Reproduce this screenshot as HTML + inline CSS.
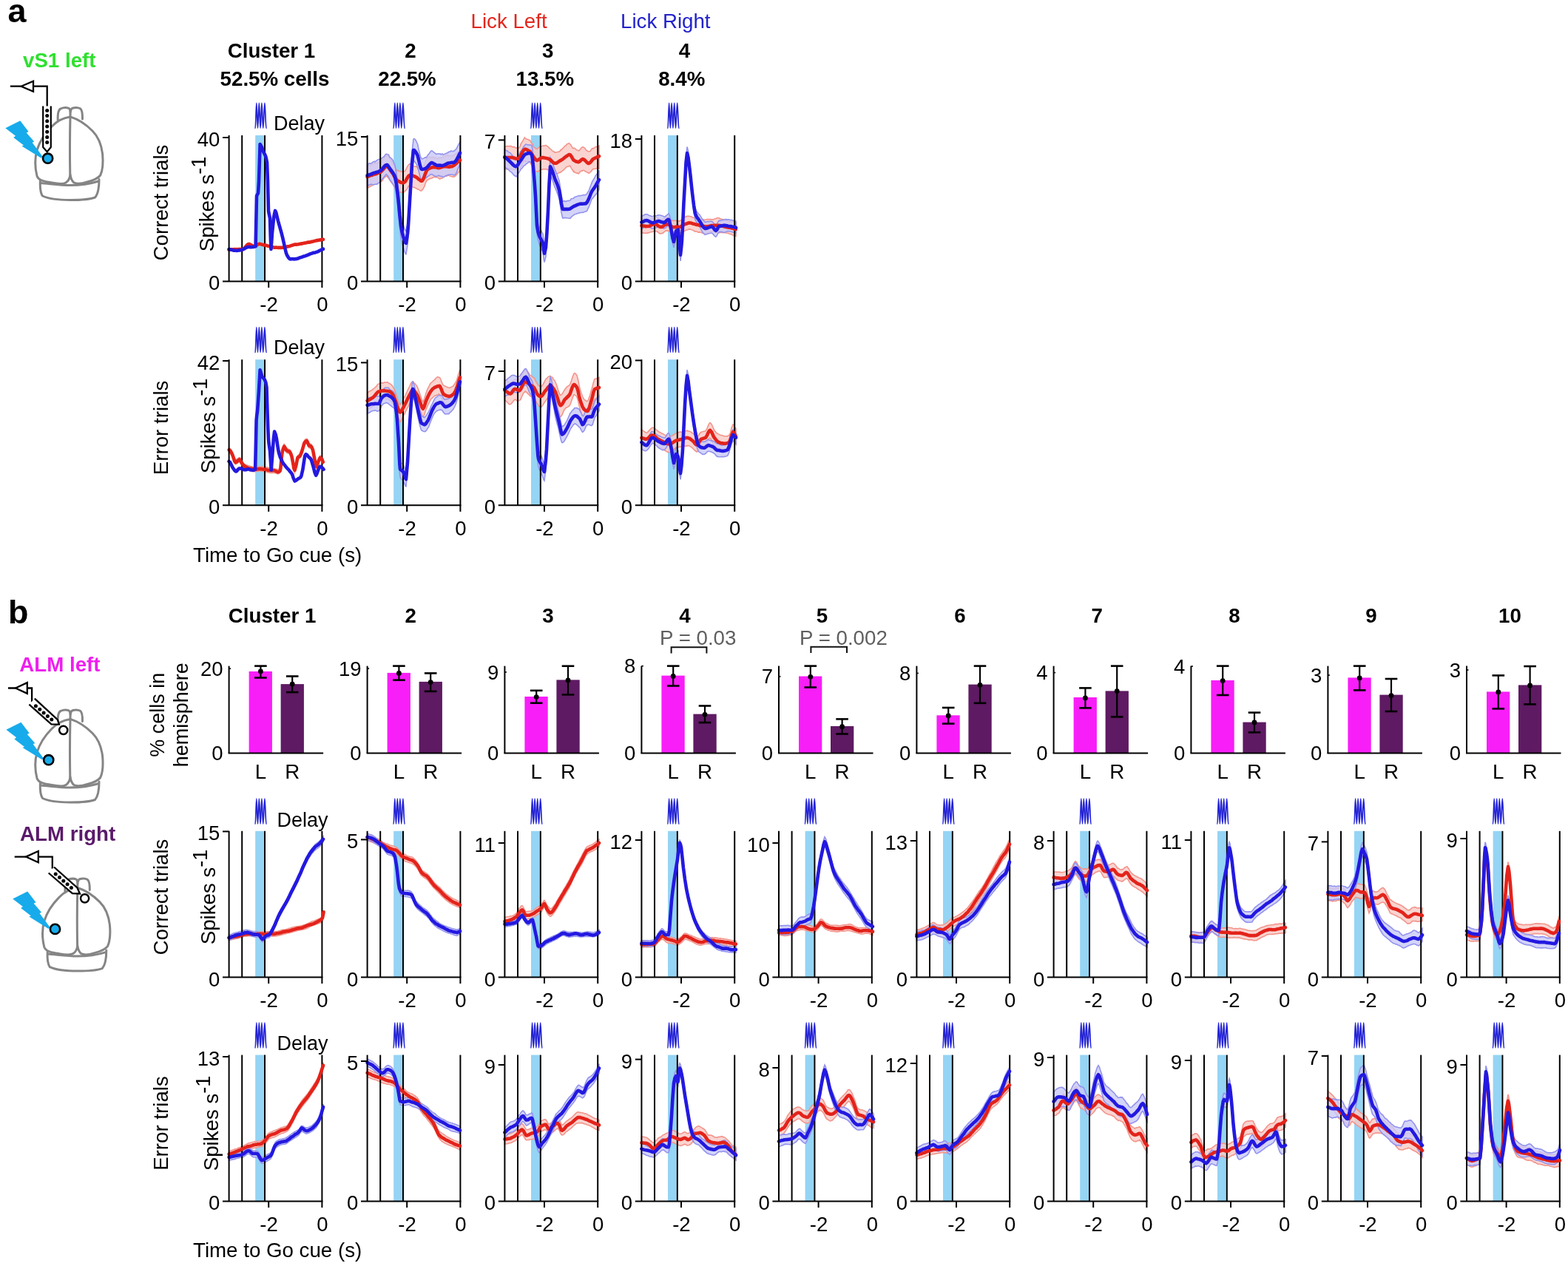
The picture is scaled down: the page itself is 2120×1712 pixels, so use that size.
<!DOCTYPE html>
<html><head><meta charset="utf-8"><title>Figure</title><style>html,body{margin:0;padding:0;background:#fff;}svg{display:block;}</style></head><body>
<svg width="2120" height="1712" viewBox="0 0 2120 1712" font-family='"Liberation Sans", Arial, Helvetica, sans-serif'>
<rect width="2120" height="1712" fill="#fff"/>
<text x="10.50" y="30.30" font-size="45" text-anchor="start" font-weight="bold" fill="#000" >a</text>
<text x="11.00" y="843.00" font-size="45" text-anchor="start" font-weight="bold" fill="#000" >b</text>
<text x="636.50" y="38.00" font-size="27.7" text-anchor="start" font-weight="normal" fill="#e2261c" >Lick Left</text>
<text x="839.00" y="38.00" font-size="27.7" text-anchor="start" font-weight="normal" fill="#2222cc" >Lick Right</text>
<text x="367.00" y="77.60" font-size="27.7" text-anchor="middle" font-weight="bold" fill="#000" >Cluster 1</text>
<text x="371.50" y="116.00" font-size="27.7" text-anchor="middle" font-weight="bold" fill="#000" >52.5% cells</text>
<text x="555.00" y="77.60" font-size="27.7" text-anchor="middle" font-weight="bold" fill="#000" >2</text>
<text x="550.50" y="116.00" font-size="27.7" text-anchor="middle" font-weight="bold" fill="#000" >22.5%</text>
<text x="740.60" y="77.60" font-size="27.7" text-anchor="middle" font-weight="bold" fill="#000" >3</text>
<text x="736.80" y="116.00" font-size="27.7" text-anchor="middle" font-weight="bold" fill="#000" >13.5%</text>
<text x="925.50" y="77.60" font-size="27.7" text-anchor="middle" font-weight="bold" fill="#000" >4</text>
<text x="921.70" y="116.00" font-size="27.7" text-anchor="middle" font-weight="bold" fill="#000" >8.4%</text>
<text x="368.10" y="842.00" font-size="27.7" text-anchor="middle" font-weight="bold" fill="#000" >Cluster 1</text>
<text x="555.10" y="842.00" font-size="27.7" text-anchor="middle" font-weight="bold" fill="#000" >2</text>
<text x="740.90" y="842.00" font-size="27.7" text-anchor="middle" font-weight="bold" fill="#000" >3</text>
<text x="925.90" y="842.00" font-size="27.7" text-anchor="middle" font-weight="bold" fill="#000" >4</text>
<text x="1111.50" y="842.00" font-size="27.7" text-anchor="middle" font-weight="bold" fill="#000" >5</text>
<text x="1297.90" y="842.00" font-size="27.7" text-anchor="middle" font-weight="bold" fill="#000" >6</text>
<text x="1483.10" y="842.00" font-size="27.7" text-anchor="middle" font-weight="bold" fill="#000" >7</text>
<text x="1668.90" y="842.00" font-size="27.7" text-anchor="middle" font-weight="bold" fill="#000" >8</text>
<text x="1853.90" y="842.00" font-size="27.7" text-anchor="middle" font-weight="bold" fill="#000" >9</text>
<text x="2041.50" y="842.00" font-size="27.7" text-anchor="middle" font-weight="bold" fill="#000" >10</text>
<text x="892.00" y="872.40" font-size="27.7" text-anchor="start" font-weight="normal" fill="#5f5f5f" >P = 0.03</text>
<path d="M907.6,883.4 L907.6,875.3 L955.4,875.3 L955.4,883.4" fill="none" stroke="#111" stroke-width="2"/>
<text x="1081.00" y="872.40" font-size="27.7" text-anchor="start" font-weight="normal" fill="#5f5f5f" >P = 0.002</text>
<path d="M1096.4,882.9 L1096.4,874.8 L1145.0,874.8 L1145.0,882.9" fill="none" stroke="#111" stroke-width="2"/>
<rect x="345.20" y="183.00" width="11.8" height="197.40" fill="#95d4f4"/>
<path d="M309.6,335.4 311.1,335.4 312.6,335.5 314.1,335.4 315.7,335.3 317.2,335.2 318.7,335.1 320.2,334.9 321.7,334.8 323.2,334.6 324.8,334.5 326.3,334.7 328,334.8 329.3,334.5 330.8,333 332.4,331.2 333.9,329.3 335.4,328.1 336,327.7 336.9,328 338.4,328.6 339.9,329.2 341.4,330 343,330.7 344,330.8 346,329.9 347.5,329.1 349,328.3 350,328 350.6,327.9 352.1,328.2 353.6,328.4 355.1,328.9 356,329.2 356.6,329.5 358.1,329.6 359.6,329.9 361.2,330.1 362.7,330.3 364,330.7 365.7,331.4 367.2,332 368.8,332.5 370.3,333 371.8,333.1 373.3,333.3 374,333.3 374.8,333.3 376.3,333.3 377.9,333.4 379.4,333.3 380.9,333.3 382,333.4 383.9,333.2 385.4,332.7 386.9,332.2 388.5,331.7 390,331.1 391.5,330.6 393,330.2 394.5,329.7 396.1,329.3 397.6,329.1 399.1,328.7 400,328.6 400.6,328.5 402.1,328.4 403.6,328.2 405.1,328.2 406.7,328 408.2,327.8 410,327.2 411.2,326.8 412.7,326.4 414.2,325.9 415.8,325.4 417.3,325.2 418.8,324.9 420,324.5 421.8,324.2 423.4,324.2 424.9,324 426.4,323.8 427.9,323.5 429.4,323.3 430,323.1 430.9,323 432.4,322.7 434,322.6 435.5,322.4 437,322.2 437,326.3 435.5,326.3 434,326.5 432.4,326.7 430.9,326.9 430,327.2 429.4,327.3 427.9,327.7 426.4,327.8 424.9,328.1 423.4,328.3 421.8,328.8 420,329.3 418.8,329.6 417.3,329.9 415.8,330 414.2,330.2 412.7,330.5 411.2,330.7 410,330.9 408.2,331.4 406.7,331.6 405.1,331.7 403.6,331.9 402.1,332.2 400.6,332.5 400,332.5 399.1,332.8 397.6,333 396.1,333.4 394.5,333.8 393,334.2 391.5,334.6 390,335 388.5,335.4 386.9,335.6 385.4,336.2 383.9,336.5 382,336.8 380.9,337 379.4,337.1 377.9,337 376.3,337.1 374.8,337 374,336.8 373.3,337 371.8,337 370.3,336.8 368.8,336.7 367.2,336.2 365.7,335.7 364,335.1 362.7,334.6 361.2,334 359.6,333.9 358.1,333.3 356.6,333 356,332.8 355.1,332.7 353.6,332.3 352.1,332.2 350.6,332.1 350,332.2 349,332.5 347.5,333.5 346,334.5 344,335.2 343,335.1 341.4,334.5 339.9,333.5 338.4,332.6 336.9,332.2 336,332.1 335.4,332.1 333.9,333.1 332.4,335 330.8,337 329.3,338.5 328,339.1 326.3,339.3 324.8,339.4 323.2,339.2 321.7,339.2 320.2,339.3 318.7,339.2 317.2,339.1 315.7,339.4 314.1,339.4 312.6,339.4 311.1,339.5 309.6,339.6Z" fill="#f9c9c4" fill-opacity="0.8"/>
<path d="M309.6,335.4 311.1,335.6 312.6,336 314.1,336.6 315.7,337 317.2,337.1 318,337.1 318.7,336.9 320.2,336.6 321.7,336.3 323.2,336 324.8,335.9 326.3,335.8 328,335.5 329.3,335 330.8,334.3 332.4,333.5 333.9,332.5 335.4,331.9 336,331.9 336.9,332 338.4,331.8 339.9,332 341.4,331.8 343,331.6 344,331.4 345.6,331 347,262.8 347.5,261.5 349,258.9 350,242.9 350.6,224.2 351.6,192.7 354,196.8 355.1,200.1 356,202.9 356.6,204.2 358.1,206.9 359,208.9 359.6,210.7 361,217 362,243.3 363,283.4 364.2,289.2 365,293.5 365.7,316.7 366.4,335.2 367.2,325.7 368,313 368.8,305.1 370.3,290.6 372,282.8 373.3,285.1 374.8,291.6 376,296.5 377.9,303.2 379.4,308.7 380.9,314.4 382,318.7 383.9,327.1 385.4,334.2 386.9,340.1 388,342.7 390,346.4 392,348 393,348 394.5,348.2 396.1,348.2 397.6,348 399.1,348.3 400,348.2 400.6,348 402.1,347.6 403.6,347.2 405.1,346.5 406.7,346 408.2,345.7 410,345.2 411.2,344.8 412.7,344.1 414.2,343.3 415.8,342.5 417.3,341.6 418.8,341.1 420,340.6 421.8,340.2 423.4,339.8 424.9,339.4 426.4,339.1 427.9,338.7 429.4,338.1 430,337.8 430.9,337.6 432.4,337 434,336.4 435.5,335.7 437,335.1 437,339 435.5,339.6 434,340.4 432.4,341.2 430.9,341.8 430,342.2 429.4,342.5 427.9,342.8 426.4,343 424.9,343.4 423.4,343.7 421.8,344.2 420,344.8 418.8,345.4 417.3,346.1 415.8,346.6 414.2,347.2 412.7,348 411.2,348.7 410,348.9 408.2,349.5 406.7,350.2 405.1,350.7 403.6,351.1 402.1,351.7 400.6,351.9 400,352 399.1,352.1 397.6,352.1 396.1,352 394.5,352.3 393,352.1 392,352 390,350.3 388,347.1 386.9,344.3 385.4,338.6 383.9,331.5 382,323.3 380.9,318.9 379.4,313.1 377.9,307.6 376,301.1 374.8,296.1 373.3,289.7 372,287.2 370.3,294.7 368.8,309.1 368,316.7 367.2,329.2 366.4,338.8 365.7,320.3 365,297.2 364.2,292.8 363,287 362,246.9 361,220.9 359.6,214.6 359,212.9 358.1,211 356.6,208.3 356,206.9 355.1,204.2 354,200.9 351.6,196.9 350.6,228.5 350,247.1 349,263 347.5,265.6 347,267.1 345.6,335 344,335.4 343,335.3 341.4,335.6 339.9,335.7 338.4,335.8 336.9,335.8 336,336.2 335.4,336.2 333.9,336.6 332.4,337.6 330.8,338.6 329.3,339.2 328,339.7 326.3,340 324.8,340.2 323.2,340.4 321.7,340.7 320.2,340.7 318.7,340.9 318,340.8 317.2,340.8 315.7,340.7 314.1,340.3 312.6,339.8 311.1,339.5 309.6,339Z" fill="#c9c9f7" fill-opacity="0.8"/>
<line x1="327.20" y1="183.00" x2="327.20" y2="380.40" stroke="#000" stroke-width="2.0" />
<line x1="358.00" y1="183.00" x2="358.00" y2="380.40" stroke="#000" stroke-width="2.0" />
<line x1="435.40" y1="183.00" x2="435.40" y2="389.00" stroke="#000" stroke-width="2.0" />
<path d="M309.6,337.6 311.1,337.4 312.6,337.4 314.1,337.2 315.7,337.4 317.2,337.1 318.7,337.2 320.2,337.1 321.7,337.2 323.2,337.1 324.8,337.1 326.3,337.1 328,337.1 329.3,336.6 330.8,335.2 332.4,333.4 333.9,331.4 335.4,330.3 336,330.1 336.9,330.1 338.4,330.7 339.9,331.5 341.4,332.3 343,333 344,333.1 346,332.4 347.5,331.4 349,330.2 350,330 350.6,329.8 352.1,330.1 353.6,330.6 355.1,330.9 356,331 356.6,331.4 358.1,331.5 359.6,331.8 361.2,332.3 362.7,332.7 364,332.9 365.7,333.5 367.2,333.9 368.8,334.2 370.3,334.6 371.8,334.8 373.3,334.6 374,334.7 374.8,334.8 376.3,334.9 377.9,334.9 379.4,334.9 380.9,334.9 382,334.8 383.9,334.5 385.4,334.4 386.9,334.1 388.5,333.4 390,333.2 391.5,332.9 393,332.4 394.5,331.8 396.1,331.4 397.6,330.8 399.1,330.6 400,330.6 400.6,330.7 402.1,330.5 403.6,330.3 405.1,329.9 406.7,329.6 408.2,329.4 410,329.1 411.2,328.8 412.7,328.5 414.2,328.2 415.8,327.8 417.3,327.6 418.8,327.6 420,327.3 421.8,326.7 423.4,326.4 424.9,326 426.4,325.6 427.9,325.1 429.4,325.1 430,324.8 430.9,324.7 432.4,324.4 434,324.4 435.5,323.9 437,323.8" fill="none" stroke="#e3231b" stroke-width="4.6" stroke-linejoin="round" stroke-linecap="round"/>
<path d="M309.6,337 311.1,337.3 312.6,337.7 314.1,338.1 315.7,338.6 317.2,338.7 318,338.8 318.7,338.8 320.2,339 321.7,338.8 323.2,338.4 324.8,338.4 326.3,338 328,337.4 329.3,336.8 330.8,336.2 332.4,335 333.9,334.4 335.4,334.1 336,334 336.9,333.9 338.4,334.1 339.9,334.2 341.4,334 343,333.9 344,333.6 345.6,333.2 347,265.2 347.5,263.8 349,261.2 350,245.3 350.6,226.7 351.6,195 354,199.1 355.1,202.2 356,205 356.6,206.1 358.1,208.9 359,211 359.6,213 361,219.4 362,245.6 363,285.6 364.2,291.2 365,295.2 365.7,318.3 366.4,337 367.2,327.3 368,314.9 368.8,307.2 370.3,292.7 372,284.9 373.3,287.5 374.8,293.9 376,298.8 377.9,305.6 379.4,310.8 380.9,316.3 382,320.7 383.9,329.1 385.4,336 386.9,342.2 388,345 390,348.3 392,350.3 393,350.4 394.5,350.1 396.1,350.3 397.6,350.4 399.1,350.3 400,350.1 400.6,350.1 402.1,349.7 403.6,349.3 405.1,348.4 406.7,348.1 408.2,347.6 410,346.8 411.2,346.5 412.7,346.2 414.2,345.5 415.8,345 417.3,344.3 418.8,343.6 420,343.1 421.8,342.6 423.4,341.9 424.9,341.7 426.4,341.4 427.9,340.9 429.4,340.4 430,340.2 430.9,339.6 432.4,338.8 434,338 435.5,337.2 437,336.7" fill="none" stroke="#2319e0" stroke-width="4.6" stroke-linejoin="round" stroke-linecap="round"/>
<line x1="309.60" y1="183.00" x2="309.60" y2="380.40" stroke="#000" stroke-width="2.0" />
<line x1="301.00" y1="380.40" x2="436.40" y2="380.40" stroke="#000" stroke-width="2.0" />
<line x1="301.00" y1="186.00" x2="309.60" y2="186.00" stroke="#000" stroke-width="2.0" />
<line x1="363.20" y1="380.40" x2="363.20" y2="389.00" stroke="#000" stroke-width="2.0" />
<text x="297.30" y="198.00" font-size="27.5" text-anchor="end" font-weight="normal" fill="#000" >40</text>
<text x="297.30" y="392.40" font-size="27.5" text-anchor="end" font-weight="normal" fill="#000" >0</text>
<text x="363.60" y="421.10" font-size="27.5" text-anchor="middle" font-weight="normal" fill="#000" >-2</text>
<text x="435.90" y="421.10" font-size="27.5" text-anchor="middle" font-weight="normal" fill="#000" >0</text>
<path d="M345.20,173.20 C345.76,173.20 346.24,139.40 346.80,139.40 C347.39,139.40 347.91,173.20 348.50,173.20 C349.13,173.20 349.67,139.40 350.30,139.40 C350.93,139.40 351.47,173.20 352.10,173.20 C352.73,173.20 353.27,139.40 353.90,139.40 C354.53,139.40 355.07,173.20 355.70,173.20 C356.47,173.20 357.13,139.40 357.90,139.40 C358.60,139.40 359.20,173.20 359.90,173.20" fill="none" stroke="#2424d6" stroke-width="1.7" stroke-linejoin="round" stroke-linecap="round"/>
<rect x="532.20" y="183.00" width="11.8" height="197.40" fill="#95d4f4"/>
<path d="M496.6,224.6 498.1,224.2 499.6,223.9 501.1,223.5 502.6,223.2 504.1,221.4 506,221.3 507.2,220.4 508.7,220.9 510.2,220.2 511.7,219.8 513.2,218.6 514,219.2 514.7,218.6 516.2,217.9 517.8,216.1 519.3,213.8 520.8,211.5 522.3,210.7 523,209.8 523.8,209.9 525.3,211.4 526.8,214.1 528.3,216.1 530,219.1 531.4,222.4 532.9,225.3 534.4,227 535.9,229.9 537.4,231 538,230.3 538.9,231.2 540.4,231.7 541.9,231.9 543.4,232.2 545,232.2 546,232.1 548,230.8 549.5,227.9 551,224.8 552.5,222.7 554,221.5 555.5,222.4 557,222.6 558.5,224 560.1,225.2 562,225.1 563.1,225.3 564.6,226.6 566.1,227.6 567.6,229.3 569.1,230.8 570,230.9 570.6,230.6 572.1,228.2 573.6,223.5 575.2,218.6 576.7,215.4 578,213.7 579.7,212.5 581.2,212.5 582.7,212.5 584.2,212.2 586,212.5 587.2,213.5 588.8,213.1 590.3,214 591.8,214.2 593.3,213.6 594,213.3 594.8,213.7 596.3,213.4 597.8,212.8 599.3,212.3 600.9,211.2 602,211 603.9,209.9 605.4,209.8 606.9,210.7 608.4,211.2 610,210.4 611.4,210.6 612.9,210.4 614.5,209 616,208.2 617.5,207.4 619,206.1 620.5,204.4 622,203.3 622,231.2 620.5,232.5 619,234.1 617.5,235.9 616,237.6 614.5,239 612.9,239.1 611.4,238.9 610,238.5 608.4,238.3 606.9,237.2 605.4,237.3 603.9,238.1 602,238.2 600.9,238.6 599.3,239.8 597.8,241 596.3,241.1 594.8,242.1 594,241.8 593.3,241.2 591.8,240.2 590.3,239.7 588.8,239.6 587.2,239.2 586,239.8 584.2,240.7 582.7,241.4 581.2,241.5 579.7,242.7 578,243.3 576.7,244.7 575.2,248 573.6,252.6 572.1,255.4 570.6,257.1 570,257.9 569.1,258.2 567.6,257.4 566.1,256.2 564.6,255.9 563.1,254.8 562,254.5 560.1,253.6 558.5,253 557,252.3 555.5,252.2 554,251.4 552.5,251.4 551,254.4 549.5,256.8 548,258.2 546,260.1 545,260.5 543.4,260.2 541.9,259.6 540.4,260.3 538.9,259.5 538,260 537.4,259.6 535.9,258.1 534.4,254.9 532.9,252.7 531.4,249.3 530,247.7 528.3,245.4 526.8,243.3 525.3,241 523.8,239.3 523,238 522.3,238.3 520.8,239.3 519.3,240.2 517.8,243 516.2,245 514.7,245.6 514,245.6 513.2,246.5 511.7,246.6 510.2,247.4 508.7,248.6 507.2,249.2 506,249.6 504.1,250 502.6,251.2 501.1,251.8 499.6,252.8 498.1,253.4 496.6,254.5Z" fill="#f9c9c4" fill-opacity="0.8" stroke="#f2958c" stroke-width="1.6"/>
<path d="M496.6,222.3 498.1,221.8 499.6,220.6 501.1,221.4 502.6,220.3 504.1,219.2 506,218.2 507.2,219 508.7,217.3 510.2,216.4 511.7,215.6 513.2,215.2 514,214.5 514.7,215.1 516.2,213.8 517.8,212.6 519.3,211.6 520.8,209.3 522.3,208.1 523,208.4 523.8,208.8 525.3,209 526.8,212.4 528,213.4 529.8,214.9 531.4,217.2 532.9,221.2 534,223.6 535.9,234.2 537.4,246.7 538,251.1 538.9,258.8 540.4,275.7 542,290 543.4,296.8 545,302.6 546.5,308.2 548,311.8 549,312.6 551,300.6 552,290.2 554,256.9 555,241.3 555.5,233 557,206.4 559,188.1 560.1,187.6 561.6,188.8 563.1,191.5 564,193.8 564.6,194.9 566.1,201.9 567.6,208.4 569.1,213.5 570,214.1 570.6,214.8 572.1,214.6 573.6,213.6 575.2,212.7 576,213.2 576.7,212.7 578.2,210 579.7,208.4 581.2,206.2 582.7,204.3 584,203.9 585.7,205.1 587.2,206.5 588.8,207.6 590,208.6 591.8,207.8 593.3,208 594.8,207.9 596.3,208.8 598,208 599.3,209.2 600.9,208.4 602.4,207.7 603.9,207.1 605.4,206.7 606,205.6 606.9,205.4 608.4,205.2 609.9,203.9 611.4,204.7 612.9,204.4 614,204.2 616,202.3 617.5,200.5 619,197.4 620.5,194.4 622,191.9 622,221.5 620.5,225.1 619,228.6 617.5,232.7 616,235.7 614,237.1 612.9,236.3 611.4,236.2 609.9,235.8 608.4,236.3 606.9,236.2 606,236.3 605.4,237.1 603.9,237.4 602.4,237.8 600.9,239 599.3,239.5 598,238.7 596.3,238.3 594.8,238.4 593.3,237.2 591.8,238 590,238.2 588.8,238.8 587.2,237.4 585.7,237 584,235.7 582.7,235.5 581.2,236.6 579.7,237.6 578.2,238.8 576.7,239.7 576,240.8 575.2,240.6 573.6,241.3 572.1,242.6 570.6,243.3 570,243.5 569.1,242.8 567.6,237.8 566.1,231.3 564.6,226.3 564,223.9 563.1,222.1 561.6,220.1 560.1,217.7 559,217.1 557,236.3 555.5,262.7 555,270.8 554,288.2 552,321.3 551,331.4 549,343.7 548,343 546.5,338.7 545,334.1 543.4,328.3 542,321 540.4,306.9 538.9,289.3 538,279.8 537.4,275.1 535.9,263.7 534,253.2 532.9,251.2 531.4,249.3 529.8,246.8 528,244.4 526.8,242.3 525.3,239.4 523.8,237 523,236.7 522.3,235.7 520.8,237.3 519.3,239.3 517.8,240.9 516.2,243 514.7,245.4 514,246.3 513.2,246.5 511.7,247.7 510.2,248.9 508.7,249.2 507.2,249.3 506,249.6 504.1,249.8 502.6,249.2 501.1,249.4 499.6,250.1 498.1,250.6 496.6,251.6Z" fill="#c9c9f7" fill-opacity="0.8" stroke="#9393ee" stroke-width="1.6"/>
<line x1="514.20" y1="183.00" x2="514.20" y2="380.40" stroke="#000" stroke-width="2.0" />
<line x1="545.00" y1="183.00" x2="545.00" y2="380.40" stroke="#000" stroke-width="2.0" />
<line x1="622.40" y1="183.00" x2="622.40" y2="389.00" stroke="#000" stroke-width="2.0" />
<path d="M496.6,239.2 498.1,238.5 499.6,237.9 501.1,237.3 502.6,237 504.1,236.4 506,235.8 507.2,235.6 508.7,235.1 510.2,234.4 511.7,233.9 513.2,233.2 514,232.9 514.7,232.5 516.2,231.1 517.8,229.4 519.3,227.7 520.8,226 522.3,224.9 523,225 523.8,225.1 525.3,226.4 526.8,228.6 528.3,231 530,233.2 531.4,235.2 532.9,238 534.4,240.6 535.9,242.6 537.4,244.5 538,244.9 538.9,245 540.4,245.9 541.9,246.7 543.4,247 545,247.1 546,247 548,245.4 549.5,242.6 551,240 552.5,237.9 554,236.9 555.5,237 557,237.3 558.5,237.7 560.1,238.3 562,239.2 563.1,239.8 564.6,241.1 566.1,242.4 567.6,243.5 569.1,244.6 570,244.8 570.6,244.6 572.1,242.6 573.6,238.8 575.2,234.4 576.7,230.8 578,229.2 579.7,228 581.2,227.4 582.7,226.9 584.2,226.3 586,226 587.2,226.1 588.8,226.3 590.3,226.6 591.8,226.9 593.3,227.1 594,226.9 594.8,226.8 596.3,226.2 597.8,225.7 599.3,225.2 600.9,225.1 602,225.2 603.9,225.3 605.4,225.5 606.9,225.6 608.4,225.4 610,225.2 611.4,225 612.9,224.1 614.5,223 616,221.7 617.5,220.4 619,219 620.5,217.7 622,216.6" fill="none" stroke="#e3231b" stroke-width="4.6" stroke-linejoin="round" stroke-linecap="round"/>
<path d="M496.6,237.2 498.1,236.8 499.6,236.1 501.1,235.7 502.6,235.2 504.1,234.4 506,233.8 507.2,233.6 508.7,232.9 510.2,232.6 511.7,232.2 513.2,231.3 514,230.8 514.7,230.6 516.2,229 517.8,227.3 519.3,225.4 520.8,223.9 522.3,223.1 523,222.9 523.8,223.2 525.3,225.1 526.8,227.6 528,229.2 529.8,231.7 531.4,233.9 532.9,236.4 534,239.1 535.9,248.8 537.4,260.3 538,265.2 538.9,273.8 540.4,290.7 542,305.1 543.4,313.1 545,319.1 546.5,324.1 548,328 549,328.9 551,316 552,305 554,271.9 555,255 555.5,246.9 557,221.3 559,203 560.1,203.1 561.6,204.9 563.1,207.3 564,208.9 564.6,210.2 566.1,216.1 567.6,222.7 569.1,227.7 570,228.7 570.6,228.9 572.1,228.7 573.6,228.4 575.2,227.9 576,227.3 576.7,226.8 578.2,225.3 579.7,223.5 581.2,221.9 582.7,220.5 584,220 585.7,220.8 587.2,221.8 588.8,222.6 590,223.4 591.8,223.8 593.3,223.6 594.8,223.5 596.3,223.8 598,224 599.3,223.6 600.9,223.1 602.4,222.4 603.9,221.5 605.4,220.8 606,220.6 606.9,220.5 608.4,220.3 609.9,220 611.4,219.7 612.9,219.7 614,219.6 616,218 617.5,215.6 619,212.8 620.5,209.7 622,206.9" fill="none" stroke="#2319e0" stroke-width="4.6" stroke-linejoin="round" stroke-linecap="round"/>
<line x1="496.60" y1="183.00" x2="496.60" y2="380.40" stroke="#000" stroke-width="2.0" />
<line x1="488.00" y1="380.40" x2="623.40" y2="380.40" stroke="#000" stroke-width="2.0" />
<line x1="488.00" y1="185.00" x2="496.60" y2="185.00" stroke="#000" stroke-width="2.0" />
<line x1="550.20" y1="380.40" x2="550.20" y2="389.00" stroke="#000" stroke-width="2.0" />
<text x="484.30" y="197.00" font-size="27.5" text-anchor="end" font-weight="normal" fill="#000" >15</text>
<text x="484.30" y="392.40" font-size="27.5" text-anchor="end" font-weight="normal" fill="#000" >0</text>
<text x="550.60" y="421.10" font-size="27.5" text-anchor="middle" font-weight="normal" fill="#000" >-2</text>
<text x="622.90" y="421.10" font-size="27.5" text-anchor="middle" font-weight="normal" fill="#000" >0</text>
<path d="M532.20,173.20 C532.76,173.20 533.24,139.40 533.80,139.40 C534.40,139.40 534.90,173.20 535.50,173.20 C536.13,173.20 536.67,139.40 537.30,139.40 C537.93,139.40 538.47,173.20 539.10,173.20 C539.73,173.20 540.27,139.40 540.90,139.40 C541.53,139.40 542.07,173.20 542.70,173.20 C543.47,173.20 544.13,139.40 544.90,139.40 C545.60,139.40 546.20,173.20 546.90,173.20" fill="none" stroke="#2424d6" stroke-width="1.7" stroke-linejoin="round" stroke-linecap="round"/>
<rect x="718.00" y="183.00" width="11.8" height="197.40" fill="#95d4f4"/>
<path d="M682.4,198.9 683.9,197.9 685.4,197.5 686.9,197.8 688.4,197.7 689.9,197.4 691.4,197.7 692,198.1 692.9,199 694.4,198.4 695.9,198.9 697.4,200.1 698.9,200 700,200.2 701.9,200 703.4,196.9 704.9,193.5 706.4,191.2 707.9,188.6 709.4,186 710,186.8 710.9,187.5 712.4,188.2 713.9,188.6 715.4,189.7 716,189.5 716.9,190.3 718.4,192.8 719.9,195 721.4,198.2 722,199.4 722.9,199.7 724.4,200.7 726,201.6 727.4,200.6 728.9,199 730.4,198.4 731.9,198.1 733.4,197.4 734,197 734.9,197.2 736.4,196.9 737.9,196.3 739.4,197.4 741,198.5 742,199.4 744,201.3 745.5,202.5 747,204.2 748.5,205 750,205.9 751.5,206.1 753,205.7 754.5,205.2 756,205.1 757.5,203.9 758,202.4 759,202.7 760.5,200.9 762,199.6 763.5,197.4 765,197.1 766,195.4 768,194.2 769.5,193.7 770,194.4 771,195.1 772.5,197.2 774,199.8 775.5,200.7 776,200.3 777,200.3 778.5,202 780,203 781.5,203.2 782,203.9 783,203.7 784.5,201.8 786,199.9 787.5,199 788,198.7 789,199.2 790.5,200.1 792,202.4 793.5,203.8 795,204.5 796,204.9 798,204.6 799.5,201.9 801,200.6 802,200.8 804,199.6 805.5,198.3 807,198.5 808.5,198.2 810,197.2 810,228 808.5,227.8 807,227.6 805.5,228.2 804,228.3 802,228.6 801,229.4 799.5,231.4 798,232.8 796,234.4 795,233.7 793.5,232.6 792,232.2 790.5,231.1 789,230.1 788,230.4 787.5,231.1 786,231.1 784.5,232 783,233.9 782,234.9 781.5,234 780,234.1 778.5,233.7 777,233.2 776,231.7 775.5,232.3 774,229.8 772.5,227.6 771,224.4 770,224.6 769.5,224.4 768,225.2 766,225.5 765,226.9 763.5,228.2 762,230 760.5,230.8 759,232.2 758,233.1 757.5,232.9 756,233.5 754.5,234.4 753,235 751.5,235.3 750,235.8 748.5,235 747,234.6 745.5,233.6 744,231.6 742,229.8 741,229.8 739.4,229.2 737.9,228.6 736.4,229 734.9,228.8 734,228.8 733.4,229.1 731.9,229.3 730.4,229.9 728.9,231 727.4,232.1 726,231.7 724.4,232 722.9,230.7 722,230.1 721.4,228.9 719.9,226.2 718.4,222.7 716.9,220 716,218.7 715.4,218.8 713.9,218.6 712.4,218.9 710.9,217.9 710,218.4 709.4,217.6 707.9,218.4 706.4,220.5 704.9,224.7 703.4,226.3 701.9,228.4 700,229.5 698.9,229.7 697.4,228.9 695.9,228.8 694.4,229.5 692.9,229.2 692,228.5 691.4,228.6 689.9,228.6 688.4,227.6 686.9,228.2 685.4,228.7 683.9,228.6 682.4,228.9Z" fill="#f9c9c4" fill-opacity="0.8" stroke="#f2958c" stroke-width="1.6"/>
<path d="M682.4,202 683.9,203.2 685.4,203.8 686.9,205.2 688.4,206.1 690,206.8 691.4,208.4 692.9,210.2 694.4,211.7 695.9,212.8 697.4,214.4 698,213.5 698.9,212.7 700.4,211.2 701.9,208.1 703.4,205 704,205.2 704.9,204.2 706.4,200.8 707.9,198.6 709.4,196.8 710,195.8 710.9,195.1 712.4,195.5 713.9,195.9 715.4,196 716,196 716.9,196.1 718.4,196.5 719,196.8 719.9,201.4 721,212.4 722.9,236.5 724,253.1 726,292.8 727.4,301.8 728.9,306.3 730,308.6 731.9,312.1 733.4,315.5 734,316.4 734.9,324.1 736,331.6 738,323.6 739.4,303.2 741,272.9 742.5,237.1 744,212.9 745.5,215.3 746,217.5 747,219.5 748.5,224.9 750,228.7 751.5,232.3 753,235.6 754.5,240.1 756,244.3 757.5,253.3 759,264.2 760.5,271.5 761,272.2 762,271.8 763.5,271.9 765,272.5 766.5,271.7 768,271.3 769.5,271.6 771,270.6 772.5,268.8 774,268.5 775.5,268.2 776,267.3 777,266.4 778.5,266.1 780,265.6 781.5,264.9 783,264.6 784,264.6 786,264.5 787.5,263.9 789,263.5 790.5,263.6 792,263.4 793.5,262 795,259.7 796,258.2 798,252.8 799.5,249.1 800,247.3 801,245.1 802.5,242.6 804,240.2 805.5,237.2 807,235.4 808.5,233.2 810,230.3 810,256.4 808.5,259 807,261.5 805.5,262.9 804,264.8 802.5,266.7 801,268.4 800,269.4 799.5,270.8 798,275 796,280.2 795,282.1 793.5,285.2 792,286.3 790.5,286.2 789,287.2 787.5,287.4 786,287.3 784,287.7 783,288.1 781.5,288.2 780,289.1 778.5,289.5 777,289.8 776,290.8 775.5,290.9 774,292 772.5,293.4 771,295.4 769.5,295.2 768,295 766.5,294.8 765,294.6 763.5,294.6 762,294.5 761,295.1 760.5,294.2 759,287.7 757.5,276.9 756,269.2 754.5,264.2 753,259.9 751.5,256.1 750,252.6 748.5,248.2 747,243.3 746,241.5 745.5,239.7 744,237.1 742.5,261.6 741,296.9 739.4,327.2 738,346.8 736,354.6 734.9,348.3 734,341.2 733.4,339.5 731.9,337 730,332.7 728.9,329 727.4,323.9 726,315.8 724,276.1 722.9,260.5 721,237.2 719.9,226.9 719,221.3 718.4,220.1 716.9,218.8 716,218.6 715.4,218.8 713.9,220.1 712.4,221.1 710.9,222.2 710,223.3 709.4,223.4 707.9,224.6 706.4,226.8 704.9,228.4 704,229 703.4,230.2 701.9,233 700.4,235.4 698.9,237.9 698,238.8 697.4,238.3 695.9,237.7 694.4,236.4 692.9,234.5 691.4,232.9 690,232.1 688.4,230.5 686.9,229 685.4,228.3 683.9,227 682.4,225.3Z" fill="#c9c9f7" fill-opacity="0.8" stroke="#9393ee" stroke-width="1.6"/>
<line x1="700.00" y1="183.00" x2="700.00" y2="380.40" stroke="#000" stroke-width="2.0" />
<line x1="730.80" y1="183.00" x2="730.80" y2="380.40" stroke="#000" stroke-width="2.0" />
<line x1="808.20" y1="183.00" x2="808.20" y2="389.00" stroke="#000" stroke-width="2.0" />
<path d="M682.4,213.3 683.9,213.2 685.4,213 686.9,213.1 688.4,213.1 689.9,213 691.4,212.9 692,213.1 692.9,213.1 694.4,213.5 695.9,214 697.4,214.5 698.9,214.7 700,214.5 701.9,213.2 703.4,211 704.9,208.5 706.4,205.5 707.9,203.3 709.4,201.7 710,201.9 710.9,201.9 712.4,202.4 713.9,203.3 715.4,204.3 716,204.5 716.9,205.3 718.4,207.5 719.9,209.8 721.4,212.2 722,212.9 722.9,214.1 724.4,216 726,216.9 727.4,216.4 728.9,215.5 730.4,214.4 731.9,213.4 733.4,213 734,213 734.9,213.2 736.4,213.5 737.9,213.7 739.4,214.1 741,214.5 742,214.9 744,216 745.5,217.5 747,219 748.5,220.3 750,220.8 751.5,220.7 753,220.2 754.5,219.2 756,218.2 757.5,217.1 758,217 759,216.3 760.5,215.5 762,214.3 763.5,213 765,211.9 766,211.2 768,209.9 769.5,209 770,209.1 771,209.4 772.5,211.5 774,214.1 775.5,216.6 776,216.7 777,217.4 778.5,218.3 780,218.8 781.5,218.9 782,219.2 783,218.8 784.5,217.6 786,216.1 787.5,215.2 788,215.1 789,215.5 790.5,216.5 792,217.9 793.5,219.6 795,220.7 796,221 798,219.7 799.5,218 801,216 802,215 804,213.9 805.5,213.3 807,212.6 808.5,211.7 810,211.2" fill="none" stroke="#e3231b" stroke-width="4.6" stroke-linejoin="round" stroke-linecap="round"/>
<path d="M682.4,212.3 683.9,213.5 685.4,214.6 686.9,216.1 688.4,217.5 690,218.9 691.4,220.5 692.9,222 694.4,223.5 695.9,224.6 697.4,225.2 698,224.9 698.9,224.5 700.4,222.5 701.9,220.1 703.4,217.7 704,217 704.9,215.9 706.4,213.4 707.9,211.1 709.4,209.2 710,208.9 710.9,208.3 712.4,207.9 713.9,207.1 715.4,207.1 716,206.9 716.9,207.4 718.4,208.5 719,209.5 719.9,214.4 721,225.4 722.9,249.1 724,265.1 726,305 727.4,313.4 728.9,318.1 730,320.7 731.9,324.6 733.4,327.3 734,328.6 734.9,335.9 736,342.7 738,334.4 739.4,315.4 741,285 742.5,249.5 744,225.2 745.5,228 746,229.4 747,231.6 748.5,236.4 750,241 751.5,244.8 753,248.2 754.5,252.3 756,257.1 757.5,265 759,275.4 760.5,282.3 761,283 762,282.9 763.5,282.8 765,282.9 766.5,282.9 768,282.9 769.5,282.8 771,282.1 772.5,281.1 774,280.1 775.5,279.2 776,278.8 777,278.6 778.5,277.9 780,277.2 781.5,276.5 783,276.1 784,275.8 786,275.5 787.5,275.7 789,275.5 790.5,275.4 792,275.2 793.5,273.8 795,271.1 796,269 798,264 799.5,260 800,259.2 801,257.5 802.5,255.4 804,253.3 805.5,250.9 807,248.1 808.5,245.5 810,243.1" fill="none" stroke="#2319e0" stroke-width="4.6" stroke-linejoin="round" stroke-linecap="round"/>
<line x1="682.40" y1="183.00" x2="682.40" y2="380.40" stroke="#000" stroke-width="2.0" />
<line x1="673.80" y1="380.40" x2="809.20" y2="380.40" stroke="#000" stroke-width="2.0" />
<line x1="673.80" y1="189.40" x2="682.40" y2="189.40" stroke="#000" stroke-width="2.0" />
<line x1="736.00" y1="380.40" x2="736.00" y2="389.00" stroke="#000" stroke-width="2.0" />
<text x="670.10" y="201.40" font-size="27.5" text-anchor="end" font-weight="normal" fill="#000" >7</text>
<text x="670.10" y="392.40" font-size="27.5" text-anchor="end" font-weight="normal" fill="#000" >0</text>
<text x="736.40" y="421.10" font-size="27.5" text-anchor="middle" font-weight="normal" fill="#000" >-2</text>
<text x="808.70" y="421.10" font-size="27.5" text-anchor="middle" font-weight="normal" fill="#000" >0</text>
<path d="M718.00,173.20 C718.56,173.20 719.04,139.40 719.60,139.40 C720.20,139.40 720.70,173.20 721.30,173.20 C721.93,173.20 722.47,139.40 723.10,139.40 C723.73,139.40 724.27,173.20 724.90,173.20 C725.53,173.20 726.07,139.40 726.70,139.40 C727.33,139.40 727.87,173.20 728.50,173.20 C729.27,173.20 729.93,139.40 730.70,139.40 C731.40,139.40 732.00,173.20 732.70,173.20" fill="none" stroke="#2424d6" stroke-width="1.7" stroke-linejoin="round" stroke-linecap="round"/>
<rect x="903.00" y="183.00" width="11.8" height="197.40" fill="#95d4f4"/>
<path d="M867.4,295.6 868.9,295.7 870.4,295.6 871.9,296.3 873.4,296.8 874.9,296.8 876,297.3 877.9,297.8 879.4,297.2 880.9,296.2 882.4,295.4 883.9,294.8 885.4,294.1 886,293.4 886.9,293.2 888.4,294.4 889.9,294.9 891.4,296.2 892.9,297.1 894,297.6 895.9,296.7 897.4,296 898.9,294.6 900.4,294.2 902,294.2 903.4,295.1 904.9,295.6 906.4,297.3 907.9,297.9 909.4,298.5 910,298.3 910.9,298.4 912.4,298.2 913.9,298.6 915.4,298.4 916.9,298.7 918,299.3 919.9,298.2 921.4,297.2 922.9,295.9 924.4,294.6 926,293.1 927.5,293.1 929,292.3 930.5,292.4 932,292.3 933.5,292.9 935,293 936.5,294.2 938,294.2 939.5,294.9 941,295.4 942.5,295.9 944,295.9 945.5,296.3 946,296 947,296.3 948.5,296.6 950,296.8 951.5,297 953,297.2 954,297 956,296.5 957.5,296.5 959,296.6 960.5,296.5 962,296.7 963.5,296.9 965,296.6 966.5,296 968,295.5 969.5,294.8 970,294.7 971,294.5 972.5,295 974,295.7 975.5,296.3 977,296.7 978,297 980,297.5 981.5,298.1 983,298.4 984.5,299.2 986,299.4 987.5,299.7 989,299.7 990.5,300.3 992,300.1 993.5,300.9 995,301.3 995,319.3 993.5,318.7 992,318.7 990.5,317.8 989,317.1 987.5,316.6 986,316.2 984.5,315.4 983,315.3 981.5,315 980,314.6 978,314.4 977,314.7 975.5,314.3 974,314.5 972.5,314.9 971,314.7 970,314.6 969.5,314.5 968,314.2 966.5,313.9 965,313.6 963.5,313 962,313.3 960.5,313.1 959,313.6 957.5,314.7 956,315.5 954,316 953,316.3 951.5,315.8 950,315.1 948.5,314.8 947,314.2 946,313.7 945.5,314.1 944,314.1 942.5,313.3 941,313.2 939.5,312.9 938,312 936.5,311 935,310.7 933.5,310.1 932,309.9 930.5,310.3 929,311.1 927.5,311.3 926,312.1 924.4,313 922.9,313.6 921.4,314.3 919.9,315.3 918,315.7 916.9,315.8 915.4,316.1 913.9,316.7 912.4,316.8 910.9,316.6 910,316.5 909.4,316.1 907.9,315.5 906.4,314.3 904.9,312.9 903.4,311.9 902,312.1 900.4,311.9 898.9,312.8 897.4,314.4 895.9,315.4 894,315.8 892.9,316.1 891.4,315.6 889.9,314.1 888.4,313.1 886.9,312.8 886,312.5 885.4,312.6 883.9,312.8 882.4,313.5 880.9,313.6 879.4,314 877.9,314.5 876,315.1 874.9,315 873.4,315.4 871.9,315.2 870.4,315.1 868.9,314.8 867.4,315Z" fill="#f9c9c4" fill-opacity="0.8" stroke="#f2958c" stroke-width="1.6"/>
<path d="M867.4,292.4 868.9,291.7 870.4,291 871.9,290 873.4,289.9 874,289.7 874.9,289.8 876.4,290.6 877.9,291.5 879.4,291.7 880.9,292.4 882,292.7 883.9,292.1 885.4,292.1 886.9,291.9 888.4,291.2 890,290.9 891.4,291 892.9,291 894.4,291.6 895.9,292.1 897.4,292.6 898,293.1 898.9,293 900.4,292 901.9,290.6 903.4,289.4 904,288.8 904.9,290 906.4,296.5 908,304.5 909.4,312.7 911,318.6 912.4,313.1 914,305.4 915.4,303.9 917,303.6 918.4,319.6 920,337.4 921.4,324.3 922,316.6 922.9,300.2 924.4,267.3 925,256.5 926,239 927.5,212 929,198.5 930.5,204.3 932,216.3 933.5,229.2 935,243.5 936,253.1 938,269.7 939.5,279.5 940,281.5 941,283.9 942.5,286.8 944,288.5 945.5,290.2 946,290.5 947,292.2 948.5,294.6 950,296.9 951.5,298.6 953,300.3 954,300.4 956,299.5 957.5,299.6 959,299.5 960.5,299.3 962,299.4 963.5,300.2 965,302 966.5,303.5 968,304.2 969.5,302.2 971,299.7 972,298.4 974,298.4 975.5,297.7 977,297.8 978.5,297.1 980,296.9 981.5,296.5 982,297.1 983,296.7 984.5,296.9 986,296.9 987.5,297.6 989,297.3 990,297.9 992,298.4 993.5,299.2 995,299.2 995,315.2 993.5,315 992,314.6 990,313.6 989,313.5 987.5,313.3 986,312.8 984.5,312.5 983,312.9 982,313.3 981.5,313.8 980,314.3 978.5,314.2 977,313.9 975.5,313.4 974,313.5 972,313.7 971,315 969.5,318.2 968,320.3 966.5,319.5 965,317.7 963.5,315.9 962,315.1 960.5,315.2 959,315.8 957.5,316 956,316.6 954,317.3 953,317.4 951.5,315.7 950,314.2 948.5,311.7 947,308.7 946,306.6 945.5,306 944,303.8 942.5,301.5 941,299 940,297.2 939.5,295.3 938,285.9 936,269.7 935,260.3 933.5,245.6 932,233.6 930.5,221.3 929,215.2 927.5,228.7 926,256 925,273.6 924.4,284.3 922.9,317.4 922,333.3 921.4,340.9 920,352.9 918.4,334.4 917,318.9 915.4,319.5 914,320.9 912.4,328.6 911,334.8 909.4,328.8 908,320.5 906.4,312.4 904.9,305.9 904,305 903.4,305.2 901.9,306.1 900.4,307.7 898.9,308.7 898,309 897.4,308.9 895.9,308.8 894.4,308 892.9,308.1 891.4,307.3 890,306.8 888.4,307.4 886.9,308 885.4,307.9 883.9,308.8 882,309.3 880.9,308.5 879.4,307.9 877.9,307.6 876.4,306.4 874.9,305.9 874,306.4 873.4,306.5 871.9,306.6 870.4,307.8 868.9,308.7 867.4,309.3Z" fill="#c9c9f7" fill-opacity="0.8" stroke="#9393ee" stroke-width="1.6"/>
<line x1="885.00" y1="183.00" x2="885.00" y2="380.40" stroke="#000" stroke-width="2.0" />
<line x1="915.80" y1="183.00" x2="915.80" y2="380.40" stroke="#000" stroke-width="2.0" />
<line x1="993.20" y1="183.00" x2="993.20" y2="389.00" stroke="#000" stroke-width="2.0" />
<path d="M867.4,305.1 868.9,305.4 870.4,305.5 871.9,305.9 873.4,306.1 874.9,306 876,306 877.9,305.7 879.4,304.9 880.9,304.1 882.4,303.6 883.9,303.1 885.4,302.9 886,303.1 886.9,303.4 888.4,304.3 889.9,305.4 891.4,306.3 892.9,306.9 894,307 895.9,306.4 897.4,305.2 898.9,304.2 900.4,303.6 902,303 903.4,303.2 904.9,304 906.4,305.4 907.9,306.4 909.4,307 910,307.1 910.9,307.2 912.4,307 913.9,306.7 915.4,306.8 916.9,307 918,307.2 919.9,306.7 921.4,305.9 922.9,305.1 924.4,304.1 926,303.1 927.5,302.7 929,302.2 930.5,301.6 932,301.4 933.5,301.5 935,301.8 936.5,302.4 938,302.9 939.5,303 941,303.7 942.5,304 944,304.1 945.5,304.6 946,304.9 947,304.7 948.5,305.2 950,305.7 951.5,305.9 953,306.3 954,306.6 956,306.3 957.5,306.1 959,305.8 960.5,305.4 962,305 963.5,305.1 965,305 966.5,304.7 968,304.9 969.5,305 970,304.8 971,304.7 972.5,304.9 974,305 975.5,305.4 977,305.5 978,306 980,306.7 981.5,306.9 983,307.2 984.5,307.6 986,307.8 987.5,308.1 989,308.4 990.5,308.7 992,309.3 993.5,309.7 995,309.9" fill="none" stroke="#e3231b" stroke-width="4.6" stroke-linejoin="round" stroke-linecap="round"/>
<path d="M867.4,300.6 868.9,300.1 870.4,299.3 871.9,298.5 873.4,298.1 874,298.2 874.9,298.1 876.4,298.6 877.9,299.7 879.4,300.4 880.9,300.9 882,301.3 883.9,301.1 885.4,300.3 886.9,299.9 888.4,299.5 890,299.1 891.4,299.1 892.9,299.7 894.4,300.2 895.9,300.5 897.4,300.9 898,300.9 898.9,300.5 900.4,299.1 901.9,297.6 903.4,296.7 904,296.9 904.9,298.3 906.4,305.2 908,313.4 909.4,321.5 911,327 912.4,320.9 914,313 915.4,311.3 917,310.7 918.4,326.8 920,344.8 921.4,332.1 922,324.7 922.9,308.1 924.4,275.4 925,265 926,247.4 927.5,220 929,207.1 930.5,213 932,224.9 933.5,237.4 935,252.1 936,261 938,277.3 939.5,286.9 940,288.9 941,291.3 942.5,294.2 944,296 945.5,298.2 946,299 947,300.5 948.5,303.2 950,305.7 951.5,307.6 953,308.8 954,309.1 956,308.6 957.5,307.9 959,307.4 960.5,306.8 962,306.4 963.5,307.1 965,308.9 966.5,310.8 968,311.9 969.5,310.4 971,307.3 972,306.3 974,305.7 975.5,305.2 977,305.1 978.5,304.9 980,304.8 981.5,305 982,305.3 983,305.3 984.5,305.7 986,306 987.5,306.1 989,306.3 990,306.5 992,306.8 993.5,307.4 995,308" fill="none" stroke="#2319e0" stroke-width="4.6" stroke-linejoin="round" stroke-linecap="round"/>
<line x1="867.40" y1="183.00" x2="867.40" y2="380.40" stroke="#000" stroke-width="2.0" />
<line x1="858.80" y1="380.40" x2="994.20" y2="380.40" stroke="#000" stroke-width="2.0" />
<line x1="858.80" y1="188.00" x2="867.40" y2="188.00" stroke="#000" stroke-width="2.0" />
<line x1="921.00" y1="380.40" x2="921.00" y2="389.00" stroke="#000" stroke-width="2.0" />
<text x="855.10" y="200.00" font-size="27.5" text-anchor="end" font-weight="normal" fill="#000" >18</text>
<text x="855.10" y="392.40" font-size="27.5" text-anchor="end" font-weight="normal" fill="#000" >0</text>
<text x="921.40" y="421.10" font-size="27.5" text-anchor="middle" font-weight="normal" fill="#000" >-2</text>
<text x="993.70" y="421.10" font-size="27.5" text-anchor="middle" font-weight="normal" fill="#000" >0</text>
<path d="M903.00,173.20 C903.56,173.20 904.04,139.40 904.60,139.40 C905.20,139.40 905.70,173.20 906.30,173.20 C906.93,173.20 907.47,139.40 908.10,139.40 C908.73,139.40 909.27,173.20 909.90,173.20 C910.53,173.20 911.07,139.40 911.70,139.40 C912.33,139.40 912.87,173.20 913.50,173.20 C914.27,173.20 914.93,139.40 915.70,139.40 C916.40,139.40 917.00,173.20 917.70,173.20" fill="none" stroke="#2424d6" stroke-width="1.7" stroke-linejoin="round" stroke-linecap="round"/>
<rect x="345.20" y="486.20" width="11.8" height="197.10" fill="#95d4f4"/>
<path d="M309.6,605.6 311.6,607 312.6,608.7 314.4,612.6 315.7,616 317.2,620.1 318.5,621.9 320.2,621 321.7,619.9 323.2,618.8 323.9,618.6 324.7,619.1 326.3,622.3 327.4,624.2 329.3,626.5 330.8,627.8 332.3,628.5 333.8,629 335.3,629.6 336.9,629.9 337.6,630.1 338.4,630.4 339.9,630.9 341.4,631.2 342.9,631.6 344.5,632 345.9,632 347.5,631.5 349,631.4 350.5,631.1 351.3,630.8 352,631 353.5,631.1 355,631.1 356.5,631.3 358.1,631.5 359.6,631.7 361.1,632.1 362.6,632.4 364.1,632.6 365,632.8 365.6,632.8 367.1,633.2 368.7,633.3 370.2,633.6 371.8,634 373.2,634.3 374.7,634.8 375.9,635 377.7,634 378.7,633 379.3,630.5 380.8,614.6 381.4,609.8 382.3,605.6 384.1,600.6 385.3,602.1 386.9,605.4 388.3,606.5 388.9,606.7 389.9,607.2 391.7,607.8 392.9,609.6 394.4,614 395.9,621.9 397.4,630.7 398.5,633.4 400.5,626 402,617.8 402.6,616.1 403.5,615.4 405.3,614.1 406.5,611.9 408.1,608 409.5,602.9 411.1,597.2 412.2,594.5 414.1,593.3 414.9,593.3 415.6,594.4 417.6,599.5 418.6,599.8 420.4,600.4 421.7,601.9 423.1,605.7 424.7,614.2 425.9,621 427.9,627.7 429.2,624.7 430,622.3 430.7,620.2 432.7,616.2 433.8,616.4 435.4,618 436.8,621.3 436.8,627.4 435.4,623.8 433.8,622.1 432.7,621.8 430.7,626.1 430,627.9 429.2,630.4 427.9,633.7 425.9,627 424.7,619.9 423.1,611.7 421.7,608 420.4,606.3 418.6,605.8 417.6,605.8 415.6,600.7 414.9,599.8 414.1,600 412.2,601 411.1,603.2 409.5,608.7 408.1,613.6 406.5,617.4 405.3,619.5 403.5,621 402.6,621.8 402,623.5 400.5,631.8 398.5,639.3 397.4,636.6 395.9,627.9 394.4,620.1 392.9,615.6 391.7,613.7 389.9,613.1 388.9,612.9 388.3,612.6 386.9,611.7 385.3,608.6 384.1,607.1 382.3,611.7 381.4,616 380.8,620.7 379.3,636.5 378.7,639 377.7,640.2 375.9,640.9 374.7,640.5 373.2,640 371.8,639.7 370.2,639.5 368.7,639.4 367.1,639.6 365.6,639.5 365,639.5 364.1,639.3 362.6,638.9 361.1,638.5 359.6,638.2 358.1,637.8 356.5,637.4 355,637.3 353.5,637.1 352,636.7 351.3,636.8 350.5,636.9 349,637.1 347.5,637.2 345.9,637.7 344.5,637.7 342.9,637.8 341.4,637.6 339.9,637.3 338.4,636.7 337.6,636.6 336.9,636.3 335.3,635.9 333.8,635.3 332.3,634.7 330.8,633.7 329.3,632.4 327.4,630 326.3,628 324.7,625.1 323.9,624.4 323.2,624.8 321.7,625.9 320.2,627.1 318.5,627.8 317.2,626.2 315.7,621.7 314.4,618.3 312.6,614.6 311.6,613.1 309.6,611.7Z" fill="#f9c9c4" fill-opacity="0.8" stroke="#f2958c" stroke-width="1.6"/>
<path d="M309.6,621.3 311,622.6 312.6,625.6 314.4,629.6 315.6,631.6 317.1,633.6 318.6,634.9 319.2,635.1 320.1,634.6 321.6,632.2 323.3,630.9 324.6,630.9 326.1,631 326.7,631.2 327.7,631.8 329.2,632.4 330.8,633 332.2,633.1 333.7,632.7 335.6,632.3 336.7,632.4 338.2,632.7 339.7,632.7 341.2,632.6 342.7,632.6 344.2,632.2 345.1,631.9 345.9,597.4 346.6,565.5 347.2,559.1 348,553.8 348.7,545 350,525.5 351.6,497.5 353.2,502.7 354,505.2 354.7,506.6 356.2,508.7 358,511.4 359.3,514.9 360.5,521.6 361.6,557.6 362.3,576.8 363,592.7 363.8,599.3 365,607.6 366.7,633.7 368.4,612 369.8,592.3 371.1,581.6 372.8,586.1 373.9,591.1 375.8,603.7 376.6,608.1 377.3,610.9 378.8,615.6 380.7,619.9 381.8,622 383.3,624 384.8,626 386.3,627.7 387.6,629.5 389.4,631.3 390.9,633.4 391.7,634.3 392.4,635.2 393.9,637.2 395.1,639.2 396.9,644.5 398.5,647.9 399.9,647.4 401.4,645.8 402.6,645 404.4,644.1 405.9,643.1 406.7,642.3 407.4,640.9 409.4,632.1 410.4,625.3 412.2,613.9 413.5,611.8 414.9,612.5 416.4,614.2 417.6,615.5 419.4,617.2 420.4,618.5 420.9,619.7 422.4,624.6 423.1,626.9 424,630.2 425.5,636.6 427.2,640.4 428.5,638.2 430,633.6 431.5,629.5 432.7,627.8 434.5,628.6 435.4,629.1 436,629.6 437.5,631.8 437.5,637.2 436,635.2 435.4,634.6 434.5,634 432.7,633.4 431.5,635 430,638.6 428.5,643.1 427.2,645.4 425.5,641.3 424,634.9 423.1,631.8 422.4,629.6 420.9,624.6 420.4,623.5 419.4,622.3 417.6,620.6 416.4,619.3 414.9,617.4 413.5,616.7 412.2,618.8 410.4,630.1 409.4,637 407.4,645.8 406.7,647.3 405.9,648.1 404.4,649.1 402.6,650.1 401.4,651.2 399.9,652.7 398.5,653.2 396.9,650 395.1,644.6 393.9,642.6 392.4,640.4 391.7,639.5 390.9,638.3 389.4,636.7 387.6,634.6 386.3,633 384.8,631.3 383.3,629.3 381.8,627 380.7,625.1 378.8,620.8 377.3,615.9 376.6,613.2 375.8,608.8 373.9,595.9 372.8,591 371.1,586.7 369.8,597.3 368.4,616.9 366.7,638.9 365,612.7 363.8,604.1 363,597.5 362.3,581.6 361.6,562.2 360.5,526.1 359.3,519.5 358,516.1 356.2,513.3 354.7,511.6 354,510.4 353.2,507.7 351.6,502.4 350,530.5 348.7,549.8 348,558.7 347.2,564.1 346.6,570.4 345.9,602.5 345.1,637.1 344.2,637.3 342.7,637.8 341.2,638.1 339.7,638.1 338.2,638 336.7,637.6 335.6,637.3 333.7,637.4 332.2,637.8 330.8,637.8 329.2,637.5 327.7,636.9 326.7,636.7 326.1,636.7 324.6,636.2 323.3,635.8 321.6,637.4 320.1,639.5 319.2,639.8 318.6,639.9 317.1,638.7 315.6,636.5 314.4,634.6 312.6,630.7 311,627.6 309.6,626.3Z" fill="#c9c9f7" fill-opacity="0.8"/>
<line x1="327.20" y1="486.20" x2="327.20" y2="683.30" stroke="#000" stroke-width="2.0" />
<line x1="358.00" y1="486.20" x2="358.00" y2="683.30" stroke="#000" stroke-width="2.0" />
<line x1="435.40" y1="486.20" x2="435.40" y2="691.90" stroke="#000" stroke-width="2.0" />
<path d="M309.6,608.4 311.6,609.9 312.6,611.6 314.4,615.3 315.7,619 317.2,623.7 318.5,625.3 320.2,624.4 321.7,622.9 323.2,621.8 323.9,621.3 324.7,622.1 326.3,625.1 327.4,627.1 329.3,629.3 330.8,630.5 332.3,631.4 333.8,632.1 335.3,632.9 336.9,633.4 337.6,633.6 338.4,633.5 339.9,633.6 341.4,634.1 342.9,634.4 344.5,634.5 345.9,634.8 347.5,634.6 349,634.3 350.5,634.1 351.3,634.2 352,634.1 353.5,634.3 355,634.5 356.5,634.6 358.1,634.7 359.6,635 361.1,635.4 362.6,635.7 364.1,636.1 365,636.2 365.6,636.1 367.1,636.1 368.7,636.1 370.2,636.2 371.8,636.5 373.2,637.2 374.7,638.1 375.9,638.4 377.7,637.7 378.7,636.7 379.3,633.9 380.8,617.8 381.4,613 382.3,608.6 384.1,603.7 385.3,605.2 386.9,608.4 388.3,609.4 388.9,609.8 389.9,610.1 391.7,610.9 392.9,612.9 394.4,617 395.9,624.7 397.4,633.6 398.5,635.9 400.5,628.6 402,620.6 402.6,618.7 403.5,618.1 405.3,617.1 406.5,614.7 408.1,610.6 409.5,605.9 411.1,600.1 412.2,597.8 414.1,596.5 414.9,596.3 415.6,597.4 417.6,602.5 418.6,602.8 420.4,603.5 421.7,605.4 423.1,608.9 424.7,617.4 425.9,624.2 427.9,630.8 429.2,627.7 430,625.3 430.7,623.2 432.7,619.2 433.8,619.7 435.4,621.4 436.8,624.9" fill="none" stroke="#e3231b" stroke-width="4.6" stroke-linejoin="round" stroke-linecap="round"/>
<path d="M309.6,624 311,625.1 312.6,628.3 314.4,632 315.6,633.8 317.1,636 318.6,637.3 319.2,637.5 320.1,637 321.6,635 323.3,633.5 324.6,633.5 326.1,633.5 326.7,633.9 327.7,634.2 329.2,634.9 330.8,635.2 332.2,635.2 333.7,634.7 335.6,634.4 336.7,634.5 338.2,635.2 339.7,635.5 341.2,635.7 342.7,635.7 344.2,635.2 345.1,634.9 345.9,600.1 346.6,568.1 347.2,561.9 348,556.1 348.7,547.2 350,528.3 351.6,500.2 353.2,505.4 354,508.4 354.7,509.8 356.2,511.2 358,513.7 359.3,517.1 360.5,524 361.6,559.8 362.3,579.1 363,594.9 363.8,601.4 365,609.6 366.7,635.7 368.4,613.8 369.8,594.1 371.1,583.6 372.8,587.9 373.9,593.2 375.8,606 376.6,610.4 377.3,613.2 378.8,618 380.7,622.4 381.8,624.6 383.3,627.1 384.8,628.9 386.3,630.9 387.6,632.5 389.4,634.4 390.9,635.9 391.7,637.2 392.4,637.9 393.9,639.7 395.1,641.5 396.9,647.1 398.5,650.5 399.9,649.9 401.4,648.9 402.6,647.8 404.4,646.8 405.9,645.9 406.7,645 407.4,643.5 409.4,634.8 410.4,627.8 412.2,616.5 413.5,614.3 414.9,615 416.4,616.9 417.6,618.4 419.4,619.7 420.4,621.1 420.9,622.1 422.4,627.2 423.1,629.3 424,632.7 425.5,638.8 427.2,642.8 428.5,640.4 430,636.1 431.5,632.4 432.7,630.9 434.5,631.5 435.4,632.4 436,632.9 437.5,634.8" fill="none" stroke="#2319e0" stroke-width="4.6" stroke-linejoin="round" stroke-linecap="round"/>
<line x1="309.60" y1="486.20" x2="309.60" y2="683.30" stroke="#000" stroke-width="2.0" />
<line x1="301.00" y1="683.30" x2="436.40" y2="683.30" stroke="#000" stroke-width="2.0" />
<line x1="301.00" y1="488.00" x2="309.60" y2="488.00" stroke="#000" stroke-width="2.0" />
<line x1="363.20" y1="683.30" x2="363.20" y2="691.90" stroke="#000" stroke-width="2.0" />
<text x="297.30" y="500.00" font-size="27.5" text-anchor="end" font-weight="normal" fill="#000" >42</text>
<text x="297.30" y="695.30" font-size="27.5" text-anchor="end" font-weight="normal" fill="#000" >0</text>
<text x="363.60" y="724.00" font-size="27.5" text-anchor="middle" font-weight="normal" fill="#000" >-2</text>
<text x="435.90" y="724.00" font-size="27.5" text-anchor="middle" font-weight="normal" fill="#000" >0</text>
<path d="M345.20,476.40 C345.76,476.40 346.24,442.60 346.80,442.60 C347.39,442.60 347.91,476.40 348.50,476.40 C349.13,476.40 349.67,442.60 350.30,442.60 C350.93,442.60 351.47,476.40 352.10,476.40 C352.73,476.40 353.27,442.60 353.90,442.60 C354.53,442.60 355.07,476.40 355.70,476.40 C356.47,476.40 357.13,442.60 357.90,442.60 C358.60,442.60 359.20,476.40 359.90,476.40" fill="none" stroke="#2424d6" stroke-width="1.7" stroke-linejoin="round" stroke-linecap="round"/>
<rect x="532.20" y="486.20" width="11.8" height="197.10" fill="#95d4f4"/>
<path d="M496.6,531.7 498.1,530.1 499.6,529.1 501.1,528.6 502.6,527.6 504,526.5 505.7,525.3 507.2,523.8 508.7,522.6 510.2,520.2 512,519 513.2,519 514.7,518.1 516.2,517.7 517.8,518.1 519.3,517.3 520,516.9 520.8,517.3 522.3,517.3 523.8,516.7 525.3,517.8 526.8,518.8 528,519.4 529.8,520.8 531.4,523.4 532.9,526.2 534,528.6 535.9,534.5 537.4,539.3 538,541.7 538.9,544.4 540.4,547 541,546.8 541.9,546.3 543.4,543.4 545,539.7 546,538 548,534.8 549.5,531.5 551,528.1 552.5,525.1 554,522 555.5,518.4 557,516.4 558,516.2 558.5,516.6 560.1,518 561.6,519.3 563.1,521.6 564,522.6 564.6,524 566.1,528.1 568,533.4 569.1,536.7 570.6,541.6 572,543.2 573.6,539.2 575.2,534.4 576,531.5 576.7,529.8 578.2,525.7 579.7,523.2 581.2,519.7 582,518.6 582.7,517.8 584.2,516.5 585.7,515.1 587.2,513.8 588,513.3 588.8,512 590.3,510.7 591.8,509.7 593.3,510.2 594,510.5 594.8,510.9 596.3,514.2 597.8,518.1 599.3,520.8 600,521.1 600.9,521.8 602.4,522.4 603.9,523.3 605.4,523.7 606.9,524.5 608,524.4 609.9,523.6 611.4,522.6 612.9,522 614,520.3 616,517.3 617.5,514 619,509.1 620.5,503.9 622,500 622,520 620.5,524.6 619,529.4 617.5,534.3 616,538.1 614,541.8 612.9,542.6 611.4,544 609.9,545.9 608,546.8 606.9,546.8 605.4,546.9 603.9,546.8 602.4,545.4 600.9,544.1 600,544.1 599.3,543.9 597.8,540.2 596.3,536.6 594.8,533.9 594,533.5 593.3,532.8 591.8,533.9 590.3,534.2 588.8,535.3 588,534.9 587.2,535.9 585.7,536.9 584.2,538.6 582.7,539.7 582,541.2 581.2,542.5 579.7,545.5 578.2,548.4 576.7,552.1 576,553.8 575.2,555.9 573.6,561 572,564.1 570.6,562.1 569.1,557.7 568,554.9 566.1,549.4 564.6,546.2 564,545.6 563.1,543.9 561.6,541.4 560.1,540.1 558.5,539.2 558,539 557,540.1 555.5,542.7 554,545.6 552.5,548.5 551,551.3 549.5,554.2 548,557.4 546,561.3 545,562.9 543.4,566.9 541.9,569.6 541,570.6 540.4,569.8 538.9,566.1 538,562.9 537.4,560.8 535.9,555.5 534,550.4 532.9,548.6 531.4,546.3 529.8,543.4 528,542 526.8,540.9 525.3,539.9 523.8,539.3 522.3,539.9 520.8,538.9 520,538.7 519.3,538.7 517.8,539.1 516.2,539.1 514.7,539.9 513.2,541.3 512,541.8 510.2,542.6 508.7,544.3 507.2,546.2 505.7,547.2 504,549.1 502.6,550.4 501.1,551.4 499.6,552.1 498.1,553.3 496.6,554Z" fill="#f9c9c4" fill-opacity="0.8" stroke="#f2958c" stroke-width="1.6"/>
<path d="M496.6,538.3 498.1,538.2 499.6,537.6 501.1,537.7 502.6,537 504,537.1 505.7,536.3 507.2,536.5 508.7,536.3 510.2,535.8 512,536.2 513.2,534.9 514.7,531 516,528.4 517.8,527.5 519.3,525.4 520.8,524.3 522,524.2 523.8,524.2 525.3,524.5 526.8,526.3 528,527.4 529.8,527.9 531.4,529.3 532.9,531.3 534,533 535.9,545.2 537,557.7 539,588.5 540.4,618.6 541,624.9 541.9,626.2 543.4,626.7 545,627.8 546.5,631.1 548,636.2 549,637.9 551,615.2 552,597.8 554,563.9 555,548.1 555.5,540.5 557,520.7 558,516.1 558.5,516 560.1,521.1 562,530.5 563.1,535.1 564.6,541.5 566,547.9 567.6,554.6 569.1,560.3 570,561.8 570.6,563 572.1,563.5 574,564.6 575.2,563.2 576.7,561.3 578.2,558.7 579,557.9 579.7,556.2 581.2,553.3 582.7,549.7 584,547 585.7,543.4 587.2,540.1 588.8,537.9 590,537.2 591.8,535.7 593.3,534.7 594.8,534.8 596,534.4 597.8,535.1 599.3,537.8 600.9,540.2 602,540.2 603.9,539.6 605.4,539.4 606.9,538.8 608,538.2 609.9,537.1 611.4,535.8 612.9,534.2 614,532.2 616,527.6 617.5,522.9 619,517.4 620.5,511.4 622,506.3 622,525.1 620.5,530.6 619,536.7 617.5,542.5 616,547.3 614,551.4 612.9,553.3 611.4,555 609.9,556.7 608,558.2 606.9,559.7 605.4,559.6 603.9,559.7 602,559.9 600.9,559.1 599.3,557.2 597.8,554.9 596,554.1 594.8,554 593.3,554.8 591.8,555 590,556.1 588.8,557.2 587.2,559.1 585.7,561.9 584,565.7 582.7,568.9 581.2,572.8 579.7,577.1 579,578.1 578.2,579.4 576.7,581.8 575.2,583.4 574,583.6 572.1,583.3 570.6,582.2 570,582 569.1,580.5 567.6,575 566,568.4 564.6,561.6 563.1,553.7 562,549 560.1,540.3 558.5,535.7 558,535.9 557,541.2 555.5,561.4 555,568.2 554,583.1 552,617.7 551,634.8 549,657.8 548,657.3 546.5,653 545,649.4 543.4,648.5 541.9,647.1 541,645.2 540.4,639.1 539,608.6 537,578 535.9,566.7 534,554.5 532.9,552.2 531.4,550.8 529.8,549.9 528,548.1 526.8,547.4 525.3,546.2 523.8,545 522,544.5 520.8,545.2 519.3,545.6 517.8,546.6 516,548.8 514.7,551.4 513.2,554.7 512,555.8 510.2,556.2 508.7,555.5 507.2,554.8 505.7,555.4 504,555.5 502.6,555.9 501.1,556.8 499.6,557.9 498.1,558.3 496.6,559.5Z" fill="#c9c9f7" fill-opacity="0.8" stroke="#9393ee" stroke-width="1.6"/>
<line x1="514.20" y1="486.20" x2="514.20" y2="683.30" stroke="#000" stroke-width="2.0" />
<line x1="545.00" y1="486.20" x2="545.00" y2="683.30" stroke="#000" stroke-width="2.0" />
<line x1="622.40" y1="486.20" x2="622.40" y2="691.90" stroke="#000" stroke-width="2.0" />
<path d="M496.6,542 498.1,541.2 499.6,540.4 501.1,539.3 502.6,538.6 504,537.8 505.7,536.2 507.2,534.4 508.7,532.5 510.2,530.8 512,529.4 513.2,529.2 514.7,528.8 516.2,528.5 517.8,528.3 519.3,528.5 520,528.4 520.8,528.5 522.3,528.7 523.8,528.9 525.3,529 526.8,529.6 528,530.1 529.8,531.8 531.4,534.2 532.9,537.6 534,540.1 535.9,545.6 537.4,550.4 538,552 538.9,554.2 540.4,557.1 541,557.5 541.9,557 543.4,555 545,551.8 546,549.8 548,545.8 549.5,542.9 551,539.6 552.5,536.5 554,533.7 555.5,530.7 557,528.1 558,527.4 558.5,527.7 560.1,528.6 561.6,530.5 563.1,532.6 564,534 564.6,535 566.1,538.8 568,543.8 569.1,546.9 570.6,551 572,552.7 573.6,549.8 575.2,544.5 576,542.1 576.7,540.7 578.2,537.1 579.7,533.9 581.2,531 582,529.9 582.7,528.7 584.2,526.9 585.7,525.3 587.2,524.3 588,523.8 588.8,523.5 590.3,522.9 591.8,522.2 593.3,521.9 594,521.7 594.8,522.5 596.3,525.3 597.8,529.4 599.3,532.6 600,533.2 600.9,533.7 602.4,534.6 603.9,535.3 605.4,535.6 606.9,536 608,535.9 609.9,535.3 611.4,534.2 612.9,533.1 614,531.7 616,528.4 617.5,524.4 619,519.6 620.5,514.5 622,510.3" fill="none" stroke="#e3231b" stroke-width="4.6" stroke-linejoin="round" stroke-linecap="round"/>
<path d="M496.6,548 498.1,547.6 499.6,547 501.1,546.6 502.6,546.3 504,546.2 505.7,546.1 507.2,545.9 508.7,546 510.2,546 512,546 513.2,544.5 514.7,540.6 516,538.1 517.8,536.3 519.3,535.1 520.8,534.4 522,534.2 523.8,534.2 525.3,534.9 526.8,535.7 528,536.3 529.8,537.6 531.4,539.3 532.9,541.5 534,543.9 535.9,556.6 537,568.3 539,598.3 540.4,628.1 541,634.2 541.9,635.3 543.4,636.5 545,637.6 546.5,641.6 548,646.5 549,648 551,625.3 552,608.1 554,573.3 555,557.8 555.5,550.7 557,530.9 558,526 558.5,526.3 560.1,531.4 562,539.9 563.1,544.8 564.6,552 566,558.5 567.6,565.1 569.1,570.8 570,572.5 570.6,572.6 572.1,573.5 574,574.3 575.2,573.5 576.7,571.5 578.2,569.3 579,567.9 579.7,566.3 581.2,562.7 582.7,558.7 584,555.4 585.7,552.2 587.2,549.5 588.8,547.2 590,546.2 591.8,545.5 593.3,544.9 594.8,544.2 596,544.2 597.8,545.4 599.3,547.5 600.9,549.3 602,550.1 603.9,549.9 605.4,549.3 606.9,548.7 608,548 609.9,546.7 611.4,545.2 612.9,543.3 614,541.9 616,537.5 617.5,532.6 619,527.2 620.5,521.6 622,516.3" fill="none" stroke="#2319e0" stroke-width="4.6" stroke-linejoin="round" stroke-linecap="round"/>
<line x1="496.60" y1="486.20" x2="496.60" y2="683.30" stroke="#000" stroke-width="2.0" />
<line x1="488.00" y1="683.30" x2="623.40" y2="683.30" stroke="#000" stroke-width="2.0" />
<line x1="488.00" y1="490.40" x2="496.60" y2="490.40" stroke="#000" stroke-width="2.0" />
<line x1="550.20" y1="683.30" x2="550.20" y2="691.90" stroke="#000" stroke-width="2.0" />
<text x="484.30" y="502.40" font-size="27.5" text-anchor="end" font-weight="normal" fill="#000" >15</text>
<text x="484.30" y="695.30" font-size="27.5" text-anchor="end" font-weight="normal" fill="#000" >0</text>
<text x="550.60" y="724.00" font-size="27.5" text-anchor="middle" font-weight="normal" fill="#000" >-2</text>
<text x="622.90" y="724.00" font-size="27.5" text-anchor="middle" font-weight="normal" fill="#000" >0</text>
<path d="M532.20,476.40 C532.76,476.40 533.24,442.60 533.80,442.60 C534.40,442.60 534.90,476.40 535.50,476.40 C536.13,476.40 536.67,442.60 537.30,442.60 C537.93,442.60 538.47,476.40 539.10,476.40 C539.73,476.40 540.27,442.60 540.90,442.60 C541.53,442.60 542.07,476.40 542.70,476.40 C543.47,476.40 544.13,442.60 544.90,442.60 C545.60,442.60 546.20,476.40 546.90,476.40" fill="none" stroke="#2424d6" stroke-width="1.7" stroke-linejoin="round" stroke-linecap="round"/>
<rect x="718.00" y="486.20" width="11.8" height="197.10" fill="#95d4f4"/>
<path d="M682.4,513.4 683.9,514.1 685.4,514.7 686.9,516.5 688.4,517.6 690,517.8 691.4,517.6 692.9,516.8 694.4,514.7 696,513 697.4,513 698.9,513.7 700.4,513.7 702,513.1 703.4,511.6 704.9,509.6 706.4,505.5 707.9,502.8 709.4,501.1 710,501.3 710.9,501.1 712.4,502.4 713.9,503.1 715.4,505.2 716,506.3 716.9,507.8 718.4,508 719.9,509.8 721.4,510.4 722,510.8 722.9,511.9 724.4,515.6 726,518.4 727.4,520.6 728.9,521.7 730.4,523 731,524 731.9,522.8 733.4,521.1 734.9,518.5 736.4,515.7 738,512.5 739.4,511.8 741,509.6 742.5,509 744,508.4 745.5,509.6 747,510.4 748.5,513.2 750,514.7 751,516.8 753,522 754.5,527.3 756,531.4 757.5,534.3 758,534 759,533.8 760.5,532.1 762,529.4 763.5,527 764,526.3 765,525 766.5,523.1 768,522.1 769.5,521.1 770,520.6 771,519.1 772.5,515 774,510 775.5,506.3 776,505.2 777,504.5 778.5,505.8 780,507.7 781.5,513 783,521 784,525.6 786,531.8 787.5,535.8 789,539 790,540.5 792,541.7 793.5,542.8 794,542.6 795,541.7 796.5,537.9 798,533.3 799.5,527.3 800,526.8 801,522.8 802.5,516.8 804,512.5 805.5,512.2 807,511.6 808.5,511.6 810,510.6 810,537.1 808.5,537.7 807,537.7 805.5,539.3 804,539.8 802.5,543.3 801,549.8 800,553.8 799.5,554.7 798,560.4 796.5,565.4 795,568.9 794,569.8 793.5,569.8 792,569.9 790,567.7 789,566 787.5,562.7 786,558.7 784,552.2 783,548.7 781.5,541.7 780,536.8 778.5,534.8 777,534.1 776,533.6 775.5,534.4 774,538.2 772.5,542.7 771,546.9 770,548.7 769.5,549 768,550.1 766.5,551 765,551.5 764,553 763.5,553.2 762,556 760.5,559.8 759,562.6 758,563.6 757.5,563.8 756,560.5 754.5,554.9 753,549.6 751,544.1 750,541.8 748.5,540.2 747,538.7 745.5,536.6 744,536.6 742.5,537.4 741,538.2 739.4,539.6 738,541.9 736.4,543.8 734.9,546.1 733.4,548.5 731.9,550.3 731,549.9 730.4,550.2 728.9,549.5 727.4,547.4 726,545.2 724.4,542.5 722.9,539.1 722,537.7 721.4,537.5 719.9,537.4 718.4,536.6 716.9,535.6 716,534.8 715.4,533.8 713.9,532.6 712.4,530.9 710.9,529.7 710,529.2 709.4,530.3 707.9,531.3 706.4,534.3 704.9,538.2 703.4,541 702,541.6 700.4,542.1 698.9,541.9 697.4,540.5 696,540.4 694.4,542 692.9,543.9 691.4,546 690,546.8 688.4,546.7 686.9,545 685.4,543.7 683.9,542.1 682.4,541.3Z" fill="#f9c9c4" fill-opacity="0.8" stroke="#f2958c" stroke-width="1.6"/>
<path d="M682.4,514.8 683.9,514.2 685.4,513.1 686.9,511.7 688,510.8 689.9,509.5 691.4,508 692.9,507.4 694,507.2 695.9,507.8 697.4,508.7 698.9,509.2 700,509.6 701.9,509.1 703.4,507.8 704,506.8 704.9,505.5 706.4,503.4 707.9,501.1 709.4,499.2 711,498.5 712.4,500.7 713.9,504.3 715.4,508.2 716,509.8 716.9,511.5 718.4,513.7 720,516.6 721.4,524 722,528.4 722.9,540 724,556.4 726,586.4 727.4,604.9 728,608.3 728.9,610.8 730.4,613.4 732,616.9 733.4,620.8 734.9,625.9 736,627.6 737.9,612.4 739,597.7 741,557.7 742.5,528.1 744,509.2 745.5,513.1 747,520.3 748.5,527.7 750,535.5 751,540.3 753,548.1 754.5,554.5 756,560.1 757.5,566.5 759,574.2 760,576.9 762,575.8 763.5,573.9 765,571.4 766,569.8 768,565.6 769.5,562 771,558.6 772,557.8 774,554.8 775.5,553.6 777,551.6 778,551.8 780,551.6 781.5,552.5 783,553.2 784,555.2 786,559.1 787.5,562.3 788,562.5 789,562.3 790.5,558.6 792,555.5 793.5,552.9 794,553.3 795,552.5 796.5,552.9 798,553 799.5,553.7 800,553.1 801,552.4 802.5,547.7 804,542.8 805.5,540.3 807,538.9 808.5,536.9 810,535 810,555.9 808.5,558.4 807,560.5 805.5,562.7 804,565 802.5,569.9 801,574.6 800,575.1 799.5,575.5 798,575 796.5,574.3 795,574.3 794,574.9 793.5,574.7 792,577.1 790.5,581 789,583.5 788,584.2 787.5,584.5 786,581.9 784,578.1 783,577.6 781.5,576 780,574.5 778,573 777,573.1 775.5,574.1 774,576.2 772,578.9 771,581 769.5,584.2 768,587.4 766,591.2 765,592.9 763.5,595.5 762,597.8 760,598.7 759,597 757.5,590.6 756,584 754.5,577.3 753,572.3 751,564 750,558.3 748.5,549.5 747,542.6 745.5,534.4 744,530 742.5,548.7 741,579.2 739,619.5 737.9,634.5 736,650 734.9,648.4 733.4,643.7 732,639.8 730.4,636.9 728.9,634.1 728,631.7 727.4,628 726,609.9 724,579.9 722.9,563.5 722,551.4 721.4,547 720,538.8 718.4,534.4 716.9,532.5 716,530.9 715.4,529.6 713.9,525.5 712.4,522.1 711,520.4 709.4,521.1 707.9,522.9 706.4,525.3 704.9,528.1 704,529.1 703.4,529.4 701.9,530.6 700,531 698.9,530.9 697.4,530.5 695.9,530.5 694,529.7 692.9,530.8 691.4,531 689.9,531.4 688,533.3 686.9,534.2 685.4,534.3 683.9,535.5 682.4,536.8Z" fill="#c9c9f7" fill-opacity="0.8" stroke="#9393ee" stroke-width="1.6"/>
<line x1="700.00" y1="486.20" x2="700.00" y2="683.30" stroke="#000" stroke-width="2.0" />
<line x1="730.80" y1="486.20" x2="730.80" y2="683.30" stroke="#000" stroke-width="2.0" />
<line x1="808.20" y1="486.20" x2="808.20" y2="691.90" stroke="#000" stroke-width="2.0" />
<path d="M682.4,527.6 683.9,528.8 685.4,529.8 686.9,531 688.4,532 690,532.4 691.4,531.6 692.9,529.4 694.4,527.1 696,526 697.4,526.3 698.9,526.8 700.4,527.6 702,528.2 703.4,527 704.9,524.3 706.4,520.9 707.9,518.1 709.4,516.2 710,516.1 710.9,516.3 712.4,517.2 713.9,518.3 715.4,519.3 716,519.8 716.9,520.6 718.4,521.6 719.9,522.4 721.4,523.6 722,524.3 722.9,525.8 724.4,529.1 726,532.3 727.4,534.2 728.9,535.4 730.4,536.3 731,536.2 731.9,535.8 733.4,534.3 734.9,532.2 736.4,529.6 738,527.8 739.4,526 741,523.8 742.5,522.4 744,521.9 745.5,522.1 747,523.7 748.5,526 750,528.4 751,530.3 753,535.7 754.5,540.7 756,545.5 757.5,548.2 758,548.3 759,547.6 760.5,545.8 762,543.2 763.5,540.4 764,539.9 765,539 766.5,537.5 768,536 769.5,534.5 770,533.7 771,531.9 772.5,527.3 774,523.1 775.5,520.5 776,520.1 777,520.3 778.5,521.8 780,523.8 781.5,528.6 783,535.7 784,539.7 786,545.9 787.5,549.8 789,552.5 790,553.8 792,555.4 793.5,555.9 794,556 795,555.3 796.5,552.1 798,546.9 799.5,541.6 800,540.2 801,536.4 802.5,529.8 804,526.3 805.5,525.6 807,524.8 808.5,524.6 810,524.1" fill="none" stroke="#e3231b" stroke-width="4.6" stroke-linejoin="round" stroke-linecap="round"/>
<path d="M682.4,526.3 683.9,525 685.4,523.9 686.9,522.7 688,521.9 689.9,520.7 691.4,519.7 692.9,518.9 694,518.5 695.9,518.7 697.4,519.2 698.9,519.8 700,519.8 701.9,519.5 703.4,518.8 704,518.3 704.9,517.2 706.4,515.1 707.9,512.8 709.4,510.5 711,509.7 712.4,511.2 713.9,514.6 715.4,518.2 716,519.7 716.9,521.1 718.4,523.9 720,528 721.4,535.6 722,539.8 722.9,551.5 724,568 726,597.9 727.4,616.3 728,620.3 728.9,622.7 730.4,625.5 732,627.9 733.4,632.1 734.9,636.6 736,637.9 737.9,622.3 739,607.9 741,568 742.5,538.3 744,520.2 745.5,524.4 747,532.2 748.5,539.2 750,547 751,551.9 753,559.9 754.5,565.8 756,571.7 757.5,578.6 759,585.5 760,587.5 762,586.3 763.5,584.4 765,581.9 766,580.2 768,576.4 769.5,572.9 771,569.5 772,567.9 774,565.1 775.5,563.3 777,562.3 778,562.3 780,562.8 781.5,564.2 783,565.6 784,566.5 786,571 787.5,574.2 788,574.1 789,573.2 790.5,570.3 792,566.5 793.5,563.9 794,563.6 795,563.8 796.5,563.5 798,563.4 799.5,563.7 800,563.7 801,562.6 802.5,557.9 804,554 805.5,551.7 807,550 808.5,548.2 810,546.7" fill="none" stroke="#2319e0" stroke-width="4.6" stroke-linejoin="round" stroke-linecap="round"/>
<line x1="682.40" y1="486.20" x2="682.40" y2="683.30" stroke="#000" stroke-width="2.0" />
<line x1="673.80" y1="683.30" x2="809.20" y2="683.30" stroke="#000" stroke-width="2.0" />
<line x1="673.80" y1="502.00" x2="682.40" y2="502.00" stroke="#000" stroke-width="2.0" />
<line x1="736.00" y1="683.30" x2="736.00" y2="691.90" stroke="#000" stroke-width="2.0" />
<text x="670.10" y="514.00" font-size="27.5" text-anchor="end" font-weight="normal" fill="#000" >7</text>
<text x="670.10" y="695.30" font-size="27.5" text-anchor="end" font-weight="normal" fill="#000" >0</text>
<text x="736.40" y="724.00" font-size="27.5" text-anchor="middle" font-weight="normal" fill="#000" >-2</text>
<text x="808.70" y="724.00" font-size="27.5" text-anchor="middle" font-weight="normal" fill="#000" >0</text>
<path d="M718.00,476.40 C718.56,476.40 719.04,442.60 719.60,442.60 C720.20,442.60 720.70,476.40 721.30,476.40 C721.93,476.40 722.47,442.60 723.10,442.60 C723.73,442.60 724.27,476.40 724.90,476.40 C725.53,476.40 726.07,442.60 726.70,442.60 C727.33,442.60 727.87,476.40 728.50,476.40 C729.27,476.40 729.93,442.60 730.70,442.60 C731.40,442.60 732.00,476.40 732.70,476.40" fill="none" stroke="#2424d6" stroke-width="1.7" stroke-linejoin="round" stroke-linecap="round"/>
<rect x="903.00" y="486.20" width="11.8" height="197.10" fill="#95d4f4"/>
<path d="M867.4,580.8 868.9,582.2 870.4,583.1 871.9,584.1 873.4,585.1 874,585.2 874.9,585 876.4,583.7 877.9,581.9 879.4,580.4 880.9,578.8 882,578.3 883.9,578.4 885.4,579.4 886.9,580.8 888.4,582.2 890,583.3 891.4,584.3 892.9,584.9 894.4,585.8 895.9,586.5 897.4,587.1 898,587.9 898.9,588.3 900.4,588.5 901.9,589.4 903.4,589.9 904.9,590 906,590.3 907.9,589.6 909.4,588.8 910.9,588 912.4,586.8 914,585.9 915.4,585.4 916.9,584.9 918.4,584.2 919.9,584.1 921.4,584.2 922,584.4 922.9,583.9 924.4,583.6 926,583 927.5,582.7 929,582.2 930,582.9 932,583.2 933.5,583.8 935,584.7 936,585.5 938,586.9 939.5,588.7 941,590.5 942,590.9 944,589.4 945.5,586.8 947,585.1 948,584.2 950,583.8 951.5,583.2 953,583.2 954,582.7 956,579.3 957.5,575.4 959,572.4 960,571.6 962,573.4 963.5,576.8 965,580.1 966,582.3 968,584.6 969.5,586 971,586.8 972,587.4 974,588.3 975.5,588.6 977,588.8 978.5,589.8 980,589.7 981.5,589.8 983,589.9 984.5,589.3 986,588.1 987.5,585.3 989,579.1 991,574 992,574.8 993.5,577.5 995,579.8 995,600.8 993.5,598.4 992,595.5 991,594.3 989,599.1 987.5,605.2 986,608 984.5,608.6 983,609.2 981.5,609.6 980,609.1 978.5,609.3 977,609.1 975.5,609 974,607.9 972,607.8 971,606.9 969.5,605.8 968,604.4 966,602.4 965,600.9 963.5,598.3 962,594.9 960,592.3 959,592.6 957.5,595.5 956,598.6 954,601.8 953,602.9 951.5,603.5 950,603.7 948,604.6 947,605.4 945.5,607.1 944,609.6 942,611.1 941,610.2 939.5,609.3 938,607.8 936,605.7 935,604.7 933.5,603.9 932,603 930,602.5 929,603.1 927.5,603.2 926,603.1 924.4,603.6 922.9,603.8 922,603.3 921.4,603.7 919.9,604.4 918.4,604.2 916.9,605 915.4,605.4 914,605.7 912.4,606.2 910.9,607.9 909.4,608.8 907.9,610.2 906,611.4 904.9,611.7 903.4,611.4 901.9,611 900.4,609.9 898.9,609.2 898,608.5 897.4,607.6 895.9,606.8 894.4,606.5 892.9,605.7 891.4,605.4 890,604.6 888.4,603.5 886.9,601.7 885.4,599.6 883.9,598.4 882,597.6 880.9,597.6 879.4,598.8 877.9,601 876.4,601.8 874.9,603.4 874,603.8 873.4,603.4 871.9,602.5 870.4,602.5 868.9,601.7 867.4,600.6Z" fill="#f9c9c4" fill-opacity="0.8" stroke="#f2958c" stroke-width="1.6"/>
<path d="M867.4,590.6 868.9,591.3 870.4,592.1 871.9,593 873.4,593.3 874,593.9 874.9,593.6 876.4,591.8 877.9,588.9 879.4,585.9 880.9,584 882,583.5 883.9,584.3 885.4,585.6 886.9,586.9 888.4,587.9 890,589 891.4,589.5 892.9,589.9 894.4,591.1 895.9,591.5 897.4,592 898,592.1 898.9,592.2 900.4,590 901.9,587.4 903.4,585.6 904,585.9 904.9,587 906.4,592.5 908,600.1 909.4,610.3 911,617.7 912.4,611.6 914,605 915.4,606.4 917,609.6 918.4,621 920,632 921.4,622.6 923,600.6 924.4,572.8 926,540.4 927.5,515.3 929,500.2 930.5,506.6 932,519.9 933.5,531.3 935,542.5 936,550.4 938,564.4 939.5,573.1 940,576.2 941,581.8 942.5,589.9 944,594.1 945.5,595.8 947,596.5 948.5,597.1 950,597.3 951.5,597.4 952,597.4 953,597.3 954.5,596.5 956,594.9 957.5,594.5 958,594.7 959,594.9 960.5,595.5 962,596.2 963.5,596.4 964,596.2 965,596.9 966.5,597.7 968,598.9 969.5,600 970,600.2 971,600.4 972.5,600.8 974,601.3 975.5,602.2 977,602.1 978,601.6 980,601.4 981.5,600.9 983,599.6 984,599.4 986,595.1 987.5,589.9 988,588.4 989,585.6 991,581 992,581.4 993.5,583.1 995,585.4 995,600 993.5,598.4 992,596.4 991,596.2 989,600.7 988,603.7 987.5,605.5 986,611 984,615.9 983,616.5 981.5,617 980,617.4 978,617.8 977,617.6 975.5,617.6 974,617.8 972.5,617.7 971,617.6 970,617.2 969.5,617.3 968,615.9 966.5,614 965,612.7 964,612.1 963.5,612 962,611.3 960.5,610.7 959,610.2 958,610.3 957.5,610.3 956,611.1 954.5,612.9 953,614.1 952,614.4 951.5,614.3 950,614.4 948.5,613.4 947,612.3 945.5,611.3 944,610.1 942.5,605.7 941,597.8 940,592.4 939.5,588.9 938,579 936,565 935,557.2 933.5,545.6 932,535 930.5,522.6 929,515.8 927.5,530.7 926,555.9 924.4,588 923,615.9 921.4,637.8 920,648.3 918.4,637.9 917,627 915.4,624 914,623.3 912.4,629.2 911,634.5 909.4,626.2 908,615.4 906.4,607.4 904.9,601.8 904,601.3 903.4,601.4 901.9,603.2 900.4,606 898.9,607.9 898,608 897.4,608.5 895.9,608.6 894.4,607.9 892.9,607.1 891.4,606.3 890,605.2 888.4,603.5 886.9,601.9 885.4,600.7 883.9,599.8 882,599.6 880.9,600.4 879.4,602.6 877.9,605 876.4,607.3 874.9,608.7 874,609.4 873.4,609.7 871.9,609.8 870.4,609 868.9,608.1 867.4,607Z" fill="#c9c9f7" fill-opacity="0.8" stroke="#9393ee" stroke-width="1.6"/>
<line x1="885.00" y1="486.20" x2="885.00" y2="683.30" stroke="#000" stroke-width="2.0" />
<line x1="915.80" y1="486.20" x2="915.80" y2="683.30" stroke="#000" stroke-width="2.0" />
<line x1="993.20" y1="486.20" x2="993.20" y2="691.90" stroke="#000" stroke-width="2.0" />
<path d="M867.4,592.1 868.9,592.5 870.4,592.9 871.9,593.6 873.4,593.9 874,593.5 874.9,593.4 876.4,592.6 877.9,590.9 879.4,589.5 880.9,588.6 882,588.5 883.9,588.9 885.4,590 886.9,591.5 888.4,593 890,593.8 891.4,594.8 892.9,595.6 894.4,596.4 895.9,597 897.4,598 898,598.4 898.9,598.9 900.4,599.4 901.9,600 903.4,600.3 904.9,600.5 906,600.4 907.9,599.8 909.4,598.6 910.9,597.6 912.4,596.5 914,595.8 915.4,595.4 916.9,595.1 918.4,594.7 919.9,594.2 921.4,594 922,593.8 922.9,593.7 924.4,593 926,592.6 927.5,592 929,592 930,592.1 932,592.8 933.5,593.7 935,595 936,595.6 938,597.5 939.5,599.6 941,601.2 942,601.5 944,600 945.5,597.5 947,594.8 948,593.7 950,593.2 951.5,592.6 953,592.2 954,591.8 956,588.7 957.5,585.2 959,582.6 960,581.9 962,584.1 963.5,587.3 965,590.7 966,592.1 968,594.7 969.5,596.4 971,597.8 972,598 974,599.1 975.5,599.3 977,599.4 978.5,599.8 980,599.9 981.5,599.6 983,599.3 984.5,598.9 986,597.7 987.5,594.6 989,588.8 991,584.2 992,584.6 993.5,587.3 995,590" fill="none" stroke="#e3231b" stroke-width="4.6" stroke-linejoin="round" stroke-linecap="round"/>
<path d="M867.4,598.2 868.9,599.2 870.4,600.5 871.9,601.6 873.4,602.2 874,602.3 874.9,601.9 876.4,599.8 877.9,597.1 879.4,594.6 880.9,592.3 882,591.9 883.9,592.5 885.4,593.4 886.9,594.5 888.4,595.7 890,596.7 891.4,597.4 892.9,598.2 894.4,599 895.9,599.6 897.4,599.9 898,600 898.9,599.7 900.4,597.9 901.9,595.6 903.4,594 904,593.6 904.9,595 906.4,600.3 908,607.8 909.4,617.9 911,626.1 912.4,620.4 914,614.1 915.4,615.1 917,618.2 918.4,629.5 920,640.1 921.4,630 923,608 924.4,580 926,547.6 927.5,522.6 929,508.1 930.5,515.2 932,528.4 933.5,539.4 935,550.7 936,558.3 938,571.8 939.5,581 940,584 941,589.3 942.5,597.3 944,601.9 945.5,603.4 947,604.4 948.5,605.2 950,605.4 951.5,605.8 952,605.7 953,605.5 954.5,604.3 956,603.1 957.5,602.1 958,602.2 959,602.3 960.5,602.9 962,603.4 963.5,604 964,604.3 965,604.8 966.5,606.4 968,607.8 969.5,608.9 970,608.8 971,608.9 972.5,609 974,609.5 975.5,609.7 977,609.9 978,610 980,609.6 981.5,609.1 983,608.6 984,608 986,603.2 987.5,597.8 988,596.4 989,592.9 991,588.2 992,588.5 993.5,590.1 995,591.7" fill="none" stroke="#2319e0" stroke-width="4.6" stroke-linejoin="round" stroke-linecap="round"/>
<line x1="867.40" y1="486.20" x2="867.40" y2="683.30" stroke="#000" stroke-width="2.0" />
<line x1="858.80" y1="683.30" x2="994.20" y2="683.30" stroke="#000" stroke-width="2.0" />
<line x1="858.80" y1="487.40" x2="867.40" y2="487.40" stroke="#000" stroke-width="2.0" />
<line x1="921.00" y1="683.30" x2="921.00" y2="691.90" stroke="#000" stroke-width="2.0" />
<text x="855.10" y="499.40" font-size="27.5" text-anchor="end" font-weight="normal" fill="#000" >20</text>
<text x="855.10" y="695.30" font-size="27.5" text-anchor="end" font-weight="normal" fill="#000" >0</text>
<text x="921.40" y="724.00" font-size="27.5" text-anchor="middle" font-weight="normal" fill="#000" >-2</text>
<text x="993.70" y="724.00" font-size="27.5" text-anchor="middle" font-weight="normal" fill="#000" >0</text>
<path d="M903.00,476.40 C903.56,476.40 904.04,442.60 904.60,442.60 C905.20,442.60 905.70,476.40 906.30,476.40 C906.93,476.40 907.47,442.60 908.10,442.60 C908.73,442.60 909.27,476.40 909.90,476.40 C910.53,476.40 911.07,442.60 911.70,442.60 C912.33,442.60 912.87,476.40 913.50,476.40 C914.27,476.40 914.93,442.60 915.70,442.60 C916.40,442.60 917.00,476.40 917.70,476.40" fill="none" stroke="#2424d6" stroke-width="1.7" stroke-linejoin="round" stroke-linecap="round"/>
<rect x="345.20" y="1123.80" width="11.8" height="197.70" fill="#95d4f4"/>
<path d="M309.6,1264.9 311.1,1264.7 312.6,1264.5 314.1,1264.3 315.6,1264.1 317.1,1263.6 318.6,1263.4 320.1,1263.1 322,1262.9 323.1,1262.6 324.7,1262.3 326.2,1261.6 327.7,1261.4 329.2,1260.8 330.7,1260.6 332.2,1260.3 334,1260.1 335.2,1259.9 336.7,1259.9 338.2,1259.7 339.7,1259.7 341.2,1259.8 342.7,1259.9 344.2,1259.9 346,1260 347.2,1260.3 348.8,1260.4 350.3,1260.1 351.8,1260.2 353.3,1260.1 354,1259.8 354.8,1260 356.3,1259.9 357.8,1259.9 359.3,1259.9 360.8,1259.8 362,1259.8 363.8,1259.8 365.3,1259.7 366.8,1259.7 368.3,1259.7 370,1259.7 371.3,1259.8 372.9,1259.5 374.4,1259.5 375.9,1259.2 377.4,1258.7 378.9,1258.2 380,1257.9 381.9,1257.4 383.4,1257.2 384.9,1257.1 386.4,1256.8 387.9,1256.4 389.4,1256.1 390,1255.7 390.9,1255.3 392.4,1255 393.9,1254.5 395.4,1254 396.9,1253.7 398.4,1253.4 400,1253 401.5,1252.8 403,1252.7 404.5,1252.3 406,1252.2 407.5,1251.9 409,1251.4 410,1251.1 412,1250.5 413.5,1250 415,1249.3 416.5,1248.7 418,1247.9 420,1247 421,1246.3 422.5,1245.7 424.1,1245.4 425.6,1245 427.1,1244.2 428.6,1243.6 430,1243.1 431.6,1242.2 433.1,1241.7 434.6,1240.7 436,1239.2 437.6,1231.1 437.6,1237.3 436,1245.3 434.6,1246.9 433.1,1248 431.6,1248.5 430,1249 428.6,1249.6 427.1,1250.2 425.6,1250.5 424.1,1251.1 422.5,1251.8 421,1252.4 420,1252.9 418,1253.9 416.5,1254.7 415,1255.3 413.5,1256.1 412,1256.6 410,1257 409,1257.1 407.5,1257.4 406,1257.7 404.5,1257.9 403,1258.3 401.5,1258.8 400,1259.2 398.4,1259.5 396.9,1260 395.4,1260.4 393.9,1260.8 392.4,1261.3 390.9,1261.8 390,1261.8 389.4,1261.8 387.9,1262.2 386.4,1262.6 384.9,1262.9 383.4,1263.3 381.9,1263.9 380,1264.3 378.9,1264.6 377.4,1264.9 375.9,1265.3 374.4,1265.6 372.9,1266 371.3,1266 370,1265.9 368.3,1266.1 366.8,1266 365.3,1265.7 363.8,1265.8 362,1265.9 360.8,1265.9 359.3,1265.8 357.8,1266.1 356.3,1266 354.8,1266.2 354,1266.2 353.3,1266.3 351.8,1266.1 350.3,1266.2 348.8,1266.1 347.2,1266.2 346,1266.2 344.2,1266.2 342.7,1266.1 341.2,1266 339.7,1265.8 338.2,1265.8 336.7,1265.8 335.2,1265.7 334,1265.9 332.2,1266.1 330.7,1266.2 329.2,1266.5 327.7,1267.1 326.2,1267.5 324.7,1268 323.1,1268.6 322,1268.9 320.1,1269.2 318.6,1269.5 317.1,1269.9 315.6,1270.1 314.1,1270.5 312.6,1270.7 311.1,1271 309.6,1271.1Z" fill="#f9c9c4" fill-opacity="0.8" stroke="#f2958c" stroke-width="1.6"/>
<path d="M309.6,1264.2 311.1,1263.9 312.6,1263.4 314.1,1262.8 315.7,1262.1 317.2,1261.9 318,1261.6 318.7,1261.2 320.2,1260.7 321.7,1260.6 323.2,1260 324.8,1259.5 326,1259.2 327.8,1258.7 329.3,1258.1 330.8,1257.9 332.4,1257.6 334,1257.6 335.4,1257.9 336.9,1258 338.4,1258.5 339.9,1259.1 341.4,1259.5 342,1259.3 343,1259.7 344.5,1259.6 346,1259.6 347.5,1259.8 349,1260.3 350,1260.4 350.6,1261 352.1,1263.5 353,1264.8 353.6,1265.3 355,1266.6 356.6,1265.3 358.1,1263.1 359,1262.2 359.6,1262 361.2,1261.3 362.7,1260.8 364,1260.4 365.7,1258.7 367.2,1256 368.8,1253.3 370,1250.8 371.8,1246.8 373.3,1243.3 374.8,1239.4 376.3,1235.8 378,1232.3 379.4,1229.9 380.9,1227.2 382.4,1224.9 383.9,1222.3 385.4,1219.7 386,1218.5 386.9,1216.9 388.5,1213.9 390,1210.8 391.5,1207.6 393,1204.7 394,1202.8 394.5,1201.4 396.1,1198.4 397.6,1195.3 399.1,1192.2 400.6,1189.2 402,1186.4 403.6,1182.9 405.1,1179.5 406.7,1176.1 408.2,1172.4 410,1168.4 411.2,1165.7 412.7,1162.6 414.2,1159.2 415.8,1156.5 417.3,1153.7 418,1152.6 418.8,1151.4 420.3,1149.3 421.8,1147.1 423.4,1145.2 424.9,1143.5 426,1142.1 427.9,1140.7 429.4,1139.5 430.9,1138.3 432,1137.2 434,1135.2 435.5,1133.1 437,1131.2 437,1138.4 435.5,1140.5 434,1142.4 432,1144.9 430.9,1146 429.4,1147.2 427.9,1148.1 426,1149.7 424.9,1150.7 423.4,1152.5 421.8,1154.2 420.3,1156.2 418.8,1158.5 418,1159.7 417.3,1160.7 415.8,1163.6 414.2,1166.6 412.7,1169.6 411.2,1172.7 410,1175.4 408.2,1179.2 406.7,1182.9 405.1,1186.5 403.6,1190.2 402,1193.7 400.6,1196.8 399.1,1199.6 397.6,1202.5 396.1,1205.4 394.5,1208.3 394,1209.2 393,1211 391.5,1214.3 390,1217.2 388.5,1220.3 386.9,1223.5 386,1225.3 385.4,1226.4 383.9,1229.1 382.4,1231.7 380.9,1234.3 379.4,1237.1 378,1239.5 376.3,1243 374.8,1246.6 373.3,1250.1 371.8,1253.6 370,1257.5 368.8,1260.2 367.2,1263.2 365.7,1265.9 364,1267.8 362.7,1268.2 361.2,1268.6 359.6,1269.2 359,1269.4 358.1,1270.3 356.6,1272.4 355,1273.7 353.6,1272.6 353,1271.7 352.1,1270.1 350.6,1267.8 350,1267.5 349,1267.1 347.5,1267 346,1267.1 344.5,1266.9 343,1266.7 342,1266.5 341.4,1266.3 339.9,1265.7 338.4,1265.2 336.9,1264.4 335.4,1264.2 334,1264.2 332.4,1264.3 330.8,1264.7 329.3,1265.4 327.8,1266.1 326,1266.5 324.8,1267 323.2,1267.5 321.7,1267.8 320.2,1268.1 318.7,1268.4 318,1268.5 317.2,1268.5 315.7,1269 314.1,1269.6 312.6,1270.3 311.1,1271 309.6,1271.8Z" fill="#c9c9f7" fill-opacity="0.8" stroke="#9393ee" stroke-width="1.6"/>
<line x1="327.20" y1="1123.80" x2="327.20" y2="1321.50" stroke="#000" stroke-width="2.0" />
<line x1="358.00" y1="1123.80" x2="358.00" y2="1321.50" stroke="#000" stroke-width="2.0" />
<line x1="435.40" y1="1123.80" x2="435.40" y2="1330.10" stroke="#000" stroke-width="2.0" />
<path d="M309.6,1268.2 311.1,1267.8 312.6,1267.4 314.1,1267 315.6,1266.9 317.1,1266.6 318.6,1266.4 320.1,1266.3 322,1266 323.1,1265.6 324.7,1265.2 326.2,1264.6 327.7,1264.2 329.2,1263.9 330.7,1263.4 332.2,1263.2 334,1263.2 335.2,1262.9 336.7,1262.8 338.2,1263 339.7,1262.9 341.2,1263 342.7,1263.3 344.2,1263.4 346,1263.2 347.2,1263.1 348.8,1263.3 350.3,1263 351.8,1262.7 353.3,1262.8 354,1262.9 354.8,1262.7 356.3,1263 357.8,1263.3 359.3,1263.2 360.8,1263.1 362,1263 363.8,1262.9 365.3,1262.6 366.8,1262.8 368.3,1262.9 370,1262.9 371.3,1262.9 372.9,1262.6 374.4,1262.3 375.9,1262 377.4,1261.8 378.9,1261.4 380,1261.2 381.9,1260.5 383.4,1259.9 384.9,1259.9 386.4,1259.6 387.9,1259.3 389.4,1259.3 390,1259.2 390.9,1258.8 392.4,1258.4 393.9,1258 395.4,1257.4 396.9,1257 398.4,1256.7 400,1256.1 401.5,1255.6 403,1255.4 404.5,1255.2 406,1254.9 407.5,1254.7 409,1254.4 410,1253.9 412,1253.2 413.5,1252.4 415,1251.8 416.5,1251.2 418,1250.8 420,1250.2 421,1249.9 422.5,1249.6 424.1,1249.1 425.6,1248.3 427.1,1247.5 428.6,1246.9 430,1246 431.6,1245.1 433.1,1244.3 434.6,1243.2 436,1241.4 437.6,1233.3" fill="none" stroke="#e3231b" stroke-width="4.6" stroke-linejoin="round" stroke-linecap="round"/>
<path d="M309.6,1268.1 311.1,1267.7 312.6,1267.2 314.1,1266.4 315.7,1265.9 317.2,1265.4 318,1264.8 318.7,1264.6 320.2,1264.4 321.7,1263.8 323.2,1263.6 324.8,1263.5 326,1263 327.8,1262.3 329.3,1262 330.8,1261.4 332.4,1261.2 334,1260.9 335.4,1261.1 336.9,1261.5 338.4,1261.9 339.9,1262.4 341.4,1263.1 342,1263.4 343,1263.4 344.5,1263.6 346,1263.8 347.5,1263.7 349,1263.9 350,1264.2 350.6,1264.5 352.1,1266.8 353,1268.3 353.6,1269 355,1270.1 356.6,1269 358.1,1266.9 359,1266.1 359.6,1265.7 361.2,1265 362.7,1264.6 364,1264 365.7,1262.1 367.2,1259.5 368.8,1256.6 370,1254.1 371.8,1250.3 373.3,1246.4 374.8,1243 376.3,1239.5 378,1235.9 379.4,1233.3 380.9,1230.7 382.4,1228 383.9,1225.4 385.4,1222.8 386,1222 386.9,1220.3 388.5,1217.5 390,1214.6 391.5,1211.4 393,1208.2 394,1206.1 394.5,1205.1 396.1,1202.2 397.6,1199.1 399.1,1196 400.6,1193.2 402,1190.2 403.6,1186.5 405.1,1183.3 406.7,1179.9 408.2,1176 410,1171.7 411.2,1169.2 412.7,1166.1 414.2,1162.7 415.8,1159.7 417.3,1157.1 418,1155.8 418.8,1154.4 420.3,1152.2 421.8,1150.3 423.4,1148.4 424.9,1146.6 426,1145.3 427.9,1143.8 429.4,1142.8 430.9,1141.6 432,1140.7 434,1138.7 435.5,1136.8 437,1134.9" fill="none" stroke="#2319e0" stroke-width="4.6" stroke-linejoin="round" stroke-linecap="round"/>
<line x1="309.60" y1="1123.80" x2="309.60" y2="1321.50" stroke="#000" stroke-width="2.0" />
<line x1="301.00" y1="1321.50" x2="436.40" y2="1321.50" stroke="#000" stroke-width="2.0" />
<line x1="301.00" y1="1124.40" x2="309.60" y2="1124.40" stroke="#000" stroke-width="2.0" />
<line x1="363.20" y1="1321.50" x2="363.20" y2="1330.10" stroke="#000" stroke-width="2.0" />
<text x="297.30" y="1136.40" font-size="27.5" text-anchor="end" font-weight="normal" fill="#000" >15</text>
<text x="297.30" y="1333.50" font-size="27.5" text-anchor="end" font-weight="normal" fill="#000" >0</text>
<text x="363.60" y="1362.20" font-size="27.5" text-anchor="middle" font-weight="normal" fill="#000" >-2</text>
<text x="435.90" y="1362.20" font-size="27.5" text-anchor="middle" font-weight="normal" fill="#000" >0</text>
<path d="M345.20,1114.00 C345.76,1114.00 346.24,1080.20 346.80,1080.20 C347.39,1080.20 347.91,1114.00 348.50,1114.00 C349.13,1114.00 349.67,1080.20 350.30,1080.20 C350.93,1080.20 351.47,1114.00 352.10,1114.00 C352.73,1114.00 353.27,1080.20 353.90,1080.20 C354.53,1080.20 355.07,1114.00 355.70,1114.00 C356.47,1114.00 357.13,1080.20 357.90,1080.20 C358.60,1080.20 359.20,1114.00 359.90,1114.00" fill="none" stroke="#2424d6" stroke-width="1.7" stroke-linejoin="round" stroke-linecap="round"/>
<rect x="532.20" y="1123.80" width="11.8" height="197.70" fill="#95d4f4"/>
<path d="M496.6,1128.2 498.1,1128.6 499.6,1129.1 501.1,1129.7 502.6,1130.3 504,1130.8 505.7,1131.7 507.2,1132.5 508.7,1133.5 510.2,1134 512,1135 513.2,1135.9 514.7,1136.8 516.2,1137.8 517.8,1139.1 519.3,1139.7 520,1140 520.8,1140.5 522.3,1141 523.8,1141.2 525.3,1142 526.8,1142.7 528,1143.1 529.8,1143.6 531.4,1144.1 532.9,1144.5 534.4,1145.1 536,1146 537.4,1147 538.9,1148.8 540.4,1150.7 541.9,1152.3 543.4,1153.5 544,1153.9 545,1154.3 546.5,1155 548,1155.9 549.5,1156.8 551,1157.4 552,1157.7 554,1158.4 555.5,1158.7 557,1159 558,1159.6 558.5,1160 560.1,1161.3 561.6,1163.1 563.1,1164.8 564,1166 564.6,1166.7 566.1,1169.4 567.6,1172.4 569.1,1175 570,1176.2 570.6,1177.1 572.1,1178.3 573.6,1179 575.2,1180.2 576.7,1181.1 578,1182.1 579.7,1183.7 581.2,1185.9 582.7,1187.7 584.2,1189.7 586,1191.9 587.2,1193.5 588.8,1195.1 590.3,1196.5 591.8,1197.9 593.3,1199.1 594,1199.5 594.8,1200.2 596.3,1202.1 597.8,1203.8 599.3,1205.3 600.9,1206.9 602,1208 603.9,1209.4 605.4,1210.5 606.9,1211.6 608.4,1212.6 610,1213.7 611.4,1214.5 612.9,1215.4 614.5,1216.1 616,1216.7 617.5,1217.4 618,1218 619,1218.2 620.5,1219.2 622,1220.2 622,1227.6 620.5,1226.8 619,1226.3 618,1225.9 617.5,1225.7 616,1225.1 614.5,1224.6 612.9,1223.6 611.4,1222.7 610,1222 608.4,1221.2 606.9,1219.9 605.4,1218.9 603.9,1217.7 602,1216.2 600.9,1214.9 599.3,1213.7 597.8,1212.1 596.3,1210.6 594.8,1208.8 594,1208.2 593.3,1207.4 591.8,1206 590.3,1204.3 588.8,1203 587.2,1201.5 586,1200.3 584.2,1198 582.7,1196 581.2,1194 579.7,1192 578,1190 576.7,1188.9 575.2,1187.8 573.6,1186.8 572.1,1185.8 570.6,1184.5 570,1184.1 569.1,1183.1 567.6,1180.4 566.1,1177.4 564.6,1174.9 564,1174 563.1,1172.9 561.6,1171.3 560.1,1169.7 558.5,1168.5 558,1168.3 557,1167.7 555.5,1167.1 554,1166.7 552,1166.1 551,1165.5 549.5,1165.2 548,1164.7 546.5,1164.1 545,1163 544,1162.3 543.4,1161.6 541.9,1159.9 540.4,1158 538.9,1156.4 537.4,1155.1 536,1154.3 534.4,1153.4 532.9,1153 531.4,1152.3 529.8,1151.6 528,1150.9 526.8,1150.8 525.3,1150 523.8,1149.4 522.3,1148.8 520.8,1148.3 520,1147.8 519.3,1147.6 517.8,1147 516.2,1146.1 514.7,1144.9 513.2,1143.9 512,1143.2 510.2,1141.9 508.7,1141.3 507.2,1140.7 505.7,1140 504,1139.2 502.6,1138.8 501.1,1138.3 499.6,1137.5 498.1,1136.8 496.6,1136.4Z" fill="#f9c9c4" fill-opacity="0.8" stroke="#f2958c" stroke-width="1.6"/>
<path d="M496.6,1127.5 498.1,1127.7 499.6,1128.3 501.1,1128.7 502.6,1129.1 504,1129.9 505.7,1130.9 507.2,1132.1 508.7,1133.5 510.2,1135.1 512,1136.3 513.2,1137.2 514.7,1137.9 516.2,1138.9 518,1140.1 519.3,1141.3 520.8,1143.5 522.3,1145.6 524,1147.2 525.3,1147.7 526.8,1148.4 528.3,1148.5 530,1149 531.4,1150.1 532.9,1151.8 534,1153.7 535.9,1165.1 537,1174.2 538.9,1191.2 540,1197.8 541.9,1202 543.4,1203.5 544,1203.5 545,1203.9 546.5,1204.2 548,1204.3 549.5,1204.3 550,1204.3 551,1204.1 552.5,1204.3 554,1204.7 556,1205.8 557,1207.1 558.5,1210.3 560.1,1214 562,1218.2 563.1,1219.4 564.6,1221 566.1,1222.4 567.6,1224 569.1,1225.1 570,1225.9 570.6,1226.7 572.1,1227.8 573.6,1228.5 575.2,1229.7 576.7,1230.7 578,1232 579.7,1233.8 581.2,1236.1 582.7,1238 584.2,1240.3 586,1241.9 587.2,1243 588.8,1244.1 590.3,1245.5 591.8,1246.4 593.3,1247.7 594,1248.3 594.8,1248.9 596.3,1249.7 597.8,1250.4 599.3,1251.1 600.9,1252 602,1252.2 603.9,1252.9 605.4,1253.7 606.9,1254.1 608.4,1254.4 610,1255.1 611.4,1255.8 612.9,1256.1 614.5,1256.4 616,1256.9 617.5,1257.1 618,1257.1 619,1256.9 620.5,1256.2 622,1255.3 622,1262.6 620.5,1263.7 619,1264.8 618,1265.1 617.5,1265.4 616,1265 614.5,1264.4 612.9,1263.9 611.4,1263.3 610,1262.9 608.4,1262.3 606.9,1262 605.4,1261.4 603.9,1260.9 602,1260 600.9,1259.6 599.3,1258.8 597.8,1257.9 596.3,1257.1 594.8,1256.3 594,1256 593.3,1255.5 591.8,1254.7 590.3,1253.6 588.8,1252.4 587.2,1251.2 586,1250 584.2,1247.9 582.7,1245.9 581.2,1243.8 579.7,1241.9 578,1240.1 576.7,1238.9 575.2,1237.9 573.6,1236.6 572.1,1235.2 570.6,1234.1 570,1233.6 569.1,1232.9 567.6,1231.9 566.1,1230.6 564.6,1229.3 563.1,1227.5 562,1225.9 560.1,1222 558.5,1218.2 557,1215.1 556,1214.3 554,1213.4 552.5,1213 551,1212.8 550,1212.7 549.5,1212.5 548,1212.5 546.5,1212.2 545,1212 544,1212.1 543.4,1212.1 541.9,1210.4 540,1206.4 538.9,1200 537,1182.4 535.9,1173.6 534,1162.4 532.9,1160.1 531.4,1158.2 530,1157.4 528.3,1156.6 526.8,1156.1 525.3,1155.8 524,1155.3 522.3,1153.5 520.8,1151.3 519.3,1149.4 518,1147.8 516.2,1146.2 514.7,1145.5 513.2,1144.6 512,1143.9 510.2,1142.7 508.7,1141.6 507.2,1140.3 505.7,1139.3 504,1138.3 502.6,1137.7 501.1,1137.2 499.6,1136.8 498.1,1136.5 496.6,1136.1Z" fill="#c9c9f7" fill-opacity="0.8" stroke="#9393ee" stroke-width="1.6"/>
<line x1="514.20" y1="1123.80" x2="514.20" y2="1321.50" stroke="#000" stroke-width="2.0" />
<line x1="545.00" y1="1123.80" x2="545.00" y2="1321.50" stroke="#000" stroke-width="2.0" />
<line x1="622.40" y1="1123.80" x2="622.40" y2="1330.10" stroke="#000" stroke-width="2.0" />
<path d="M496.6,1132.2 498.1,1132.7 499.6,1133.1 501.1,1133.6 502.6,1134.4 504,1134.9 505.7,1135.6 507.2,1136.4 508.7,1137.2 510.2,1137.6 512,1138.8 513.2,1139.6 514.7,1140.4 516.2,1141.5 517.8,1142.4 519.3,1143.2 520,1143.4 520.8,1144 522.3,1144.8 523.8,1145.5 525.3,1146.2 526.8,1147.1 528,1147.4 529.8,1148.1 531.4,1148.6 532.9,1149 534.4,1149.2 536,1150.1 537.4,1151.1 538.9,1152.6 540.4,1154.2 541.9,1156.2 543.4,1157.7 544,1158.1 545,1158.7 546.5,1159.4 548,1160.1 549.5,1160.4 551,1161.1 552,1161.5 554,1162.5 555.5,1162.8 557,1163.4 558,1163.5 558.5,1164.2 560.1,1165.3 561.6,1166.9 563.1,1168.6 564,1169.7 564.6,1170.4 566.1,1172.8 567.6,1175.9 569.1,1178.5 570,1179.9 570.6,1180.6 572.1,1181.9 573.6,1182.9 575.2,1183.8 576.7,1184.6 578,1185.8 579.7,1187.6 581.2,1189.5 582.7,1191.7 584.2,1193.9 586,1196.1 587.2,1197.6 588.8,1199 590.3,1200.4 591.8,1201.7 593.3,1203.2 594,1203.7 594.8,1204.5 596.3,1206.1 597.8,1207.8 599.3,1209.3 600.9,1210.9 602,1212 603.9,1213.4 605.4,1214.7 606.9,1215.7 608.4,1217 610,1218 611.4,1219 612.9,1219.8 614.5,1220.5 616,1221.2 617.5,1221.9 618,1222.2 619,1222.4 620.5,1223.2 622,1223.8" fill="none" stroke="#e3231b" stroke-width="4.6" stroke-linejoin="round" stroke-linecap="round"/>
<path d="M496.6,1131.8 498.1,1132.2 499.6,1132.8 501.1,1132.8 502.6,1133.4 504,1134.1 505.7,1135 507.2,1136 508.7,1137.5 510.2,1138.6 512,1140.1 513.2,1140.8 514.7,1141.9 516.2,1142.8 518,1144.2 519.3,1145.5 520.8,1147.4 522.3,1149.5 524,1151 525.3,1151.5 526.8,1151.9 528.3,1152.4 530,1153.1 531.4,1154 532.9,1156 534,1158.2 535.9,1169.3 537,1177.9 538.9,1195.2 540,1201.5 541.9,1205.5 543.4,1207.1 544,1207.5 545,1207.7 546.5,1207.9 548,1208.3 549.5,1208.3 550,1208.3 551,1208.4 552.5,1208.6 554,1208.8 556,1209.9 557,1210.8 558.5,1214 560.1,1217.9 562,1222 563.1,1223.6 564.6,1225.2 566.1,1226.6 567.6,1227.8 569.1,1229.1 570,1229.8 570.6,1230.6 572.1,1231.5 573.6,1232.8 575.2,1233.7 576.7,1235 578,1236.2 579.7,1238.4 581.2,1240.1 582.7,1242.5 584.2,1244.5 586,1246.1 587.2,1247.1 588.8,1248.7 590.3,1249.5 591.8,1250.3 593.3,1251.6 594,1251.9 594.8,1252.1 596.3,1253 597.8,1253.8 599.3,1254.3 600.9,1255.2 602,1256 603.9,1256.8 605.4,1257.6 606.9,1258.4 608.4,1258.9 610,1259.1 611.4,1259.6 612.9,1260 614.5,1260.5 616,1260.6 617.5,1261.1 618,1261.1 619,1260.8 620.5,1260 622,1259.2" fill="none" stroke="#2319e0" stroke-width="4.6" stroke-linejoin="round" stroke-linecap="round"/>
<line x1="496.60" y1="1123.80" x2="496.60" y2="1321.50" stroke="#000" stroke-width="2.0" />
<line x1="488.00" y1="1321.50" x2="623.40" y2="1321.50" stroke="#000" stroke-width="2.0" />
<line x1="488.00" y1="1135.40" x2="496.60" y2="1135.40" stroke="#000" stroke-width="2.0" />
<line x1="550.20" y1="1321.50" x2="550.20" y2="1330.10" stroke="#000" stroke-width="2.0" />
<text x="484.30" y="1147.40" font-size="27.5" text-anchor="end" font-weight="normal" fill="#000" >5</text>
<text x="484.30" y="1333.50" font-size="27.5" text-anchor="end" font-weight="normal" fill="#000" >0</text>
<text x="550.60" y="1362.20" font-size="27.5" text-anchor="middle" font-weight="normal" fill="#000" >-2</text>
<text x="622.90" y="1362.20" font-size="27.5" text-anchor="middle" font-weight="normal" fill="#000" >0</text>
<path d="M532.20,1114.00 C532.76,1114.00 533.24,1080.20 533.80,1080.20 C534.40,1080.20 534.90,1114.00 535.50,1114.00 C536.13,1114.00 536.67,1080.20 537.30,1080.20 C537.93,1080.20 538.47,1114.00 539.10,1114.00 C539.73,1114.00 540.27,1080.20 540.90,1080.20 C541.53,1080.20 542.07,1114.00 542.70,1114.00 C543.47,1114.00 544.13,1080.20 544.90,1080.20 C545.60,1080.20 546.20,1114.00 546.90,1114.00" fill="none" stroke="#2424d6" stroke-width="1.7" stroke-linejoin="round" stroke-linecap="round"/>
<rect x="718.00" y="1123.80" width="11.8" height="197.70" fill="#95d4f4"/>
<path d="M682.4,1240.8 683.9,1240.3 685.4,1239.8 686.9,1239.7 688.4,1239.5 690,1238.9 691.4,1238.7 692.9,1238.5 694.4,1237.8 695.9,1236.8 697.4,1235.7 698,1235.3 698.9,1234 700.4,1231.1 702,1228.5 703.4,1226.9 704.9,1224.9 706,1224.6 707.9,1227.3 709.4,1230.9 711,1232.6 712.4,1232.7 713.9,1232.4 715.4,1232.4 716.9,1232.3 718,1232.4 719.9,1231.4 721.4,1230.9 722.9,1229.6 724.4,1228.4 726,1227.2 727.4,1226.3 728.9,1225.4 730.4,1224.6 732,1223.2 733.4,1221 734.9,1218.5 736,1217.4 737.9,1220.4 739.4,1224.1 740,1224.9 741,1225.8 742.5,1228 744,1228.8 745.5,1228.6 747,1227.2 748.5,1225.5 750,1223.2 751.5,1221.4 753,1218.5 754.5,1216 756,1213.3 757.5,1211 759,1208.3 760.5,1205.8 762,1203 763.5,1200.6 765,1198.1 766.5,1195.4 768,1192.8 769.5,1190.1 770,1189 771,1186.9 772.5,1184.1 774,1181.2 775.5,1178.2 777,1175.3 778,1173.5 780,1169.7 781.5,1166.8 783,1163.9 784.5,1161 786,1158.3 787.5,1155.4 789,1152.5 790.5,1149.7 792,1147.3 793.5,1145.4 794,1145 795,1144.4 796.5,1143.7 798,1143 799.5,1142.5 801,1141.8 802,1141.2 804,1139.7 805.5,1138.7 807,1137.2 808.5,1136.3 810,1135.1 810,1145.2 808.5,1146.2 807,1147.5 805.5,1148.4 804,1149.4 802,1150.6 801,1151.1 799.5,1151.6 798,1152.3 796.5,1153.1 795,1153.9 794,1154.7 793.5,1155.4 792,1157.3 790.5,1160.2 789,1163.5 787.5,1166.6 786,1169.3 784.5,1171.9 783,1174.3 781.5,1176.7 780,1179.2 778,1182.5 777,1184.6 775.5,1187.4 774,1190.7 772.5,1194.2 771,1197.5 770,1199.6 769.5,1200.7 768,1203.2 766.5,1205.6 765,1208.2 763.5,1210.5 762,1212.8 760.5,1215.7 759,1218.4 757.5,1220.6 756,1223.2 754.5,1225.9 753,1228.4 751.5,1230.7 750,1233 748.5,1235 747,1236.9 745.5,1238.5 744,1239.2 742.5,1238.1 741,1236.4 740,1235.1 739.4,1233.9 737.9,1229.9 736,1226.8 734.9,1227.7 733.4,1230.6 732,1233 730.4,1234.7 728.9,1235.7 727.4,1236.5 726,1237.3 724.4,1238.2 722.9,1239.3 721.4,1240.3 719.9,1241.1 718,1241.7 716.9,1242.3 715.4,1242.3 713.9,1242.5 712.4,1242.9 711,1243 709.4,1241 707.9,1237.8 706,1235.3 704.9,1235.5 703.4,1237.3 702,1239.4 700.4,1241.7 698.9,1244.3 698,1245.3 697.4,1245.8 695.9,1246.5 694.4,1247.1 692.9,1247.8 691.4,1248.5 690,1249 688.4,1249.8 686.9,1250.2 685.4,1250.6 683.9,1251 682.4,1251.5Z" fill="#f9c9c4" fill-opacity="0.8" stroke="#f2958c" stroke-width="1.6"/>
<path d="M682.4,1246.7 683.9,1246.6 685.4,1246.5 686.9,1246.2 688.4,1246.2 690,1245.9 691.4,1245.6 692.9,1245.5 694.4,1245.2 695.9,1244.5 697.4,1244.1 698,1243.9 698.9,1243 700.4,1241.2 702,1239.1 703.4,1237.2 704.9,1235.4 706,1234.9 707.9,1237 709.4,1239.9 710,1240.8 710.9,1242 712.4,1244.1 714,1245.1 715.4,1244.6 716.9,1243.3 718.4,1241.8 720,1240.9 721.4,1246 722,1248.8 722.9,1253 724.4,1260.1 725,1262.8 725.9,1268.4 727.4,1276.3 728,1277.1 728.9,1277.2 730.4,1276.8 732,1276.2 733.4,1275 734.9,1273.6 736.4,1272.1 738,1270.9 739.4,1270 741,1269.2 742.5,1268.6 744,1267.8 745.5,1267 746,1266.7 747,1266.5 748.5,1265.6 750,1265.1 751.5,1264.5 753,1263.7 754,1263.2 756,1262 757.5,1261.1 759,1260 760.5,1259.3 762,1258.8 763.5,1259.1 765,1259.5 766.5,1260 768,1260.3 769.5,1260.8 770,1260.7 771,1260.4 772.5,1260.5 774,1260.5 775.5,1260.3 777,1260.2 778,1260.2 780,1260.4 781.5,1260.5 783,1260.8 784.5,1260.9 786,1261.2 787.5,1261.1 789,1261 790.5,1260.5 792,1260.4 793.5,1260 794,1260 795,1259.8 796.5,1260.3 798,1260.4 799.5,1260.7 801,1260.8 802,1261 804,1260.5 805.5,1260.1 807,1259.3 808.5,1258.6 810,1257.6 810,1263.7 808.5,1264.5 807,1265.4 805.5,1266 804,1266.5 802,1266.9 801,1266.7 799.5,1266.5 798,1266.4 796.5,1266.4 795,1266.4 794,1266.5 793.5,1266.4 792,1266.4 790.5,1266.4 789,1266.6 787.5,1266.8 786,1267 784.5,1266.9 783,1266.8 781.5,1266.5 780,1266.2 778,1266.1 777,1266.1 775.5,1266.3 774,1266.6 772.5,1266.7 771,1266.9 770,1267.1 769.5,1267.3 768,1266.8 766.5,1266.5 765,1265.9 763.5,1265.3 762,1264.8 760.5,1265.1 759,1265.7 757.5,1266.5 756,1267.7 754,1269.1 753,1269.7 751.5,1270.5 750,1271.3 748.5,1272 747,1272.6 746,1273.3 745.5,1273.4 744,1274.1 742.5,1274.9 741,1275.6 739.4,1276.4 738,1277.3 736.4,1278.6 734.9,1279.9 733.4,1281.3 732,1281.9 730.4,1282.3 728.9,1282.9 728,1283 727.4,1282.1 725.9,1274.2 725,1268.9 724.4,1266.1 722.9,1258.9 722,1254.7 721.4,1251.9 720,1247 718.4,1247.7 716.9,1249.1 715.4,1250.5 714,1251 712.4,1250.1 710.9,1248.2 710,1247.1 709.4,1246.1 707.9,1243.4 706,1241.1 704.9,1241.4 703.4,1243.3 702,1245.2 700.4,1247.1 698.9,1249.3 698,1250.1 697.4,1250.1 695.9,1250.6 694.4,1251.3 692.9,1251.4 691.4,1251.7 690,1252.2 688.4,1252.4 686.9,1252.5 685.4,1252.9 683.9,1253 682.4,1253.1Z" fill="#c9c9f7" fill-opacity="0.8" stroke="#9393ee" stroke-width="1.6"/>
<line x1="700.00" y1="1123.80" x2="700.00" y2="1321.50" stroke="#000" stroke-width="2.0" />
<line x1="730.80" y1="1123.80" x2="730.80" y2="1321.50" stroke="#000" stroke-width="2.0" />
<line x1="808.20" y1="1123.80" x2="808.20" y2="1330.10" stroke="#000" stroke-width="2.0" />
<path d="M682.4,1246.1 683.9,1245.8 685.4,1245.3 686.9,1245.2 688.4,1244.8 690,1244 691.4,1243.5 692.9,1242.9 694.4,1242 695.9,1241 697.4,1240.1 698,1239.7 698.9,1238.9 700.4,1236.6 702,1234.3 703.4,1232.5 704.9,1230.9 706,1230.3 707.9,1232.7 709.4,1236.1 711,1238 712.4,1237.8 713.9,1237.7 715.4,1237.7 716.9,1237.2 718,1236.9 719.9,1236 721.4,1235.4 722.9,1234.3 724.4,1233.2 726,1232.1 727.4,1231.3 728.9,1230.3 730.4,1229 732,1227.8 733.4,1225.7 734.9,1223 736,1222.1 737.9,1225.4 739.4,1229.4 740,1230.3 741,1231.4 742.5,1233.5 744,1234.5 745.5,1233.8 747,1232.4 748.5,1230.3 750,1228.1 751.5,1225.9 753,1223.3 754.5,1220.3 756,1217.8 757.5,1215.3 759,1212.6 760.5,1210.3 762,1207.9 763.5,1205.1 765,1202.8 766.5,1200.4 768,1197.8 769.5,1195.3 770,1194.6 771,1192.6 772.5,1189.7 774,1186.6 775.5,1183.3 777,1179.9 778,1178.1 780,1174.4 781.5,1171.5 783,1169.1 784.5,1166.6 786,1163.8 787.5,1160.9 789,1157.9 790.5,1154.8 792,1152.3 793.5,1150.1 794,1150 795,1149.6 796.5,1148.6 798,1147.9 799.5,1147.2 801,1146.4 802,1145.8 804,1144.4 805.5,1143.2 807,1142.3 808.5,1141.2 810,1139.9" fill="none" stroke="#e3231b" stroke-width="4.6" stroke-linejoin="round" stroke-linecap="round"/>
<path d="M682.4,1249.6 683.9,1249.7 685.4,1249.6 686.9,1249.4 688.4,1249.3 690,1249.2 691.4,1248.7 692.9,1248.5 694.4,1248.4 695.9,1247.9 697.4,1247.3 698,1247.3 698.9,1246.6 700.4,1244.3 702,1242.3 703.4,1240.4 704.9,1238.6 706,1237.9 707.9,1240.4 709.4,1243.2 710,1243.9 710.9,1245.1 712.4,1247 714,1247.7 715.4,1246.9 716.9,1245.6 718.4,1244.2 720,1243.9 721.4,1249 722,1252.2 722.9,1256.6 724.4,1263.6 725,1266 725.9,1271.3 727.4,1279.1 728,1279.7 728.9,1279.6 730.4,1279.3 732,1278.8 733.4,1277.6 734.9,1276.4 736.4,1274.8 738,1273.7 739.4,1273.2 741,1272.4 742.5,1271.5 744,1271.1 745.5,1270.3 746,1269.9 747,1269.6 748.5,1269 750,1268 751.5,1267.4 753,1266.4 754,1265.9 756,1264.8 757.5,1263.8 759,1262.7 760.5,1262.2 762,1262 763.5,1262.2 765,1262.8 766.5,1263.5 768,1263.9 769.5,1264.1 770,1264.1 771,1263.9 772.5,1263.5 774,1263.3 775.5,1262.9 777,1262.5 778,1262.3 780,1262.6 781.5,1263 783,1263.6 784.5,1264.1 786,1264.2 787.5,1264.2 789,1263.8 790.5,1263.2 792,1263 793.5,1262.8 794,1262.8 795,1263.1 796.5,1263.6 798,1263.7 799.5,1264.3 801,1264.6 802,1264.5 804,1264.2 805.5,1263.6 807,1262.5 808.5,1261.7 810,1261" fill="none" stroke="#2319e0" stroke-width="4.6" stroke-linejoin="round" stroke-linecap="round"/>
<line x1="682.40" y1="1123.80" x2="682.40" y2="1321.50" stroke="#000" stroke-width="2.0" />
<line x1="673.80" y1="1321.50" x2="809.20" y2="1321.50" stroke="#000" stroke-width="2.0" />
<line x1="673.80" y1="1140.00" x2="682.40" y2="1140.00" stroke="#000" stroke-width="2.0" />
<line x1="736.00" y1="1321.50" x2="736.00" y2="1330.10" stroke="#000" stroke-width="2.0" />
<text x="670.10" y="1152.00" font-size="27.5" text-anchor="end" font-weight="normal" fill="#000" >11</text>
<text x="670.10" y="1333.50" font-size="27.5" text-anchor="end" font-weight="normal" fill="#000" >0</text>
<text x="736.40" y="1362.20" font-size="27.5" text-anchor="middle" font-weight="normal" fill="#000" >-2</text>
<text x="808.70" y="1362.20" font-size="27.5" text-anchor="middle" font-weight="normal" fill="#000" >0</text>
<path d="M718.00,1114.00 C718.56,1114.00 719.04,1080.20 719.60,1080.20 C720.20,1080.20 720.70,1114.00 721.30,1114.00 C721.93,1114.00 722.47,1080.20 723.10,1080.20 C723.73,1080.20 724.27,1114.00 724.90,1114.00 C725.53,1114.00 726.07,1080.20 726.70,1080.20 C727.33,1080.20 727.87,1114.00 728.50,1114.00 C729.27,1114.00 729.93,1080.20 730.70,1080.20 C731.40,1080.20 732.00,1114.00 732.70,1114.00" fill="none" stroke="#2424d6" stroke-width="1.7" stroke-linejoin="round" stroke-linecap="round"/>
<rect x="903.00" y="1123.80" width="11.8" height="197.70" fill="#95d4f4"/>
<path d="M867.4,1272.5 868.9,1272.9 870.4,1273 871.9,1273.2 873.4,1273.5 874.9,1273.5 876,1273.5 877.9,1273.4 879.4,1273.1 880.9,1273 882.4,1272.5 884,1272.1 885.4,1271.1 886.9,1269.4 888.4,1267.4 890,1265.8 891.4,1264.5 892.9,1263.3 894.4,1262.1 896,1261.7 897.4,1262.2 898.9,1263.4 900.4,1265 902,1266 903.4,1266.3 904.9,1266.9 906.4,1267.2 907.9,1267.5 909.4,1268 910,1268 910.9,1268.4 912.4,1269.1 913.9,1269.6 915.4,1269.9 916,1269.9 916.9,1269.7 918.4,1268.8 919.9,1267.7 921.4,1266.5 922,1266.2 922.9,1265.1 924.4,1263.2 926,1262.1 927.5,1262.3 929,1262.7 930.5,1263.7 932,1264.2 933.5,1264.7 935,1265.3 936.5,1266.1 938,1266.6 939.5,1267.2 940,1267.5 941,1267.9 942.5,1268.5 944,1269 945.5,1269.8 947,1270 948,1270.2 950,1269.8 951.5,1269.5 953,1268.9 954.5,1268.3 956,1268 957.5,1267.9 959,1267.8 960.5,1267.8 962,1267.9 963.5,1267.9 964,1268.1 965,1268.1 966.5,1268.1 968,1268.1 969.5,1268.4 971,1268.7 972,1268.7 974,1268.9 975.5,1269.3 977,1269.3 978.5,1269.6 980,1269.9 981.5,1270.1 982,1270 983,1270.4 984.5,1270.6 986,1270.7 987.5,1271.2 989,1271.6 990.5,1271.7 992,1271.8 993.5,1272.2 995,1272.4 995,1280.6 993.5,1280.2 992,1280.1 990.5,1279.8 989,1279.7 987.5,1279.5 986,1279.2 984.5,1279 983,1278.5 982,1278.1 981.5,1278.1 980,1278 978.5,1277.6 977,1277.4 975.5,1277.2 974,1277.1 972,1276.6 971,1276.6 969.5,1276.4 968,1276.3 966.5,1275.8 965,1276 964,1275.8 963.5,1275.9 962,1276 960.5,1276.2 959,1276.2 957.5,1276.5 956,1276.4 954.5,1276.3 953,1276.6 951.5,1277.2 950,1277.5 948,1277.9 947,1278.1 945.5,1278 944,1277.5 942.5,1277.1 941,1276.5 940,1275.8 939.5,1275.6 938,1274.8 936.5,1273.8 935,1273.1 933.5,1272.5 932,1271.9 930.5,1271.2 929,1270.7 927.5,1270.3 926,1270.2 924.4,1271.5 922.9,1273.3 922,1274.1 921.4,1274.6 919.9,1275.8 918.4,1276.8 916.9,1277.7 916,1278 915.4,1277.7 913.9,1277.5 912.4,1276.9 910.9,1276.2 910,1275.8 909.4,1275.9 907.9,1275.5 906.4,1275.5 904.9,1275.4 903.4,1275.2 902,1274.7 900.4,1273.7 898.9,1272.1 897.4,1270.8 896,1270.2 894.4,1270.4 892.9,1271.3 891.4,1272.8 890,1274 888.4,1275.8 886.9,1277.8 885.4,1279.4 884,1280.2 882.4,1280.3 880.9,1280.5 879.4,1280.6 877.9,1280.7 876,1280.7 874.9,1280.9 873.4,1280.6 871.9,1280.8 870.4,1280.9 868.9,1280.9 867.4,1280.8Z" fill="#f9c9c4" fill-opacity="0.8" stroke="#f2958c" stroke-width="1.6"/>
<path d="M867.4,1272.2 868.9,1271.9 870.4,1271.9 871.9,1271.7 873.4,1271.7 874.9,1271.7 876,1271.9 877.9,1272 879.4,1271.9 880.9,1271.6 882.4,1271.3 884,1270.9 885.4,1269.6 886.9,1267.4 888.4,1264.5 890,1262 891.4,1259.9 892.9,1257.9 894.4,1256.2 895,1255.9 895.9,1256.1 897.4,1257.8 898.9,1259.4 900,1259.9 901.9,1260.1 903.4,1260.1 904,1259.8 904.9,1254.9 906.4,1234.7 908,1213.7 909.4,1201.2 910.9,1189.5 912,1182 913.9,1170.5 915.4,1161.8 916,1158.3 916.9,1150.1 918.4,1137.7 919,1136.1 919.9,1137.5 921,1141.9 922.9,1159.7 924,1170.1 926,1185.1 927.5,1195.3 928,1198.1 929,1203.1 930.5,1210.3 932,1216.6 933.5,1222.1 934,1224.2 935,1227.4 936.5,1232.1 938,1236.5 939.5,1240.4 940,1241.7 941,1244 942.5,1247.5 944,1250.4 945.5,1253.3 946,1254.3 947,1255.8 948.5,1258.1 950,1260.2 951.5,1261.7 953,1263.1 954,1264.1 956,1265.5 957.5,1266.4 959,1267.4 960.5,1268.5 962,1269.6 963.5,1270.8 965,1272.2 966.5,1273.8 968,1274.9 969.5,1275.5 970,1275.8 971,1276.2 972.5,1276.5 974,1277.2 975.5,1277.9 976,1278.2 977,1278.4 978.5,1278.9 980,1279.2 981.5,1279.4 982,1279.3 983,1279.7 984.5,1280.1 986,1280.3 987.5,1280.3 988,1280.2 989,1279.9 990.5,1279.7 992,1279.5 993.5,1279.5 995,1279.5 995,1288.4 993.5,1288.2 992,1288 990.5,1287.8 989,1287.9 988,1287.6 987.5,1287.6 986,1287.7 984.5,1287.5 983,1287 982,1286.9 981.5,1286.9 980,1286.6 978.5,1286.4 977,1286.2 976,1286.1 975.5,1285.9 974,1285.3 972.5,1284.9 971,1284.4 970,1284 969.5,1283.7 968,1282.7 966.5,1281.5 965,1280.4 963.5,1279 962,1277.9 960.5,1276.9 959,1276 957.5,1275 956,1273.8 954,1272.2 953,1271.1 951.5,1269.3 950,1267.6 948.5,1265.7 947,1263.6 946,1262.1 945.5,1261.3 944,1258.6 942.5,1255.7 941,1252.4 940,1250 939.5,1248.8 938,1244.9 936.5,1240.4 935,1235.4 934,1232.3 933.5,1230.1 932,1224.3 930.5,1218 929,1211 928,1206.1 927.5,1203.1 926,1193.2 924,1178 922.9,1167.2 921,1149.5 919.9,1145.1 919,1143.4 918.4,1145 916.9,1157.7 916,1165.9 915.4,1169.5 913.9,1178.2 912,1189.9 910.9,1197.5 909.4,1209.3 908,1222.2 906.4,1243.5 904.9,1263.8 904,1268.5 903.4,1268.7 901.9,1268.4 900,1268.2 898.9,1267.6 897.4,1265.6 895.9,1263.8 895,1263.3 894.4,1263.8 892.9,1265.2 891.4,1267.6 890,1270.1 888.4,1272.7 886.9,1275.5 885.4,1278.1 884,1279.5 882.4,1279.7 880.9,1280 879.4,1280.1 877.9,1280 876,1279.7 874.9,1279.5 873.4,1279.6 871.9,1279.6 870.4,1279.8 868.9,1280 867.4,1280.2Z" fill="#c9c9f7" fill-opacity="0.8" stroke="#9393ee" stroke-width="1.6"/>
<line x1="885.00" y1="1123.80" x2="885.00" y2="1321.50" stroke="#000" stroke-width="2.0" />
<line x1="915.80" y1="1123.80" x2="915.80" y2="1321.50" stroke="#000" stroke-width="2.0" />
<line x1="993.20" y1="1123.80" x2="993.20" y2="1330.10" stroke="#000" stroke-width="2.0" />
<path d="M867.4,1277.2 868.9,1277 870.4,1277.1 871.9,1277.2 873.4,1276.8 874.9,1277 876,1277 877.9,1276.8 879.4,1276.6 880.9,1276.8 882.4,1276.8 884,1276.6 885.4,1275.8 886.9,1274.2 888.4,1272.3 890,1270.5 891.4,1269.2 892.9,1267.7 894.4,1266.3 896,1265.9 897.4,1266.3 898.9,1267.5 900.4,1268.8 902,1269.9 903.4,1270.3 904.9,1270.6 906.4,1271.1 907.9,1271.3 909.4,1271.8 910,1271.8 910.9,1272.2 912.4,1272.6 913.9,1273.5 915.4,1274 916,1274.1 916.9,1273.7 918.4,1272.9 919.9,1271.4 921.4,1269.8 922,1269.4 922.9,1268.6 924.4,1266.6 926,1265.8 927.5,1266.1 929,1266.4 930.5,1267.1 932,1268 933.5,1268.4 935,1269.2 936.5,1270.1 938,1270.8 939.5,1271.5 940,1271.9 941,1272.2 942.5,1273 944,1273.5 945.5,1274 947,1274 948,1274.2 950,1274 951.5,1273.5 953,1272.6 954.5,1272.5 956,1272 957.5,1271.8 959,1271.9 960.5,1271.9 962,1271.7 963.5,1271.8 964,1272.1 965,1271.8 966.5,1272.2 968,1272.6 969.5,1272.8 971,1272.8 972,1273.1 974,1273.1 975.5,1273.3 977,1273.4 978.5,1273.8 980,1274 981.5,1274.2 982,1274.3 983,1274.4 984.5,1274.4 986,1274.7 987.5,1275.2 989,1275.2 990.5,1275.7 992,1276.2 993.5,1276.6 995,1276.7" fill="none" stroke="#e3231b" stroke-width="4.6" stroke-linejoin="round" stroke-linecap="round"/>
<path d="M867.4,1275.5 868.9,1275.7 870.4,1275.7 871.9,1275.8 873.4,1275.8 874.9,1276 876,1275.9 877.9,1276 879.4,1275.9 880.9,1275.7 882.4,1275.3 884,1274.9 885.4,1273.5 886.9,1271.3 888.4,1268.2 890,1265.8 891.4,1263.6 892.9,1261.6 894.4,1260.2 895,1260.1 895.9,1260.4 897.4,1262.1 898.9,1263.8 900,1264.1 901.9,1264 903.4,1264 904,1263.8 904.9,1258.9 906.4,1238.9 908,1218.1 909.4,1205.6 910.9,1194.1 912,1186.6 913.9,1174.6 915.4,1165.9 916,1162.2 916.9,1153.9 918.4,1141.4 919,1139.9 919.9,1141.6 921,1145.9 922.9,1163.6 924,1174 926,1189 927.5,1198.5 928,1201.8 929,1206.7 930.5,1213.9 932,1220.1 933.5,1226 934,1228 935,1231.5 936.5,1236.4 938,1241.1 939.5,1245.1 940,1246.3 941,1248.5 942.5,1251.6 944,1254.8 945.5,1257.3 946,1258.1 947,1259.3 948.5,1261.3 950,1263.1 951.5,1265.2 953,1266.8 954,1267.9 956,1269.7 957.5,1270.7 959,1271.6 960.5,1272.9 962,1274 963.5,1275.3 965,1276.7 966.5,1278.1 968,1279.1 969.5,1280 970,1280 971,1280.2 972.5,1280.8 974,1281.4 975.5,1281.9 976,1282.4 977,1282.6 978.5,1282.6 980,1282.5 981.5,1282.6 982,1282.5 983,1282.8 984.5,1283 986,1283.6 987.5,1284.1 988,1284.1 989,1284.3 990.5,1284.4 992,1284.2 993.5,1284.1 995,1284.2" fill="none" stroke="#2319e0" stroke-width="4.6" stroke-linejoin="round" stroke-linecap="round"/>
<line x1="867.40" y1="1123.80" x2="867.40" y2="1321.50" stroke="#000" stroke-width="2.0" />
<line x1="858.80" y1="1321.50" x2="994.20" y2="1321.50" stroke="#000" stroke-width="2.0" />
<line x1="858.80" y1="1136.00" x2="867.40" y2="1136.00" stroke="#000" stroke-width="2.0" />
<line x1="921.00" y1="1321.50" x2="921.00" y2="1330.10" stroke="#000" stroke-width="2.0" />
<text x="855.10" y="1148.00" font-size="27.5" text-anchor="end" font-weight="normal" fill="#000" >12</text>
<text x="855.10" y="1333.50" font-size="27.5" text-anchor="end" font-weight="normal" fill="#000" >0</text>
<text x="921.40" y="1362.20" font-size="27.5" text-anchor="middle" font-weight="normal" fill="#000" >-2</text>
<text x="993.70" y="1362.20" font-size="27.5" text-anchor="middle" font-weight="normal" fill="#000" >0</text>
<path d="M903.00,1114.00 C903.56,1114.00 904.04,1080.20 904.60,1080.20 C905.20,1080.20 905.70,1114.00 906.30,1114.00 C906.93,1114.00 907.47,1080.20 908.10,1080.20 C908.73,1080.20 909.27,1114.00 909.90,1114.00 C910.53,1114.00 911.07,1080.20 911.70,1080.20 C912.33,1080.20 912.87,1114.00 913.50,1114.00 C914.27,1114.00 914.93,1080.20 915.70,1080.20 C916.40,1080.20 917.00,1114.00 917.70,1114.00" fill="none" stroke="#2424d6" stroke-width="1.7" stroke-linejoin="round" stroke-linecap="round"/>
<rect x="1088.60" y="1123.80" width="11.8" height="197.70" fill="#95d4f4"/>
<path d="M1053,1257.1 1054.5,1256.9 1056,1256.8 1057.5,1256.9 1059,1256.9 1060.6,1257 1062,1257.2 1063.6,1257.4 1065.1,1257.2 1066.6,1256.8 1068.1,1256.6 1070,1256.2 1071.1,1255.5 1072.7,1254.2 1074.2,1253 1075.7,1251.3 1077.2,1250.5 1078,1250.4 1078.7,1250.3 1080.2,1249.6 1081.7,1249.3 1083.2,1249 1084.8,1248.6 1086,1248.6 1087.8,1249.2 1089.3,1249.7 1090.8,1250.3 1092,1250.8 1093.8,1251.2 1095.3,1251.6 1096.8,1252.2 1098.4,1252.6 1100,1252.8 1101.4,1252.6 1102.9,1251.6 1104.4,1249.9 1106,1248.1 1107.4,1246 1108.9,1243.5 1110,1242.9 1112,1243.9 1113.5,1245.7 1115,1247.1 1116,1247.9 1118,1248.8 1119.5,1249.7 1121,1250.3 1122.5,1251.1 1124,1251.4 1125.6,1251.4 1127.1,1251.3 1128.6,1251.3 1130.1,1251.2 1132,1251.4 1133.1,1251.6 1134.6,1251.7 1136.2,1251.7 1137.7,1251.4 1139.2,1251 1140,1251 1140.7,1250.8 1142.2,1250.6 1143.7,1250.6 1145.2,1250.5 1146.7,1250 1148,1249.8 1149.8,1249.8 1151.3,1250.3 1152.8,1251.1 1154.3,1252.1 1156,1252.9 1157.3,1253.6 1158.8,1254 1160.3,1254.6 1161.9,1254.7 1163.4,1254.8 1164,1254.8 1164.9,1254.8 1166.4,1254.5 1167.9,1254.5 1169.4,1254.5 1170.9,1254.3 1172,1254.4 1174,1254.5 1175.5,1255 1177,1255.3 1178.5,1255.7 1180,1256.1 1180,1264.6 1178.5,1264 1177,1263.2 1175.5,1262.6 1174,1262.3 1172,1262.1 1170.9,1262 1169.4,1262.3 1167.9,1262.8 1166.4,1263 1164.9,1262.9 1164,1262.9 1163.4,1262.8 1161.9,1262.4 1160.3,1261.9 1158.8,1261.4 1157.3,1260.9 1156,1260.6 1154.3,1260.2 1152.8,1259.7 1151.3,1259.2 1149.8,1258.8 1148,1258.5 1146.7,1258.4 1145.2,1258.4 1143.7,1258.8 1142.2,1259 1140.7,1259.1 1140,1259 1139.2,1259.1 1137.7,1259.3 1136.2,1259.3 1134.6,1259.8 1133.1,1259.9 1132,1259.9 1130.1,1259.9 1128.6,1259.8 1127.1,1259.4 1125.6,1259.4 1124,1259.1 1122.5,1258.7 1121,1258.1 1119.5,1257.9 1118,1257.1 1116,1256.2 1115,1255.5 1113.5,1253.9 1112,1252.3 1110,1251.2 1108.9,1251.8 1107.4,1253.9 1106,1256 1104.4,1257.8 1102.9,1259.3 1101.4,1260.4 1100,1260.9 1098.4,1260.5 1096.8,1259.8 1095.3,1259.5 1093.8,1259 1092,1258.6 1090.8,1258.5 1089.3,1258.1 1087.8,1257.5 1086,1257.3 1084.8,1257.1 1083.2,1257.1 1081.7,1257.4 1080.2,1257.8 1078.7,1257.9 1078,1258.3 1077.2,1258.6 1075.7,1259.4 1074.2,1260.9 1072.7,1262.4 1071.1,1263.5 1070,1264.1 1068.1,1264.5 1066.6,1264.7 1065.1,1265.2 1063.6,1265.3 1062,1265.4 1060.6,1265.4 1059,1265.1 1057.5,1264.8 1056,1264.8 1054.5,1264.5 1053,1264.5Z" fill="#f9c9c4" fill-opacity="0.8" stroke="#f2958c" stroke-width="1.6"/>
<path d="M1053,1251.9 1054.5,1251.9 1056,1251.7 1057.5,1251.9 1059,1251.5 1060.6,1251.6 1062,1251.6 1063.6,1251.6 1065.1,1251.3 1066.6,1251.6 1068.1,1251.9 1070,1252.2 1071.1,1252.2 1072.7,1251.1 1074.2,1249.3 1076,1246.9 1077.2,1245.4 1078.7,1243.5 1080.2,1241.6 1082,1240.6 1083.2,1240.1 1084.8,1240.1 1086.3,1240.1 1088,1239.8 1089.3,1238.9 1090.8,1238.1 1092,1237.2 1093.8,1236.2 1095.3,1235.5 1096,1235.4 1096.8,1233.8 1098.4,1227.9 1100,1219.8 1101.4,1211.4 1102.9,1199.8 1104,1191.8 1105.9,1177.7 1107.4,1166.9 1108,1163.6 1108.9,1158.6 1110.5,1150.7 1112,1143.7 1113.5,1136.2 1115,1131.8 1116.5,1134.4 1118,1139.5 1119.5,1144.7 1121,1150.5 1122,1154 1122.5,1156.1 1124.1,1162.4 1125.6,1167.9 1127,1172.3 1128.6,1176 1130.1,1178.7 1132,1182 1133.1,1184.3 1134.6,1186.6 1136.2,1188.4 1137.7,1191 1139.2,1193.1 1140,1194 1140.7,1194.6 1142.2,1196.7 1143.7,1198.5 1145.2,1200.3 1146.7,1202.5 1148,1204.4 1149.8,1207.4 1151.3,1209.7 1152.8,1212.3 1154.3,1214.7 1156,1217.7 1157.3,1219.8 1158.8,1222.1 1160.3,1224.7 1161.9,1227 1163.4,1229.4 1164,1230.3 1164.9,1231.7 1166.4,1234.3 1167.9,1237.2 1169.4,1239.4 1170.9,1241.3 1172,1242.8 1174,1244 1175.5,1244.5 1177,1245.3 1178.5,1246 1180,1246.4 1180,1258.6 1178.5,1257.9 1177,1256.9 1175.5,1256.2 1174,1255.3 1172,1253.9 1170.9,1253 1169.4,1251.1 1167.9,1248.6 1166.4,1246 1164.9,1243.7 1164,1242.1 1163.4,1241.4 1161.9,1239.3 1160.3,1236.9 1158.8,1234.7 1157.3,1232.2 1156,1229.8 1154.3,1226.7 1152.8,1224.1 1151.3,1221 1149.8,1218.8 1148,1216.3 1146.7,1214.9 1145.2,1212.9 1143.7,1211.2 1142.2,1209.1 1140.7,1207.2 1140,1206.1 1139.2,1205 1137.7,1202.6 1136.2,1200.4 1134.6,1198 1133.1,1195.7 1132,1194.1 1130.1,1190.7 1128.6,1187.9 1127,1183.9 1125.6,1179.1 1124.1,1173.1 1122.5,1167.7 1122,1165.8 1121,1162.4 1119.5,1157.2 1118,1152.5 1116.5,1147.2 1115,1144.2 1113.5,1148.7 1112,1156 1110.5,1162.7 1108.9,1170.4 1108,1176 1107.4,1179.7 1105.9,1190.6 1104,1204.5 1102.9,1212.4 1101.4,1223.2 1100,1231.7 1098.4,1240 1096.8,1246.4 1096,1248 1095.3,1248.7 1093.8,1249.3 1092,1249.7 1090.8,1250.3 1089.3,1251.3 1088,1251.6 1086.3,1252.1 1084.8,1252.3 1083.2,1252.5 1082,1253 1080.2,1254 1078.7,1255.2 1077.2,1256.7 1076,1257.8 1074.2,1259.7 1072.7,1261.6 1071.1,1263 1070,1263.4 1068.1,1263.3 1066.6,1263.3 1065.1,1263.6 1063.6,1263.6 1062,1263.8 1060.6,1264 1059,1263.8 1057.5,1263.4 1056,1263.4 1054.5,1263.3 1053,1262.8Z" fill="#c9c9f7" fill-opacity="0.8" stroke="#9393ee" stroke-width="1.6"/>
<line x1="1070.60" y1="1123.80" x2="1070.60" y2="1321.50" stroke="#000" stroke-width="2.0" />
<line x1="1101.40" y1="1123.80" x2="1101.40" y2="1321.50" stroke="#000" stroke-width="2.0" />
<line x1="1178.80" y1="1123.80" x2="1178.80" y2="1330.10" stroke="#000" stroke-width="2.0" />
<path d="M1053,1261.3 1054.5,1261 1056,1260.9 1057.5,1261.3 1059,1261 1060.6,1260.9 1062,1261 1063.6,1260.9 1065.1,1260.7 1066.6,1260.6 1068.1,1260.1 1070,1259.8 1071.1,1259.6 1072.7,1258.3 1074.2,1256.9 1075.7,1255.6 1077.2,1254.3 1078,1253.8 1078.7,1253.5 1080.2,1253.2 1081.7,1253.1 1083.2,1253.1 1084.8,1253 1086,1253.2 1087.8,1253.6 1089.3,1254.2 1090.8,1254.9 1092,1255.5 1093.8,1256.1 1095.3,1256.6 1096.8,1256.8 1098.4,1256.9 1100,1256.8 1101.4,1256.1 1102.9,1254.9 1104.4,1253.5 1106,1252.1 1107.4,1250.3 1108.9,1247.9 1110,1247.3 1112,1248.1 1113.5,1249.5 1115,1251.2 1116,1252.1 1118,1253.1 1119.5,1253.8 1121,1254.2 1122.5,1254.6 1124,1255 1125.6,1255.1 1127.1,1255.4 1128.6,1255.6 1130.1,1255.8 1132,1255.7 1133.1,1255.8 1134.6,1255.9 1136.2,1255.8 1137.7,1255.6 1139.2,1255.5 1140,1255.1 1140.7,1254.8 1142.2,1254.6 1143.7,1254.3 1145.2,1254.3 1146.7,1254.2 1148,1254.1 1149.8,1254.4 1151.3,1254.8 1152.8,1255.4 1154.3,1256.1 1156,1256.8 1157.3,1257.4 1158.8,1257.9 1160.3,1258.2 1161.9,1258.9 1163.4,1259 1164,1259 1164.9,1258.9 1166.4,1258.6 1167.9,1258.3 1169.4,1258.3 1170.9,1258.1 1172,1258.2 1174,1258.4 1175.5,1258.6 1177,1259 1178.5,1259.4 1180,1259.8" fill="none" stroke="#e3231b" stroke-width="4.6" stroke-linejoin="round" stroke-linecap="round"/>
<path d="M1053,1258.1 1054.5,1258.1 1056,1258.1 1057.5,1258.1 1059,1257.9 1060.6,1257.8 1062,1257.7 1063.6,1257.7 1065.1,1257.6 1066.6,1257.6 1068.1,1257.7 1070,1257.9 1071.1,1257.6 1072.7,1256.5 1074.2,1254.7 1076,1252.4 1077.2,1251.3 1078.7,1249.8 1080.2,1248.3 1082,1247.3 1083.2,1247.2 1084.8,1246.9 1086.3,1246.4 1088,1245.9 1089.3,1245.2 1090.8,1244.3 1092,1243.5 1093.8,1243 1095.3,1242.5 1096,1241.9 1096.8,1240.3 1098.4,1234.3 1100,1225.9 1101.4,1217.2 1102.9,1206.2 1104,1198 1105.9,1183.9 1107.4,1173.3 1108,1169.9 1108.9,1164.5 1110.5,1156.9 1112,1150 1113.5,1142.6 1115,1138.2 1116.5,1140.9 1118,1146 1119.5,1150.9 1121,1156.2 1122,1159.8 1122.5,1161.8 1124.1,1167.8 1125.6,1173.8 1127,1178.3 1128.6,1181.9 1130.1,1184.7 1132,1187.8 1133.1,1189.5 1134.6,1191.8 1136.2,1194 1137.7,1196.5 1139.2,1198.8 1140,1200.1 1140.7,1201.1 1142.2,1203.1 1143.7,1204.8 1145.2,1206.5 1146.7,1208.4 1148,1209.9 1149.8,1212.8 1151.3,1215.4 1152.8,1218.3 1154.3,1221.2 1156,1224.4 1157.3,1226.4 1158.8,1228.5 1160.3,1230.7 1161.9,1232.6 1163.4,1234.6 1164,1235.5 1164.9,1236.7 1166.4,1239.3 1167.9,1242.1 1169.4,1244.6 1170.9,1246.9 1172,1248.2 1174,1249.5 1175.5,1250.4 1177,1251.3 1178.5,1252 1180,1252.9" fill="none" stroke="#2319e0" stroke-width="4.6" stroke-linejoin="round" stroke-linecap="round"/>
<line x1="1053.00" y1="1123.80" x2="1053.00" y2="1321.50" stroke="#000" stroke-width="2.0" />
<line x1="1044.40" y1="1321.50" x2="1179.80" y2="1321.50" stroke="#000" stroke-width="2.0" />
<line x1="1044.40" y1="1140.00" x2="1053.00" y2="1140.00" stroke="#000" stroke-width="2.0" />
<line x1="1106.60" y1="1321.50" x2="1106.60" y2="1330.10" stroke="#000" stroke-width="2.0" />
<text x="1040.70" y="1152.00" font-size="27.5" text-anchor="end" font-weight="normal" fill="#000" >10</text>
<text x="1040.70" y="1333.50" font-size="27.5" text-anchor="end" font-weight="normal" fill="#000" >0</text>
<text x="1107.00" y="1362.20" font-size="27.5" text-anchor="middle" font-weight="normal" fill="#000" >-2</text>
<text x="1179.30" y="1362.20" font-size="27.5" text-anchor="middle" font-weight="normal" fill="#000" >0</text>
<path d="M1088.60,1114.00 C1089.16,1114.00 1089.64,1080.20 1090.20,1080.20 C1090.80,1080.20 1091.31,1114.00 1091.90,1114.00 C1092.53,1114.00 1093.07,1080.20 1093.70,1080.20 C1094.33,1080.20 1094.87,1114.00 1095.50,1114.00 C1096.13,1114.00 1096.67,1080.20 1097.30,1080.20 C1097.93,1080.20 1098.47,1114.00 1099.10,1114.00 C1099.87,1114.00 1100.53,1080.20 1101.30,1080.20 C1102.00,1080.20 1102.60,1114.00 1103.30,1114.00" fill="none" stroke="#2424d6" stroke-width="1.7" stroke-linejoin="round" stroke-linecap="round"/>
<rect x="1275.00" y="1123.80" width="11.8" height="197.70" fill="#95d4f4"/>
<path d="M1239.4,1257.9 1240.9,1257.2 1242.4,1256.9 1243.9,1256.5 1245.5,1256 1247,1255.3 1248,1255.1 1250,1254.3 1251.5,1253.6 1253,1252.5 1254.5,1251.9 1256,1251 1257.6,1249.7 1259.1,1248.8 1260.6,1248 1262,1247.5 1263.6,1247.9 1265.1,1249.4 1266.6,1250.3 1268,1250.8 1269.7,1250.9 1271.2,1251.2 1272.7,1250.9 1274,1251 1275.7,1250.6 1277.2,1249.7 1278.7,1248.7 1280,1247.9 1281.8,1246.3 1283.3,1244.8 1284.8,1243.8 1286,1242.5 1287.8,1241.5 1289.3,1240.8 1290.8,1240.2 1292,1239.5 1293.9,1238.7 1295.4,1237.6 1296.9,1236.8 1298,1236.2 1299.9,1234.6 1301.4,1233.6 1303,1232.3 1304.5,1231.2 1306,1229.5 1307.5,1228.4 1309,1226.6 1310.5,1224.9 1312,1222.5 1314,1220 1315.1,1218.6 1316.6,1216.6 1318.1,1214.2 1319.6,1212 1321.1,1209.5 1322,1208.1 1322.6,1207.1 1324.1,1205.1 1325.7,1203 1327.2,1201.1 1328.7,1198.7 1330,1196.8 1331.7,1193.8 1333.2,1191 1334.7,1188.5 1336.2,1185.6 1338,1182.1 1339.3,1180.1 1340.8,1177.4 1342.3,1174.3 1343.8,1171.4 1345.3,1169.1 1346,1167.6 1346.8,1165.9 1348.3,1163.6 1349.9,1161.3 1351.4,1158.2 1352.9,1156 1354,1154.5 1355.9,1151.7 1357.4,1149.5 1359,1147.5 1360,1145.6 1362,1141.6 1363.5,1138.2 1365,1135 1365,1147.6 1363.5,1151.1 1362,1154.4 1360,1158.4 1359,1159.9 1357.4,1161.8 1355.9,1163.2 1354,1165.7 1352.9,1167.3 1351.4,1170.1 1349.9,1173.1 1348.3,1176.2 1346.8,1178.8 1346,1180.2 1345.3,1181.4 1343.8,1183.9 1342.3,1186.6 1340.8,1189.4 1339.3,1192.2 1338,1194.4 1336.2,1197.5 1334.7,1200 1333.2,1202.6 1331.7,1204.9 1330,1207.3 1328.7,1209.3 1327.2,1211.7 1325.7,1214.3 1324.1,1217 1322.6,1219.4 1322,1220.7 1321.1,1221.9 1319.6,1224 1318.1,1226.3 1316.6,1228.6 1315.1,1230.4 1314,1232.2 1312,1235.1 1310.5,1236.9 1309,1238.8 1307.5,1240.9 1306,1242.4 1304.5,1243.7 1303,1245 1301.4,1246 1299.9,1246.9 1298,1248 1296.9,1248.5 1295.4,1249.3 1293.9,1250.3 1292,1251.2 1290.8,1251.7 1289.3,1252.6 1287.8,1253.7 1286,1255.1 1284.8,1256 1283.3,1257.3 1281.8,1258.6 1280,1259.9 1278.7,1260.7 1277.2,1261.9 1275.7,1262.7 1274,1263.3 1272.7,1263.2 1271.2,1263 1269.7,1262.6 1268,1263 1266.6,1262.6 1265.1,1261.6 1263.6,1260.8 1262,1260.4 1260.6,1260.6 1259.1,1261 1257.6,1261.9 1256,1262.4 1254.5,1263.2 1253,1264.2 1251.5,1265.5 1250,1266.3 1248,1267.4 1247,1267.6 1245.5,1267.8 1243.9,1268 1242.4,1268.7 1240.9,1269.3 1239.4,1270.1Z" fill="#f9c9c4" fill-opacity="0.8" stroke="#f2958c" stroke-width="1.6"/>
<path d="M1239.4,1260.6 1240.9,1259.7 1242.4,1259.3 1243.9,1258.9 1245.5,1258.5 1247,1257.9 1248,1258.1 1250,1257.7 1251.5,1256.9 1253,1255.9 1254.5,1255 1256,1253.8 1257.6,1252.4 1259.1,1251.5 1260.6,1250.9 1262,1250.7 1263.6,1251.6 1265.1,1252.7 1266.6,1253.5 1268,1253.6 1269.7,1254.2 1271.2,1254.3 1272.7,1254.7 1274,1255.3 1275.7,1256.2 1277.2,1257 1278.7,1257.5 1280,1258.3 1281.8,1261.2 1283.3,1263.8 1284,1264.3 1284.8,1264.2 1286.3,1261.8 1287,1260.6 1287.8,1259.5 1289.3,1257.3 1290.8,1255.3 1292,1254 1293.9,1251 1295.4,1247.8 1296.9,1245.4 1298,1243.9 1299.9,1242.6 1301.4,1241.9 1303,1241.3 1304.5,1240.6 1306,1240.2 1307.5,1239.3 1309,1238.4 1310.5,1237.5 1312,1236.5 1314,1234.3 1315.1,1233.3 1316.6,1231.3 1318.1,1229.4 1319.6,1227.5 1321.1,1226 1322,1224.8 1322.6,1224 1324.1,1221.4 1325.7,1218.7 1327.2,1216.2 1328.7,1213.6 1330,1211.3 1331.7,1208.6 1333.2,1206.5 1334.7,1204.2 1336.2,1202.2 1338,1199.9 1339.3,1198.5 1340.8,1196.6 1342.3,1194.8 1343.8,1192.6 1345.3,1190.5 1346,1189.7 1346.8,1188.5 1348.3,1186.4 1349.9,1184.6 1351.4,1182.9 1352.9,1181.2 1354,1179.9 1355.9,1178.1 1357.4,1176.8 1359,1175.1 1360,1173.6 1362,1169.3 1363.5,1164.4 1365,1159.8 1365,1172.2 1363.5,1176.5 1362,1181.2 1360,1185.9 1359,1187.3 1357.4,1189 1355.9,1190.3 1354,1192.5 1352.9,1193.8 1351.4,1195.4 1349.9,1197.5 1348.3,1199.7 1346.8,1201.4 1346,1202.4 1345.3,1203.4 1343.8,1205.1 1342.3,1207 1340.8,1208.9 1339.3,1210.7 1338,1212.1 1336.2,1214.8 1334.7,1216.7 1333.2,1218.9 1331.7,1221 1330,1223.8 1328.7,1225.5 1327.2,1227.8 1325.7,1230.2 1324.1,1232.9 1322.6,1234.8 1322,1236 1321.1,1237.6 1319.6,1239.5 1318.1,1241 1316.6,1243.1 1315.1,1244.7 1314,1245.8 1312,1247.5 1310.5,1249.2 1309,1250.5 1307.5,1251.3 1306,1252 1304.5,1253.2 1303,1253.6 1301.4,1253.9 1299.9,1254.6 1298,1255.9 1296.9,1257.1 1295.4,1259.7 1293.9,1262.7 1292,1266.3 1290.8,1267.8 1289.3,1269.8 1287.8,1271.8 1287,1272.5 1286.3,1273.5 1284.8,1275.7 1284,1276.2 1283.3,1275.3 1281.8,1273.2 1280,1270.4 1278.7,1269.4 1277.2,1268.5 1275.7,1268.3 1274,1267.5 1272.7,1266.9 1271.2,1266.6 1269.7,1266.2 1268,1265.7 1266.6,1264.9 1265.1,1263.9 1263.6,1263.5 1262,1263.2 1260.6,1263.4 1259.1,1264.5 1257.6,1265.7 1256,1266.3 1254.5,1266.8 1253,1267.6 1251.5,1268.3 1250,1269.3 1248,1269.9 1247,1270.6 1245.5,1270.7 1243.9,1271.3 1242.4,1271.2 1240.9,1271.8 1239.4,1271.6Z" fill="#c9c9f7" fill-opacity="0.8" stroke="#9393ee" stroke-width="1.6"/>
<line x1="1257.00" y1="1123.80" x2="1257.00" y2="1321.50" stroke="#000" stroke-width="2.0" />
<line x1="1287.80" y1="1123.80" x2="1287.80" y2="1321.50" stroke="#000" stroke-width="2.0" />
<line x1="1365.20" y1="1123.80" x2="1365.20" y2="1330.10" stroke="#000" stroke-width="2.0" />
<path d="M1239.4,1263.9 1240.9,1263.3 1242.4,1262.8 1243.9,1262.3 1245.5,1262.1 1247,1261.5 1248,1261.1 1250,1260.3 1251.5,1259.4 1253,1258.5 1254.5,1257.8 1256,1257.3 1257.6,1256.3 1259.1,1255.2 1260.6,1254.3 1262,1254.1 1263.6,1254.3 1265.1,1255.3 1266.6,1256.4 1268,1256.8 1269.7,1256.8 1271.2,1256.9 1272.7,1257.2 1274,1257.3 1275.7,1257.1 1277.2,1256.2 1278.7,1255.3 1280,1254.3 1281.8,1253.1 1283.3,1251.8 1284.8,1250.4 1286,1249.1 1287.8,1247.8 1289.3,1246.4 1290.8,1245.3 1292,1244.7 1293.9,1243.8 1295.4,1243.2 1296.9,1242.7 1298,1242.2 1299.9,1240.8 1301.4,1239.7 1303,1238.7 1304.5,1237.2 1306,1235.6 1307.5,1234.4 1309,1232.7 1310.5,1230.6 1312,1228.9 1314,1226.3 1315.1,1224.5 1316.6,1222.1 1318.1,1219.7 1319.6,1217.4 1321.1,1215 1322,1213.8 1322.6,1213 1324.1,1210.8 1325.7,1208.6 1327.2,1206.3 1328.7,1203.8 1330,1202 1331.7,1199 1333.2,1196.3 1334.7,1193.6 1336.2,1190.9 1338,1187.8 1339.3,1185.8 1340.8,1183.2 1342.3,1180.9 1343.8,1178.4 1345.3,1175.6 1346,1174.4 1346.8,1173 1348.3,1170.2 1349.9,1167.6 1351.4,1164.7 1352.9,1162 1354,1160.1 1355.9,1157.5 1357.4,1155.5 1359,1153.6 1360,1152 1362,1148.3 1363.5,1144.9 1365,1141.6" fill="none" stroke="#e3231b" stroke-width="4.6" stroke-linejoin="round" stroke-linecap="round"/>
<path d="M1239.4,1266.3 1240.9,1265.8 1242.4,1265.3 1243.9,1264.7 1245.5,1264.7 1247,1264.1 1248,1263.8 1250,1263.1 1251.5,1262.4 1253,1261.4 1254.5,1260.6 1256,1260.1 1257.6,1259 1259.1,1257.9 1260.6,1257.2 1262,1257 1263.6,1257.2 1265.1,1258.4 1266.6,1259.7 1268,1260.4 1269.7,1260.4 1271.2,1260.6 1272.7,1260.8 1274,1261.1 1275.7,1261.6 1277.2,1262.5 1278.7,1263.3 1280,1264.2 1281.8,1267.1 1283.3,1269.7 1284,1270.1 1284.8,1269.6 1286.3,1267 1287,1265.7 1287.8,1264.6 1289.3,1262.8 1290.8,1261 1292,1259.3 1293.9,1256.4 1295.4,1253.4 1296.9,1250.9 1298,1249.9 1299.9,1248.6 1301.4,1247.8 1303,1247.1 1304.5,1246.4 1306,1245.6 1307.5,1244.7 1309,1243.6 1310.5,1242.5 1312,1241.2 1314,1239.5 1315.1,1238.7 1316.6,1237 1318.1,1235.3 1319.6,1233.4 1321.1,1231.4 1322,1230.3 1322.6,1229.4 1324.1,1227 1325.7,1224.6 1327.2,1222.2 1328.7,1219.7 1330,1217.7 1331.7,1215.4 1333.2,1213 1334.7,1210.5 1336.2,1208.1 1338,1205.7 1339.3,1203.8 1340.8,1201.9 1342.3,1200 1343.8,1198.2 1345.3,1196.3 1346,1195.5 1346.8,1194.8 1348.3,1193.1 1349.9,1191 1351.4,1189 1352.9,1187.4 1354,1186.2 1355.9,1184.3 1357.4,1183.3 1359,1181.7 1360,1180.2 1362,1175.3 1363.5,1170.6 1365,1165.7" fill="none" stroke="#2319e0" stroke-width="4.6" stroke-linejoin="round" stroke-linecap="round"/>
<line x1="1239.40" y1="1123.80" x2="1239.40" y2="1321.50" stroke="#000" stroke-width="2.0" />
<line x1="1230.80" y1="1321.50" x2="1366.20" y2="1321.50" stroke="#000" stroke-width="2.0" />
<line x1="1230.80" y1="1137.00" x2="1239.40" y2="1137.00" stroke="#000" stroke-width="2.0" />
<line x1="1293.00" y1="1321.50" x2="1293.00" y2="1330.10" stroke="#000" stroke-width="2.0" />
<text x="1227.10" y="1149.00" font-size="27.5" text-anchor="end" font-weight="normal" fill="#000" >13</text>
<text x="1227.10" y="1333.50" font-size="27.5" text-anchor="end" font-weight="normal" fill="#000" >0</text>
<text x="1293.40" y="1362.20" font-size="27.5" text-anchor="middle" font-weight="normal" fill="#000" >-2</text>
<text x="1365.70" y="1362.20" font-size="27.5" text-anchor="middle" font-weight="normal" fill="#000" >0</text>
<path d="M1275.00,1114.00 C1275.56,1114.00 1276.04,1080.20 1276.60,1080.20 C1277.20,1080.20 1277.71,1114.00 1278.30,1114.00 C1278.93,1114.00 1279.47,1080.20 1280.10,1080.20 C1280.73,1080.20 1281.27,1114.00 1281.90,1114.00 C1282.53,1114.00 1283.07,1080.20 1283.70,1080.20 C1284.33,1080.20 1284.87,1114.00 1285.50,1114.00 C1286.27,1114.00 1286.93,1080.20 1287.70,1080.20 C1288.40,1080.20 1289.00,1114.00 1289.70,1114.00" fill="none" stroke="#2424d6" stroke-width="1.7" stroke-linejoin="round" stroke-linecap="round"/>
<rect x="1460.20" y="1123.80" width="11.8" height="197.70" fill="#95d4f4"/>
<path d="M1424.6,1179 1426.1,1179 1427.6,1179.1 1429.1,1179.2 1430.6,1179 1432.1,1179.4 1433,1179.2 1433.6,1179.7 1435.1,1179.6 1436.6,1179.7 1438.1,1179.2 1439.7,1179.2 1441.2,1178.1 1443,1177.9 1444.2,1177.4 1445.7,1176.3 1447.2,1175.2 1449,1173.7 1450.2,1171.4 1451.7,1167.8 1453.2,1165.5 1454,1164.7 1454.7,1165.2 1456.2,1167.2 1457.7,1170 1459,1171.6 1460.7,1173.1 1462.2,1174.5 1463.7,1175 1465,1175.1 1466.7,1174.9 1468.2,1175.1 1469,1175.5 1469.7,1175.2 1471.2,1173.7 1472.8,1171.1 1474.3,1168.7 1475,1167.5 1475.8,1166.9 1477.3,1165.4 1478.8,1164.6 1480.3,1163.6 1481,1163.6 1481.8,1163.3 1483.3,1162.8 1484.8,1162.3 1486.3,1162.5 1487,1162.2 1487.8,1162.3 1489.3,1164.9 1490.8,1168.1 1492.3,1170.2 1493,1170.1 1493.8,1170.6 1495.3,1170 1496.8,1170 1498.3,1169.6 1499,1169.7 1499.8,1169.5 1501.3,1168.9 1502.8,1167.9 1504.3,1167.3 1505,1167.3 1505.9,1167.7 1507.4,1169.2 1508.9,1171 1510.4,1173.2 1511,1174.1 1511.9,1174.1 1513.4,1175.1 1514.9,1176.1 1516.4,1175.9 1517,1175.5 1517.9,1175.9 1519.4,1174.5 1520.9,1172.9 1522.4,1172.4 1523,1172.1 1523.9,1171.9 1525.4,1173.6 1526.9,1176.4 1528.4,1178.9 1529,1179.7 1529.9,1180.5 1531.4,1182.3 1532.9,1183.2 1534.5,1184.1 1536,1185 1537,1185.6 1539,1186.4 1540.5,1187.3 1542,1187.7 1543.5,1188.5 1545,1189.9 1546.5,1191.1 1548,1192.2 1549.5,1194.2 1551,1196.1 1551,1212.2 1549.5,1211 1548,1209.1 1546.5,1208 1545,1206.4 1543.5,1205.7 1542,1204.3 1540.5,1203.6 1539,1202.7 1537,1201.5 1536,1200.3 1534.5,1200 1532.9,1198.9 1531.4,1197.9 1529.9,1196.7 1529,1195.8 1528.4,1194.7 1526.9,1192.7 1525.4,1189.9 1523.9,1188.3 1523,1188.1 1522.4,1188.3 1520.9,1189.1 1519.4,1190.5 1517.9,1191.5 1517,1192.1 1516.4,1191.9 1514.9,1191.3 1513.4,1191 1511.9,1190.6 1511,1190 1510.4,1189.8 1508.9,1188.3 1507.4,1186.5 1505.9,1185 1505,1185 1504.3,1184.7 1502.8,1185.2 1501.3,1185.5 1499.8,1185.7 1499,1185.4 1498.3,1186 1496.8,1186.2 1495.3,1186.5 1493.8,1186.4 1493,1186.8 1492.3,1186.3 1490.8,1183.8 1489.3,1180.7 1487.8,1178.5 1487,1178.1 1486.3,1177.8 1484.8,1178.4 1483.3,1179 1481.8,1179.6 1481,1179.8 1480.3,1180.7 1478.8,1181.4 1477.3,1182.5 1475.8,1183.9 1475,1184.1 1474.3,1184.6 1472.8,1187.3 1471.2,1189.9 1469.7,1191.3 1469,1191.9 1468.2,1191.9 1466.7,1191.8 1465,1192 1463.7,1192 1462.2,1191.3 1460.7,1190.2 1459,1188.6 1457.7,1186.9 1456.2,1184.6 1454.7,1182.6 1454,1182.5 1453.2,1182.7 1451.7,1184.6 1450.2,1187.6 1449,1189.1 1447.2,1190.5 1445.7,1191.4 1444.2,1192.5 1443,1193 1441.2,1193.7 1439.7,1194.2 1438.1,1194.7 1436.6,1195.2 1435.1,1195.4 1433.6,1195.4 1433,1195.6 1432.1,1195.5 1430.6,1194.8 1429.1,1194.6 1427.6,1194.5 1426.1,1193.6 1424.6,1193.2Z" fill="#f9c9c4" fill-opacity="0.8" stroke="#f2958c" stroke-width="1.6"/>
<path d="M1424.6,1188.3 1426.1,1187.7 1427.6,1187.9 1429.1,1188 1430.6,1188 1432.1,1187.4 1433,1187.6 1433.6,1187 1435.1,1186.3 1436.6,1185.9 1438.1,1186.1 1439.7,1185.9 1441.2,1185.5 1443,1185.3 1444.2,1184.5 1445.7,1182.5 1447.2,1180 1449,1176.9 1450.2,1174 1451.7,1170.1 1453.2,1167 1454,1166.8 1454.7,1167.6 1456.2,1169.5 1457.7,1171.8 1459,1173.5 1460.7,1175.4 1462.2,1177.6 1463,1178.9 1463.7,1180.8 1465.2,1187.8 1467,1194.6 1468.2,1197.3 1469,1198 1469.7,1197.3 1471.2,1189.1 1473,1178.5 1474.3,1172.9 1475.8,1166.6 1477.3,1159.9 1479,1153.4 1480.3,1148.5 1481.8,1142.3 1483.3,1138.1 1484,1137.1 1484.8,1137.8 1486.3,1140.4 1487.8,1144.6 1489,1147.3 1490.8,1152.4 1492.3,1156.3 1493.8,1160.6 1495,1163.2 1496.8,1167.5 1498.3,1171 1499.8,1174.3 1501,1176.6 1502.8,1180.9 1504.3,1184.4 1505.9,1187.5 1507,1190.4 1508.9,1195.3 1510.4,1199.3 1511.9,1203.8 1513,1207.2 1514.9,1212.7 1516.4,1217.3 1517.9,1222.3 1519,1225.4 1520.9,1229.9 1522.4,1233.3 1523.9,1236.5 1525,1238.4 1526.9,1242.2 1528.4,1245.2 1529.9,1248.5 1531,1250.4 1532.9,1253.6 1534.5,1255.5 1536,1257.5 1537,1258.3 1539,1260 1540.5,1260.5 1542,1261.8 1543.5,1262.3 1545,1263.2 1546.5,1264.4 1548,1265.3 1549.5,1266.2 1551,1267.5 1551,1280.6 1549.5,1279.7 1548,1278.9 1546.5,1278.2 1545,1277.4 1543.5,1276.4 1542,1275.2 1540.5,1274.5 1539,1273.6 1537,1272 1536,1271.1 1534.5,1269.9 1532.9,1267.7 1531,1264.7 1529.9,1263.6 1528.4,1260.2 1526.9,1256.8 1525,1252.9 1523.9,1250.6 1522.4,1247 1520.9,1243.6 1519,1239.2 1517.9,1236.2 1516.4,1231.6 1514.9,1226.7 1513,1221 1511.9,1217.9 1510.4,1213.5 1508.9,1209.3 1507,1205 1505.9,1202.5 1504.3,1198.5 1502.8,1195.1 1501,1191.1 1499.8,1188 1498.3,1184.2 1496.8,1181 1495,1176.9 1493.8,1173.9 1492.3,1170 1490.8,1166 1489,1161.5 1487.8,1158.5 1486.3,1154.3 1484.8,1151.4 1484,1151.3 1483.3,1151.6 1481.8,1155.4 1480.3,1161.7 1479,1166.8 1477.3,1173.4 1475.8,1180.1 1474.3,1186.8 1473,1192.9 1471.2,1204.1 1469.7,1212.2 1469,1213.8 1468.2,1212.7 1467,1209.6 1465.2,1202.3 1463.7,1195 1463,1192.5 1462.2,1191.1 1460.7,1188.3 1459,1185.8 1457.7,1184.1 1456.2,1182 1454.7,1180.8 1454,1180.7 1453.2,1181.3 1451.7,1184.5 1450.2,1188.5 1449,1190.5 1447.2,1194.1 1445.7,1196.7 1444.2,1198.3 1443,1198.6 1441.2,1199.6 1439.7,1199.8 1438.1,1199.7 1436.6,1200.3 1435.1,1200.7 1433.6,1200.7 1433,1200.9 1432.1,1201.2 1430.6,1201.1 1429.1,1201.6 1427.6,1202.3 1426.1,1202.4 1424.6,1203Z" fill="#c9c9f7" fill-opacity="0.8" stroke="#9393ee" stroke-width="1.6"/>
<line x1="1442.20" y1="1123.80" x2="1442.20" y2="1321.50" stroke="#000" stroke-width="2.0" />
<line x1="1473.00" y1="1123.80" x2="1473.00" y2="1321.50" stroke="#000" stroke-width="2.0" />
<line x1="1550.40" y1="1123.80" x2="1550.40" y2="1330.10" stroke="#000" stroke-width="2.0" />
<path d="M1424.6,1186.5 1426.1,1186.6 1427.6,1187 1429.1,1187.2 1430.6,1187.3 1432.1,1187.5 1433,1187.7 1433.6,1187.9 1435.1,1188.1 1436.6,1187.8 1438.1,1187.6 1439.7,1187.4 1441.2,1186.7 1443,1185.9 1444.2,1185.5 1445.7,1184.6 1447.2,1183.3 1449,1181.6 1450.2,1179.8 1451.7,1176.4 1453.2,1174.1 1454,1173.5 1454.7,1173.9 1456.2,1175.8 1457.7,1178.3 1459,1179.8 1460.7,1181.3 1462.2,1182.8 1463.7,1183.9 1465,1184.4 1466.7,1184.5 1468.2,1184.7 1469,1184.4 1469.7,1184.2 1471.2,1182.1 1472.8,1179.2 1474.3,1176.5 1475,1176 1475.8,1175 1477.3,1174 1478.8,1173 1480.3,1172.3 1481,1171.9 1481.8,1171.7 1483.3,1170.9 1484.8,1170.2 1486.3,1170 1487,1170 1487.8,1170.2 1489.3,1172.4 1490.8,1175.5 1492.3,1177.6 1493,1178 1493.8,1178.3 1495.3,1178.4 1496.8,1178.6 1498.3,1178.6 1499,1178.6 1499.8,1178.2 1501.3,1177.7 1502.8,1176.6 1504.3,1175.8 1505,1175.8 1505.9,1176.1 1507.4,1177.7 1508.9,1180 1510.4,1181.8 1511,1182 1511.9,1182.7 1513.4,1183.2 1514.9,1183.5 1516.4,1184 1517,1184 1517.9,1183.7 1519.4,1182.5 1520.9,1181.1 1522.4,1179.8 1523,1180 1523.9,1180.2 1525.4,1182.1 1526.9,1184.9 1528.4,1187.5 1529,1187.9 1529.9,1188.7 1531.4,1190.2 1532.9,1191.3 1534.5,1192.2 1536,1193.4 1537,1194.3 1539,1195.2 1540.5,1195.7 1542,1196.4 1543.5,1197.4 1545,1198.1 1546.5,1199.6 1548,1201.1 1549.5,1202.7 1551,1204.1" fill="none" stroke="#e3231b" stroke-width="4.6" stroke-linejoin="round" stroke-linecap="round"/>
<path d="M1424.6,1196 1426.1,1195.7 1427.6,1195.2 1429.1,1194.7 1430.6,1194.7 1432.1,1194.4 1433,1194 1433.6,1193.8 1435.1,1193.4 1436.6,1193 1438.1,1192.7 1439.7,1192.6 1441.2,1192.3 1443,1191.9 1444.2,1191.2 1445.7,1189.5 1447.2,1187.1 1449,1184.2 1450.2,1181.5 1451.7,1177.4 1453.2,1174.1 1454,1173.8 1454.7,1173.8 1456.2,1175.4 1457.7,1177.6 1459,1179.8 1460.7,1181.8 1462.2,1184.4 1463,1186.1 1463.7,1188.3 1465.2,1195.3 1467,1202.3 1468.2,1205.1 1469,1206.1 1469.7,1205 1471.2,1196.7 1473,1186.2 1474.3,1180.5 1475.8,1173.5 1477.3,1166.9 1479,1160.1 1480.3,1154.9 1481.8,1148.6 1483.3,1144.6 1484,1144 1484.8,1144.7 1486.3,1147.4 1487.8,1151.1 1489,1154.3 1490.8,1158.6 1492.3,1162.9 1493.8,1166.9 1495,1170.2 1496.8,1174.3 1498.3,1177.9 1499.8,1180.9 1501,1183.7 1502.8,1187.9 1504.3,1191.5 1505.9,1195 1507,1198 1508.9,1202.7 1510.4,1206.5 1511.9,1210.4 1513,1213.7 1514.9,1219.2 1516.4,1223.8 1517.9,1228.7 1519,1232 1520.9,1236.6 1522.4,1240.3 1523.9,1244 1525,1246.1 1526.9,1250.2 1528.4,1253.3 1529.9,1256.2 1531,1257.6 1532.9,1260.5 1534.5,1262.6 1536,1264.1 1537,1264.9 1539,1266.7 1540.5,1267.3 1542,1267.9 1543.5,1268.8 1545,1269.7 1546.5,1270.6 1548,1271.9 1549.5,1273.1 1551,1274.2" fill="none" stroke="#2319e0" stroke-width="4.6" stroke-linejoin="round" stroke-linecap="round"/>
<line x1="1424.60" y1="1123.80" x2="1424.60" y2="1321.50" stroke="#000" stroke-width="2.0" />
<line x1="1416.00" y1="1321.50" x2="1551.40" y2="1321.50" stroke="#000" stroke-width="2.0" />
<line x1="1416.00" y1="1137.00" x2="1424.60" y2="1137.00" stroke="#000" stroke-width="2.0" />
<line x1="1478.20" y1="1321.50" x2="1478.20" y2="1330.10" stroke="#000" stroke-width="2.0" />
<text x="1412.30" y="1149.00" font-size="27.5" text-anchor="end" font-weight="normal" fill="#000" >8</text>
<text x="1412.30" y="1333.50" font-size="27.5" text-anchor="end" font-weight="normal" fill="#000" >0</text>
<text x="1478.60" y="1362.20" font-size="27.5" text-anchor="middle" font-weight="normal" fill="#000" >-2</text>
<text x="1550.90" y="1362.20" font-size="27.5" text-anchor="middle" font-weight="normal" fill="#000" >0</text>
<path d="M1460.20,1114.00 C1460.76,1114.00 1461.24,1080.20 1461.80,1080.20 C1462.39,1080.20 1462.90,1114.00 1463.50,1114.00 C1464.13,1114.00 1464.67,1080.20 1465.30,1080.20 C1465.93,1080.20 1466.47,1114.00 1467.10,1114.00 C1467.73,1114.00 1468.27,1080.20 1468.90,1080.20 C1469.53,1080.20 1470.07,1114.00 1470.70,1114.00 C1471.47,1114.00 1472.13,1080.20 1472.90,1080.20 C1473.60,1080.20 1474.20,1114.00 1474.90,1114.00" fill="none" stroke="#2424d6" stroke-width="1.7" stroke-linejoin="round" stroke-linecap="round"/>
<rect x="1646.00" y="1123.80" width="11.8" height="197.70" fill="#95d4f4"/>
<path d="M1610.4,1260.4 1611.9,1260 1613.4,1260.2 1614.9,1260.4 1616.4,1260.8 1617.9,1260.5 1619,1261.2 1620.9,1261.3 1622.4,1261.1 1623.9,1260.8 1625.4,1261.5 1627,1261.4 1628.4,1261 1629.9,1259.3 1631.4,1257 1633,1254.5 1634.4,1252.3 1635.9,1249.8 1637.4,1247.7 1639,1246.9 1640.4,1247.5 1641.9,1248.7 1643.4,1250.3 1645,1252 1646.4,1253 1647.9,1253.8 1649.4,1254.7 1651,1255.1 1652.4,1254.9 1653.9,1255 1655.4,1254.8 1656.9,1254.9 1658.4,1254.7 1659,1254.5 1659.9,1254.1 1661.4,1254.3 1662.9,1254.5 1664.4,1254.5 1665.9,1254.9 1667,1255.5 1669,1255.7 1670.5,1255.6 1672,1255.9 1673.5,1255.8 1675,1255.5 1676.5,1255.3 1678,1255.7 1679.5,1256.2 1681,1256.4 1682.5,1256.5 1683,1256.8 1684,1257 1685.5,1257.4 1687,1258 1688.5,1258.5 1689,1258.3 1690,1258.4 1691.5,1258.5 1693,1258.7 1694.5,1258.5 1696,1258.5 1697,1258.4 1699,1257.7 1700.5,1256.5 1702,1256 1703.5,1255.1 1705,1254.2 1706.5,1253.7 1708,1253.5 1709.5,1252.9 1711,1252.3 1712.5,1251.9 1713,1251.9 1714,1251.4 1715.5,1251.2 1717,1251 1718.5,1250.7 1720,1250.5 1721,1250.7 1723,1249.9 1724.5,1249.5 1726,1249.6 1727.5,1249.6 1729,1249.3 1730.5,1249.1 1732,1249.4 1733.5,1249 1735,1248.5 1736.5,1248.3 1738,1248.5 1738,1261.7 1736.5,1261.9 1735,1261.9 1733.5,1261.7 1732,1262.3 1730.5,1262.1 1729,1262.2 1727.5,1262.6 1726,1262.8 1724.5,1262.7 1723,1263.2 1721,1263.4 1720,1263.4 1718.5,1263.5 1717,1263.5 1715.5,1263.5 1714,1264 1713,1263.9 1712.5,1264.4 1711,1265.1 1709.5,1266 1708,1266.6 1706.5,1267.3 1705,1267.9 1703.5,1268.8 1702,1269.7 1700.5,1270.5 1699,1271.8 1697,1271.8 1696,1272 1694.5,1271.6 1693,1271.3 1691.5,1270.8 1690,1271 1689,1271.1 1688.5,1270.9 1687,1270.7 1685.5,1270.3 1684,1269.9 1683,1269.6 1682.5,1270 1681,1269.6 1679.5,1269.2 1678,1268.7 1676.5,1268.4 1675,1267.9 1673.5,1268.1 1672,1268.2 1670.5,1268.1 1669,1267.6 1667,1268.1 1665.9,1268.3 1664.4,1268.2 1662.9,1268 1661.4,1268.3 1659.9,1267.8 1659,1267.2 1658.4,1267.2 1656.9,1267.5 1655.4,1267 1653.9,1267.2 1652.4,1267.3 1651,1267.5 1649.4,1267.3 1647.9,1266.7 1646.4,1265.6 1645,1264.8 1643.4,1263.5 1641.9,1261.8 1640.4,1260.6 1639,1260 1637.4,1260.8 1635.9,1262 1634.4,1263.9 1633,1265.6 1631.4,1268.2 1629.9,1271.2 1628.4,1273.5 1627,1274.4 1625.4,1274.6 1623.9,1274.1 1622.4,1273.9 1620.9,1273.8 1619,1273.2 1617.9,1273 1616.4,1273.1 1614.9,1272.5 1613.4,1272.5 1611.9,1272.6 1610.4,1272.5Z" fill="#f9c9c4" fill-opacity="0.8" stroke="#f2958c" stroke-width="1.6"/>
<path d="M1610.4,1259.8 1611.9,1259.8 1613.4,1260 1614.9,1260.4 1616.4,1260.5 1617.9,1260.7 1619,1260.9 1620.9,1261.3 1622.4,1261.2 1623.9,1261 1625.4,1260.6 1627,1260.5 1628.4,1259.4 1629.9,1257.1 1631.4,1254 1633,1251.7 1634.4,1249.6 1635.9,1247.3 1637.4,1245.8 1638,1245.6 1638.9,1245.5 1640.4,1247 1641.9,1248.6 1643,1249.3 1644.9,1250.4 1646.4,1250.8 1648,1251.3 1649.4,1236.6 1651,1212.8 1652.4,1200.4 1653.9,1189.7 1655,1182.6 1656.9,1173.4 1658.4,1166.1 1659,1162.9 1659.9,1154.5 1661.4,1140.4 1662,1138.5 1662.9,1140.5 1664.4,1148.9 1665,1152.5 1665.9,1159.3 1667.4,1173.2 1669,1186.9 1670.5,1198.7 1672,1209.9 1673,1215.1 1675,1220.9 1676.5,1225 1678,1227.8 1679,1228.8 1681,1230.9 1682.5,1232.3 1684,1232.7 1685,1232.7 1687,1233.1 1688.5,1232.9 1690,1232.7 1691,1233.1 1693,1232 1694.5,1230 1696,1228 1697,1226.9 1699,1225.3 1700.5,1224.2 1702,1223 1703.5,1222.1 1705,1220.9 1706.5,1219.7 1708,1218.9 1709.5,1217.6 1711,1216.9 1712.5,1216 1713,1215.3 1714,1214 1715.5,1212.9 1717,1211.2 1718.5,1210.3 1720,1209.4 1721,1208.8 1723,1207.8 1724.5,1207 1726,1205.4 1727.5,1204.5 1729,1203.5 1730.5,1201.9 1732,1200.1 1733.5,1198.1 1735,1195.5 1736.5,1193.2 1738,1191 1738,1205.7 1736.5,1208.1 1735,1210 1733.5,1212.5 1732,1214.1 1730.5,1216.3 1729,1217.7 1727.5,1218.9 1726,1220.1 1724.5,1221.4 1723,1222.1 1721,1223.4 1720,1224.2 1718.5,1224.9 1717,1225.8 1715.5,1227.1 1714,1228.1 1713,1228.6 1712.5,1229.5 1711,1230.3 1709.5,1231.3 1708,1232.4 1706.5,1233.9 1705,1234.4 1703.5,1236 1702,1237.2 1700.5,1238.1 1699,1239.3 1697,1241.4 1696,1242.3 1694.5,1244.3 1693,1246.7 1691,1247.3 1690,1247.2 1688.5,1247.2 1687,1247.4 1685,1246.9 1684,1246.7 1682.5,1245.6 1681,1244.1 1679,1242.2 1678,1240.9 1676.5,1238.2 1675,1234.7 1673,1228.8 1672,1223.1 1670.5,1211.9 1669,1200.3 1667.4,1186.4 1665.9,1172.7 1665,1166.2 1664.4,1162.8 1662.9,1154.8 1662,1153.2 1661.4,1154.9 1659.9,1168.5 1659,1177.1 1658.4,1180.1 1656.9,1186.7 1655,1196.7 1653.9,1203.9 1652.4,1214.7 1651,1227.5 1649.4,1251.2 1648,1265.3 1646.4,1265 1644.9,1264.2 1643,1262.7 1641.9,1262.5 1640.4,1261 1638.9,1259.5 1638,1259.5 1637.4,1260.1 1635.9,1261.5 1634.4,1263.8 1633,1265.9 1631.4,1268.7 1629.9,1271.7 1628.4,1274.4 1627,1275.3 1625.4,1275.5 1623.9,1275.1 1622.4,1275.3 1620.9,1275.1 1619,1274.7 1617.9,1274.6 1616.4,1274.8 1614.9,1274.4 1613.4,1274.1 1611.9,1274.2 1610.4,1273.8Z" fill="#c9c9f7" fill-opacity="0.8" stroke="#9393ee" stroke-width="1.6"/>
<line x1="1628.00" y1="1123.80" x2="1628.00" y2="1321.50" stroke="#000" stroke-width="2.0" />
<line x1="1658.80" y1="1123.80" x2="1658.80" y2="1321.50" stroke="#000" stroke-width="2.0" />
<line x1="1736.20" y1="1123.80" x2="1736.20" y2="1330.10" stroke="#000" stroke-width="2.0" />
<path d="M1610.4,1265.5 1611.9,1265.7 1613.4,1265.8 1614.9,1265.9 1616.4,1266.1 1617.9,1266.4 1619,1266.7 1620.9,1267.2 1622.4,1267.6 1623.9,1267.8 1625.4,1267.7 1627,1267.8 1628.4,1266.8 1629.9,1264.5 1631.4,1262.2 1633,1259.9 1634.4,1258.2 1635.9,1256.4 1637.4,1255.1 1639,1254.4 1640.4,1255 1641.9,1255.8 1643.4,1257.2 1645,1258.2 1646.4,1258.7 1647.9,1259.5 1649.4,1260.3 1651,1260.6 1652.4,1260.6 1653.9,1260.7 1655.4,1260.7 1656.9,1260.9 1658.4,1260.8 1659,1260.7 1659.9,1260.8 1661.4,1261.2 1662.9,1261.4 1664.4,1261.6 1665.9,1261.7 1667,1261.7 1669,1261.8 1670.5,1261.6 1672,1261.7 1673.5,1261.7 1675,1261.8 1676.5,1261.6 1678,1261.9 1679.5,1262.2 1681,1262.7 1682.5,1263.1 1683,1263.3 1684,1263.5 1685.5,1264 1687,1264.5 1688.5,1264.9 1689,1265.1 1690,1265 1691.5,1265.1 1693,1265.3 1694.5,1265.1 1696,1265.1 1697,1265.1 1699,1264.7 1700.5,1263.8 1702,1263.1 1703.5,1261.8 1705,1261.2 1706.5,1260.4 1708,1259.7 1709.5,1258.9 1711,1258.4 1712.5,1257.9 1713,1257.7 1714,1257.5 1715.5,1257 1717,1257 1718.5,1257 1720,1257.2 1721,1257.2 1723,1257.3 1724.5,1257.2 1726,1256.6 1727.5,1256.2 1729,1256 1730.5,1255.7 1732,1255.2 1733.5,1255.1 1735,1254.9 1736.5,1254.6 1738,1254.3" fill="none" stroke="#e3231b" stroke-width="4.6" stroke-linejoin="round" stroke-linecap="round"/>
<path d="M1610.4,1266.8 1611.9,1267 1613.4,1267.3 1614.9,1267.4 1616.4,1267.9 1617.9,1267.9 1619,1267.9 1620.9,1267.8 1622.4,1267.7 1623.9,1267.8 1625.4,1267.8 1627,1267.7 1628.4,1266.6 1629.9,1264.1 1631.4,1260.7 1633,1257.9 1634.4,1255.8 1635.9,1253.8 1637.4,1252.5 1638,1252.4 1638.9,1252.8 1640.4,1254.1 1641.9,1255.5 1643,1256.3 1644.9,1257.4 1646.4,1258.1 1648,1258.1 1649.4,1244.1 1651,1220.2 1652.4,1207.8 1653.9,1197 1655,1190.2 1656.9,1180.5 1658.4,1173.3 1659,1169.9 1659.9,1161.7 1661.4,1147.9 1662,1146.3 1662.9,1148.4 1664.4,1156.6 1665,1159.9 1665.9,1166.5 1667.4,1179.9 1669,1193.6 1670.5,1205.3 1672,1216.5 1673,1222 1675,1228.2 1676.5,1231.9 1678,1234.8 1679,1236 1681,1237.6 1682.5,1238.9 1684,1239.5 1685,1239.7 1687,1239.6 1688.5,1239.7 1690,1239.8 1691,1240 1693,1238.7 1694.5,1237 1696,1235.1 1697,1234.2 1699,1232.3 1700.5,1231.3 1702,1230.5 1703.5,1229.3 1705,1228.1 1706.5,1227.1 1708,1225.9 1709.5,1224.5 1711,1223.3 1712.5,1222 1713,1221.8 1714,1221.3 1715.5,1220.4 1717,1219.3 1718.5,1218.4 1720,1217.3 1721,1216.1 1723,1214.6 1724.5,1213.6 1726,1212.3 1727.5,1210.9 1729,1209.9 1730.5,1208.4 1732,1206.7 1733.5,1205 1735,1203.3 1736.5,1201.3 1738,1199.7" fill="none" stroke="#2319e0" stroke-width="4.6" stroke-linejoin="round" stroke-linecap="round"/>
<line x1="1610.40" y1="1123.80" x2="1610.40" y2="1321.50" stroke="#000" stroke-width="2.0" />
<line x1="1601.80" y1="1321.50" x2="1737.20" y2="1321.50" stroke="#000" stroke-width="2.0" />
<line x1="1601.80" y1="1136.00" x2="1610.40" y2="1136.00" stroke="#000" stroke-width="2.0" />
<line x1="1664.00" y1="1321.50" x2="1664.00" y2="1330.10" stroke="#000" stroke-width="2.0" />
<text x="1598.10" y="1148.00" font-size="27.5" text-anchor="end" font-weight="normal" fill="#000" >11</text>
<text x="1598.10" y="1333.50" font-size="27.5" text-anchor="end" font-weight="normal" fill="#000" >0</text>
<text x="1664.40" y="1362.20" font-size="27.5" text-anchor="middle" font-weight="normal" fill="#000" >-2</text>
<text x="1736.70" y="1362.20" font-size="27.5" text-anchor="middle" font-weight="normal" fill="#000" >0</text>
<path d="M1646.00,1114.00 C1646.56,1114.00 1647.04,1080.20 1647.60,1080.20 C1648.20,1080.20 1648.71,1114.00 1649.30,1114.00 C1649.93,1114.00 1650.47,1080.20 1651.10,1080.20 C1651.73,1080.20 1652.27,1114.00 1652.90,1114.00 C1653.53,1114.00 1654.07,1080.20 1654.70,1080.20 C1655.33,1080.20 1655.87,1114.00 1656.50,1114.00 C1657.27,1114.00 1657.93,1080.20 1658.70,1080.20 C1659.40,1080.20 1660.00,1114.00 1660.70,1114.00" fill="none" stroke="#2424d6" stroke-width="1.7" stroke-linejoin="round" stroke-linecap="round"/>
<rect x="1831.00" y="1123.80" width="11.8" height="197.70" fill="#95d4f4"/>
<path d="M1795.4,1199.9 1796.9,1200.4 1798.4,1200.9 1799.9,1201.2 1801.4,1201.6 1802.9,1201.9 1804,1201.7 1805.9,1201.4 1807.4,1200.8 1808.9,1200.9 1810.4,1200.4 1812,1199.8 1813.4,1199.8 1814.9,1201.3 1816.4,1201.6 1818,1202.4 1819.4,1204.9 1820.9,1207.8 1822,1207.9 1823.9,1207 1825.4,1205 1826.9,1202.6 1828,1201.6 1829.9,1199.4 1831.4,1197.2 1832.9,1195.7 1834,1195.1 1835.9,1194.8 1837.4,1195.5 1838.9,1195.7 1840,1195.8 1841.9,1196.2 1843.4,1196.5 1845,1196.6 1846.4,1200 1848,1205.1 1849.4,1211.6 1851,1216.5 1852.4,1214 1854,1208.4 1855.5,1204.7 1856,1204.7 1857,1205.4 1858.5,1205.7 1860,1206.1 1861.5,1206 1862,1205.7 1863,1205.5 1864.5,1204.2 1866,1202.5 1867.5,1201.4 1869,1200.8 1870,1200.4 1872,1202.3 1873.5,1205.2 1875,1208.6 1876,1210.1 1878,1214.2 1879.5,1216.5 1880,1216.8 1881,1217.3 1882.5,1218.5 1884,1219.4 1885.5,1220.4 1887,1221.1 1888,1221.6 1890,1222.4 1891.5,1222.8 1893,1223.8 1894.5,1224.3 1896,1225.3 1897.5,1226.2 1899,1227.6 1900.5,1228.5 1902,1229.9 1903.5,1230.6 1904,1230.6 1905,1230.8 1906.5,1230.1 1908,1228.7 1909.5,1227.5 1911,1227.1 1912,1226.8 1914,1226.9 1915.5,1227.7 1917,1228 1918,1227.9 1920,1227.8 1921.5,1228.5 1923,1228 1923,1245.6 1921.5,1246 1920,1245.7 1918,1246.1 1917,1246.2 1915.5,1246.1 1914,1245.4 1912,1245.7 1911,1245.3 1909.5,1245.8 1908,1247.2 1906.5,1248.7 1905,1248.6 1904,1249.1 1903.5,1249.1 1902,1248.4 1900.5,1246.6 1899,1245.7 1897.5,1244.2 1896,1243.3 1894.5,1241.9 1893,1241 1891.5,1240.5 1890,1239.9 1888,1238.5 1887,1237.9 1885.5,1237.5 1884,1236.9 1882.5,1235.9 1881,1235.6 1880,1234.9 1879.5,1234.7 1878,1231.1 1876,1227.3 1875,1225.4 1873.5,1223.5 1872,1220.9 1870,1220.1 1869,1220.2 1867.5,1220.6 1866,1221.4 1864.5,1222.5 1863,1223.1 1862,1222.8 1861.5,1223 1860,1222.5 1858.5,1222.6 1857,1222 1856,1222.3 1855.5,1222.5 1854,1226.6 1852.4,1231.8 1851,1234.8 1849.4,1229.4 1848,1222.4 1846.4,1217.6 1845,1214.7 1843.4,1214.3 1841.9,1214.7 1840,1215.4 1838.9,1214.9 1837.4,1214.4 1835.9,1214.2 1834,1213.6 1832.9,1213.3 1831.4,1214.9 1829.9,1216.9 1828,1219 1826.9,1220.9 1825.4,1223.5 1823.9,1225.8 1822,1227.6 1820.9,1226.4 1819.4,1223.3 1818,1221.4 1816.4,1220.6 1814.9,1219 1813.4,1218.3 1812,1217.8 1810.4,1217.6 1808.9,1217.1 1807.4,1218 1805.9,1218.4 1804,1218.5 1802.9,1218.4 1801.4,1218.9 1799.9,1218.1 1798.4,1217.9 1796.9,1217.9 1795.4,1217.9Z" fill="#f9c9c4" fill-opacity="0.8" stroke="#f2958c" stroke-width="1.6"/>
<path d="M1795.4,1197.2 1796.9,1197.9 1798.4,1197.8 1799.9,1197.8 1801.4,1198.5 1802.9,1198.5 1804,1198.2 1805.9,1198.7 1807.4,1198.5 1808.9,1198.1 1810.4,1198.2 1812,1198.1 1813.4,1197.6 1814.9,1197.9 1816.4,1198.5 1818,1198.7 1819.4,1199.3 1820.9,1200.6 1822,1200.6 1823.9,1199.4 1825.4,1197.3 1826.9,1194.5 1828,1192.9 1829.9,1189.5 1831.4,1185.6 1832.9,1181.3 1834,1178.2 1835.9,1168.6 1837.4,1160.6 1838,1157.8 1838.9,1152.5 1840.4,1143.5 1842,1139.7 1843.4,1141.2 1845,1144.4 1846.4,1147.6 1848,1152.6 1849.4,1162 1851,1176.3 1852.4,1188.7 1854,1200.8 1855.5,1209.4 1857,1216.8 1858,1220.4 1860,1226.2 1861.5,1230 1863,1233.1 1864,1235.4 1866,1239.6 1867.5,1242.4 1869,1244.2 1870,1245.6 1872,1247.8 1873.5,1248.7 1875,1249.8 1876,1250.7 1878,1252 1879.5,1253.1 1881,1254.4 1882.5,1255.7 1884,1257.1 1885.5,1257.9 1887,1258.5 1888.5,1259.3 1890,1259.2 1891.5,1260 1892,1260.6 1893,1261.9 1894.5,1263.2 1896,1264.7 1897.5,1264.8 1898,1264.9 1899,1264.1 1900.5,1263.4 1902,1262.9 1903.5,1262.7 1905,1261.9 1906,1261.6 1908,1260.8 1909.5,1259.4 1911,1258.3 1912,1258.1 1914,1258.7 1915.5,1259.6 1917,1261 1918,1261.4 1920,1259.6 1921.5,1257.5 1923,1255.6 1923,1272.9 1921.5,1275.1 1920,1277.3 1918,1279.1 1917,1278.4 1915.5,1278.1 1914,1277.1 1912,1276.5 1911,1276.5 1909.5,1277.1 1908,1277.6 1906,1278.3 1905,1278.6 1903.5,1279.3 1902,1279.9 1900.5,1281.1 1899,1281.5 1898,1282.1 1897.5,1281.7 1896,1281.4 1894.5,1280.2 1893,1279.2 1892,1278.8 1891.5,1278.2 1890,1278 1888.5,1277 1887,1276.9 1885.5,1275.9 1884,1275.7 1882.5,1274.6 1881,1273.6 1879.5,1272.1 1878,1270.7 1876,1269.2 1875,1268.3 1873.5,1267 1872,1266 1870,1264 1869,1262.5 1867.5,1260 1866,1257.5 1864,1253.8 1863,1251.7 1861.5,1248.3 1860,1244.8 1858,1239.1 1857,1235 1855.5,1227.2 1854,1218.8 1852.4,1207 1851,1195.1 1849.4,1181.1 1848,1171.3 1846.4,1166.9 1845,1163.9 1843.4,1159.8 1842,1157.5 1840.4,1161.6 1838.9,1170.3 1838,1175.5 1837.4,1177.9 1835.9,1186.4 1834,1196.1 1832.9,1199.7 1831.4,1203.9 1829.9,1208.2 1828,1211.7 1826.9,1213.4 1825.4,1215.8 1823.9,1218.2 1822,1219.2 1820.9,1219.1 1819.4,1217.6 1818,1217.1 1816.4,1216.2 1814.9,1215.9 1813.4,1215.6 1812,1216 1810.4,1215.6 1808.9,1215.9 1807.4,1216 1805.9,1216.2 1804,1216.4 1802.9,1217.1 1801.4,1217 1799.9,1216.8 1798.4,1217 1796.9,1216.5 1795.4,1215.9Z" fill="#c9c9f7" fill-opacity="0.8" stroke="#9393ee" stroke-width="1.6"/>
<line x1="1813.00" y1="1123.80" x2="1813.00" y2="1321.50" stroke="#000" stroke-width="2.0" />
<line x1="1843.80" y1="1123.80" x2="1843.80" y2="1321.50" stroke="#000" stroke-width="2.0" />
<line x1="1921.20" y1="1123.80" x2="1921.20" y2="1330.10" stroke="#000" stroke-width="2.0" />
<path d="M1795.4,1209.1 1796.9,1209.3 1798.4,1209.6 1799.9,1209.8 1801.4,1210.2 1802.9,1210.1 1804,1210.3 1805.9,1210.1 1807.4,1209.9 1808.9,1209.3 1810.4,1209.2 1812,1209 1813.4,1209 1814.9,1209.8 1816.4,1211.1 1818,1212.1 1819.4,1214.4 1820.9,1217.3 1822,1218.1 1823.9,1216.7 1825.4,1214.5 1826.9,1211.8 1828,1210.4 1829.9,1207.8 1831.4,1205.6 1832.9,1204.1 1834,1203.9 1835.9,1204.2 1837.4,1205.2 1838.9,1206.1 1840,1206.5 1841.9,1206.3 1843.4,1206.7 1845,1206.7 1846.4,1209.3 1848,1214.5 1849.4,1221.2 1851,1226 1852.4,1223.6 1854,1218 1855.5,1214 1856,1213.9 1857,1214.3 1858.5,1214 1860,1214.3 1861.5,1214.2 1862,1214.2 1863,1213.8 1864.5,1212.9 1866,1211.9 1867.5,1210.8 1869,1210 1870,1209.8 1872,1211.3 1873.5,1213.7 1875,1216.6 1876,1218.4 1878,1222.9 1879.5,1226 1880,1226.6 1881,1227.4 1882.5,1228.2 1884,1228.7 1885.5,1229 1887,1229.4 1888,1229.7 1890,1230.6 1891.5,1231.4 1893,1232.4 1894.5,1233 1896,1233.9 1897.5,1235.1 1899,1236.6 1900.5,1238.1 1902,1239.3 1903.5,1240 1904,1239.9 1905,1240 1906.5,1239 1908,1238 1909.5,1237.1 1911,1236.2 1912,1235.8 1914,1235.8 1915.5,1236.1 1917,1236.4 1918,1236.7 1920,1237.1 1921.5,1237.6 1923,1237.9" fill="none" stroke="#e3231b" stroke-width="4.6" stroke-linejoin="round" stroke-linecap="round"/>
<path d="M1795.4,1206.7 1796.9,1206.8 1798.4,1207 1799.9,1207 1801.4,1207.5 1802.9,1207.7 1804,1207.8 1805.9,1207.7 1807.4,1207.4 1808.9,1207.1 1810.4,1206.9 1812,1206.9 1813.4,1207.1 1814.9,1207.5 1816.4,1207.7 1818,1208 1819.4,1208.7 1820.9,1209.5 1822,1210 1823.9,1208.7 1825.4,1206.5 1826.9,1204.1 1828,1202.2 1829.9,1197.9 1831.4,1194.3 1832.9,1189.9 1834,1186.1 1835.9,1177.3 1837.4,1169.4 1838,1166.2 1838.9,1161.3 1840.4,1152.7 1842,1148.2 1843.4,1150.2 1845,1154.3 1846.4,1157.1 1848,1161.8 1849.4,1171.8 1851,1185.6 1852.4,1197.9 1854,1209.9 1855.5,1218.5 1857,1226 1858,1229.9 1860,1235.5 1861.5,1238.9 1863,1242 1864,1244.2 1866,1247.9 1867.5,1250.2 1869,1252.5 1870,1253.9 1872,1255.8 1873.5,1257.6 1875,1259.2 1876,1260.1 1878,1262 1879.5,1263.3 1881,1264.5 1882.5,1265.3 1884,1266.4 1885.5,1266.9 1887,1267.8 1888.5,1268.3 1890,1269 1891.5,1269.6 1892,1270.1 1893,1270.6 1894.5,1271.5 1896,1272.4 1897.5,1272.9 1898,1273 1899,1272.7 1900.5,1272.5 1902,1272.1 1903.5,1271.5 1905,1270.4 1906,1270 1908,1269.3 1909.5,1268.6 1911,1268.2 1912,1268.2 1914,1268.8 1915.5,1269.4 1917,1269.9 1918,1269.9 1920,1268.6 1921.5,1266.4 1923,1264.3" fill="none" stroke="#2319e0" stroke-width="4.6" stroke-linejoin="round" stroke-linecap="round"/>
<line x1="1795.40" y1="1123.80" x2="1795.40" y2="1321.50" stroke="#000" stroke-width="2.0" />
<line x1="1786.80" y1="1321.50" x2="1922.20" y2="1321.50" stroke="#000" stroke-width="2.0" />
<line x1="1786.80" y1="1138.40" x2="1795.40" y2="1138.40" stroke="#000" stroke-width="2.0" />
<line x1="1849.00" y1="1321.50" x2="1849.00" y2="1330.10" stroke="#000" stroke-width="2.0" />
<text x="1783.10" y="1150.40" font-size="27.5" text-anchor="end" font-weight="normal" fill="#000" >7</text>
<text x="1783.10" y="1333.50" font-size="27.5" text-anchor="end" font-weight="normal" fill="#000" >0</text>
<text x="1849.40" y="1362.20" font-size="27.5" text-anchor="middle" font-weight="normal" fill="#000" >-2</text>
<text x="1921.70" y="1362.20" font-size="27.5" text-anchor="middle" font-weight="normal" fill="#000" >0</text>
<path d="M1831.00,1114.00 C1831.56,1114.00 1832.04,1080.20 1832.60,1080.20 C1833.20,1080.20 1833.71,1114.00 1834.30,1114.00 C1834.93,1114.00 1835.47,1080.20 1836.10,1080.20 C1836.73,1080.20 1837.27,1114.00 1837.90,1114.00 C1838.53,1114.00 1839.07,1080.20 1839.70,1080.20 C1840.33,1080.20 1840.87,1114.00 1841.50,1114.00 C1842.27,1114.00 1842.93,1080.20 1843.70,1080.20 C1844.40,1080.20 1845.00,1114.00 1845.70,1114.00" fill="none" stroke="#2424d6" stroke-width="1.7" stroke-linejoin="round" stroke-linecap="round"/>
<rect x="2018.60" y="1123.80" width="11.8" height="197.70" fill="#95d4f4"/>
<path d="M1983,1257.7 1984.5,1257.5 1986,1258 1987.5,1258.2 1989,1258 1990.5,1258.3 1992,1259 1993.5,1259 1995,1259.2 1996.5,1259.1 1998.1,1258.4 2000,1257.4 2001.1,1253.8 2003,1238.2 2004.1,1222.2 2006,1182.5 2007.1,1156.3 2008,1144.4 2008.6,1144.9 2010.1,1152.3 2011,1158.3 2011.6,1164.9 2013.1,1189.9 2014,1202.7 2014.6,1210.2 2016.1,1226.6 2018,1240.7 2019.1,1245.6 2020.7,1251.6 2022.2,1255.7 2024,1257.9 2025.2,1257.4 2026.7,1254.9 2028,1251.9 2029.7,1245.6 2031.2,1237.6 2032.7,1227.6 2034,1218.6 2035.7,1198.8 2037.2,1178 2039,1165.6 2040.2,1171.5 2042,1189.2 2043.2,1205.5 2044.8,1228 2046,1239.1 2047.8,1244 2049.3,1246.9 2050.8,1248.2 2052,1249 2053.8,1249.4 2055.3,1250 2056.8,1250.1 2058.3,1250.4 2060,1250.7 2061.3,1250.7 2062.8,1250.1 2064.3,1250.6 2065.8,1250.3 2067.3,1250.3 2068,1250.4 2068.8,1250.6 2070.3,1250 2071.9,1249.9 2073.4,1249.3 2074.9,1249.3 2076,1248.9 2077.9,1248.9 2079.4,1248.9 2080.9,1249.3 2082.4,1248.8 2084,1249.3 2085.4,1249.2 2086.9,1249.3 2088.4,1249.3 2089.9,1249.9 2091.4,1250.4 2092,1250.6 2092.9,1251 2094.4,1251.9 2095.9,1253.3 2097.5,1253.7 2099,1254.7 2100,1255.2 2102,1254.3 2103.5,1253 2104,1253.2 2105,1250.9 2106.5,1244.8 2108,1239 2108,1253.2 2106.5,1259.4 2105,1265.2 2104,1267.7 2103.5,1267.9 2102,1268.7 2100,1269.2 2099,1269 2097.5,1268.3 2095.9,1267.7 2094.4,1266.6 2092.9,1265.7 2092,1265.2 2091.4,1264.6 2089.9,1264 2088.4,1263.5 2086.9,1263.2 2085.4,1262.9 2084,1262.7 2082.4,1262.8 2080.9,1263 2079.4,1262.6 2077.9,1262.5 2076,1262.8 2074.9,1262.5 2073.4,1262.9 2071.9,1263.3 2070.3,1263.7 2068.8,1264 2068,1264.4 2067.3,1264.2 2065.8,1264.8 2064.3,1264.9 2062.8,1265.1 2061.3,1265 2060,1265.3 2058.3,1264.7 2056.8,1264.5 2055.3,1263.7 2053.8,1263.6 2052,1262.8 2050.8,1261.9 2049.3,1260 2047.8,1257.4 2046,1252.6 2044.8,1241.7 2043.2,1219.4 2042,1203.7 2040.2,1185.9 2039,1180 2037.2,1192.7 2035.7,1213.8 2034,1233.7 2032.7,1242.5 2031.2,1251.9 2029.7,1259.4 2028,1265 2026.7,1267.7 2025.2,1270.3 2024,1271.1 2022.2,1269.5 2020.7,1265.8 2019.1,1260.5 2018,1255.7 2016.1,1241.8 2014.6,1224.9 2014,1217.3 2013.1,1204.2 2011.6,1179.5 2011,1173.3 2010.1,1167.4 2008.6,1160 2008,1159 2007.1,1170.6 2006,1196.5 2004.1,1236.4 2003,1252.9 2001.1,1269 2000,1272.3 1998.1,1272.7 1996.5,1272.6 1995,1272.7 1993.5,1272.7 1992,1272.9 1990.5,1272.9 1989,1273 1987.5,1272.5 1986,1271.7 1984.5,1271.5 1983,1271.1Z" fill="#f9c9c4" fill-opacity="0.8" stroke="#f2958c" stroke-width="1.6"/>
<path d="M1983,1252.8 1984.5,1253.5 1986,1253.8 1987.5,1254.8 1989,1255.3 1990.5,1256 1992,1256 1993.5,1256.7 1995,1257 1996.5,1257 1998.1,1256.8 2000,1256.8 2001.1,1253.9 2003,1238.3 2004.1,1221.6 2006,1178.5 2007.1,1151.1 2008,1138.7 2008.6,1140.3 2010.1,1148.4 2011,1155.3 2011.6,1161.8 2013.1,1185.7 2014,1198.2 2014.6,1205.8 2016.1,1223 2018,1238.2 2019.1,1243 2020.7,1247.8 2022.2,1252 2024,1256.9 2025.2,1261.3 2026.7,1267 2028,1269.1 2029.7,1266.6 2031.2,1262.2 2032,1259.2 2032.7,1255.7 2034.2,1243.8 2036,1229.4 2037.2,1219.8 2039,1210.8 2040.2,1215.7 2042,1229 2043.2,1236.2 2044.8,1244.4 2046,1249.2 2047.8,1252.3 2049.3,1254.3 2050.8,1255.6 2052.3,1257 2054,1258.3 2055.3,1259.2 2056.8,1260.4 2058.3,1261.5 2059.8,1262.1 2061.3,1262.9 2062,1263.2 2062.8,1263.3 2064.3,1263.5 2065.8,1263.8 2067.3,1263.7 2068.8,1264.5 2070,1264.8 2071.9,1265.2 2073.4,1265.7 2074.9,1266.6 2076.4,1266.7 2078,1266.7 2079.4,1267.1 2080.9,1267.2 2082.4,1266.9 2083.9,1266.9 2085.4,1266.6 2086,1266.5 2086.9,1266.8 2088.4,1267.1 2089.9,1267.7 2091.4,1268.4 2092.9,1268.6 2094,1268.5 2095.9,1268.5 2097.5,1268.2 2099,1268 2100.5,1268.5 2102,1268.7 2103.5,1267.6 2105,1263.9 2106.5,1259.6 2108,1255.3 2108,1268.8 2106.5,1272.8 2105,1277.5 2103.5,1280.8 2102,1282.3 2100.5,1282.4 2099,1282.7 2097.5,1282.8 2095.9,1282.8 2094,1282.5 2092.9,1282.5 2091.4,1282.2 2089.9,1281.5 2088.4,1281.7 2086.9,1281.7 2086,1282 2085.4,1281.9 2083.9,1281.9 2082.4,1281.9 2080.9,1281.7 2079.4,1281.6 2078,1281.8 2076.4,1281.5 2074.9,1280.8 2073.4,1280 2071.9,1279.6 2070,1278.6 2068.8,1278.4 2067.3,1277.8 2065.8,1278 2064.3,1277.6 2062.8,1277.4 2062,1277.3 2061.3,1277.3 2059.8,1276.5 2058.3,1275.8 2056.8,1275 2055.3,1274.3 2054,1273.3 2052.3,1271.8 2050.8,1270.5 2049.3,1268.7 2047.8,1266.6 2046,1263.9 2044.8,1259.2 2043.2,1250.5 2042,1243.4 2040.2,1230.2 2039,1224.7 2037.2,1233.7 2036,1243.4 2034.2,1257.7 2032.7,1269.2 2032,1272.9 2031.2,1276 2029.7,1280.3 2028,1282.9 2026.7,1280.8 2025.2,1275.4 2024,1270.9 2022.2,1266.4 2020.7,1262.6 2019.1,1257.7 2018,1252.9 2016.1,1237.7 2014.6,1220.3 2014,1212.9 2013.1,1200.1 2011.6,1175.6 2011,1169.1 2010.1,1162.3 2008.6,1153.9 2008,1153.1 2007.1,1165.9 2006,1193.2 2004.1,1236.1 2003,1252.6 2001.1,1267.6 2000,1270.2 1998.1,1270.4 1996.5,1270.1 1995,1270.4 1993.5,1270.1 1992,1270.3 1990.5,1269.8 1989,1269.3 1987.5,1268.2 1986,1267.1 1984.5,1265.9 1983,1265.2Z" fill="#c9c9f7" fill-opacity="0.8" stroke="#9393ee" stroke-width="1.6"/>
<line x1="2000.60" y1="1123.80" x2="2000.60" y2="1321.50" stroke="#000" stroke-width="2.0" />
<line x1="2031.40" y1="1123.80" x2="2031.40" y2="1321.50" stroke="#000" stroke-width="2.0" />
<line x1="2108.80" y1="1123.80" x2="2108.80" y2="1330.10" stroke="#000" stroke-width="2.0" />
<path d="M1983,1264.1 1984.5,1264.3 1986,1265 1987.5,1265.3 1989,1265.6 1990.5,1266 1992,1266.1 1993.5,1265.8 1995,1265.9 1996.5,1265.6 1998.1,1265.2 2000,1264.8 2001.1,1261.4 2003,1245.6 2004.1,1229.8 2006,1190.2 2007.1,1164.2 2008,1152.4 2008.6,1153.3 2010.1,1160.3 2011,1166.3 2011.6,1172.7 2013.1,1197.5 2014,1210.5 2014.6,1218.1 2016.1,1234.5 2018,1248.6 2019.1,1253.2 2020.7,1258.5 2022.2,1262.4 2024,1264.5 2025.2,1263.7 2026.7,1261.4 2028,1258.6 2029.7,1252.9 2031.2,1245 2032.7,1235.4 2034,1226.2 2035.7,1206 2037.2,1184.6 2039,1172 2040.2,1177.8 2042,1195.7 2043.2,1212.1 2044.8,1234.8 2046,1245.6 2047.8,1250.5 2049.3,1253.3 2050.8,1255.2 2052,1256.2 2053.8,1257.1 2055.3,1257.5 2056.8,1258.1 2058.3,1258.3 2060,1258.4 2061.3,1258.2 2062.8,1258 2064.3,1257.7 2065.8,1257.5 2067.3,1257.1 2068,1256.9 2068.8,1256.6 2070.3,1256.4 2071.9,1256 2073.4,1255.7 2074.9,1255.8 2076,1255.8 2077.9,1255.7 2079.4,1255.7 2080.9,1255.7 2082.4,1255.6 2084,1255.6 2085.4,1255.8 2086.9,1256.1 2088.4,1256.7 2089.9,1257.3 2091.4,1258 2092,1258.3 2092.9,1258.7 2094.4,1259.6 2095.9,1260.6 2097.5,1261.3 2099,1261.7 2100,1262.1 2102,1261.3 2103.5,1260.3 2104,1259.9 2105,1257.9 2106.5,1252 2108,1245.8" fill="none" stroke="#e3231b" stroke-width="4.6" stroke-linejoin="round" stroke-linecap="round"/>
<path d="M1983,1259 1984.5,1259.9 1986,1260.6 1987.5,1261.4 1989,1262.2 1990.5,1262.6 1992,1262.9 1993.5,1263.1 1995,1263.3 1996.5,1263.3 1998.1,1263.7 2000,1263.7 2001.1,1261 2003,1246 2004.1,1229.4 2006,1186.3 2007.1,1158.7 2008,1146.2 2008.6,1147.1 2010.1,1155.1 2011,1162 2011.6,1168.4 2013.1,1192.8 2014,1206.1 2014.6,1213.9 2016.1,1231 2018,1246.2 2019.1,1250.9 2020.7,1255.5 2022.2,1258.9 2024,1264 2025.2,1268.3 2026.7,1274 2028,1276 2029.7,1273.6 2031.2,1268.8 2032,1265.7 2032.7,1262.2 2034.2,1250.5 2036,1235.8 2037.2,1226.4 2039,1217.6 2040.2,1222.3 2042,1235.2 2043.2,1242.6 2044.8,1250.9 2046,1255.6 2047.8,1259 2049.3,1261.4 2050.8,1263 2052.3,1264.5 2054,1266 2055.3,1266.8 2056.8,1267.7 2058.3,1268.7 2059.8,1269.3 2061.3,1269.6 2062,1269.8 2062.8,1270 2064.3,1270.4 2065.8,1270.8 2067.3,1271.3 2068.8,1271.8 2070,1272 2071.9,1272.3 2073.4,1272.8 2074.9,1273 2076.4,1273.5 2078,1273.6 2079.4,1273.9 2080.9,1274.1 2082.4,1274.3 2083.9,1274.1 2085.4,1274.3 2086,1274.3 2086.9,1274.1 2088.4,1274.1 2089.9,1274.6 2091.4,1274.9 2092.9,1274.9 2094,1275.1 2095.9,1275.3 2097.5,1275.6 2099,1275.8 2100.5,1276 2102,1276.2 2103.5,1275 2105,1271 2106.5,1266.3 2108,1262.2" fill="none" stroke="#2319e0" stroke-width="4.6" stroke-linejoin="round" stroke-linecap="round"/>
<line x1="1983.00" y1="1123.80" x2="1983.00" y2="1321.50" stroke="#000" stroke-width="2.0" />
<line x1="1974.40" y1="1321.50" x2="2109.80" y2="1321.50" stroke="#000" stroke-width="2.0" />
<line x1="1974.40" y1="1134.00" x2="1983.00" y2="1134.00" stroke="#000" stroke-width="2.0" />
<line x1="2036.60" y1="1321.50" x2="2036.60" y2="1330.10" stroke="#000" stroke-width="2.0" />
<text x="1970.70" y="1146.00" font-size="27.5" text-anchor="end" font-weight="normal" fill="#000" >9</text>
<text x="1970.70" y="1333.50" font-size="27.5" text-anchor="end" font-weight="normal" fill="#000" >0</text>
<text x="2037.00" y="1362.20" font-size="27.5" text-anchor="middle" font-weight="normal" fill="#000" >-2</text>
<text x="2109.30" y="1362.20" font-size="27.5" text-anchor="middle" font-weight="normal" fill="#000" >0</text>
<path d="M2018.60,1114.00 C2019.16,1114.00 2019.64,1080.20 2020.20,1080.20 C2020.80,1080.20 2021.31,1114.00 2021.90,1114.00 C2022.53,1114.00 2023.07,1080.20 2023.70,1080.20 C2024.33,1080.20 2024.87,1114.00 2025.50,1114.00 C2026.13,1114.00 2026.67,1080.20 2027.30,1080.20 C2027.93,1080.20 2028.47,1114.00 2029.10,1114.00 C2029.87,1114.00 2030.53,1080.20 2031.30,1080.20 C2032.00,1080.20 2032.60,1114.00 2033.30,1114.00" fill="none" stroke="#2424d6" stroke-width="1.7" stroke-linejoin="round" stroke-linecap="round"/>
<rect x="345.20" y="1426.60" width="11.8" height="197.80" fill="#95d4f4"/>
<path d="M309.6,1557.2 311.1,1556.4 312.6,1555.8 314.1,1555.3 315.7,1554.8 317.2,1554.1 318,1553.9 318.7,1553.8 320.2,1553.4 321.7,1552.6 323.2,1552 324.8,1551.5 326.3,1550.8 328,1550 329.3,1549.7 330.8,1548.6 332.4,1547.7 333.9,1547 335.4,1546.3 336,1545.7 336.9,1545.7 338.4,1545.4 339.9,1545 341.4,1544.5 343,1544.2 344,1543.9 346,1543.6 347.5,1543.6 349,1543.4 350.6,1543.5 352,1543.4 353.6,1542.5 355.1,1541.3 356.6,1540.1 358,1538.7 359.6,1536.7 361.2,1534.7 362.7,1533 364,1531.8 365.7,1530.9 367.2,1530.4 368.8,1529.7 370.3,1529 372,1528.6 373.3,1528.1 374.8,1527.5 376.3,1526.8 377.9,1525.9 379.4,1525.2 380,1524.9 380.9,1524.6 382.4,1524.3 383.9,1523.8 385.4,1523.4 386.9,1523.1 388,1522.4 390,1520 391.5,1517.8 393,1514.9 394,1513.1 394.5,1512 396.1,1509.2 397.6,1505.6 399.1,1502.5 400,1500.9 400.6,1500.1 402.1,1497.7 403.6,1495.3 405.1,1493.1 406.7,1490.6 408,1488.5 409.7,1486.2 411.2,1484.6 412.7,1482.9 414.2,1481.1 416,1479 417.3,1477.2 418.8,1474.8 420.3,1472.4 421.8,1470.1 423.4,1467.7 424,1466.7 424.9,1465.3 426.4,1463.2 427.9,1460.7 429.4,1457.8 430,1456.7 430.9,1454.8 432.4,1450.5 434,1446.1 435.5,1441.7 437,1437 437,1444.5 435.5,1449.1 434,1453.7 432.4,1458.3 430.9,1462.7 430,1464.9 429.4,1466.1 427.9,1469 426.4,1471.6 424.9,1473.7 424,1474.9 423.4,1476.1 421.8,1478.6 420.3,1480.7 418.8,1483.1 417.3,1485.4 416,1487.2 414.2,1489.2 412.7,1491.3 411.2,1493.1 409.7,1495 408,1497 406.7,1499 405.1,1501.1 403.6,1503.3 402.1,1505.4 400.6,1508 400,1509.1 399.1,1511 397.6,1513.9 396.1,1517.3 394.5,1520.3 394,1521.1 393,1522.8 391.5,1525.5 390,1527.9 388,1529.9 386.9,1530.5 385.4,1531.1 383.9,1531.8 382.4,1532.4 380.9,1532.7 380,1532.9 379.4,1533.3 377.9,1534.1 376.3,1534.8 374.8,1535.8 373.3,1536.6 372,1537.2 370.3,1537.9 368.8,1538.3 367.2,1538.7 365.7,1539.2 364,1540.1 362.7,1541.1 361.2,1543.3 359.6,1545.6 358,1547.6 356.6,1548.6 355.1,1549.7 353.6,1550.4 352,1550.8 350.6,1550.9 349,1551.2 347.5,1551.6 346,1552.1 344,1552.2 343,1552.5 341.4,1552.6 339.9,1552.8 338.4,1553.2 336.9,1554 336,1553.9 335.4,1554.1 333.9,1554.8 332.4,1555.6 330.8,1556.4 329.3,1557.3 328,1558.3 326.3,1559.1 324.8,1559.5 323.2,1560.1 321.7,1560.7 320.2,1561 318.7,1561.8 318,1562.2 317.2,1562.5 315.7,1563.1 314.1,1563.8 312.6,1564.4 311.1,1564.9 309.6,1565.3Z" fill="#f9c9c4" fill-opacity="0.8" stroke="#f2958c" stroke-width="1.6"/>
<path d="M309.6,1560.8 311.1,1560.3 312.6,1559.9 314.1,1559.8 315.7,1559.6 317.2,1559.3 318,1559.2 318.7,1559.3 320.2,1558.9 321.7,1558.7 323.2,1558.2 324.8,1558 326.3,1557.6 328,1556.9 329.3,1556.4 330.8,1555.4 332.4,1554.1 333.9,1552.9 335.4,1552.6 336,1552.2 336.9,1552.2 338.4,1553.4 339.9,1554.6 341.4,1555.5 342,1556.1 343,1556.4 344.5,1556.3 346,1556.4 348,1556.8 349,1557.4 350.6,1559.9 352.1,1563.1 354,1565.2 355.1,1565.1 356.6,1564.5 358.1,1563.4 360,1562 361.2,1561.4 362.7,1560.6 364.2,1560 366,1559 367.2,1557.1 368.8,1552.9 370.3,1548.7 372,1545 373.3,1543.6 374.8,1542.4 376.3,1541.8 378,1540.8 379.4,1540.5 380.9,1540.4 382.4,1540.1 383.9,1539.5 385.4,1539.2 386,1538.9 386.9,1538.5 388.5,1537.5 390,1536.7 392,1535 393,1534.6 394.5,1533.2 396.1,1532.1 398,1530.8 399.1,1530.3 400.6,1529.2 402.1,1528.6 404,1527.3 405.1,1525.9 406.7,1523.4 408,1522.3 409.7,1522.9 411.2,1524.2 412.7,1524.9 414,1525.1 415.8,1525.1 417.3,1524.4 418.8,1523.5 420,1523.1 421.8,1522.2 423.4,1520.7 424.9,1519.1 426,1518.1 427.9,1515.9 429.4,1513.7 430.9,1511.2 432,1509.2 434,1503.8 435.5,1498.4 437,1493 437,1500.9 435.5,1505.9 434,1511.4 432,1516.9 430.9,1519.1 429.4,1521.7 427.9,1524.2 426,1526.2 424.9,1527.2 423.4,1528.6 421.8,1529.7 420,1530.9 418.8,1531.4 417.3,1532.3 415.8,1532.7 414,1533.1 412.7,1532.6 411.2,1531.7 409.7,1530.6 408,1529.9 406.7,1530.8 405.1,1533.3 404,1535 402.1,1536.4 400.6,1537.6 399.1,1538.4 398,1539 396.1,1540.3 394.5,1541.3 393,1542.2 392,1542.9 390,1544.4 388.5,1545.6 386.9,1546.6 386,1547 385.4,1547.3 383.9,1547.5 382.4,1547.5 380.9,1547.8 379.4,1548.2 378,1548.7 376.3,1549.7 374.8,1550.7 373.3,1552 372,1553.1 370.3,1556.4 368.8,1560.8 367.2,1564.9 366,1566.9 364.2,1568.4 362.7,1569.3 361.2,1570 360,1570.8 358.1,1571.8 356.6,1572.6 355.1,1573.3 354,1573.2 352.1,1571.2 350.6,1568.5 349,1566 348,1565.2 346,1565 344.5,1565 343,1564.7 342,1564.5 341.4,1564.2 339.9,1562.9 338.4,1561.5 336.9,1560.6 336,1560.2 335.4,1560.2 333.9,1561 332.4,1562.2 330.8,1563.3 329.3,1564.3 328,1565.1 326.3,1565.3 324.8,1565.3 323.2,1565.8 321.7,1566.1 320.2,1566.5 318.7,1567 318,1567.4 317.2,1567.4 315.7,1567.9 314.1,1568.1 312.6,1568.4 311.1,1568.7 309.6,1569Z" fill="#c9c9f7" fill-opacity="0.8" stroke="#9393ee" stroke-width="1.6"/>
<line x1="327.20" y1="1426.60" x2="327.20" y2="1624.40" stroke="#000" stroke-width="2.0" />
<line x1="358.00" y1="1426.60" x2="358.00" y2="1624.40" stroke="#000" stroke-width="2.0" />
<line x1="435.40" y1="1426.60" x2="435.40" y2="1633.00" stroke="#000" stroke-width="2.0" />
<path d="M309.6,1560.7 311.1,1560.2 312.6,1559.9 314.1,1559.3 315.7,1558.7 317.2,1558.2 318,1557.9 318.7,1557.4 320.2,1556.9 321.7,1556.4 323.2,1555.7 324.8,1555.1 326.3,1554.4 328,1553.6 329.3,1552.8 330.8,1552.2 332.4,1551.5 333.9,1550.8 335.4,1550.3 336,1550.5 336.9,1550.1 338.4,1549.8 339.9,1549.4 341.4,1548.9 343,1548.2 344,1548.1 346,1547.8 347.5,1547.6 349,1547.3 350.6,1547.3 352,1547.1 353.6,1546.5 355.1,1545.5 356.6,1544.1 358,1542.8 359.6,1540.6 361.2,1538.5 362.7,1536.6 364,1535.8 365.7,1534.9 367.2,1534.4 368.8,1533.7 370.3,1533.5 372,1532.8 373.3,1532.2 374.8,1531.4 376.3,1530.5 377.9,1529.6 379.4,1528.7 380,1528.6 380.9,1528.3 382.4,1528 383.9,1527.6 385.4,1527.2 386.9,1526.5 388,1525.9 390,1523.7 391.5,1521.2 393,1518.5 394,1516.7 394.5,1516 396.1,1513.1 397.6,1509.9 399.1,1507 400,1505.1 400.6,1504 402.1,1501.4 403.6,1499.1 405.1,1496.6 406.7,1494.5 408,1492.7 409.7,1490.6 411.2,1488.8 412.7,1487 414.2,1485.3 416,1482.9 417.3,1481.1 418.8,1478.8 420.3,1476.7 421.8,1474.4 423.4,1472.3 424,1471.3 424.9,1469.9 426.4,1467.5 427.9,1465.1 429.4,1462.3 430,1461 430.9,1459 432.4,1454.7 434,1450.1 435.5,1445.2 437,1440.8" fill="none" stroke="#e3231b" stroke-width="4.6" stroke-linejoin="round" stroke-linecap="round"/>
<path d="M309.6,1564.9 311.1,1564.7 312.6,1564.3 314.1,1564 315.7,1563.5 317.2,1563.4 318,1563 318.7,1562.9 320.2,1562.6 321.7,1562.5 323.2,1562.2 324.8,1562 326.3,1561.6 328,1560.9 329.3,1560.4 330.8,1559.2 332.4,1557.9 333.9,1556.7 335.4,1556.2 336,1556.1 336.9,1556.2 338.4,1557.4 339.9,1558.9 341.4,1560 342,1559.9 343,1560 344.5,1560 346,1559.9 348,1560.2 349,1561.4 350.6,1564.1 352.1,1567.1 354,1569.3 355.1,1569.1 356.6,1568.4 358.1,1567.4 360,1566.2 361.2,1565.3 362.7,1564.7 364.2,1563.8 366,1562.7 367.2,1560.9 368.8,1557 370.3,1552.6 372,1549.1 373.3,1547.8 374.8,1546.4 376.3,1545.6 378,1544.8 379.4,1544.6 380.9,1544 382.4,1544 383.9,1543.5 385.4,1543.4 386,1543.2 386.9,1543.1 388.5,1541.8 390,1540.9 392,1539.5 393,1538.4 394.5,1537.3 396.1,1536.6 398,1535 399.1,1534 400.6,1533.4 402.1,1532.4 404,1530.6 405.1,1529.2 406.7,1526.8 408,1525.4 409.7,1526.3 411.2,1527.7 412.7,1528.7 414,1529.2 415.8,1529.2 417.3,1528.6 418.8,1527.7 420,1527.2 421.8,1525.9 423.4,1524.7 424.9,1523 426,1522.1 427.9,1519.9 429.4,1517.7 430.9,1515.2 432,1513 434,1507.5 435.5,1502.1 437,1497" fill="none" stroke="#2319e0" stroke-width="4.6" stroke-linejoin="round" stroke-linecap="round"/>
<line x1="309.60" y1="1426.60" x2="309.60" y2="1624.40" stroke="#000" stroke-width="2.0" />
<line x1="301.00" y1="1624.40" x2="436.40" y2="1624.40" stroke="#000" stroke-width="2.0" />
<line x1="301.00" y1="1429.00" x2="309.60" y2="1429.00" stroke="#000" stroke-width="2.0" />
<line x1="363.20" y1="1624.40" x2="363.20" y2="1633.00" stroke="#000" stroke-width="2.0" />
<text x="297.30" y="1441.00" font-size="27.5" text-anchor="end" font-weight="normal" fill="#000" >13</text>
<text x="297.30" y="1636.40" font-size="27.5" text-anchor="end" font-weight="normal" fill="#000" >0</text>
<text x="363.60" y="1665.10" font-size="27.5" text-anchor="middle" font-weight="normal" fill="#000" >-2</text>
<text x="435.90" y="1665.10" font-size="27.5" text-anchor="middle" font-weight="normal" fill="#000" >0</text>
<path d="M345.20,1416.80 C345.76,1416.80 346.24,1383.00 346.80,1383.00 C347.39,1383.00 347.91,1416.80 348.50,1416.80 C349.13,1416.80 349.67,1383.00 350.30,1383.00 C350.93,1383.00 351.47,1416.80 352.10,1416.80 C352.73,1416.80 353.27,1383.00 353.90,1383.00 C354.53,1383.00 355.07,1416.80 355.70,1416.80 C356.47,1416.80 357.13,1383.00 357.90,1383.00 C358.60,1383.00 359.20,1416.80 359.90,1416.80" fill="none" stroke="#2424d6" stroke-width="1.7" stroke-linejoin="round" stroke-linecap="round"/>
<rect x="532.20" y="1426.60" width="11.8" height="197.80" fill="#95d4f4"/>
<path d="M496.6,1445.8 498.1,1446.3 499.6,1446.8 501.1,1447.7 502.6,1448.5 504,1448.9 505.7,1449.8 507.2,1450.8 508.7,1451.3 510.2,1451.7 512,1452.3 513.2,1452.7 514.7,1453.1 516.2,1453.3 517.8,1453.7 519.3,1454.5 520,1454.4 520.8,1454.8 522.3,1455.2 523.8,1455.7 525.3,1455.9 526.8,1456.4 528,1456.6 529.8,1457.6 531.4,1458.5 532.9,1459.7 534,1460.2 535.9,1462.4 537.4,1464.1 538.9,1466.1 540,1467.2 541.9,1468.9 543.4,1470.1 545,1471.5 546,1472.2 548,1474.1 549.5,1475.8 551,1476.7 552,1477.3 554,1478.2 555.5,1478.7 557,1479 558,1479.9 558.5,1480.1 560.1,1481.3 561.6,1482.2 563.1,1483.6 564,1484.2 564.6,1485.1 566.1,1487.1 567.6,1490.1 569.1,1492.9 570,1494.4 570.6,1495 572.1,1497.1 573.6,1498.7 575.2,1500.7 576.7,1502.5 578,1504.1 579.7,1506.1 581.2,1507.9 582.7,1509.6 584.2,1511.3 586,1513.9 587.2,1516.4 588.8,1519.7 590.3,1523.4 591.8,1526.9 593.3,1529.4 594,1530 594.8,1530.6 596.3,1531.6 597.8,1532.7 599.3,1533.6 600.9,1534.7 602,1535.6 603.9,1536.9 605.4,1537.8 606.9,1538.5 608.4,1539.3 610,1540.2 611.4,1540.8 612.9,1541.6 614.5,1542.2 616,1542.7 617.5,1543.2 619,1543.9 620.5,1544.3 622,1545.3 622,1555.1 620.5,1554.2 619,1553.5 617.5,1552.7 616,1552.1 614.5,1551.3 612.9,1550.8 611.4,1550.2 610,1549.6 608.4,1548.9 606.9,1548.5 605.4,1547.7 603.9,1547.1 602,1546.4 600.9,1545.7 599.3,1544.7 597.8,1543.6 596.3,1542.3 594.8,1540.8 594,1539.8 593.3,1538.6 591.8,1536 590.3,1532.5 588.8,1529.1 587.2,1526.3 586,1524.4 584.2,1522.1 582.7,1520.3 581.2,1518.3 579.7,1516.3 578,1514.2 576.7,1512.4 575.2,1510.4 573.6,1508.9 572.1,1507.2 570.6,1504.9 570,1504.2 569.1,1502.9 567.6,1499.8 566.1,1496.7 564.6,1494.6 564,1493.9 563.1,1493.1 561.6,1492.1 560.1,1491.3 558.5,1490.3 558,1490.1 557,1489.6 555.5,1488.7 554,1487.8 552,1486.8 551,1486.2 549.5,1485 548,1483.8 546,1482.4 545,1481.6 543.4,1480.3 541.9,1479 540,1477.1 538.9,1475.9 537.4,1473.8 535.9,1471.7 534,1469.7 532.9,1469.3 531.4,1468.1 529.8,1467.4 528,1467 526.8,1466.6 525.3,1466.1 523.8,1466.1 522.3,1465.9 520.8,1465.3 520,1465.1 519.3,1465.1 517.8,1464.5 516.2,1464 514.7,1463.3 513.2,1462.8 512,1462 510.2,1461.2 508.7,1460.6 507.2,1460.2 505.7,1459.6 504,1459.3 502.6,1458.7 501.1,1458.2 499.6,1457.4 498.1,1456.9 496.6,1456.1Z" fill="#f9c9c4" fill-opacity="0.8" stroke="#f2958c" stroke-width="1.6"/>
<path d="M496.6,1432.1 498.1,1432.7 499.6,1433.4 501.1,1434.2 502.6,1435 504,1435.7 505.7,1437.2 507.2,1438.4 508.7,1439.7 510,1440.9 511.7,1442.5 513.2,1443.5 514.7,1444.9 516.2,1445.7 517,1445.6 517.8,1445.8 519.3,1444.9 520.8,1443.2 522.3,1441.7 524,1440.9 525.3,1440.8 526.8,1441.4 528.3,1442.3 530,1443.8 531.4,1445.9 532.9,1449.2 534,1452.3 535.9,1458.9 537.4,1465.4 538,1467.9 538.9,1473.1 540.4,1482.3 541,1483.7 541.9,1484 543.4,1484.5 545,1485.1 546,1485.2 548,1484.9 549.5,1484.7 551,1484.4 552,1484.2 554,1484.2 555.5,1484.7 557,1485.4 558,1485.8 558.5,1485.9 560.1,1486.4 561.6,1487 563.1,1487.3 564,1487.6 564.6,1487.9 566.1,1489.2 567.6,1490.1 569.1,1491.5 570,1492.3 570.6,1492.8 572.1,1493.7 573.6,1494.6 575.2,1495.7 576,1496.1 576.7,1496.6 578.2,1497.7 579.7,1499.5 581.2,1501.1 582,1501.7 582.7,1502.1 584.2,1503.6 585.7,1504.6 587.2,1505.3 588.8,1506.7 590,1507.9 591.8,1509.3 593.3,1510.4 594.8,1511.4 596.3,1512.4 598,1513.2 599.3,1513.8 600.9,1514.5 602.4,1515.7 603.9,1516.3 605.4,1517.2 606,1517.2 606.9,1517.7 608.4,1518 609.9,1518.5 611.4,1518.7 612.9,1519.7 614,1519.8 616,1520.6 617.5,1521.1 619,1521.9 620.5,1522.2 622,1523.1 622,1532.8 620.5,1532.1 619,1531.5 617.5,1530.9 616,1530.6 614,1530.2 612.9,1530.1 611.4,1529.8 609.9,1529.2 608.4,1528.4 606.9,1527.4 606,1526.9 605.4,1526.5 603.9,1526 602.4,1525.3 600.9,1524.7 599.3,1523.9 598,1523.1 596.3,1522.1 594.8,1521.2 593.3,1520.2 591.8,1519.3 590,1517.9 588.8,1517.1 587.2,1516.3 585.7,1515.4 584.2,1514 582.7,1513.1 582,1512.4 581.2,1511.4 579.7,1509.5 578.2,1507.9 576.7,1506.2 576,1505.5 575.2,1505.1 573.6,1504.4 572.1,1503.6 570.6,1502.8 570,1502.5 569.1,1501.7 567.6,1500.5 566.1,1499.6 564.6,1498.5 564,1498.1 563.1,1498 561.6,1497.5 560.1,1497 558.5,1496.6 558,1496.5 557,1495.8 555.5,1495.2 554,1494.3 552,1493.6 551,1494 549.5,1494.3 548,1494.7 546,1494.8 545,1494.8 543.4,1494.5 541.9,1494 541,1493.6 540.4,1492.3 538.9,1483.4 538,1478 537.4,1475.2 535.9,1468.6 534,1462 532.9,1459 531.4,1455.8 530,1454.1 528.3,1452.6 526.8,1452.1 525.3,1451.3 524,1450.9 522.3,1451.9 520.8,1453.4 519.3,1454.6 517.8,1455.9 517,1456.2 516.2,1455.7 514.7,1454.9 513.2,1454 511.7,1452.4 510,1450.9 508.7,1450.1 507.2,1448.8 505.7,1447.3 504,1446.3 502.6,1445.1 501.1,1444.3 499.6,1443.3 498.1,1442.7 496.6,1441.5Z" fill="#c9c9f7" fill-opacity="0.8" stroke="#9393ee" stroke-width="1.6"/>
<line x1="514.20" y1="1426.60" x2="514.20" y2="1624.40" stroke="#000" stroke-width="2.0" />
<line x1="545.00" y1="1426.60" x2="545.00" y2="1624.40" stroke="#000" stroke-width="2.0" />
<line x1="622.40" y1="1426.60" x2="622.40" y2="1633.00" stroke="#000" stroke-width="2.0" />
<path d="M496.6,1450.8 498.1,1451.5 499.6,1452 501.1,1452.6 502.6,1453.5 504,1454.2 505.7,1454.7 507.2,1455.5 508.7,1456 510.2,1456.3 512,1457 513.2,1457.4 514.7,1457.8 516.2,1458.2 517.8,1458.9 519.3,1459.5 520,1459.9 520.8,1460.3 522.3,1460.9 523.8,1461.3 525.3,1461.7 526.8,1461.9 528,1462.1 529.8,1462.7 531.4,1463.4 532.9,1464.1 534,1464.9 535.9,1467 537.4,1468.8 538.9,1470.7 540,1471.8 541.9,1473.8 543.4,1475 545,1476.2 546,1477.1 548,1478.9 549.5,1480.1 551,1481 552,1481.8 554,1483.1 555.5,1484 557,1484.6 558,1485.2 558.5,1485.6 560.1,1486.4 561.6,1487.2 563.1,1488.5 564,1489.5 564.6,1490 566.1,1492.3 567.6,1495 569.1,1497.7 570,1499 570.6,1499.8 572.1,1501.5 573.6,1503.6 575.2,1505.3 576.7,1506.9 578,1508.7 579.7,1510.9 581.2,1512.4 582.7,1514.4 584.2,1516.5 586,1519.1 587.2,1521.5 588.8,1525.2 590.3,1528.5 591.8,1531.9 593.3,1534.6 594,1535.3 594.8,1535.8 596.3,1537.3 597.8,1538.4 599.3,1539.1 600.9,1540.2 602,1541 603.9,1541.9 605.4,1542.5 606.9,1543.3 608.4,1544 610,1544.9 611.4,1545.3 612.9,1546.3 614.5,1547.2 616,1547.7 617.5,1548.2 619,1548.8 620.5,1549.2 622,1549.6" fill="none" stroke="#e3231b" stroke-width="4.6" stroke-linejoin="round" stroke-linecap="round"/>
<path d="M496.6,1436.9 498.1,1437.6 499.6,1438.5 501.1,1439.2 502.6,1439.9 504,1440.8 505.7,1442.3 507.2,1443.5 508.7,1444.9 510,1446 511.7,1447.7 513.2,1448.9 514.7,1450.1 516.2,1451.1 517,1451.1 517.8,1450.9 519.3,1450.1 520.8,1448.6 522.3,1446.8 524,1446.3 525.3,1446.4 526.8,1446.9 528.3,1447.6 530,1449.1 531.4,1450.8 532.9,1453.9 534,1456.9 535.9,1463.4 537.4,1469.9 538,1472.5 538.9,1477.9 540.4,1487.2 541,1488.9 541.9,1489.1 543.4,1489.9 545,1490.4 546,1490.3 548,1489.7 549.5,1489.4 551,1489.1 552,1488.7 554,1489.1 555.5,1489.8 557,1490.4 558,1490.5 558.5,1490.8 560.1,1491.1 561.6,1491.8 563.1,1492.6 564,1493 564.6,1493.1 566.1,1494.3 567.6,1495.3 569.1,1496.3 570,1497.1 570.6,1497.7 572.1,1498.3 573.6,1499.4 575.2,1500.3 576,1500.9 576.7,1501.5 578.2,1503 579.7,1504.4 581.2,1506.2 582,1507 582.7,1507.6 584.2,1509 585.7,1510.3 587.2,1511.3 588.8,1512.3 590,1513.1 591.8,1514.1 593.3,1514.9 594.8,1515.9 596.3,1516.7 598,1517.4 599.3,1518.1 600.9,1519 602.4,1519.9 603.9,1521 605.4,1521.9 606,1522.2 606.9,1522.6 608.4,1523.1 609.9,1523.3 611.4,1523.9 612.9,1524.4 614,1524.8 616,1525.8 617.5,1526.6 619,1527.1 620.5,1527.9 622,1528.7" fill="none" stroke="#2319e0" stroke-width="4.6" stroke-linejoin="round" stroke-linecap="round"/>
<line x1="496.60" y1="1426.60" x2="496.60" y2="1624.40" stroke="#000" stroke-width="2.0" />
<line x1="488.00" y1="1624.40" x2="623.40" y2="1624.40" stroke="#000" stroke-width="2.0" />
<line x1="488.00" y1="1435.00" x2="496.60" y2="1435.00" stroke="#000" stroke-width="2.0" />
<line x1="550.20" y1="1624.40" x2="550.20" y2="1633.00" stroke="#000" stroke-width="2.0" />
<text x="484.30" y="1447.00" font-size="27.5" text-anchor="end" font-weight="normal" fill="#000" >5</text>
<text x="484.30" y="1636.40" font-size="27.5" text-anchor="end" font-weight="normal" fill="#000" >0</text>
<text x="550.60" y="1665.10" font-size="27.5" text-anchor="middle" font-weight="normal" fill="#000" >-2</text>
<text x="622.90" y="1665.10" font-size="27.5" text-anchor="middle" font-weight="normal" fill="#000" >0</text>
<path d="M532.20,1416.80 C532.76,1416.80 533.24,1383.00 533.80,1383.00 C534.40,1383.00 534.90,1416.80 535.50,1416.80 C536.13,1416.80 536.67,1383.00 537.30,1383.00 C537.93,1383.00 538.47,1416.80 539.10,1416.80 C539.73,1416.80 540.27,1383.00 540.90,1383.00 C541.53,1383.00 542.07,1416.80 542.70,1416.80 C543.47,1416.80 544.13,1383.00 544.90,1383.00 C545.60,1383.00 546.20,1416.80 546.90,1416.80" fill="none" stroke="#2424d6" stroke-width="1.7" stroke-linejoin="round" stroke-linecap="round"/>
<rect x="718.00" y="1426.60" width="11.8" height="197.80" fill="#95d4f4"/>
<path d="M682.4,1533.2 683.9,1533.4 685.4,1533.3 686.9,1533.2 688.4,1533.3 690,1532.9 691.4,1532.3 692.9,1531.6 694.4,1530.7 695.9,1529.9 697.4,1528.7 698,1528.2 698.9,1527.1 700.4,1525.2 701.9,1523.1 703.4,1521.2 704.9,1519.8 706,1519.6 707.9,1521.4 709.4,1524.4 710.9,1526.8 712,1527.5 713.9,1527.6 715.4,1527 716.9,1526.2 718,1526 719.9,1525.7 721.4,1525.3 722.9,1525.2 724.4,1524.6 726,1524.1 727.4,1522.8 728.9,1520.2 730.4,1517.6 732,1515.9 733.4,1515.1 734.9,1514.2 736.4,1513.9 738,1514 739.4,1516.1 741,1519.1 742,1520.3 744,1519.4 745.5,1518.3 747,1516.9 748,1516.7 750,1514.8 751.5,1513.1 753,1511.9 754,1511.7 756,1513.6 757.5,1517.1 759,1520.4 760,1521.3 762,1520.3 763.5,1518.5 765,1517.2 766,1516.1 768,1514.8 769.5,1513.5 771,1512.7 772.5,1511.6 774,1510.2 775.5,1508.7 777,1507.1 778.5,1505.5 780,1504.2 781.5,1503.8 782,1503.8 783,1504.2 784.5,1504.4 786,1504.6 787.5,1504.7 789,1505.3 790,1505.6 792,1506.1 793.5,1506.6 795,1507.7 796.5,1508.1 798,1509 799.5,1510 801,1510.8 802.5,1511.4 804,1512.5 805.5,1512.8 807,1513.1 808.5,1513.7 810,1514.4 810,1528.4 808.5,1527.7 807,1527.4 805.5,1527 804,1526 802.5,1525.1 801,1524.3 799.5,1523.6 798,1522.4 796.5,1521.9 795,1521.3 793.5,1521 792,1520 790,1519.9 789,1519.3 787.5,1518.9 786,1518.6 784.5,1518.6 783,1518.5 782,1518.8 781.5,1518.7 780,1518.9 778.5,1519.7 777,1521.2 775.5,1522.5 774,1523.9 772.5,1525.4 771,1526.6 769.5,1527.6 768,1528.8 766,1530.3 765,1530.8 763.5,1532.6 762,1534.2 760,1535 759,1534.6 757.5,1531.8 756,1528.3 754,1525.7 753,1526.3 751.5,1527.4 750,1528.8 748,1530.7 747,1531.4 745.5,1532.3 744,1533.5 742,1534 741,1532.5 739.4,1529.5 738,1527.9 736.4,1527.7 734.9,1528.5 733.4,1529.2 732,1529.8 730.4,1531.3 728.9,1534.3 727.4,1536.7 726,1538.5 724.4,1539.5 722.9,1540.2 721.4,1540.4 719.9,1540.7 718,1540.7 716.9,1541 715.4,1541.4 713.9,1541.5 712,1541.7 710.9,1541.3 709.4,1538.8 707.9,1536.3 706,1534.4 704.9,1534.8 703.4,1535.9 701.9,1537.3 700.4,1539.3 698.9,1540.9 698,1541.5 697.4,1541.9 695.9,1543.2 694.4,1543.5 692.9,1544.5 691.4,1545.3 690,1545.6 688.4,1545.7 686.9,1546.4 685.4,1546.7 683.9,1546.8 682.4,1547.5Z" fill="#f9c9c4" fill-opacity="0.8" stroke="#f2958c" stroke-width="1.6"/>
<path d="M682.4,1524.9 683.9,1523.8 685.4,1522.1 686.9,1520.7 688.4,1519 690,1517.7 691.4,1516.7 692.9,1516.5 694.4,1516 695.9,1515.3 697.4,1514.2 698,1513.5 698.9,1512.5 700.4,1510.1 702,1507.7 703.4,1505.9 704.9,1503.7 706.4,1502.1 707,1502 707.9,1502.4 709.4,1504.4 710.9,1507.2 712,1507.9 713.9,1507.5 715.4,1506.6 716.9,1506.1 718.4,1505.2 719,1504.8 719.9,1506.2 721.4,1513.3 722,1515.8 722.9,1520.3 724.4,1528.9 726,1536.1 727.4,1540.8 729,1543.3 730.4,1542.3 731.9,1540.6 733.4,1538.4 734,1537.8 734.9,1536.8 736.4,1535.5 737.9,1533.5 739.4,1531.4 740,1530.4 741,1528.8 742.5,1525.6 744,1522 745.5,1519 746,1518.4 747,1516.1 748.5,1513.1 750,1510.3 751.5,1506.9 752,1506.2 753,1505.2 754.5,1503.7 756,1502 757.5,1501 759,1499.3 760,1497.9 762,1495 763.5,1492.5 765,1490.1 766.5,1487.9 768,1486 769.5,1483.9 771,1482.6 772.5,1481 774,1479.2 775.5,1477.6 776,1477.1 777,1475.1 778.5,1472.1 780,1469.8 781.5,1467.8 782,1467.3 783,1467.5 784.5,1468.4 786,1469.5 787.5,1470.3 788,1470.6 789,1470.7 790.5,1467.8 792,1463.7 793.5,1460.5 794,1459.7 795,1457.9 796.5,1456.8 798,1456 799.5,1454.9 800,1454.3 801,1453.6 802.5,1451.9 804,1449.8 806,1446.6 807,1445.2 808.5,1442 810,1438.7 810,1451.3 808.5,1455 807,1458.2 806,1459.7 804,1462.9 802.5,1465 801,1466.6 800,1467.9 799.5,1468.5 798,1470.2 796.5,1471.3 795,1472.6 794,1473.9 793.5,1474.7 792,1478 790.5,1481.6 789,1484.1 788,1484.6 787.5,1484.8 786,1483.9 784.5,1482.9 783,1482.3 782,1482.2 781.5,1482.5 780,1483.7 778.5,1486.3 777,1488.8 776,1489.9 775.5,1490.7 774,1492.7 772.5,1494.6 771,1496.4 769.5,1498.3 768,1500.1 766.5,1502.4 765,1504.8 763.5,1507.1 762,1509.6 760,1512.4 759,1513.5 757.5,1514.8 756,1516.4 754.5,1517.4 753,1518.7 752,1520 751.5,1520.9 750,1523.8 748.5,1527.1 747,1530.4 746,1531.9 745.5,1532.6 744,1535.4 742.5,1538.5 741,1541.3 740,1543.2 739.4,1544.5 737.9,1546.9 736.4,1548.9 734.9,1550.7 734,1551.9 733.4,1552.7 731.9,1555 730.4,1557.5 729,1558.6 727.4,1556 726,1550.8 724.4,1543.9 722.9,1535.2 722,1530.4 721.4,1527.5 719.9,1520.2 719,1518 718.4,1517.9 716.9,1519 715.4,1519.9 713.9,1521 712,1522.1 710.9,1521.5 709.4,1518.9 707.9,1517 707,1516.8 706.4,1516.8 704.9,1518.2 703.4,1520.3 702,1522.2 700.4,1524.1 698.9,1526.2 698,1527.3 697.4,1527.8 695.9,1529 694.4,1529.9 692.9,1530.7 691.4,1531.1 690,1531.6 688.4,1532.3 686.9,1533.7 685.4,1535.3 683.9,1537 682.4,1538.7Z" fill="#c9c9f7" fill-opacity="0.8" stroke="#9393ee" stroke-width="1.6"/>
<line x1="700.00" y1="1426.60" x2="700.00" y2="1624.40" stroke="#000" stroke-width="2.0" />
<line x1="730.80" y1="1426.60" x2="730.80" y2="1624.40" stroke="#000" stroke-width="2.0" />
<line x1="808.20" y1="1426.60" x2="808.20" y2="1633.00" stroke="#000" stroke-width="2.0" />
<path d="M682.4,1540.5 683.9,1540.5 685.4,1540.1 686.9,1539.9 688.4,1539.8 690,1539.5 691.4,1538.7 692.9,1538 694.4,1537.3 695.9,1536.5 697.4,1535.2 698,1535 698.9,1534.2 700.4,1532.4 701.9,1530.3 703.4,1528.8 704.9,1527.8 706,1527.6 707.9,1529.5 709.4,1532.5 710.9,1534.9 712,1535.5 713.9,1535 715.4,1534.3 716.9,1533.3 718,1532.9 719.9,1532.3 721.4,1532.1 722.9,1531.8 724.4,1531.5 726,1530.9 727.4,1529.4 728.9,1527.1 730.4,1524.5 732,1522.9 733.4,1522 734.9,1521.5 736.4,1520.8 738,1520.9 739.4,1522.9 741,1526.1 742,1526.9 744,1526.2 745.5,1524.8 747,1523.1 748,1522.4 750,1521 751.5,1519.7 753,1519 754,1518.9 756,1521.2 757.5,1524.9 759,1528.2 760,1528.7 762,1527.6 763.5,1525.8 765,1523.8 766,1522.7 768,1521.3 769.5,1520.2 771,1519.3 772.5,1518.3 774,1517.3 775.5,1515.8 777,1514.5 778.5,1513.1 780,1512 781.5,1511 782,1511.3 783,1511.1 784.5,1511.1 786,1511.6 787.5,1512.1 789,1512.4 790,1512.8 792,1513.7 793.5,1513.9 795,1514.8 796.5,1515.6 798,1516.2 799.5,1516.7 801,1517.6 802.5,1518.2 804,1519 805.5,1519.5 807,1520.2 808.5,1520.8 810,1521.4" fill="none" stroke="#e3231b" stroke-width="4.6" stroke-linejoin="round" stroke-linecap="round"/>
<path d="M682.4,1531.4 683.9,1530 685.4,1528.5 686.9,1527.2 688.4,1526.2 690,1524.8 691.4,1524.1 692.9,1523.6 694.4,1522.9 695.9,1522 697.4,1521.1 698,1520.7 698.9,1519.7 700.4,1517.3 702,1514.8 703.4,1512.8 704.9,1510.5 706.4,1509.2 707,1509.1 707.9,1509.6 709.4,1511.8 710.9,1514.1 712,1514.6 713.9,1514.3 715.4,1513.2 716.9,1512.4 718.4,1511.8 719,1512.1 719.9,1513.7 721.4,1520.5 722,1523 722.9,1527.7 724.4,1536 726,1543.1 727.4,1548.1 729,1551 730.4,1550 731.9,1547.7 733.4,1545.5 734,1545.1 734.9,1544 736.4,1542.4 737.9,1540.6 739.4,1538.3 740,1537.3 741,1535.6 742.5,1532.4 744,1529.3 745.5,1526 746,1524.9 747,1522.9 748.5,1519.8 750,1516.5 751.5,1513.8 752,1512.7 753,1511.6 754.5,1509.9 756,1508.7 757.5,1507.3 759,1506.2 760,1505 762,1502.5 763.5,1500.3 765,1498.1 766.5,1495.6 768,1493.3 769.5,1491.3 771,1489.3 772.5,1487.6 774,1485.7 775.5,1483.8 776,1482.8 777,1481.2 778.5,1478.5 780,1476.3 781.5,1474.9 782,1474.9 783,1475.2 784.5,1476 786,1477 787.5,1478 788,1478 789,1477.5 790.5,1474.9 792,1471.4 793.5,1468 794,1467.2 795,1465.8 796.5,1464.1 798,1462.8 799.5,1461.5 800,1461.1 801,1460.2 802.5,1458.4 804,1456.2 806,1452.8 807,1450.9 808.5,1447.6 810,1444.5" fill="none" stroke="#2319e0" stroke-width="4.6" stroke-linejoin="round" stroke-linecap="round"/>
<line x1="682.40" y1="1426.60" x2="682.40" y2="1624.40" stroke="#000" stroke-width="2.0" />
<line x1="673.80" y1="1624.40" x2="809.20" y2="1624.40" stroke="#000" stroke-width="2.0" />
<line x1="673.80" y1="1440.00" x2="682.40" y2="1440.00" stroke="#000" stroke-width="2.0" />
<line x1="736.00" y1="1624.40" x2="736.00" y2="1633.00" stroke="#000" stroke-width="2.0" />
<text x="670.10" y="1452.00" font-size="27.5" text-anchor="end" font-weight="normal" fill="#000" >9</text>
<text x="670.10" y="1636.40" font-size="27.5" text-anchor="end" font-weight="normal" fill="#000" >0</text>
<text x="736.40" y="1665.10" font-size="27.5" text-anchor="middle" font-weight="normal" fill="#000" >-2</text>
<text x="808.70" y="1665.10" font-size="27.5" text-anchor="middle" font-weight="normal" fill="#000" >0</text>
<path d="M718.00,1416.80 C718.56,1416.80 719.04,1383.00 719.60,1383.00 C720.20,1383.00 720.70,1416.80 721.30,1416.80 C721.93,1416.80 722.47,1383.00 723.10,1383.00 C723.73,1383.00 724.27,1416.80 724.90,1416.80 C725.53,1416.80 726.07,1383.00 726.70,1383.00 C727.33,1383.00 727.87,1416.80 728.50,1416.80 C729.27,1416.80 729.93,1383.00 730.70,1383.00 C731.40,1383.00 732.00,1416.80 732.70,1416.80" fill="none" stroke="#2424d6" stroke-width="1.7" stroke-linejoin="round" stroke-linecap="round"/>
<rect x="903.00" y="1426.60" width="11.8" height="197.80" fill="#95d4f4"/>
<path d="M867.4,1537.2 868.9,1537.2 870.4,1537.3 871.9,1537.7 873.4,1538 874.9,1538.7 876,1539.3 877.9,1541.1 879.4,1542.5 880.9,1543.7 882.4,1545 884,1545.4 885.4,1544.3 886.9,1542.4 888.4,1541 890,1538.9 891.4,1538.2 892.9,1537.6 894.4,1536.6 896,1535.1 897.4,1534.4 898.9,1533.8 900.4,1532.7 902,1532.2 903.4,1531.9 904.9,1530.4 906.4,1529 908,1528.5 909.4,1528.5 910.9,1528.8 912.4,1529.7 914,1530.5 915.4,1531.2 916.9,1532.3 918.4,1533.2 920,1533.3 921.4,1532.9 922.9,1532.2 924.4,1531 926,1530.8 927.5,1531.4 929,1532.7 930,1532.8 932,1532.1 933.5,1530.9 935,1530 936,1529.3 938,1527.7 939.5,1526.1 940,1525.3 941,1524.3 942.5,1523.4 944,1522.7 945.5,1522.9 946,1523.2 947,1523.9 948.5,1524.9 950,1525.7 951.5,1526.4 952,1527.1 953,1527.9 954.5,1530.2 956,1533 957.5,1535.1 958,1534.9 959,1535.1 960.5,1535.1 962,1535.3 963.5,1536 964,1536.6 965,1537 966.5,1537.9 968,1538 969.5,1538.4 970,1537.8 971,1537.6 972.5,1537.4 974,1537.2 975.5,1536.7 977,1537 978,1537.5 980,1538.1 981.5,1539.5 983,1540.7 984,1541.9 986,1543.8 987.5,1545.9 989,1547.8 990,1548.6 992,1549.7 993.5,1550.8 995,1551.4 995,1568.7 993.5,1567.2 992,1566.2 990,1564.3 989,1563.7 987.5,1561.2 986,1559.3 984,1557.3 983,1556.9 981.5,1555.4 980,1554 978,1553.1 977,1553.2 975.5,1553.4 974,1553.4 972.5,1553.9 971,1554.6 970,1554.4 969.5,1553.8 968,1553.7 966.5,1553.2 965,1552.5 964,1551.9 963.5,1551.8 962,1551.4 960.5,1551.2 959,1551.2 958,1551.2 957.5,1551.2 956,1549.7 954.5,1547.2 953,1544.6 952,1543.4 951.5,1543.3 950,1542.2 948.5,1541 947,1540.2 946,1540 945.5,1539.9 944,1539.6 942.5,1540.4 941,1540.6 940,1540.9 939.5,1541.1 938,1542.9 936,1544.6 935,1546.2 933.5,1547.4 932,1548.5 930,1548.8 929,1549.1 927.5,1547.7 926,1547.4 924.4,1547.8 922.9,1548.6 921.4,1549.2 920,1549.4 918.4,1549 916.9,1548.1 915.4,1547.5 914,1547.1 912.4,1546.2 910.9,1545.3 909.4,1544.9 908,1544.3 906.4,1544.2 904.9,1545.6 903.4,1547 902,1548.1 900.4,1549.4 898.9,1550.3 897.4,1550.9 896,1551.6 894.4,1552.1 892.9,1552.7 891.4,1554 890,1555.4 888.4,1556.8 886.9,1559.4 885.4,1560.9 884,1561.1 882.4,1560.6 880.9,1559.4 879.4,1557.7 877.9,1556.5 876,1555.3 874.9,1554.8 873.4,1555 871.9,1554.7 870.4,1554.4 868.9,1554.6 867.4,1554.3Z" fill="#f9c9c4" fill-opacity="0.8" stroke="#f2958c" stroke-width="1.6"/>
<path d="M867.4,1545.2 868.9,1546.1 870.4,1547 871.9,1547.8 873.4,1548.9 874.9,1549.8 876,1550.4 877.9,1550.6 879.4,1550.7 880.9,1550.7 882.4,1550.5 884,1550.5 885.4,1549.7 886.9,1548.7 888.4,1547.3 890,1545.7 891.4,1543.9 892.9,1542.3 894.4,1540.7 896,1539.7 897.4,1540.4 898.9,1542.2 900.4,1543.2 901,1543.4 901.9,1543.8 903.4,1543.9 904,1543.5 904.9,1540.1 906.4,1523.1 908,1501.3 909.4,1478.2 911,1457.8 912.4,1450.7 914,1447.7 915.4,1452.9 916.4,1455.8 916.9,1453.5 918.4,1439.6 919,1437.7 919.9,1439.4 921.4,1445.5 922,1448.1 922.9,1453.6 924.4,1463.5 926,1474.4 927.5,1483.3 929,1492 930,1497.9 932,1510.3 933.5,1518.2 934,1519.7 935,1523.4 936.5,1527.6 938,1529.9 939.5,1530.9 941,1532.1 942.5,1532.9 944,1533.9 945.5,1535.6 947,1537.4 948.5,1539.2 950,1540.3 951.5,1541.3 953,1542.1 954.5,1543.5 956,1544.6 957.5,1545.4 958,1546 959,1546.5 960.5,1547.3 962,1547.7 963.5,1548.2 965,1548.4 966,1548.8 968,1547.7 969.5,1546.2 971,1545.4 972,1544.6 974,1543.6 975.5,1543.3 977,1542.7 978.5,1542.1 980,1541.8 981.5,1542.9 983,1544.2 984.5,1545.9 986,1547.8 987.5,1549.2 989,1550.2 990.5,1551 992,1552.2 993.5,1553 995,1554.1 995,1568.7 993.5,1567.7 992,1566.4 990.5,1565.1 989,1564.3 987.5,1562.9 986,1561.9 984.5,1560.5 983,1558.6 981.5,1557.6 980,1557.5 978.5,1556.9 977,1557 975.5,1557.7 974,1557.3 972,1557.5 971,1558 969.5,1559.5 968,1560.8 966,1561.9 965,1562 963.5,1562 962,1561.6 960.5,1561 959,1560.8 958,1560.1 957.5,1560.2 956,1559.5 954.5,1558.1 953,1557 951.5,1555.4 950,1553.8 948.5,1552 947,1550.6 945.5,1548.8 944,1548 942.5,1547.4 941,1546.9 939.5,1545.9 938,1544.8 936.5,1541.6 935,1537.4 934,1534.1 933.5,1532 932,1523.7 930,1511.8 929,1505.5 927.5,1496.7 926,1488.1 924.4,1477.2 922.9,1467.2 922,1461.9 921.4,1459 919.9,1452.5 919,1451.7 918.4,1453.9 916.9,1467.8 916.4,1470.3 915.4,1467.7 914,1462.4 912.4,1465.5 911,1472.4 909.4,1492.6 908,1515.6 906.4,1537 904.9,1554.3 904,1558.3 903.4,1558.7 901.9,1558.6 901,1558.2 900.4,1557.6 898.9,1556.5 897.4,1555.1 896,1555 894.4,1555.6 892.9,1557.2 891.4,1558.7 890,1559.7 888.4,1561.1 886.9,1563 885.4,1564 884,1564.8 882.4,1564.6 880.9,1564.3 879.4,1564.1 877.9,1563.7 876,1562.8 874.9,1562.5 873.4,1561.9 871.9,1561.1 870.4,1560.5 868.9,1559.9 867.4,1559.6Z" fill="#c9c9f7" fill-opacity="0.8" stroke="#9393ee" stroke-width="1.6"/>
<line x1="885.00" y1="1426.60" x2="885.00" y2="1624.40" stroke="#000" stroke-width="2.0" />
<line x1="915.80" y1="1426.60" x2="915.80" y2="1624.40" stroke="#000" stroke-width="2.0" />
<line x1="993.20" y1="1426.60" x2="993.20" y2="1633.00" stroke="#000" stroke-width="2.0" />
<path d="M867.4,1545.3 868.9,1545.5 870.4,1545.6 871.9,1545.7 873.4,1545.9 874.9,1546.3 876,1546.8 877.9,1548.2 879.4,1549.7 880.9,1551.5 882.4,1552.8 884,1553.3 885.4,1552.7 886.9,1551.2 888.4,1549.2 890,1547.5 891.4,1546.2 892.9,1544.9 894.4,1543.6 896,1542.6 897.4,1542 898.9,1541.8 900.4,1541.7 902,1541.3 903.4,1540.3 904.9,1539 906.4,1537.6 908,1536.9 909.4,1537.2 910.9,1537.8 912.4,1538.4 914,1539.1 915.4,1539.6 916.9,1540.1 918.4,1540.8 920,1540.9 921.4,1540.6 922.9,1539.8 924.4,1539.2 926,1538.7 927.5,1539.5 929,1540.8 930,1541.2 932,1540.6 933.5,1539.6 935,1538 936,1536.9 938,1534.7 939.5,1533.2 940,1533.1 941,1532.8 942.5,1532.5 944,1532.3 945.5,1532 946,1531.8 947,1531.8 948.5,1532.5 950,1533.5 951.5,1534.6 952,1534.8 953,1536.2 954.5,1538.3 956,1540.7 957.5,1542.5 958,1542.8 959,1543.2 960.5,1544.1 962,1544.6 963.5,1545.1 964,1545.2 965,1545.2 966.5,1545.4 968,1545.7 969.5,1545.9 970,1546.1 971,1546.1 972.5,1545.9 974,1545.6 975.5,1545.2 977,1544.8 978,1544.7 980,1545.3 981.5,1546.3 983,1547.7 984,1548.7 986,1551.3 987.5,1553.7 989,1556.2 990,1557.6 992,1559.1 993.5,1560.2 995,1561.3" fill="none" stroke="#e3231b" stroke-width="4.6" stroke-linejoin="round" stroke-linecap="round"/>
<path d="M867.4,1553.6 868.9,1554.1 870.4,1554.6 871.9,1555 873.4,1555.2 874.9,1555.5 876,1555.7 877.9,1556.3 879.4,1556.7 880.9,1557.3 882.4,1557.8 884,1557.9 885.4,1557.4 886.9,1556.1 888.4,1554.5 890,1552.7 891.4,1551.6 892.9,1549.9 894.4,1548.5 896,1547.8 897.4,1548.4 898.9,1549.7 900.4,1550.7 901,1551 901.9,1551.2 903.4,1551.2 904,1551 904.9,1547.3 906.4,1530.4 908,1508.7 909.4,1485.5 911,1464.8 912.4,1458.1 914,1455.2 915.4,1460.5 916.4,1463.2 916.9,1461.1 918.4,1446.9 919,1444.6 919.9,1445.9 921.4,1451.8 922,1454.7 922.9,1459.9 924.4,1470.3 926,1481.2 927.5,1490.2 929,1499.2 930,1505.2 932,1517 933.5,1524.8 934,1527 935,1530.1 936.5,1534.3 938,1537.2 939.5,1538.7 941,1539.5 942.5,1540.1 944,1541.1 945.5,1542.1 947,1543.4 948.5,1545 950,1546.3 951.5,1547.7 953,1549.3 954.5,1550.6 956,1552 957.5,1553 958,1553 959,1553.3 960.5,1553.9 962,1554.1 963.5,1554.4 965,1554.7 966,1554.7 968,1553.8 969.5,1552.6 971,1551.7 972,1551.4 974,1551 975.5,1550.9 977,1550.8 978.5,1550.6 980,1550.4 981.5,1550.7 983,1551.7 984.5,1553.2 986,1554.5 987.5,1555.6 989,1557 990.5,1558.2 992,1559.6 993.5,1560.8 995,1562.3" fill="none" stroke="#2319e0" stroke-width="4.6" stroke-linejoin="round" stroke-linecap="round"/>
<line x1="867.40" y1="1426.60" x2="867.40" y2="1624.40" stroke="#000" stroke-width="2.0" />
<line x1="858.80" y1="1624.40" x2="994.20" y2="1624.40" stroke="#000" stroke-width="2.0" />
<line x1="858.80" y1="1432.60" x2="867.40" y2="1432.60" stroke="#000" stroke-width="2.0" />
<line x1="921.00" y1="1624.40" x2="921.00" y2="1633.00" stroke="#000" stroke-width="2.0" />
<text x="855.10" y="1444.60" font-size="27.5" text-anchor="end" font-weight="normal" fill="#000" >9</text>
<text x="855.10" y="1636.40" font-size="27.5" text-anchor="end" font-weight="normal" fill="#000" >0</text>
<text x="921.40" y="1665.10" font-size="27.5" text-anchor="middle" font-weight="normal" fill="#000" >-2</text>
<text x="993.70" y="1665.10" font-size="27.5" text-anchor="middle" font-weight="normal" fill="#000" >0</text>
<path d="M903.00,1416.80 C903.56,1416.80 904.04,1383.00 904.60,1383.00 C905.20,1383.00 905.70,1416.80 906.30,1416.80 C906.93,1416.80 907.47,1383.00 908.10,1383.00 C908.73,1383.00 909.27,1416.80 909.90,1416.80 C910.53,1416.80 911.07,1383.00 911.70,1383.00 C912.33,1383.00 912.87,1416.80 913.50,1416.80 C914.27,1416.80 914.93,1383.00 915.70,1383.00 C916.40,1383.00 917.00,1416.80 917.70,1416.80" fill="none" stroke="#2424d6" stroke-width="1.7" stroke-linejoin="round" stroke-linecap="round"/>
<rect x="1088.60" y="1426.60" width="11.8" height="197.80" fill="#95d4f4"/>
<path d="M1053,1520.9 1054.5,1519.8 1056,1519.4 1057.5,1518.7 1059,1517.8 1060,1516.8 1060.5,1516.6 1062,1514.3 1063.5,1511.6 1065,1508.3 1066,1507.2 1066.5,1506.3 1068.1,1504 1069.6,1502.6 1071.1,1501.4 1072,1500.4 1072.6,1499.8 1074.1,1499.3 1075.6,1498.2 1077.1,1497.5 1078.6,1497.1 1080,1497.2 1081.6,1497.4 1083.1,1498.8 1084.6,1500.1 1086,1500.8 1087.6,1501.6 1089.1,1502.3 1090.7,1502.3 1092,1502.2 1093.7,1501.6 1095.2,1498.9 1096.7,1496.7 1098,1495.2 1099.7,1493.8 1101.2,1492.3 1102.7,1491.1 1104,1489.4 1105.7,1487.1 1107.2,1485.5 1108,1484.7 1108.7,1484.9 1110.2,1485.4 1112,1486.8 1113.2,1487.9 1114.7,1491.5 1116.2,1494.7 1118,1497.2 1119.3,1497.5 1120.8,1498.4 1122.3,1498.8 1124,1499.4 1125.3,1499.1 1126.8,1498.3 1128.3,1496.8 1130,1495.2 1131.3,1493.4 1132.8,1490.9 1134.3,1488.2 1136,1485.9 1137.3,1484.3 1138.8,1483 1140.3,1481.4 1142,1479.7 1143.3,1478.3 1144.9,1476.1 1146.4,1473.9 1148,1473.4 1149.4,1474.4 1150.9,1476.6 1152,1478.4 1153.9,1483.3 1155.4,1486.9 1156,1488.2 1156.9,1491.4 1158.4,1496.5 1160,1498.9 1161.4,1500 1162.9,1500.8 1164.4,1500.8 1166,1501 1167.5,1501.7 1169,1502.3 1170.5,1503.1 1172,1504.2 1173.5,1505.2 1175,1506 1176,1506.5 1178,1507.5 1179.5,1507.7 1181,1508 1181,1525.6 1179.5,1525.3 1178,1524.5 1176,1523.1 1175,1522 1173.5,1521.6 1172,1520.8 1170.5,1519.9 1169,1518.8 1167.5,1518 1166,1517.1 1164.4,1516.6 1162.9,1516.2 1161.4,1516.3 1160,1515.5 1158.4,1512.4 1156.9,1507.3 1156,1504.7 1155.4,1502.9 1153.9,1499.2 1152,1495.1 1150.9,1493.4 1149.4,1490.4 1148,1489.2 1146.4,1490.1 1144.9,1491.5 1143.3,1493.6 1142,1495.4 1140.3,1497.1 1138.8,1498.5 1137.3,1500 1136,1501.3 1134.3,1503.7 1132.8,1506.2 1131.3,1508.4 1130,1510 1128.3,1511.7 1126.8,1513.4 1125.3,1515 1124,1515.4 1122.3,1515.8 1120.8,1515.1 1119.3,1514.1 1118,1513.3 1116.2,1511.1 1114.7,1507.4 1113.2,1504.9 1112,1503.5 1110.2,1502 1108.7,1501.2 1108,1501.6 1107.2,1501.8 1105.7,1503.3 1104,1505.5 1102.7,1506.7 1101.2,1507.8 1099.7,1509.2 1098,1510.8 1096.7,1512.8 1095.2,1515.9 1093.7,1518.1 1092,1519 1090.7,1518.8 1089.1,1518.4 1087.6,1517.9 1086,1517.1 1084.6,1516 1083.1,1514.6 1081.6,1513.4 1080,1512.8 1078.6,1513.3 1077.1,1513.8 1075.6,1515 1074.1,1515.8 1072.6,1516.6 1072,1516.5 1071.1,1517.7 1069.6,1519 1068.1,1520.6 1066.5,1522.6 1066,1523.6 1065,1524.8 1063.5,1527.1 1062,1529.9 1060.5,1531.6 1060,1532.2 1059,1533.3 1057.5,1534.9 1056,1535.8 1054.5,1537 1053,1538Z" fill="#f9c9c4" fill-opacity="0.8" stroke="#f2958c" stroke-width="1.6"/>
<path d="M1053,1535.5 1054.5,1534.9 1056,1534.5 1057.5,1534.2 1059,1534.1 1060.5,1533.9 1062,1534.2 1063.5,1534.2 1065,1533.7 1066.5,1533 1068.1,1533.1 1070,1532.8 1071.1,1532.7 1072.6,1532.4 1074.1,1532 1076,1531 1077.1,1529.6 1078.6,1527.8 1080.1,1526.6 1081,1526.3 1081.6,1526.5 1083.1,1528 1084.6,1529.6 1086,1530.7 1087.6,1532 1089,1532.1 1090.7,1529.2 1092,1526 1093.7,1523.1 1095.2,1519.9 1096,1518.1 1096.7,1516.2 1098.2,1511.8 1100,1505.8 1101.2,1501.4 1102.7,1495.2 1104,1490.2 1105.7,1483.7 1107.2,1477.9 1108,1474.7 1108.7,1471.2 1110.2,1462.1 1112,1452.4 1113.2,1445.7 1115,1440.1 1116.2,1442.3 1118,1448.9 1119.3,1454.1 1120.8,1461.6 1122,1466.6 1123.8,1471.9 1125.3,1475.9 1126,1477.5 1126.8,1479.3 1128.3,1483.3 1130,1487.4 1131.3,1489.7 1132.8,1492.4 1134.3,1494.5 1136,1496.2 1137.3,1496.8 1138.8,1497.3 1140.3,1497.3 1142,1497.7 1143.3,1498.3 1144.9,1499 1146.4,1499.9 1148,1501.5 1149.4,1503.4 1150.9,1505.7 1152.4,1508 1154,1509.9 1155.4,1511.1 1156.9,1512.3 1158.4,1513.1 1160,1513.8 1161.4,1513.7 1162.9,1513.9 1164.4,1513.8 1166,1514.2 1167.5,1513 1169,1511.4 1170.5,1508.5 1172,1506.3 1173.5,1503.2 1175,1500.8 1176,1499.8 1178,1501.5 1179.5,1503.8 1181,1506.2 1181,1520.8 1179.5,1518.2 1178,1516 1176,1514.1 1175,1514.6 1173.5,1517.4 1172,1520.3 1170.5,1522.6 1169,1525.3 1167.5,1527.5 1166,1527.7 1164.4,1527.7 1162.9,1527.7 1161.4,1528.1 1160,1528 1158.4,1527.5 1156.9,1526.3 1155.4,1525.2 1154,1523.9 1152.4,1522.2 1150.9,1520 1149.4,1518.1 1148,1516.6 1146.4,1515 1144.9,1514.1 1143.3,1513.5 1142,1512.5 1140.3,1511.9 1138.8,1511.7 1137.3,1511 1136,1510.5 1134.3,1509.2 1132.8,1507.1 1131.3,1504.4 1130,1502.4 1128.3,1498.2 1126.8,1493.9 1126,1491.5 1125.3,1489.8 1123.8,1485.2 1122,1479.4 1120.8,1474.1 1119.3,1467.2 1118,1461.6 1116.2,1456.1 1115,1454.4 1113.2,1459.9 1112,1465.7 1110.2,1475.5 1108.7,1484 1108,1487.8 1107.2,1491.2 1105.7,1497.7 1104,1504.5 1102.7,1509.7 1101.2,1515.6 1100,1520.4 1098.2,1526.1 1096.7,1530.2 1096,1531.8 1095.2,1533.8 1093.7,1536.7 1092,1539.9 1090.7,1543.3 1089,1546.3 1087.6,1545.8 1086,1544.6 1084.6,1543.6 1083.1,1541.7 1081.6,1540.6 1081,1540.3 1080.1,1540.4 1078.6,1541.2 1077.1,1543.4 1076,1544.4 1074.1,1545.6 1072.6,1546.4 1071.1,1547.6 1070,1547.6 1068.1,1547.6 1066.5,1547.5 1065,1547.5 1063.5,1547.4 1062,1547.4 1060.5,1547.6 1059,1548.6 1057.5,1549.1 1056,1549.4 1054.5,1550.1 1053,1550.9Z" fill="#c9c9f7" fill-opacity="0.8" stroke="#9393ee" stroke-width="1.6"/>
<line x1="1070.60" y1="1426.60" x2="1070.60" y2="1624.40" stroke="#000" stroke-width="2.0" />
<line x1="1101.40" y1="1426.60" x2="1101.40" y2="1624.40" stroke="#000" stroke-width="2.0" />
<line x1="1178.80" y1="1426.60" x2="1178.80" y2="1633.00" stroke="#000" stroke-width="2.0" />
<path d="M1053,1528.6 1054.5,1528.1 1056,1527.3 1057.5,1526.4 1059,1525.6 1060,1524.8 1060.5,1524.3 1062,1522.1 1063.5,1519.4 1065,1516.7 1066,1515.4 1066.5,1514.7 1068.1,1513.1 1069.6,1511.4 1071.1,1510.1 1072,1509.5 1072.6,1509 1074.1,1507.7 1075.6,1506.7 1077.1,1505.5 1078.6,1504.8 1080,1504.7 1081.6,1505.3 1083.1,1506.6 1084.6,1508.2 1086,1509.2 1087.6,1509.7 1089.1,1510.4 1090.7,1510.9 1092,1510.8 1093.7,1509.5 1095.2,1507.5 1096.7,1504.9 1098,1502.9 1099.7,1501.4 1101.2,1500 1102.7,1498.3 1104,1496.8 1105.7,1494.6 1107.2,1493 1108,1492.7 1108.7,1492.9 1110.2,1493.7 1112,1495 1113.2,1496.5 1114.7,1499.5 1116.2,1502.4 1118,1505 1119.3,1505.5 1120.8,1506.1 1122.3,1506.6 1124,1506.8 1125.3,1506.5 1126.8,1505.9 1128.3,1504.7 1130,1503.4 1131.3,1501.8 1132.8,1499 1134.3,1496.1 1136,1493.4 1137.3,1491.9 1138.8,1490.6 1140.3,1489 1142,1487.3 1143.3,1485.5 1144.9,1483.5 1146.4,1481.7 1148,1481 1149.4,1482 1150.9,1484.7 1152,1487 1153.9,1491.2 1155.4,1495.4 1156,1497 1156.9,1499.5 1158.4,1503.8 1160,1507 1161.4,1507.5 1162.9,1507.9 1164.4,1508.4 1166,1508.9 1167.5,1509.5 1169,1510.7 1170.5,1512.1 1172,1512.9 1173.5,1513.6 1175,1514.5 1176,1515 1178,1515.5 1179.5,1516.3 1181,1517.1" fill="none" stroke="#e3231b" stroke-width="4.6" stroke-linejoin="round" stroke-linecap="round"/>
<path d="M1053,1543.6 1054.5,1542.9 1056,1542.4 1057.5,1542 1059,1541.7 1060.5,1541.3 1062,1541.3 1063.5,1541 1065,1540.9 1066.5,1540.7 1068.1,1540.4 1070,1540.1 1071.1,1539.8 1072.6,1539 1074.1,1537.9 1076,1536.6 1077.1,1535.6 1078.6,1534 1080.1,1532.6 1081,1532.6 1081.6,1532.8 1083.1,1533.9 1084.6,1535.6 1086,1536.9 1087.6,1538.1 1089,1538.7 1090.7,1536 1092,1532.6 1093.7,1529.5 1095.2,1526.5 1096,1524.6 1096.7,1522.8 1098.2,1518.5 1100,1512.8 1101.2,1508.4 1102.7,1502.4 1104,1497.1 1105.7,1490.6 1107.2,1484.8 1108,1481.3 1108.7,1477.5 1110.2,1468.6 1112,1458.9 1113.2,1452.3 1115,1446.7 1116.2,1449 1118,1455 1119.3,1459.9 1120.8,1467.3 1122,1472.7 1123.8,1478.2 1125.3,1482.5 1126,1484.5 1126.8,1486.7 1128.3,1490.7 1130,1494.5 1131.3,1497.1 1132.8,1499.7 1134.3,1501.6 1136,1502.9 1137.3,1503.7 1138.8,1504.2 1140.3,1504.5 1142,1505.4 1143.3,1506 1144.9,1506.8 1146.4,1507.5 1148,1508.8 1149.4,1510.1 1150.9,1512.3 1152.4,1514.6 1154,1516.8 1155.4,1518.4 1156.9,1519.7 1158.4,1520.8 1160,1521.2 1161.4,1520.9 1162.9,1520.8 1164.4,1521.1 1166,1521 1167.5,1520.1 1169,1518.3 1170.5,1515.6 1172,1512.9 1173.5,1510.3 1175,1507.7 1176,1507.1 1178,1508.7 1179.5,1511 1181,1513.3" fill="none" stroke="#2319e0" stroke-width="4.6" stroke-linejoin="round" stroke-linecap="round"/>
<line x1="1053.00" y1="1426.60" x2="1053.00" y2="1624.40" stroke="#000" stroke-width="2.0" />
<line x1="1044.40" y1="1624.40" x2="1179.80" y2="1624.40" stroke="#000" stroke-width="2.0" />
<line x1="1044.40" y1="1444.00" x2="1053.00" y2="1444.00" stroke="#000" stroke-width="2.0" />
<line x1="1106.60" y1="1624.40" x2="1106.60" y2="1633.00" stroke="#000" stroke-width="2.0" />
<text x="1040.70" y="1456.00" font-size="27.5" text-anchor="end" font-weight="normal" fill="#000" >8</text>
<text x="1040.70" y="1636.40" font-size="27.5" text-anchor="end" font-weight="normal" fill="#000" >0</text>
<text x="1107.00" y="1665.10" font-size="27.5" text-anchor="middle" font-weight="normal" fill="#000" >-2</text>
<text x="1179.30" y="1665.10" font-size="27.5" text-anchor="middle" font-weight="normal" fill="#000" >0</text>
<path d="M1088.60,1416.80 C1089.16,1416.80 1089.64,1383.00 1090.20,1383.00 C1090.80,1383.00 1091.31,1416.80 1091.90,1416.80 C1092.53,1416.80 1093.07,1383.00 1093.70,1383.00 C1094.33,1383.00 1094.87,1416.80 1095.50,1416.80 C1096.13,1416.80 1096.67,1383.00 1097.30,1383.00 C1097.93,1383.00 1098.47,1416.80 1099.10,1416.80 C1099.87,1416.80 1100.53,1383.00 1101.30,1383.00 C1102.00,1383.00 1102.60,1416.80 1103.30,1416.80" fill="none" stroke="#2424d6" stroke-width="1.7" stroke-linejoin="round" stroke-linecap="round"/>
<rect x="1275.00" y="1426.60" width="11.8" height="197.80" fill="#95d4f4"/>
<path d="M1239.4,1556.8 1240.9,1556 1242.4,1555.3 1243.9,1554.6 1245.5,1553.6 1246,1553.6 1247,1553 1248.5,1552.9 1250,1552.3 1251.5,1551.9 1253,1551.2 1254,1551.2 1254.5,1550.5 1256,1550.4 1257.6,1549.9 1259.1,1549.3 1260.6,1548.9 1262,1548.8 1263.6,1548.2 1265.1,1547.7 1266.6,1547.7 1268.2,1547.2 1270,1547.2 1271.2,1547.3 1272.7,1547.4 1274.2,1547.2 1275.7,1547 1277.2,1546.8 1278,1546.4 1278.7,1546.2 1280.3,1545.9 1281.8,1545.9 1283.3,1546 1284.8,1545.9 1286,1545.8 1287.8,1545.3 1289.3,1544.5 1290.8,1543.3 1292,1542.6 1293.9,1541.2 1295.4,1540.2 1296.9,1538.9 1298.4,1537.9 1300,1536.8 1301.4,1535.8 1303,1534.8 1304.5,1534.1 1306,1532.8 1308,1531 1309,1530.3 1310.5,1529.1 1312,1527.5 1313.5,1525.6 1315.1,1524.4 1316,1523 1316.6,1522.5 1318.1,1520.7 1319.6,1519.4 1321.1,1517.8 1322.6,1516.2 1324,1514.5 1325.7,1512.3 1327.2,1510.3 1328.7,1508.1 1330.2,1505.6 1332,1502.3 1333.2,1500.4 1334.7,1497.4 1336.2,1493.5 1337.8,1490.5 1339.3,1488.2 1340,1487 1340.8,1485.8 1342.3,1485.1 1343.8,1483.9 1345.3,1482.9 1346.8,1482.2 1348,1481.1 1349.9,1478.6 1351.4,1476.6 1352.9,1474.7 1354.4,1472.7 1356,1470.8 1357.4,1469.1 1359,1467.7 1360.5,1465.9 1362,1464.1 1363.5,1462.5 1365,1461.2 1365,1473.1 1363.5,1474.9 1362,1476.4 1360.5,1478.1 1359,1479.6 1357.4,1481.3 1356,1482.8 1354.4,1485.1 1352.9,1487 1351.4,1488.8 1349.9,1490.9 1348,1493.1 1346.8,1494 1345.3,1495.2 1343.8,1496.3 1342.3,1497.5 1340.8,1498.7 1340,1499.7 1339.3,1500.4 1337.8,1503 1336.2,1506 1334.7,1509.2 1333.2,1512.2 1332,1515 1330.2,1518.2 1328.7,1520.8 1327.2,1523 1325.7,1525.5 1324,1527.5 1322.6,1528.7 1321.1,1530.2 1319.6,1531.7 1318.1,1533.1 1316.6,1534.2 1316,1535 1315.1,1536 1313.5,1537.5 1312,1538.9 1310.5,1540.9 1309,1542.2 1308,1543.3 1306,1545.1 1304.5,1545.8 1303,1546.6 1301.4,1547.9 1300,1548.9 1298.4,1549.9 1296.9,1551.4 1295.4,1552.5 1293.9,1553.6 1292,1555 1290.8,1555.9 1289.3,1556.9 1287.8,1557.8 1286,1558.4 1284.8,1558.6 1283.3,1558.9 1281.8,1558.9 1280.3,1559.1 1278.7,1559.1 1278,1558.7 1277.2,1558.6 1275.7,1558.6 1274.2,1558.7 1272.7,1558.7 1271.2,1559.1 1270,1559.3 1268.2,1559.6 1266.6,1559.8 1265.1,1560.1 1263.6,1560.4 1262,1560.6 1260.6,1560.8 1259.1,1561.3 1257.6,1561.7 1256,1561.7 1254.5,1562.3 1254,1562.7 1253,1562.7 1251.5,1563.5 1250,1564.4 1248.5,1565 1247,1565.3 1246,1565.9 1245.5,1566.1 1243.9,1566.2 1242.4,1566.6 1240.9,1567.3 1239.4,1567.2Z" fill="#f9c9c4" fill-opacity="0.8" stroke="#f2958c" stroke-width="1.6"/>
<path d="M1239.4,1552.4 1240.9,1551.5 1242.4,1550.9 1243.9,1550 1245.5,1549.1 1246,1548.7 1247,1548.3 1248.5,1547.2 1250,1547.1 1251.5,1546.7 1253,1546.3 1254,1546 1254.5,1546.2 1256,1545.1 1257.6,1544.5 1259.1,1543.2 1260.6,1542.4 1262,1541.6 1263.6,1542.2 1265.1,1542.8 1266.6,1544.3 1268,1545.1 1269.7,1545.2 1271.2,1544.8 1272.7,1544.8 1274,1544.2 1275.7,1543.3 1277.2,1542.6 1278,1543 1278.7,1543.3 1280.3,1544.9 1281.8,1547.4 1283.3,1549 1284,1549.1 1284.8,1548.5 1286.3,1545.7 1288,1542.6 1289.3,1541.6 1290.8,1540.6 1292.4,1540 1294,1539.3 1295.4,1538.1 1296.9,1536.1 1298.4,1533.7 1300,1531.2 1301.4,1529.1 1303,1526.8 1304.5,1524.6 1306,1522.9 1307.5,1521 1309,1519.2 1310.5,1517.6 1312,1516.6 1313.5,1514.9 1315.1,1513.6 1316.6,1512.4 1318.1,1511.2 1320,1509.1 1321.1,1508.1 1322.6,1506.6 1324.1,1504.7 1325.7,1502.7 1327.2,1500.2 1328,1499.3 1328.7,1498.2 1330.2,1495.9 1331.7,1492.8 1333.2,1490.5 1334.7,1487.6 1336,1485.6 1337.8,1482.3 1339.3,1479.9 1340.8,1478 1342,1477 1343.8,1476.1 1345.3,1475.8 1346.8,1475.7 1348.3,1475 1350,1474.5 1351.4,1473.2 1352.9,1470.3 1354.4,1466.9 1356,1463.2 1357.4,1459.1 1359,1454.6 1360,1452.3 1362,1448.5 1363.5,1445.8 1365,1443.4 1365,1454.8 1363.5,1457.6 1362,1460.4 1360,1464.2 1359,1466.6 1357.4,1471.1 1356,1475 1354.4,1478.7 1352.9,1482.2 1351.4,1485.6 1350,1487.2 1348.3,1487.5 1346.8,1487.8 1345.3,1488.2 1343.8,1488.2 1342,1488.5 1340.8,1489.6 1339.3,1491.7 1337.8,1494.2 1336,1497.2 1334.7,1499.4 1333.2,1502.2 1331.7,1505.1 1330.2,1507.6 1328.7,1510 1328,1511.3 1327.2,1512.2 1325.7,1514 1324.1,1516.1 1322.6,1517.8 1321.1,1519.4 1320,1520.8 1318.1,1522.8 1316.6,1524.5 1315.1,1526.4 1313.5,1527.9 1312,1529.7 1310.5,1530.9 1309,1532.4 1307.5,1533.7 1306,1534.9 1304.5,1536.5 1303,1538.6 1301.4,1540.3 1300,1542 1298.4,1544.4 1296.9,1546.9 1295.4,1549.2 1294,1550.8 1292.4,1552 1290.8,1553 1289.3,1553.9 1288,1554.6 1286.3,1557.9 1284.8,1560.7 1284,1561 1283.3,1560.4 1281.8,1559.1 1280.3,1556.8 1278.7,1554.9 1278,1554.9 1277.2,1555.2 1275.7,1555.4 1274,1555.9 1272.7,1556.3 1271.2,1556.2 1269.7,1556.6 1268,1557 1266.6,1556.3 1265.1,1555.7 1263.6,1555 1262,1554.3 1260.6,1554.5 1259.1,1555.3 1257.6,1556.1 1256,1557 1254.5,1558.2 1254,1558.1 1253,1558.8 1251.5,1559.2 1250,1559.8 1248.5,1560 1247,1560.5 1246,1560.5 1245.5,1560.6 1243.9,1561.1 1242.4,1562.2 1240.9,1563.3 1239.4,1564.3Z" fill="#c9c9f7" fill-opacity="0.8" stroke="#9393ee" stroke-width="1.6"/>
<line x1="1257.00" y1="1426.60" x2="1257.00" y2="1624.40" stroke="#000" stroke-width="2.0" />
<line x1="1287.80" y1="1426.60" x2="1287.80" y2="1624.40" stroke="#000" stroke-width="2.0" />
<line x1="1365.20" y1="1426.60" x2="1365.20" y2="1633.00" stroke="#000" stroke-width="2.0" />
<path d="M1239.4,1561.6 1240.9,1561.5 1242.4,1561.1 1243.9,1560.4 1245.5,1560.1 1246,1560.2 1247,1559.5 1248.5,1559.1 1250,1558.7 1251.5,1557.9 1253,1557.3 1254,1557.1 1254.5,1556.9 1256,1556.4 1257.6,1556.2 1259.1,1555.8 1260.6,1555.4 1262,1555 1263.6,1554.8 1265.1,1554.8 1266.6,1554.5 1268.2,1554.4 1270,1554.1 1271.2,1553.7 1272.7,1553.2 1274.2,1553 1275.7,1553 1277.2,1553 1278,1553.2 1278.7,1553.1 1280.3,1553 1281.8,1553 1283.3,1552.6 1284.8,1552.1 1286,1552 1287.8,1551.2 1289.3,1550.3 1290.8,1549.3 1292,1548.5 1293.9,1547.2 1295.4,1546.3 1296.9,1545 1298.4,1543.8 1300,1542.8 1301.4,1541.8 1303,1540.6 1304.5,1539.5 1306,1538.6 1308,1537.2 1309,1536.5 1310.5,1535.2 1312,1533.8 1313.5,1531.9 1315.1,1530.4 1316,1529.2 1316.6,1528.4 1318.1,1526.7 1319.6,1525.5 1321.1,1523.7 1322.6,1522.4 1324,1520.9 1325.7,1518.8 1327.2,1516.6 1328.7,1514.6 1330.2,1512 1332,1508.8 1333.2,1506.6 1334.7,1503.3 1336.2,1499.6 1337.8,1496.4 1339.3,1493.8 1340,1492.9 1340.8,1492.2 1342.3,1491.2 1343.8,1490.3 1345.3,1489.6 1346.8,1488.5 1348,1487.6 1349.9,1485.3 1351.4,1483.4 1352.9,1481.1 1354.4,1478.8 1356,1476.8 1357.4,1475.2 1359,1473.5 1360.5,1472.1 1362,1470.6 1363.5,1468.8 1365,1467.3" fill="none" stroke="#e3231b" stroke-width="4.6" stroke-linejoin="round" stroke-linecap="round"/>
<path d="M1239.4,1559 1240.9,1557.9 1242.4,1557.1 1243.9,1556.1 1245.5,1555.2 1246,1554.9 1247,1554.6 1248.5,1553.7 1250,1553.4 1251.5,1552.8 1253,1552.2 1254,1552 1254.5,1551.9 1256,1550.8 1257.6,1549.7 1259.1,1549 1260.6,1548.2 1262,1547.9 1263.6,1548.6 1265.1,1549.9 1266.6,1550.8 1268,1551 1269.7,1551 1271.2,1550.9 1272.7,1550.4 1274,1550.3 1275.7,1549.8 1277.2,1549.5 1278,1549 1278.7,1549.3 1280.3,1550.8 1281.8,1553.1 1283.3,1554.6 1284,1555.1 1284.8,1554.7 1286.3,1551.8 1288,1548.9 1289.3,1547.8 1290.8,1546.6 1292.4,1545.7 1294,1544.7 1295.4,1543.2 1296.9,1541.4 1298.4,1539.2 1300,1537.1 1301.4,1535 1303,1533.2 1304.5,1530.9 1306,1528.9 1307.5,1527 1309,1525.7 1310.5,1524 1312,1522.6 1313.5,1521.1 1315.1,1519.8 1316.6,1518.1 1318.1,1517 1320,1515.1 1321.1,1513.9 1322.6,1512.4 1324.1,1510.5 1325.7,1508.2 1327.2,1506.2 1328,1505.2 1328.7,1503.9 1330.2,1501.5 1331.7,1499 1333.2,1496 1334.7,1493.2 1336,1491.1 1337.8,1488.2 1339.3,1485.8 1340.8,1483.9 1342,1483 1343.8,1482.7 1345.3,1482.4 1346.8,1482 1348.3,1481.9 1350,1481 1351.4,1479.8 1352.9,1476.6 1354.4,1473.1 1356,1468.9 1357.4,1465.1 1359,1460.3 1360,1457.7 1362,1453.8 1363.5,1451.2 1365,1448.7" fill="none" stroke="#2319e0" stroke-width="4.6" stroke-linejoin="round" stroke-linecap="round"/>
<line x1="1239.40" y1="1426.60" x2="1239.40" y2="1624.40" stroke="#000" stroke-width="2.0" />
<line x1="1230.80" y1="1624.40" x2="1366.20" y2="1624.40" stroke="#000" stroke-width="2.0" />
<line x1="1230.80" y1="1438.00" x2="1239.40" y2="1438.00" stroke="#000" stroke-width="2.0" />
<line x1="1293.00" y1="1624.40" x2="1293.00" y2="1633.00" stroke="#000" stroke-width="2.0" />
<text x="1227.10" y="1450.00" font-size="27.5" text-anchor="end" font-weight="normal" fill="#000" >12</text>
<text x="1227.10" y="1636.40" font-size="27.5" text-anchor="end" font-weight="normal" fill="#000" >0</text>
<text x="1293.40" y="1665.10" font-size="27.5" text-anchor="middle" font-weight="normal" fill="#000" >-2</text>
<text x="1365.70" y="1665.10" font-size="27.5" text-anchor="middle" font-weight="normal" fill="#000" >0</text>
<path d="M1275.00,1416.80 C1275.56,1416.80 1276.04,1383.00 1276.60,1383.00 C1277.20,1383.00 1277.71,1416.80 1278.30,1416.80 C1278.93,1416.80 1279.47,1383.00 1280.10,1383.00 C1280.73,1383.00 1281.27,1416.80 1281.90,1416.80 C1282.53,1416.80 1283.07,1383.00 1283.70,1383.00 C1284.33,1383.00 1284.87,1416.80 1285.50,1416.80 C1286.27,1416.80 1286.93,1383.00 1287.70,1383.00 C1288.40,1383.00 1289.00,1416.80 1289.70,1416.80" fill="none" stroke="#2424d6" stroke-width="1.7" stroke-linejoin="round" stroke-linecap="round"/>
<rect x="1460.20" y="1426.60" width="11.8" height="197.80" fill="#95d4f4"/>
<path d="M1424.6,1493.2 1426.1,1491.6 1427.6,1490.8 1429.1,1490 1431,1488.9 1432.1,1486.8 1433.6,1485 1435.1,1482.2 1437,1480.1 1438.1,1479.8 1439.7,1481.7 1441.2,1483 1443,1484.5 1444.2,1484.7 1445.7,1483.9 1447.2,1481.7 1449,1478.8 1450.2,1476.3 1451.7,1473 1453.2,1470.5 1455,1469.4 1456.2,1470.4 1457.7,1473.6 1459.2,1477.6 1461,1480.8 1462.2,1481.6 1463.7,1482.7 1465.2,1483.6 1467,1484.5 1468.2,1486 1469.7,1487.7 1471.2,1489.6 1473,1490.3 1474.3,1489.7 1475.8,1488.2 1477.3,1487 1479,1485.3 1480.3,1483.6 1481.8,1482 1483.3,1480.8 1485,1480.2 1486.3,1480.5 1487.8,1481.9 1489.3,1483.1 1491,1484.1 1492.3,1484.6 1493.8,1486 1495.3,1487.4 1497,1488.4 1498.3,1488.8 1499.8,1489.9 1501.3,1490.6 1502.8,1490.9 1504.3,1491.5 1505,1492 1505.9,1492.3 1507.4,1493.5 1508.9,1494.7 1510.4,1495.9 1511,1496 1511.9,1496.4 1513.4,1496.6 1514.9,1496.6 1516.4,1496.6 1517,1497.6 1517.9,1498.5 1519.4,1500.5 1520.9,1503.5 1522.4,1507.2 1523,1508.5 1523.9,1510.4 1525.4,1514.5 1526.9,1518.7 1528.4,1521.3 1529,1522.1 1529.9,1523 1531.4,1524.2 1532.9,1525.2 1534.5,1526.2 1535,1525.5 1536,1525 1537.5,1524.9 1539,1524.4 1540.5,1523.7 1541,1523.7 1542,1524.9 1543.5,1527 1545,1529.5 1546.5,1532.9 1548,1536 1549.5,1537.7 1551,1539.5 1551,1557.9 1549.5,1555.6 1548,1553.9 1546.5,1550.8 1545,1548.1 1543.5,1544.9 1542,1542.6 1541,1541.6 1540.5,1542.3 1539,1542.2 1537.5,1542.8 1536,1543.7 1535,1543.9 1534.5,1543.4 1532.9,1543.3 1531.4,1542.2 1529.9,1540.7 1529,1539.6 1528.4,1538.6 1526.9,1535.3 1525.4,1531.6 1523.9,1527.2 1523,1525.7 1522.4,1524.9 1520.9,1522.3 1519.4,1519.4 1517.9,1517.4 1517,1516.6 1516.4,1516.4 1514.9,1515.7 1513.4,1515.1 1511.9,1515.4 1511,1514.4 1510.4,1514.3 1508.9,1512.9 1507.4,1511.3 1505.9,1509.5 1505,1509.4 1504.3,1509.1 1502.8,1508.1 1501.3,1507.7 1499.8,1507.3 1498.3,1506.9 1497,1506.2 1495.3,1505.8 1493.8,1504.6 1492.3,1503.3 1491,1502 1489.3,1500.5 1487.8,1498.5 1486.3,1497.8 1485,1497.6 1483.3,1498.4 1481.8,1499.5 1480.3,1502.1 1479,1503.7 1477.3,1505.5 1475.8,1506.8 1474.3,1508.5 1473,1508.3 1471.2,1506.7 1469.7,1504.8 1468.2,1503.2 1467,1501.3 1465.2,1500.4 1463.7,1499.6 1462.2,1499 1461,1498.3 1459.2,1495.5 1457.7,1491.9 1456.2,1489.3 1455,1488.2 1453.2,1489 1451.7,1491.3 1450.2,1493.6 1449,1495.4 1447.2,1497.3 1445.7,1499.1 1444.2,1500.4 1443,1501.1 1441.2,1500.7 1439.7,1499.4 1438.1,1498.2 1437,1498.2 1435.1,1499.3 1433.6,1501.9 1432.1,1504.7 1431,1505.6 1429.1,1506.9 1427.6,1508.2 1426.1,1508.5 1424.6,1509.2Z" fill="#f9c9c4" fill-opacity="0.8" stroke="#f2958c" stroke-width="1.6"/>
<path d="M1424.6,1476.8 1426.1,1475.2 1427.6,1473.3 1429.1,1472.4 1431,1471.3 1432.1,1470.9 1433.6,1470.5 1435.1,1470.4 1436.6,1470.6 1438.1,1471.7 1439,1472.1 1439.7,1473.5 1441.2,1475 1442.7,1476.7 1444.2,1477.8 1445,1478 1445.7,1477.1 1447.2,1475.3 1448.7,1472.2 1450.2,1468.8 1451,1467.6 1451.7,1466.3 1453.2,1464.8 1455,1462.7 1456.2,1463.4 1457.7,1465.7 1459.2,1468.2 1460,1468.3 1460.7,1469.4 1462.2,1469.6 1463.7,1470.1 1465,1470.8 1466.7,1474.3 1468.2,1478.6 1469,1480.1 1469.7,1480.9 1471.2,1483.1 1473,1484.3 1474.3,1482.2 1475.8,1475 1477,1469 1478.8,1461 1480.3,1453.8 1481,1450.4 1481.8,1448.6 1483.3,1443.8 1485,1440.7 1486.3,1442.6 1487.8,1447.5 1489,1450.8 1490.8,1457.3 1492.3,1463.6 1493,1464.8 1493.8,1465.8 1495.3,1468.1 1496.8,1469.3 1498.3,1470.3 1499,1470.9 1499.8,1471.7 1501.3,1473.2 1502.8,1474.8 1504.3,1476 1505,1477 1505.9,1477.7 1507.4,1479.2 1508.9,1481.6 1510.4,1482.5 1511,1483.6 1511.9,1484.4 1513.4,1484.3 1514.9,1483.7 1516.4,1484.3 1517,1483.7 1517.9,1484.6 1519.4,1486.4 1520.9,1488.3 1522.4,1490.7 1523,1491.9 1523.9,1492 1525.4,1494.3 1526.9,1496.7 1528.4,1497.5 1529,1497.6 1529.9,1497.4 1531.4,1495.5 1533,1494.1 1534.5,1492.7 1536,1491.2 1537.5,1490.2 1539,1488.5 1540.5,1486.2 1542,1483.6 1543.5,1480.5 1545,1479.4 1546.5,1481.9 1548,1485.5 1549.5,1490.1 1551,1496.5 1551,1518.9 1549.5,1513.1 1548,1508.7 1546.5,1505.2 1545,1502.7 1543.5,1504 1542,1507.1 1540.5,1510 1539,1513.1 1537.5,1515 1536,1516.2 1534.5,1516.9 1533,1517.7 1531.4,1518.4 1529.9,1519 1529,1519.5 1528.4,1519.4 1526.9,1519 1525.4,1517.1 1523.9,1516 1523,1515.3 1522.4,1515.5 1520.9,1513.3 1519.4,1512.4 1517.9,1510.7 1517,1510 1516.4,1509.8 1514.9,1509.7 1513.4,1508.7 1511.9,1508.1 1511,1507.8 1510.4,1506.7 1508.9,1504.9 1507.4,1503.6 1505.9,1501.7 1505,1500.4 1504.3,1500.5 1502.8,1498.6 1501.3,1496.7 1499.8,1495.2 1499,1494.9 1498.3,1493.4 1496.8,1492.9 1495.3,1491.8 1493.8,1489.9 1493,1488.9 1492.3,1488.1 1490.8,1482.3 1489,1475.5 1487.8,1472.5 1486.3,1467.1 1485,1465.3 1483.3,1467.9 1481.8,1473 1481,1474.8 1480.3,1477.4 1478.8,1483.7 1477,1491.5 1475.8,1497.7 1474.3,1505.1 1473,1507.7 1471.2,1507.1 1469.7,1505.7 1469,1503.9 1468.2,1502.2 1466.7,1497.6 1465,1493.4 1463.7,1492.6 1462.2,1492.5 1460.7,1492.1 1460,1492.6 1459.2,1492.5 1457.7,1490.3 1456.2,1487.4 1455,1487.2 1453.2,1487.9 1451.7,1489 1451,1490.4 1450.2,1492.6 1448.7,1495.7 1447.2,1499.4 1445.7,1501.5 1445,1501.5 1444.2,1501.3 1442.7,1499.8 1441.2,1497.1 1439.7,1496.9 1439,1496.7 1438.1,1496.2 1436.6,1496.3 1435.1,1496.9 1433.6,1496.7 1432.1,1496.8 1431,1496.5 1429.1,1497.3 1427.6,1498.2 1426.1,1499.7 1424.6,1500.8Z" fill="#c9c9f7" fill-opacity="0.8" stroke="#9393ee" stroke-width="1.6"/>
<line x1="1442.20" y1="1426.60" x2="1442.20" y2="1624.40" stroke="#000" stroke-width="2.0" />
<line x1="1473.00" y1="1426.60" x2="1473.00" y2="1624.40" stroke="#000" stroke-width="2.0" />
<line x1="1550.40" y1="1426.60" x2="1550.40" y2="1633.00" stroke="#000" stroke-width="2.0" />
<path d="M1424.6,1501.6 1426.1,1500.8 1427.6,1499.9 1429.1,1498.7 1431,1497.3 1432.1,1495.8 1433.6,1492.8 1435.1,1490.1 1437,1488.6 1438.1,1489 1439.7,1490.2 1441.2,1491.8 1443,1492.7 1444.2,1492.6 1445.7,1491 1447.2,1489.1 1449,1486.8 1450.2,1485.3 1451.7,1482.6 1453.2,1480.2 1455,1478.8 1456.2,1479.5 1457.7,1482.4 1459.2,1485.7 1461,1488.7 1462.2,1489.7 1463.7,1490.7 1465.2,1491.4 1467,1492.7 1468.2,1494.1 1469.7,1496.3 1471.2,1498.2 1473,1499.3 1474.3,1498.9 1475.8,1497.9 1477.3,1496.4 1479,1495 1480.3,1493.8 1481.8,1491.7 1483.3,1490 1485,1489.3 1486.3,1489.4 1487.8,1490.4 1489.3,1491.7 1491,1493.1 1492.3,1493.9 1493.8,1495.3 1495.3,1496 1497,1497.2 1498.3,1497.8 1499.8,1498.4 1501.3,1499 1502.8,1499.8 1504.3,1500.5 1505,1500.7 1505.9,1501.2 1507.4,1502 1508.9,1503.3 1510.4,1504.5 1511,1505.1 1511.9,1505.6 1513.4,1506.3 1514.9,1506.8 1516.4,1506.9 1517,1507 1517.9,1507.8 1519.4,1509.7 1520.9,1512.3 1522.4,1515.4 1523,1516.5 1523.9,1518.6 1525.4,1522.5 1526.9,1526.8 1528.4,1530 1529,1530.9 1529.9,1531.7 1531.4,1533.4 1532.9,1534.3 1534.5,1534.9 1535,1534.8 1536,1534.6 1537.5,1534.1 1539,1533.3 1540.5,1532.8 1541,1532.7 1542,1533.4 1543.5,1535.9 1545,1538.9 1546.5,1542 1548,1545.3 1549.5,1547.3 1551,1549.1" fill="none" stroke="#e3231b" stroke-width="4.6" stroke-linejoin="round" stroke-linecap="round"/>
<path d="M1424.6,1489.6 1426.1,1487.9 1427.6,1485.8 1429.1,1484.2 1431,1483.4 1432.1,1483.4 1433.6,1483.2 1435.1,1483.6 1436.6,1483.8 1438.1,1484.1 1439,1484.2 1439.7,1484.5 1441.2,1485.8 1442.7,1487.5 1444.2,1488.7 1445,1489 1445.7,1489 1447.2,1486.9 1448.7,1483.7 1450.2,1480.3 1451,1478.9 1451.7,1477.9 1453.2,1475.8 1455,1474.6 1456.2,1475.4 1457.7,1477.7 1459.2,1480.3 1460,1480.9 1460.7,1481.3 1462.2,1481.9 1463.7,1482.3 1465,1482.7 1466.7,1486.6 1468.2,1491.1 1469,1492.7 1469.7,1493.7 1471.2,1495.7 1473,1496.8 1474.3,1494.4 1475.8,1487 1477,1480.9 1478.8,1472.7 1480.3,1465.8 1481,1462.9 1481.8,1460.4 1483.3,1455.9 1485,1453.2 1486.3,1454.8 1487.8,1459.3 1489,1463.2 1490.8,1469.7 1492.3,1475.2 1493,1476.6 1493.8,1478 1495.3,1479.9 1496.8,1481.4 1498.3,1482.7 1499,1483.5 1499.8,1484.4 1501.3,1485.5 1502.8,1486.9 1504.3,1488.4 1505,1488.8 1505.9,1489.5 1507.4,1491.5 1508.9,1493.2 1510.4,1494.6 1511,1495.2 1511.9,1495.9 1513.4,1496.3 1514.9,1496.8 1516.4,1497.1 1517,1497.1 1517.9,1497.6 1519.4,1498.8 1520.9,1500.4 1522.4,1502.2 1523,1503 1523.9,1503.9 1525.4,1505.9 1526.9,1507.8 1528.4,1509 1529,1509.3 1529.9,1509.2 1531.4,1508.4 1533,1507.2 1534.5,1505.8 1536,1504.2 1537.5,1502.5 1539,1501 1540.5,1498.8 1542,1495.8 1543.5,1493.3 1545,1492.2 1546.5,1493.7 1548,1496.9 1549.5,1501.6 1551,1507.1" fill="none" stroke="#2319e0" stroke-width="4.6" stroke-linejoin="round" stroke-linecap="round"/>
<line x1="1424.60" y1="1426.60" x2="1424.60" y2="1624.40" stroke="#000" stroke-width="2.0" />
<line x1="1416.00" y1="1624.40" x2="1551.40" y2="1624.40" stroke="#000" stroke-width="2.0" />
<line x1="1416.00" y1="1430.00" x2="1424.60" y2="1430.00" stroke="#000" stroke-width="2.0" />
<line x1="1478.20" y1="1624.40" x2="1478.20" y2="1633.00" stroke="#000" stroke-width="2.0" />
<text x="1412.30" y="1442.00" font-size="27.5" text-anchor="end" font-weight="normal" fill="#000" >9</text>
<text x="1412.30" y="1636.40" font-size="27.5" text-anchor="end" font-weight="normal" fill="#000" >0</text>
<text x="1478.60" y="1665.10" font-size="27.5" text-anchor="middle" font-weight="normal" fill="#000" >-2</text>
<text x="1550.90" y="1665.10" font-size="27.5" text-anchor="middle" font-weight="normal" fill="#000" >0</text>
<path d="M1460.20,1416.80 C1460.76,1416.80 1461.24,1383.00 1461.80,1383.00 C1462.39,1383.00 1462.90,1416.80 1463.50,1416.80 C1464.13,1416.80 1464.67,1383.00 1465.30,1383.00 C1465.93,1383.00 1466.47,1416.80 1467.10,1416.80 C1467.73,1416.80 1468.27,1383.00 1468.90,1383.00 C1469.53,1383.00 1470.07,1416.80 1470.70,1416.80 C1471.47,1416.80 1472.13,1383.00 1472.90,1383.00 C1473.60,1383.00 1474.20,1416.80 1474.90,1416.80" fill="none" stroke="#2424d6" stroke-width="1.7" stroke-linejoin="round" stroke-linecap="round"/>
<rect x="1646.00" y="1426.60" width="11.8" height="197.80" fill="#95d4f4"/>
<path d="M1610.4,1535.9 1611.9,1535.1 1613.4,1534.2 1614.9,1533.3 1616.4,1532.9 1617,1532.9 1617.9,1533 1619.4,1534.3 1620.9,1536.4 1622.4,1539.5 1623,1540.2 1623.9,1542 1625.4,1546.8 1626.9,1552.8 1628.4,1555.4 1629,1555.4 1629.9,1555.7 1631.4,1555.2 1632.9,1553.9 1634.4,1553.8 1635,1553.9 1635.9,1553.6 1637.4,1553.1 1638.9,1552.2 1640.4,1550.9 1641,1550.4 1641.9,1549.8 1643.4,1548.4 1644.9,1547.9 1646.4,1547.1 1647,1546.8 1647.9,1546.8 1649.4,1546.5 1650.9,1546 1652.4,1546.4 1653,1546.1 1653.9,1545.8 1655.4,1546.2 1656.9,1546.9 1658.4,1546.9 1659,1547.3 1659.9,1547.5 1661.4,1547.2 1662.9,1546.2 1664.4,1545.4 1665,1545 1665.9,1544.4 1667.4,1543.8 1669,1542.9 1670.5,1541.8 1671,1541.4 1672,1541.1 1673.5,1539.8 1675,1538.9 1676.5,1537.5 1677,1537.4 1678,1534.1 1679.5,1526.4 1681,1520.1 1682.5,1518.3 1684,1516.9 1685.5,1516.3 1687,1516.1 1688.5,1516.1 1690,1515.9 1691.5,1515.7 1693,1515.5 1694.5,1516.4 1696,1519.9 1697.5,1523.3 1699,1526.3 1700.5,1528.1 1702,1530 1703.5,1530.8 1705,1531.6 1706.5,1531 1708,1529.3 1709.5,1527.8 1711,1526 1712.5,1524.1 1714,1522.2 1715.5,1521 1717,1519.8 1718.5,1519.2 1720,1519.3 1721.5,1518.8 1723,1517.9 1724.5,1515.4 1726,1513 1727,1511.1 1729,1510.5 1730.5,1510.1 1732,1509.9 1733,1509.4 1735,1508.7 1736.5,1507.1 1738,1506 1738,1524 1736.5,1525.2 1735,1526.7 1733,1528.1 1732,1528.2 1730.5,1528.7 1729,1529 1727,1529.2 1726,1530.7 1724.5,1533.6 1723,1535.2 1721.5,1536 1720,1536.4 1718.5,1536.3 1717,1536.8 1715.5,1538.6 1714,1540 1712.5,1542.4 1711,1544.4 1709.5,1546.4 1708,1548 1706.5,1550 1705,1550.2 1703.5,1549.3 1702,1548.1 1700.5,1546.6 1699,1543.8 1697.5,1541.2 1696,1537.6 1694.5,1534.4 1693,1532.5 1691.5,1533.2 1690,1533.4 1688.5,1534 1687,1533.7 1685.5,1534.2 1684,1535.1 1682.5,1536.4 1681,1537.5 1679.5,1542.8 1678,1550.6 1677,1553.6 1676.5,1554.1 1675,1556.7 1673.5,1558.3 1672,1559.8 1671,1559.8 1670.5,1560.5 1669,1561 1667.4,1562.1 1665.9,1562.2 1665,1563.1 1664.4,1563.3 1662.9,1564.1 1661.4,1565.2 1659.9,1566.2 1659,1566.3 1658.4,1565.8 1656.9,1565.4 1655.4,1564.3 1653.9,1563.7 1653,1563 1652.4,1563.4 1650.9,1563.4 1649.4,1564.2 1647.9,1564.9 1647,1565.8 1646.4,1565.7 1644.9,1566.1 1643.4,1567.1 1641.9,1567.3 1641,1567.3 1640.4,1568 1638.9,1569.7 1637.4,1570.5 1635.9,1571.7 1635,1572.7 1634.4,1572.8 1632.9,1573 1631.4,1573.8 1629.9,1574.3 1629,1574 1628.4,1574 1626.9,1570.8 1625.4,1565.4 1623.9,1560.8 1623,1558.3 1622.4,1557 1620.9,1554.6 1619.4,1552.5 1617.9,1550.4 1617,1550.1 1616.4,1549.8 1614.9,1550.2 1613.4,1550.5 1611.9,1551.7 1610.4,1552.9Z" fill="#f9c9c4" fill-opacity="0.8" stroke="#f2958c" stroke-width="1.6"/>
<path d="M1610.4,1561.9 1611.9,1560.7 1613.4,1559.3 1614.9,1558.6 1616.4,1557.7 1617,1557.6 1617.9,1557.7 1619.4,1557.7 1620.9,1558.5 1622.4,1559.5 1623.9,1560 1625,1560.6 1626.9,1562.5 1628.4,1563.3 1629.9,1564.5 1631,1564.8 1632.9,1563 1634.4,1560.3 1635.9,1558.4 1637.4,1556.4 1638,1555.4 1638.9,1555.4 1640.4,1556.2 1641.9,1556.2 1643.4,1557.1 1645,1557.5 1646.4,1552.4 1648,1539.9 1649.4,1520.8 1651,1499.4 1652.4,1488.5 1653.9,1480.3 1655,1478.2 1656.9,1479.4 1658.4,1480.8 1659,1481.2 1659.9,1475.4 1661.4,1460.6 1662,1458.5 1662.9,1461.2 1664.4,1474.3 1665,1479.7 1665.9,1489.9 1667.4,1509.2 1668,1515.4 1669,1524.8 1670.5,1537.3 1671,1540.1 1672,1543.5 1673.5,1548 1675,1549.2 1676.5,1549.1 1678,1549 1679.5,1549.1 1681,1548.7 1682.5,1548.6 1684,1547.3 1685.5,1546.3 1687,1544.2 1688.5,1541.6 1690,1538.4 1691.5,1535.9 1693,1534.5 1694.5,1535.8 1696,1538.5 1697.5,1540.5 1699,1541.2 1700.5,1540.7 1702,1539.8 1703.5,1538.6 1705,1538.1 1706.5,1537.3 1708,1535.9 1709.5,1535.2 1711,1533.7 1712.5,1532.2 1713,1532.2 1714,1532.1 1715.5,1530.9 1717,1530.4 1718.5,1529.7 1720,1528.1 1721,1527.4 1723,1524 1724.5,1521.8 1725,1521.5 1726,1523.8 1727.5,1529.8 1729,1535.6 1730.5,1538.7 1732,1541.6 1733,1541.9 1735,1541.9 1736.5,1541.1 1738,1540.7 1738,1558 1736.5,1559.1 1735,1560.2 1733,1560.9 1732,1560 1730.5,1558 1729,1554.3 1727.5,1548.6 1726,1542.1 1725,1540.4 1724.5,1540.4 1723,1543.2 1721,1545.9 1720,1546.3 1718.5,1547.6 1717,1548.4 1715.5,1548.7 1714,1550.1 1713,1550.6 1712.5,1550.9 1711,1551.7 1709.5,1553.4 1708,1554.1 1706.5,1555.4 1705,1556.4 1703.5,1557.7 1702,1558.2 1700.5,1559.4 1699,1559.8 1697.5,1558.8 1696,1555.5 1694.5,1553.1 1693,1551.6 1691.5,1552.8 1690,1555.8 1688.5,1559.2 1687,1561.4 1685.5,1562.6 1684,1563.6 1682.5,1564.4 1681,1565.1 1679.5,1566.3 1678,1566.9 1676.5,1567.9 1675,1567.8 1673.5,1566.1 1672,1561.3 1671,1557.6 1670.5,1555 1669,1542.6 1668,1534 1667.4,1527.6 1665.9,1508.7 1665,1498.1 1664.4,1493.3 1662.9,1479.8 1662,1476.6 1661.4,1478.3 1659.9,1492.9 1659,1498.2 1658.4,1498.1 1656.9,1497.3 1655,1496.8 1653.9,1499.3 1652.4,1507.7 1651,1518.7 1649.4,1539.8 1648,1558.8 1646.4,1571.4 1645,1576.3 1643.4,1576 1641.9,1575.3 1640.4,1574.6 1638.9,1573.8 1638,1573.8 1637.4,1574 1635.9,1575.8 1634.4,1578.2 1632.9,1580.8 1631,1582.7 1629.9,1582.6 1628.4,1581.4 1626.9,1579.8 1625,1578.3 1623.9,1578 1622.4,1577.6 1620.9,1576.7 1619.4,1576.7 1617.9,1577.2 1617,1577.1 1616.4,1576.8 1614.9,1577.9 1613.4,1578.4 1611.9,1579.2 1610.4,1580Z" fill="#c9c9f7" fill-opacity="0.8" stroke="#9393ee" stroke-width="1.6"/>
<line x1="1628.00" y1="1426.60" x2="1628.00" y2="1624.40" stroke="#000" stroke-width="2.0" />
<line x1="1658.80" y1="1426.60" x2="1658.80" y2="1624.40" stroke="#000" stroke-width="2.0" />
<line x1="1736.20" y1="1426.60" x2="1736.20" y2="1633.00" stroke="#000" stroke-width="2.0" />
<path d="M1610.4,1544.9 1611.9,1543.7 1613.4,1542.7 1614.9,1542 1616.4,1541.6 1617,1541.3 1617.9,1541.9 1619.4,1543.5 1620.9,1545.8 1622.4,1548.4 1623,1549.3 1623.9,1551.2 1625.4,1556.2 1626.9,1561 1628.4,1564.3 1629,1564.9 1629.9,1565.2 1631.4,1564.6 1632.9,1564.2 1634.4,1563.5 1635,1563.2 1635.9,1562.4 1637.4,1561.3 1638.9,1560.2 1640.4,1559.1 1641,1558.8 1641.9,1558.4 1643.4,1558.1 1644.9,1557.7 1646.4,1557.6 1647,1557.4 1647.9,1557.2 1649.4,1556.7 1650.9,1556 1652.4,1555.6 1653,1555.5 1653.9,1555.5 1655.4,1555.7 1656.9,1556.4 1658.4,1556.6 1659,1556.6 1659.9,1556.5 1661.4,1555.8 1662.9,1554.4 1664.4,1553.2 1665,1553 1665.9,1552.7 1667.4,1552.2 1669,1551.9 1670.5,1551.3 1671,1550.9 1672,1550.6 1673.5,1549.3 1675,1547.9 1676.5,1546.1 1677,1545 1678,1541.8 1679.5,1534.1 1681,1528.7 1682.5,1527 1684,1526 1685.5,1525.2 1687,1525 1688.5,1524.4 1690,1524.1 1691.5,1523.7 1693,1523.5 1694.5,1524.6 1696,1528.1 1697.5,1531.8 1699,1534.8 1700.5,1536.8 1702,1538.7 1703.5,1540.2 1705,1540.8 1706.5,1540.2 1708,1538.8 1709.5,1537 1711,1535.1 1712.5,1533.4 1714,1531.6 1715.5,1529.9 1717,1529 1718.5,1528.3 1720,1527.9 1721.5,1527.8 1723,1527.2 1724.5,1524.8 1726,1522.3 1727,1521.3 1729,1520.3 1730.5,1520.1 1732,1519.9 1733,1519.2 1735,1518 1736.5,1516.7 1738,1515.2" fill="none" stroke="#e3231b" stroke-width="4.6" stroke-linejoin="round" stroke-linecap="round"/>
<path d="M1610.4,1571.3 1611.9,1570.1 1613.4,1568.7 1614.9,1567.5 1616.4,1566.9 1617,1566.6 1617.9,1566.8 1619.4,1567.2 1620.9,1567.5 1622.4,1568 1623.9,1568.5 1625,1569 1626.9,1570.2 1628.4,1571.6 1629.9,1572.9 1631,1573.2 1632.9,1571.4 1634.4,1569 1635.9,1566.6 1637.4,1564.8 1638,1564.8 1638.9,1565.2 1640.4,1565.7 1641.9,1566.5 1643.4,1567.2 1645,1567.5 1646.4,1561.8 1648,1549.4 1649.4,1530 1651,1509.2 1652.4,1497.9 1653.9,1489.2 1655,1486.9 1656.9,1488.1 1658.4,1489 1659,1488.9 1659.9,1483.8 1661.4,1468.9 1662,1467 1662.9,1470.1 1664.4,1483.6 1665,1489.3 1665.9,1499.8 1667.4,1519 1668,1525 1669,1534.2 1670.5,1546.3 1671,1549.1 1672,1552.8 1673.5,1557.4 1675,1559.1 1676.5,1558.9 1678,1558.3 1679.5,1557.9 1681,1557.1 1682.5,1556.5 1684,1555.5 1685.5,1554.4 1687,1553.1 1688.5,1550.7 1690,1547.2 1691.5,1544.2 1693,1542.8 1694.5,1543.7 1696,1546.5 1697.5,1549.1 1699,1550.4 1700.5,1550.2 1702,1549.2 1703.5,1547.8 1705,1546.6 1706.5,1545.6 1708,1544.4 1709.5,1543.2 1711,1542.2 1712.5,1541.2 1713,1540.8 1714,1540.3 1715.5,1539.9 1717,1539.2 1718.5,1538.7 1720,1538.1 1721,1537.2 1723,1533.5 1724.5,1531.1 1725,1530.7 1726,1532.1 1727.5,1538.6 1729,1544.3 1730.5,1547.5 1732,1549.9 1733,1550.4 1735,1550.2 1736.5,1549.6 1738,1548.8" fill="none" stroke="#2319e0" stroke-width="4.6" stroke-linejoin="round" stroke-linecap="round"/>
<line x1="1610.40" y1="1426.60" x2="1610.40" y2="1624.40" stroke="#000" stroke-width="2.0" />
<line x1="1601.80" y1="1624.40" x2="1737.20" y2="1624.40" stroke="#000" stroke-width="2.0" />
<line x1="1601.80" y1="1434.00" x2="1610.40" y2="1434.00" stroke="#000" stroke-width="2.0" />
<line x1="1664.00" y1="1624.40" x2="1664.00" y2="1633.00" stroke="#000" stroke-width="2.0" />
<text x="1598.10" y="1446.00" font-size="27.5" text-anchor="end" font-weight="normal" fill="#000" >9</text>
<text x="1598.10" y="1636.40" font-size="27.5" text-anchor="end" font-weight="normal" fill="#000" >0</text>
<text x="1664.40" y="1665.10" font-size="27.5" text-anchor="middle" font-weight="normal" fill="#000" >-2</text>
<text x="1736.70" y="1665.10" font-size="27.5" text-anchor="middle" font-weight="normal" fill="#000" >0</text>
<path d="M1646.00,1416.80 C1646.56,1416.80 1647.04,1383.00 1647.60,1383.00 C1648.20,1383.00 1648.71,1416.80 1649.30,1416.80 C1649.93,1416.80 1650.47,1383.00 1651.10,1383.00 C1651.73,1383.00 1652.27,1416.80 1652.90,1416.80 C1653.53,1416.80 1654.07,1383.00 1654.70,1383.00 C1655.33,1383.00 1655.87,1416.80 1656.50,1416.80 C1657.27,1416.80 1657.93,1383.00 1658.70,1383.00 C1659.40,1383.00 1660.00,1416.80 1660.70,1416.80" fill="none" stroke="#2424d6" stroke-width="1.7" stroke-linejoin="round" stroke-linecap="round"/>
<rect x="1831.00" y="1426.60" width="11.8" height="197.80" fill="#95d4f4"/>
<path d="M1795.4,1475.4 1796.9,1476.9 1798.4,1478.1 1799.9,1479.4 1801.4,1481.1 1802,1481.3 1802.9,1482.4 1804.4,1484.3 1805.9,1486.1 1807.4,1488 1808,1489.3 1808.9,1490 1810.4,1491.9 1811.9,1493.6 1813.4,1494.5 1814,1494.6 1814.9,1495.5 1816.4,1495.9 1817.9,1497.5 1819.4,1498.6 1820,1498.6 1820.9,1499.3 1822.4,1501.5 1824,1501.9 1825.4,1500.3 1826.9,1497 1828,1496.1 1829.9,1496.9 1831.4,1497.7 1832,1497.9 1832.9,1499.1 1834.4,1499.7 1835.9,1501.1 1837.4,1502.5 1838,1503.2 1838.9,1504 1840.4,1505.4 1841.9,1505.8 1843.4,1506.8 1844,1507.4 1844.9,1508 1846.4,1509.2 1848,1511.2 1849.4,1514.2 1850.9,1517.5 1852,1518.6 1854,1515.7 1855.5,1513.2 1856,1513.4 1857,1513.3 1858.5,1512.4 1860,1512.7 1861.5,1512.5 1862,1511.8 1863,1511.7 1864.5,1512.7 1866,1513 1867.5,1513.7 1869,1514.5 1870,1514.8 1872,1516 1873.5,1517.5 1875,1518.3 1876,1519.6 1878,1521.2 1879.5,1521.8 1881,1522.9 1882.5,1524.4 1884,1525.4 1885.5,1527.4 1887,1529.3 1888.5,1531.3 1890,1532.3 1891.5,1533.7 1893,1534.4 1894.5,1535.4 1896,1535.5 1897.5,1535.7 1899,1534.7 1900.5,1534 1902,1533 1903.5,1532.4 1904,1532 1905,1532.4 1906.5,1533.2 1908,1534.6 1909.5,1535.4 1911,1536.5 1912,1536.7 1914,1537.4 1915.5,1538.4 1917,1540.2 1918,1541.7 1920,1543.7 1921.5,1545.8 1923,1547.4 1923,1564.9 1921.5,1563.1 1920,1561.8 1918,1560 1917,1559.4 1915.5,1558 1914,1557.3 1912,1556 1911,1555.9 1909.5,1555 1908,1553.8 1906.5,1552.9 1905,1552.5 1904,1552.2 1903.5,1552.9 1902,1553.2 1900.5,1553.6 1899,1554.1 1897.5,1554.8 1896,1555 1894.5,1554.8 1893,1554.8 1891.5,1554.3 1890,1553 1888.5,1551.3 1887,1549.5 1885.5,1546.4 1884,1544.9 1882.5,1544.2 1881,1542.5 1879.5,1541.2 1878,1540.3 1876,1538.3 1875,1536.8 1873.5,1535.8 1872,1534.6 1870,1533.4 1869,1532.9 1867.5,1532.7 1866,1532.2 1864.5,1532.1 1863,1532.3 1862,1532.1 1861.5,1532.1 1860,1532.1 1858.5,1532.7 1857,1532.7 1856,1533.5 1855.5,1534.1 1854,1536.5 1852,1539.1 1850.9,1538.3 1849.4,1534.4 1848,1530.4 1846.4,1529.2 1844.9,1527.3 1844,1527 1843.4,1526.6 1841.9,1526.2 1840.4,1525.3 1838.9,1524.4 1838,1523.9 1837.4,1523.4 1835.9,1522.4 1834.4,1521.3 1832.9,1520.3 1832,1519 1831.4,1519.2 1829.9,1517.7 1828,1516.5 1826.9,1517.7 1825.4,1521 1824,1522.4 1822.4,1521.6 1820.9,1519.8 1820,1518.4 1819.4,1518.4 1817.9,1517.8 1816.4,1516.6 1814.9,1516 1814,1516.1 1813.4,1515.8 1811.9,1513.6 1810.4,1512.6 1808.9,1510.6 1808,1509.1 1807.4,1507.8 1805.9,1505.9 1804.4,1503.6 1802.9,1501.7 1802,1501 1801.4,1500.8 1799.9,1499.3 1798.4,1498.1 1796.9,1496.9 1795.4,1495.3Z" fill="#f9c9c4" fill-opacity="0.8" stroke="#f2958c" stroke-width="1.6"/>
<path d="M1795.4,1484.3 1796.9,1484.8 1798.4,1485.4 1799.9,1486.2 1801.4,1486 1802,1486.3 1802.9,1486.1 1804.4,1486.7 1805.9,1486.9 1807.4,1486.8 1808,1487.5 1808.9,1487.4 1810.4,1487.2 1811.9,1487.3 1813.4,1488.3 1814,1488.1 1814.9,1489.5 1816.4,1492.2 1818,1495.6 1819.4,1498 1820.9,1500.1 1822,1500.8 1823.9,1495.5 1825.4,1488.4 1826,1486.6 1826.9,1484.2 1828.4,1482.6 1829.9,1480.7 1831.4,1477.7 1832,1476.9 1832.9,1473.3 1834.4,1464.5 1836,1456.8 1837.4,1451.5 1838.9,1445.5 1840,1443.7 1841.9,1441.8 1843.4,1440.7 1844,1440.6 1844.9,1442.1 1846.4,1446.8 1848,1453.1 1849.4,1458.4 1850.9,1464 1852,1467.6 1854,1475.5 1855.5,1480.8 1856,1482.8 1857,1484.7 1858.5,1486.8 1860,1489.7 1861.5,1493.9 1863,1499.3 1864,1501.6 1866,1504.4 1867.5,1506.4 1869,1507.5 1870,1508.3 1872,1511.4 1873.5,1512.8 1875,1513.4 1876,1514.8 1878,1516.8 1879.5,1517.9 1881,1519.8 1882,1520.5 1884,1522.2 1885.5,1523.2 1887,1523.6 1888,1523.7 1890,1524.4 1891.5,1524.8 1893,1525.3 1894,1525.2 1896,1523.2 1897.5,1519.8 1899,1516.4 1900,1516 1902,1516.3 1903.5,1515.7 1905,1515 1906,1514.9 1908,1515.1 1909.5,1516.8 1911,1518.4 1912,1519.7 1914,1523 1915.5,1526 1917,1528.4 1918,1530.8 1920,1533.9 1921.5,1535.6 1923,1537.4 1923,1562.7 1921.5,1561 1920,1558.4 1918,1556.1 1917,1554.2 1915.5,1550.9 1914,1548 1912,1545 1911,1543.2 1909.5,1541.3 1908,1540.1 1906,1539.3 1905,1539.5 1903.5,1540.1 1902,1539.3 1900,1538.8 1899,1539.3 1897.5,1542.8 1896,1546.3 1894,1549.5 1893,1549.3 1891.5,1548.8 1890,1548.7 1888,1548.9 1887,1548.1 1885.5,1547.5 1884,1546.8 1882,1545 1881,1544.2 1879.5,1542.7 1878,1540.6 1876,1538.8 1875,1538 1873.5,1536.6 1872,1535.2 1870,1534 1869,1532.7 1867.5,1530.9 1866,1529.1 1864,1526.1 1863,1522.4 1861.5,1517 1860,1512.4 1858.5,1509.9 1857,1508.1 1856,1507.3 1855.5,1506.4 1854,1501.3 1852,1493.7 1850.9,1489.1 1849.4,1482.8 1848,1477.5 1846.4,1471.9 1844.9,1467 1844,1466.8 1843.4,1466.9 1841.9,1466.4 1840,1468 1838.9,1469.2 1837.4,1474.8 1836,1480.6 1834.4,1488.9 1832.9,1497 1832,1501.4 1831.4,1502.4 1829.9,1504.9 1828.4,1507.7 1826.9,1509.7 1826,1510.6 1825.4,1511.9 1823.9,1519.4 1822,1524.7 1820.9,1524.3 1819.4,1522.9 1818,1521.4 1816.4,1517.7 1814.9,1514.4 1814,1513.1 1813.4,1512.8 1811.9,1511.3 1810.4,1511 1808.9,1510.6 1808,1510.2 1807.4,1510.6 1805.9,1511.1 1804.4,1511.1 1802.9,1511.5 1802,1511.8 1801.4,1512.1 1799.9,1511.2 1798.4,1510.8 1796.9,1509.7 1795.4,1509.6Z" fill="#c9c9f7" fill-opacity="0.8" stroke="#9393ee" stroke-width="1.6"/>
<line x1="1813.00" y1="1426.60" x2="1813.00" y2="1624.40" stroke="#000" stroke-width="2.0" />
<line x1="1843.80" y1="1426.60" x2="1843.80" y2="1624.40" stroke="#000" stroke-width="2.0" />
<line x1="1921.20" y1="1426.60" x2="1921.20" y2="1633.00" stroke="#000" stroke-width="2.0" />
<path d="M1795.4,1485.2 1796.9,1486.4 1798.4,1487.5 1799.9,1488.7 1801.4,1490.4 1802,1491 1802.9,1492.2 1804.4,1494.5 1805.9,1496.6 1807.4,1498.5 1808,1499.2 1808.9,1500.1 1810.4,1501.8 1811.9,1503.5 1813.4,1505 1814,1505.5 1814.9,1506.3 1816.4,1507.1 1817.9,1507.7 1819.4,1508.6 1820,1508.8 1820.9,1509.8 1822.4,1511.6 1824,1512.7 1825.4,1511 1826.9,1508 1828,1507.1 1829.9,1507.6 1831.4,1508.8 1832,1509.1 1832.9,1509.4 1834.4,1510.3 1835.9,1511.4 1837.4,1512.6 1838,1512.9 1838.9,1513.8 1840.4,1514.7 1841.9,1515.9 1843.4,1516.9 1844,1517.4 1844.9,1517.9 1846.4,1519.4 1848,1521.3 1849.4,1524.3 1850.9,1528.2 1852,1529.5 1854,1526.9 1855.5,1523.8 1856,1523 1857,1522.5 1858.5,1521.8 1860,1521.4 1861.5,1521.1 1862,1521.2 1863,1521 1864.5,1521.3 1866,1521.8 1867.5,1522.8 1869,1523.7 1870,1524.6 1872,1525.8 1873.5,1527 1875,1528.2 1876,1529.2 1878,1530.5 1879.5,1531.8 1881,1532.7 1882.5,1533.7 1884,1535 1885.5,1536.7 1887,1539 1888.5,1541.1 1890,1542.7 1891.5,1543.3 1893,1543.9 1894.5,1544.5 1896,1544.8 1897.5,1544.8 1899,1544.3 1900.5,1544.1 1902,1543.6 1903.5,1543.5 1904,1543.4 1905,1543.6 1906.5,1544 1908,1544.7 1909.5,1545.7 1911,1546.6 1912,1547.3 1914,1548.5 1915.5,1549.4 1917,1550.5 1918,1551.2 1920,1552.9 1921.5,1554.4 1923,1555.9" fill="none" stroke="#e3231b" stroke-width="4.6" stroke-linejoin="round" stroke-linecap="round"/>
<path d="M1795.4,1497.1 1796.9,1497.6 1798.4,1498.1 1799.9,1499 1801.4,1499.1 1802,1499.1 1802.9,1499.1 1804.4,1499.1 1805.9,1499 1807.4,1499.1 1808,1499 1808.9,1498.9 1810.4,1499.7 1811.9,1500.5 1813.4,1501.5 1814,1502 1814.9,1503.4 1816.4,1506.5 1818,1509.3 1819.4,1511.1 1820.9,1512.7 1822,1512.9 1823.9,1507.2 1825.4,1500.3 1826,1498.7 1826.9,1496.8 1828.4,1494.6 1829.9,1492.5 1831.4,1490.3 1832,1489 1832.9,1485.4 1834.4,1477.3 1836,1469.3 1837.4,1462.9 1838.9,1457 1840,1455.1 1841.9,1453.6 1843.4,1453.2 1844,1453 1844.9,1454.4 1846.4,1459.3 1848,1465.3 1849.4,1470.5 1850.9,1477.1 1852,1481.3 1854,1489 1855.5,1494.1 1856,1495.5 1857,1496.8 1858.5,1498.6 1860,1500.6 1861.5,1504.7 1863,1510.1 1864,1512.8 1866,1516.1 1867.5,1518.2 1869,1519.8 1870,1521 1872,1523.2 1873.5,1524.6 1875,1526.1 1876,1527.1 1878,1528.9 1879.5,1530.6 1881,1532.3 1882,1533.2 1884,1534.9 1885.5,1536.1 1887,1536.8 1888,1536.8 1890,1536.7 1891.5,1536.9 1893,1537.2 1894,1537.1 1896,1534.5 1897.5,1530.9 1899,1527.9 1900,1527 1902,1526.9 1903.5,1527 1905,1526.8 1906,1526.5 1908,1527.7 1909.5,1529.7 1911,1531.8 1912,1533.1 1914,1536.1 1915.5,1538.8 1917,1541.2 1918,1542.8 1920,1545.4 1921.5,1547.3 1923,1548.8" fill="none" stroke="#2319e0" stroke-width="4.6" stroke-linejoin="round" stroke-linecap="round"/>
<line x1="1795.40" y1="1426.60" x2="1795.40" y2="1624.40" stroke="#000" stroke-width="2.0" />
<line x1="1786.80" y1="1624.40" x2="1922.20" y2="1624.40" stroke="#000" stroke-width="2.0" />
<line x1="1786.80" y1="1428.00" x2="1795.40" y2="1428.00" stroke="#000" stroke-width="2.0" />
<line x1="1849.00" y1="1624.40" x2="1849.00" y2="1633.00" stroke="#000" stroke-width="2.0" />
<text x="1783.10" y="1440.00" font-size="27.5" text-anchor="end" font-weight="normal" fill="#000" >7</text>
<text x="1783.10" y="1636.40" font-size="27.5" text-anchor="end" font-weight="normal" fill="#000" >0</text>
<text x="1849.40" y="1665.10" font-size="27.5" text-anchor="middle" font-weight="normal" fill="#000" >-2</text>
<text x="1921.70" y="1665.10" font-size="27.5" text-anchor="middle" font-weight="normal" fill="#000" >0</text>
<path d="M1831.00,1416.80 C1831.56,1416.80 1832.04,1383.00 1832.60,1383.00 C1833.20,1383.00 1833.71,1416.80 1834.30,1416.80 C1834.93,1416.80 1835.47,1383.00 1836.10,1383.00 C1836.73,1383.00 1837.27,1416.80 1837.90,1416.80 C1838.53,1416.80 1839.07,1383.00 1839.70,1383.00 C1840.33,1383.00 1840.87,1416.80 1841.50,1416.80 C1842.27,1416.80 1842.93,1383.00 1843.70,1383.00 C1844.40,1383.00 1845.00,1416.80 1845.70,1416.80" fill="none" stroke="#2424d6" stroke-width="1.7" stroke-linejoin="round" stroke-linecap="round"/>
<rect x="2018.60" y="1426.60" width="11.8" height="197.80" fill="#95d4f4"/>
<path d="M1983,1557.6 1984.5,1558.6 1986,1559.7 1987.5,1560.6 1989,1561.2 1990,1561.7 1992,1561.2 1993.5,1560.5 1995,1560 1996,1559.7 1998,1559.3 1999.5,1559.3 2001,1558.6 2002.5,1545 2004,1521.5 2005.5,1497.8 2007,1473.4 2009,1445.1 2010,1448.4 2012,1467 2013,1480.7 2015,1512.4 2016,1522.3 2017.5,1535 2019,1542.2 2020.5,1545.6 2022,1548.3 2024,1550.6 2025,1552.3 2026.5,1555.2 2028,1557.3 2029,1557.1 2031,1548.5 2032.5,1534.4 2034,1520.7 2035.5,1506.2 2037,1490.8 2039,1480 2040,1484.1 2042,1500.9 2043,1509.7 2044.5,1524.8 2046,1535.7 2047.5,1540.8 2049,1544.9 2050.5,1548.2 2052,1549.7 2053.5,1549.8 2055,1550 2056.5,1550.7 2058,1550.8 2060,1551.1 2061,1551.7 2062.5,1552 2064,1551.9 2065.5,1551.7 2067,1552.3 2068,1552.4 2070,1553.5 2071.5,1554.4 2073,1555.3 2074.5,1555.9 2076,1556.3 2077.5,1556.6 2079,1557.2 2080.5,1557.9 2082,1558 2084,1558.5 2085,1559.1 2086.5,1559.4 2088,1559.5 2089.5,1560.5 2091,1561 2092,1560.9 2094,1560.8 2095.5,1561.6 2097,1561.3 2098.5,1561.3 2100,1561.8 2101.5,1561.9 2103,1561.4 2104.5,1561.3 2106,1561.3 2107.5,1560.6 2109,1560.6 2109,1576.8 2107.5,1577.4 2106,1577.6 2104.5,1577.9 2103,1578.2 2101.5,1578.6 2100,1578 2098.5,1577.8 2097,1577.3 2095.5,1576.9 2094,1576.1 2092,1576.3 2091,1576.2 2089.5,1576.2 2088,1575.9 2086.5,1575.4 2085,1574.9 2084,1575 2082,1574.3 2080.5,1574.2 2079,1574.2 2077.5,1573.2 2076,1572.1 2074.5,1571.9 2073,1570.8 2071.5,1569.9 2070,1569.4 2068,1569.3 2067,1569 2065.5,1569.1 2064,1568.8 2062.5,1568.2 2061,1567.2 2060,1566.6 2058,1566 2056.5,1565.6 2055,1565.5 2053.5,1565.2 2052,1564.5 2050.5,1562.9 2049,1560.3 2047.5,1556.3 2046,1551.5 2044.5,1541.2 2043,1526 2042,1517 2040,1500.2 2039,1496.5 2037,1506.9 2035.5,1522.2 2034,1536.7 2032.5,1550.4 2031,1563.9 2029,1573.3 2028,1573.3 2026.5,1571.2 2025,1568.5 2024,1566.8 2022,1564.2 2020.5,1562.3 2019,1558.8 2017.5,1551.6 2016,1539.1 2015,1528.8 2013,1496.7 2012,1483.1 2010,1464.2 2009,1460.7 2007,1488.8 2005.5,1512.8 2004,1535.8 2002.5,1559.4 2001,1573.3 1999.5,1574.1 1998,1574.9 1996,1576.1 1995,1576.7 1993.5,1577.1 1992,1577.8 1990,1578.2 1989,1578 1987.5,1577.4 1986,1576.3 1984.5,1575.6 1983,1574.5Z" fill="#f9c9c4" fill-opacity="0.8" stroke="#f2958c" stroke-width="1.6"/>
<path d="M1983,1557.5 1984.5,1558.1 1986,1558.5 1987.5,1559.1 1989,1559.5 1990,1559.7 1992,1559.2 1993.5,1559.3 1995,1559.4 1996,1559.2 1998,1558.8 1999.5,1558.9 2001,1558.1 2002.5,1544.4 2004,1520.7 2005.5,1496.8 2007,1471.1 2009,1441.2 2010,1444.9 2012,1464.7 2013,1478.8 2015,1510.6 2016,1520.2 2017.5,1532.6 2019,1541.1 2020.5,1545.3 2022,1548.2 2024,1552.5 2025,1555 2026.5,1558.7 2028,1561.6 2029,1562.9 2031,1555.9 2032,1550.7 2034,1536.8 2036,1520.6 2037,1510.3 2039,1496.6 2040,1500.6 2042,1516.9 2043,1523 2044.5,1531.7 2046,1536.7 2047.5,1539.2 2049,1541.2 2050.5,1542.7 2052,1544.2 2053.5,1545.6 2055,1546.5 2056.5,1547.5 2058,1548.5 2060,1549 2061,1549.1 2062.5,1549.4 2064,1548.5 2065.5,1547.7 2067,1547.1 2068,1546.9 2070,1547.6 2071.5,1549.3 2073,1550.9 2074.5,1552.2 2076,1553.1 2077.5,1553 2079,1553.1 2080.5,1553.8 2082,1553.9 2084,1554.3 2085,1554.6 2086.5,1555.8 2088,1556.5 2089.5,1557.7 2091,1558.1 2092,1558.8 2094,1558.7 2095.5,1558.9 2097,1558.8 2098.5,1558.7 2100,1558.2 2101.5,1557.7 2103,1557.3 2104.5,1555.9 2106,1555.1 2107.5,1551.6 2109,1546.6 2109,1562.8 2107.5,1568.3 2106,1571.8 2104.5,1572.7 2103,1574 2101.5,1574.8 2100,1574.5 2098.5,1574.9 2097,1574.4 2095.5,1574.4 2094,1573.8 2092,1574 2091,1573.4 2089.5,1573.2 2088,1572.5 2086.5,1571.9 2085,1570.8 2084,1570.9 2082,1570.1 2080.5,1569.4 2079,1569.1 2077.5,1568.9 2076,1568.4 2074.5,1567.9 2073,1566.8 2071.5,1565.8 2070,1564.6 2068,1563.5 2067,1563.6 2065.5,1564 2064,1564.2 2062.5,1564.6 2061,1564.7 2060,1564.6 2058,1564.3 2056.5,1563.9 2055,1563.2 2053.5,1562.2 2052,1560.7 2050.5,1559.7 2049,1557.9 2047.5,1556.1 2046,1553.5 2044.5,1548.1 2043,1539.1 2042,1533.4 2040,1516.8 2039,1512.6 2037,1526.8 2036,1536.4 2034,1552.5 2032,1566.5 2031,1572 2029,1578.5 2028,1578.2 2026.5,1575.4 2025,1571 2024,1568.4 2022,1564.6 2020.5,1560.9 2019,1556.1 2017.5,1548 2016,1535.8 2015,1525.9 2013,1494.2 2012,1479.7 2010,1460.1 2009,1456.4 2007,1486.8 2005.5,1512.8 2004,1537.7 2002.5,1561.2 2001,1574.9 1999.5,1574.8 1998,1575.1 1996,1575.4 1995,1575.6 1993.5,1575.4 1992,1576 1990,1576.2 1989,1576.3 1987.5,1576.1 1986,1576 1984.5,1575.6 1983,1575.2Z" fill="#c9c9f7" fill-opacity="0.8" stroke="#9393ee" stroke-width="1.6"/>
<line x1="2000.60" y1="1426.60" x2="2000.60" y2="1624.40" stroke="#000" stroke-width="2.0" />
<line x1="2031.40" y1="1426.60" x2="2031.40" y2="1624.40" stroke="#000" stroke-width="2.0" />
<line x1="2108.80" y1="1426.60" x2="2108.80" y2="1633.00" stroke="#000" stroke-width="2.0" />
<path d="M1983,1566.3 1984.5,1567.2 1986,1568.1 1987.5,1569.1 1989,1569.6 1990,1569.9 1992,1569.6 1993.5,1569 1995,1568.4 1996,1568 1998,1567.2 1999.5,1566.5 2001,1565.7 2002.5,1552 2004,1528.8 2005.5,1505.4 2007,1481 2009,1452.9 2010,1456.3 2012,1474.9 2013,1489 2015,1520.9 2016,1530.9 2017.5,1543.7 2019,1551 2020.5,1554 2022,1556.6 2024,1559.1 2025,1560.5 2026.5,1562.7 2028,1564.5 2029,1564.6 2031,1555.5 2032.5,1541.8 2034,1528.6 2035.5,1514.3 2037,1499 2039,1488.8 2040,1492.5 2042,1509 2043,1518.1 2044.5,1532.9 2046,1543.2 2047.5,1548.4 2049,1552.5 2050.5,1555.3 2052,1557 2053.5,1557.5 2055,1558 2056.5,1558.7 2058,1559 2060,1559.4 2061,1559.6 2062.5,1559.6 2064,1559.8 2065.5,1560.3 2067,1560.5 2068,1560.8 2070,1561.5 2071.5,1562.1 2073,1562.7 2074.5,1563.4 2076,1564 2077.5,1564.7 2079,1565.3 2080.5,1565.8 2082,1566.3 2084,1566.8 2085,1567.2 2086.5,1567.4 2088,1567.8 2089.5,1568.1 2091,1568.7 2092,1568.9 2094,1569.3 2095.5,1569.5 2097,1570 2098.5,1570 2100,1570.1 2101.5,1570.2 2103,1570 2104.5,1569.8 2106,1569.7 2107.5,1569.4 2109,1569.2" fill="none" stroke="#e3231b" stroke-width="4.6" stroke-linejoin="round" stroke-linecap="round"/>
<path d="M1983,1566 1984.5,1566.5 1986,1567 1987.5,1567.5 1989,1567.7 1990,1567.9 1992,1567.9 1993.5,1567.8 1995,1567.5 1996,1567.4 1998,1567 1999.5,1566.8 2001,1566.2 2002.5,1552.8 2004,1529.4 2005.5,1505 2007,1479.3 2009,1449.2 2010,1453.2 2012,1473.3 2013,1487.6 2015,1519.2 2016,1529.1 2017.5,1541.3 2019,1549.1 2020.5,1553.8 2022,1557.1 2024,1561.2 2025,1563.5 2026.5,1567.7 2028,1570.4 2029,1571.3 2031,1564.6 2032,1559.2 2034,1545.4 2036,1529.1 2037,1519.3 2039,1504.6 2040,1508.5 2042,1524.5 2043,1530.6 2044.5,1539.3 2046,1544.9 2047.5,1547.9 2049,1550.1 2050.5,1551.7 2052,1552.8 2053.5,1554 2055,1555.1 2056.5,1556.1 2058,1556.7 2060,1557.2 2061,1557.3 2062.5,1556.8 2064,1556.3 2065.5,1555.4 2067,1554.9 2068,1554.8 2070,1555.8 2071.5,1557.1 2073,1559 2074.5,1560.5 2076,1561.5 2077.5,1561.7 2079,1562.1 2080.5,1562.3 2082,1562.6 2084,1562.9 2085,1563.5 2086.5,1564.1 2088,1564.8 2089.5,1565.4 2091,1566 2092,1565.9 2094,1566.2 2095.5,1566.3 2097,1566.7 2098.5,1566.8 2100,1566.9 2101.5,1566.8 2103,1566.3 2104.5,1565.4 2106,1564.1 2107.5,1560.5 2109,1555.3" fill="none" stroke="#2319e0" stroke-width="4.6" stroke-linejoin="round" stroke-linecap="round"/>
<line x1="1983.00" y1="1426.60" x2="1983.00" y2="1624.40" stroke="#000" stroke-width="2.0" />
<line x1="1974.40" y1="1624.40" x2="2109.80" y2="1624.40" stroke="#000" stroke-width="2.0" />
<line x1="1974.40" y1="1440.00" x2="1983.00" y2="1440.00" stroke="#000" stroke-width="2.0" />
<line x1="2036.60" y1="1624.40" x2="2036.60" y2="1633.00" stroke="#000" stroke-width="2.0" />
<text x="1970.70" y="1452.00" font-size="27.5" text-anchor="end" font-weight="normal" fill="#000" >9</text>
<text x="1970.70" y="1636.40" font-size="27.5" text-anchor="end" font-weight="normal" fill="#000" >0</text>
<text x="2037.00" y="1665.10" font-size="27.5" text-anchor="middle" font-weight="normal" fill="#000" >-2</text>
<text x="2109.30" y="1665.10" font-size="27.5" text-anchor="middle" font-weight="normal" fill="#000" >0</text>
<path d="M2018.60,1416.80 C2019.16,1416.80 2019.64,1383.00 2020.20,1383.00 C2020.80,1383.00 2021.31,1416.80 2021.90,1416.80 C2022.53,1416.80 2023.07,1383.00 2023.70,1383.00 C2024.33,1383.00 2024.87,1416.80 2025.50,1416.80 C2026.13,1416.80 2026.67,1383.00 2027.30,1383.00 C2027.93,1383.00 2028.47,1416.80 2029.10,1416.80 C2029.87,1416.80 2030.53,1383.00 2031.30,1383.00 C2032.00,1383.00 2032.60,1416.80 2033.30,1416.80" fill="none" stroke="#2424d6" stroke-width="1.7" stroke-linejoin="round" stroke-linecap="round"/>
<rect x="336.60" y="907.90" width="31.3" height="110.50" fill="#f81ef8"/>
<rect x="379.60" y="925.10" width="31.3" height="93.30" fill="#5e1a62"/>
<line x1="352.40" y1="900.60" x2="352.40" y2="916.50" stroke="#000" stroke-width="2.2" />
<line x1="344.10" y1="900.60" x2="360.70" y2="900.60" stroke="#000" stroke-width="2.6" />
<line x1="344.10" y1="916.50" x2="360.70" y2="916.50" stroke="#000" stroke-width="2.6" />
<circle cx="352.40" cy="907.90" r="3.4" fill="#000"/>
<line x1="395.20" y1="914.50" x2="395.20" y2="936.10" stroke="#000" stroke-width="2.2" />
<line x1="386.90" y1="914.50" x2="403.50" y2="914.50" stroke="#000" stroke-width="2.6" />
<line x1="386.90" y1="936.10" x2="403.50" y2="936.10" stroke="#000" stroke-width="2.6" />
<circle cx="395.20" cy="925.10" r="3.4" fill="#000"/>
<line x1="309.60" y1="900.60" x2="309.60" y2="1018.40" stroke="#000" stroke-width="2.0" />
<line x1="308.60" y1="1018.40" x2="437.10" y2="1018.40" stroke="#000" stroke-width="2.0" />
<line x1="309.60" y1="904.20" x2="312.10" y2="904.20" stroke="#000" stroke-width="1.6" />
<text x="301.60" y="913.80" font-size="27.5" text-anchor="end" font-weight="normal" fill="#000" >20</text>
<text x="301.60" y="1028.00" font-size="27.5" text-anchor="end" font-weight="normal" fill="#000" >0</text>
<text x="352.40" y="1052.60" font-size="27.7" text-anchor="middle" font-weight="normal" fill="#000" >L</text>
<text x="395.20" y="1052.60" font-size="27.7" text-anchor="middle" font-weight="normal" fill="#000" >R</text>
<rect x="523.60" y="909.90" width="31.3" height="108.50" fill="#f81ef8"/>
<rect x="566.60" y="921.90" width="31.3" height="96.50" fill="#5e1a62"/>
<line x1="539.40" y1="900.60" x2="539.40" y2="919.70" stroke="#000" stroke-width="2.2" />
<line x1="531.10" y1="900.60" x2="547.70" y2="900.60" stroke="#000" stroke-width="2.6" />
<line x1="531.10" y1="919.70" x2="547.70" y2="919.70" stroke="#000" stroke-width="2.6" />
<circle cx="539.40" cy="910.40" r="3.4" fill="#000"/>
<line x1="582.20" y1="910.40" x2="582.20" y2="934.90" stroke="#000" stroke-width="2.2" />
<line x1="573.90" y1="910.40" x2="590.50" y2="910.40" stroke="#000" stroke-width="2.6" />
<line x1="573.90" y1="934.90" x2="590.50" y2="934.90" stroke="#000" stroke-width="2.6" />
<circle cx="582.20" cy="922.60" r="3.4" fill="#000"/>
<line x1="496.60" y1="900.60" x2="496.60" y2="1018.40" stroke="#000" stroke-width="2.0" />
<line x1="495.60" y1="1018.40" x2="624.10" y2="1018.40" stroke="#000" stroke-width="2.0" />
<line x1="496.60" y1="904.00" x2="499.10" y2="904.00" stroke="#000" stroke-width="1.6" />
<text x="488.60" y="913.60" font-size="27.5" text-anchor="end" font-weight="normal" fill="#000" >19</text>
<text x="488.60" y="1028.00" font-size="27.5" text-anchor="end" font-weight="normal" fill="#000" >0</text>
<text x="539.40" y="1052.60" font-size="27.7" text-anchor="middle" font-weight="normal" fill="#000" >L</text>
<text x="582.20" y="1052.60" font-size="27.7" text-anchor="middle" font-weight="normal" fill="#000" >R</text>
<rect x="709.40" y="942.00" width="31.3" height="76.40" fill="#f81ef8"/>
<rect x="752.40" y="919.40" width="31.3" height="99.00" fill="#5e1a62"/>
<line x1="725.20" y1="933.80" x2="725.20" y2="950.70" stroke="#000" stroke-width="2.2" />
<line x1="716.90" y1="933.80" x2="733.50" y2="933.80" stroke="#000" stroke-width="2.6" />
<line x1="716.90" y1="950.70" x2="733.50" y2="950.70" stroke="#000" stroke-width="2.6" />
<circle cx="725.20" cy="942.60" r="3.4" fill="#000"/>
<line x1="768.00" y1="900.70" x2="768.00" y2="939.40" stroke="#000" stroke-width="2.2" />
<line x1="759.70" y1="900.70" x2="776.30" y2="900.70" stroke="#000" stroke-width="2.6" />
<line x1="759.70" y1="939.40" x2="776.30" y2="939.40" stroke="#000" stroke-width="2.6" />
<circle cx="768.00" cy="920.00" r="3.4" fill="#000"/>
<line x1="682.40" y1="900.60" x2="682.40" y2="1018.40" stroke="#000" stroke-width="2.0" />
<line x1="681.40" y1="1018.40" x2="809.90" y2="1018.40" stroke="#000" stroke-width="2.0" />
<line x1="682.40" y1="908.90" x2="684.90" y2="908.90" stroke="#000" stroke-width="1.6" />
<text x="674.40" y="918.50" font-size="27.5" text-anchor="end" font-weight="normal" fill="#000" >9</text>
<text x="674.40" y="1028.00" font-size="27.5" text-anchor="end" font-weight="normal" fill="#000" >0</text>
<text x="725.20" y="1052.60" font-size="27.7" text-anchor="middle" font-weight="normal" fill="#000" >L</text>
<text x="768.00" y="1052.60" font-size="27.7" text-anchor="middle" font-weight="normal" fill="#000" >R</text>
<rect x="894.40" y="913.60" width="31.3" height="104.80" fill="#f81ef8"/>
<rect x="937.40" y="965.60" width="31.3" height="52.80" fill="#5e1a62"/>
<line x1="910.20" y1="900.60" x2="910.20" y2="927.50" stroke="#000" stroke-width="2.2" />
<line x1="901.90" y1="900.60" x2="918.50" y2="900.60" stroke="#000" stroke-width="2.6" />
<line x1="901.90" y1="927.50" x2="918.50" y2="927.50" stroke="#000" stroke-width="2.6" />
<circle cx="910.20" cy="914.50" r="3.4" fill="#000"/>
<line x1="953.00" y1="954.50" x2="953.00" y2="977.10" stroke="#000" stroke-width="2.2" />
<line x1="944.70" y1="954.50" x2="961.30" y2="954.50" stroke="#000" stroke-width="2.6" />
<line x1="944.70" y1="977.10" x2="961.30" y2="977.10" stroke="#000" stroke-width="2.6" />
<circle cx="953.00" cy="966.30" r="3.4" fill="#000"/>
<line x1="867.40" y1="900.60" x2="867.40" y2="1018.40" stroke="#000" stroke-width="2.0" />
<line x1="866.40" y1="1018.40" x2="994.90" y2="1018.40" stroke="#000" stroke-width="2.0" />
<line x1="867.40" y1="900.60" x2="869.90" y2="900.60" stroke="#000" stroke-width="1.6" />
<text x="859.40" y="910.20" font-size="27.5" text-anchor="end" font-weight="normal" fill="#000" >8</text>
<text x="859.40" y="1028.00" font-size="27.5" text-anchor="end" font-weight="normal" fill="#000" >0</text>
<text x="910.20" y="1052.60" font-size="27.7" text-anchor="middle" font-weight="normal" fill="#000" >L</text>
<text x="953.00" y="1052.60" font-size="27.7" text-anchor="middle" font-weight="normal" fill="#000" >R</text>
<rect x="1080.00" y="914.50" width="31.3" height="103.90" fill="#f81ef8"/>
<rect x="1123.00" y="982.00" width="31.3" height="36.40" fill="#5e1a62"/>
<line x1="1095.80" y1="900.60" x2="1095.80" y2="929.50" stroke="#000" stroke-width="2.2" />
<line x1="1087.50" y1="900.60" x2="1104.10" y2="900.60" stroke="#000" stroke-width="2.6" />
<line x1="1087.50" y1="929.50" x2="1104.10" y2="929.50" stroke="#000" stroke-width="2.6" />
<circle cx="1095.80" cy="915.30" r="3.4" fill="#000"/>
<line x1="1138.60" y1="972.40" x2="1138.60" y2="992.50" stroke="#000" stroke-width="2.2" />
<line x1="1130.30" y1="972.40" x2="1146.90" y2="972.40" stroke="#000" stroke-width="2.6" />
<line x1="1130.30" y1="992.50" x2="1146.90" y2="992.50" stroke="#000" stroke-width="2.6" />
<circle cx="1138.60" cy="982.70" r="3.4" fill="#000"/>
<line x1="1053.00" y1="900.60" x2="1053.00" y2="1018.40" stroke="#000" stroke-width="2.0" />
<line x1="1052.00" y1="1018.40" x2="1180.50" y2="1018.40" stroke="#000" stroke-width="2.0" />
<line x1="1053.00" y1="914.80" x2="1055.50" y2="914.80" stroke="#000" stroke-width="1.6" />
<text x="1045.00" y="924.40" font-size="27.5" text-anchor="end" font-weight="normal" fill="#000" >7</text>
<text x="1045.00" y="1028.00" font-size="27.5" text-anchor="end" font-weight="normal" fill="#000" >0</text>
<text x="1095.80" y="1052.60" font-size="27.7" text-anchor="middle" font-weight="normal" fill="#000" >L</text>
<text x="1138.60" y="1052.60" font-size="27.7" text-anchor="middle" font-weight="normal" fill="#000" >R</text>
<rect x="1266.40" y="967.30" width="31.3" height="51.10" fill="#f81ef8"/>
<rect x="1309.40" y="925.60" width="31.3" height="92.80" fill="#5e1a62"/>
<line x1="1282.20" y1="957.00" x2="1282.20" y2="978.60" stroke="#000" stroke-width="2.2" />
<line x1="1273.90" y1="957.00" x2="1290.50" y2="957.00" stroke="#000" stroke-width="2.6" />
<line x1="1273.90" y1="978.60" x2="1290.50" y2="978.60" stroke="#000" stroke-width="2.6" />
<circle cx="1282.20" cy="968.00" r="3.4" fill="#000"/>
<line x1="1325.00" y1="900.60" x2="1325.00" y2="950.80" stroke="#000" stroke-width="2.2" />
<line x1="1316.70" y1="900.60" x2="1333.30" y2="900.60" stroke="#000" stroke-width="2.6" />
<line x1="1316.70" y1="950.80" x2="1333.30" y2="950.80" stroke="#000" stroke-width="2.6" />
<circle cx="1325.00" cy="926.30" r="3.4" fill="#000"/>
<line x1="1239.40" y1="900.60" x2="1239.40" y2="1018.40" stroke="#000" stroke-width="2.0" />
<line x1="1238.40" y1="1018.40" x2="1366.90" y2="1018.40" stroke="#000" stroke-width="2.0" />
<line x1="1239.40" y1="910.40" x2="1241.90" y2="910.40" stroke="#000" stroke-width="1.6" />
<text x="1231.40" y="920.00" font-size="27.5" text-anchor="end" font-weight="normal" fill="#000" >8</text>
<text x="1231.40" y="1028.00" font-size="27.5" text-anchor="end" font-weight="normal" fill="#000" >0</text>
<text x="1282.20" y="1052.60" font-size="27.7" text-anchor="middle" font-weight="normal" fill="#000" >L</text>
<text x="1325.00" y="1052.60" font-size="27.7" text-anchor="middle" font-weight="normal" fill="#000" >R</text>
<rect x="1451.60" y="943.00" width="31.3" height="75.40" fill="#f81ef8"/>
<rect x="1494.60" y="934.40" width="31.3" height="84.00" fill="#5e1a62"/>
<line x1="1467.40" y1="930.40" x2="1467.40" y2="957.40" stroke="#000" stroke-width="2.2" />
<line x1="1459.10" y1="930.40" x2="1475.70" y2="930.40" stroke="#000" stroke-width="2.6" />
<line x1="1459.10" y1="957.40" x2="1475.70" y2="957.40" stroke="#000" stroke-width="2.6" />
<circle cx="1467.40" cy="944.00" r="3.4" fill="#000"/>
<line x1="1510.20" y1="900.60" x2="1510.20" y2="969.40" stroke="#000" stroke-width="2.2" />
<line x1="1501.90" y1="900.60" x2="1518.50" y2="900.60" stroke="#000" stroke-width="2.6" />
<line x1="1501.90" y1="969.40" x2="1518.50" y2="969.40" stroke="#000" stroke-width="2.6" />
<circle cx="1510.20" cy="934.60" r="3.4" fill="#000"/>
<line x1="1424.60" y1="900.60" x2="1424.60" y2="1018.40" stroke="#000" stroke-width="2.0" />
<line x1="1423.60" y1="1018.40" x2="1552.10" y2="1018.40" stroke="#000" stroke-width="2.0" />
<line x1="1424.60" y1="909.60" x2="1427.10" y2="909.60" stroke="#000" stroke-width="1.6" />
<text x="1416.60" y="919.20" font-size="27.5" text-anchor="end" font-weight="normal" fill="#000" >4</text>
<text x="1416.60" y="1028.00" font-size="27.5" text-anchor="end" font-weight="normal" fill="#000" >0</text>
<text x="1467.40" y="1052.60" font-size="27.7" text-anchor="middle" font-weight="normal" fill="#000" >L</text>
<text x="1510.20" y="1052.60" font-size="27.7" text-anchor="middle" font-weight="normal" fill="#000" >R</text>
<rect x="1637.40" y="920.00" width="31.3" height="98.40" fill="#f81ef8"/>
<rect x="1680.40" y="976.60" width="31.3" height="41.80" fill="#5e1a62"/>
<line x1="1653.20" y1="900.60" x2="1653.20" y2="940.00" stroke="#000" stroke-width="2.2" />
<line x1="1644.90" y1="900.60" x2="1661.50" y2="900.60" stroke="#000" stroke-width="2.6" />
<line x1="1644.90" y1="940.00" x2="1661.50" y2="940.00" stroke="#000" stroke-width="2.6" />
<circle cx="1653.20" cy="920.60" r="3.4" fill="#000"/>
<line x1="1696.00" y1="963.60" x2="1696.00" y2="990.40" stroke="#000" stroke-width="2.2" />
<line x1="1687.70" y1="963.60" x2="1704.30" y2="963.60" stroke="#000" stroke-width="2.6" />
<line x1="1687.70" y1="990.40" x2="1704.30" y2="990.40" stroke="#000" stroke-width="2.6" />
<circle cx="1696.00" cy="977.00" r="3.4" fill="#000"/>
<line x1="1610.40" y1="900.60" x2="1610.40" y2="1018.40" stroke="#000" stroke-width="2.0" />
<line x1="1609.40" y1="1018.40" x2="1737.90" y2="1018.40" stroke="#000" stroke-width="2.0" />
<line x1="1610.40" y1="901.00" x2="1612.90" y2="901.00" stroke="#000" stroke-width="1.6" />
<text x="1602.40" y="910.60" font-size="27.5" text-anchor="end" font-weight="normal" fill="#000" >4</text>
<text x="1602.40" y="1028.00" font-size="27.5" text-anchor="end" font-weight="normal" fill="#000" >0</text>
<text x="1653.20" y="1052.60" font-size="27.7" text-anchor="middle" font-weight="normal" fill="#000" >L</text>
<text x="1696.00" y="1052.60" font-size="27.7" text-anchor="middle" font-weight="normal" fill="#000" >R</text>
<rect x="1822.40" y="916.40" width="31.3" height="102.00" fill="#f81ef8"/>
<rect x="1865.40" y="939.60" width="31.3" height="78.80" fill="#5e1a62"/>
<line x1="1838.20" y1="900.60" x2="1838.20" y2="933.40" stroke="#000" stroke-width="2.2" />
<line x1="1829.90" y1="900.60" x2="1846.50" y2="900.60" stroke="#000" stroke-width="2.6" />
<line x1="1829.90" y1="933.40" x2="1846.50" y2="933.40" stroke="#000" stroke-width="2.6" />
<circle cx="1838.20" cy="917.00" r="3.4" fill="#000"/>
<line x1="1881.00" y1="918.00" x2="1881.00" y2="962.00" stroke="#000" stroke-width="2.2" />
<line x1="1872.70" y1="918.00" x2="1889.30" y2="918.00" stroke="#000" stroke-width="2.6" />
<line x1="1872.70" y1="962.00" x2="1889.30" y2="962.00" stroke="#000" stroke-width="2.6" />
<circle cx="1881.00" cy="940.60" r="3.4" fill="#000"/>
<line x1="1795.40" y1="900.60" x2="1795.40" y2="1018.40" stroke="#000" stroke-width="2.0" />
<line x1="1794.40" y1="1018.40" x2="1922.90" y2="1018.40" stroke="#000" stroke-width="2.0" />
<line x1="1795.40" y1="913.00" x2="1797.90" y2="913.00" stroke="#000" stroke-width="1.6" />
<text x="1787.40" y="922.60" font-size="27.5" text-anchor="end" font-weight="normal" fill="#000" >3</text>
<text x="1787.40" y="1028.00" font-size="27.5" text-anchor="end" font-weight="normal" fill="#000" >0</text>
<text x="1838.20" y="1052.60" font-size="27.7" text-anchor="middle" font-weight="normal" fill="#000" >L</text>
<text x="1881.00" y="1052.60" font-size="27.7" text-anchor="middle" font-weight="normal" fill="#000" >R</text>
<rect x="2010.00" y="935.40" width="31.3" height="83.00" fill="#f81ef8"/>
<rect x="2053.00" y="926.40" width="31.3" height="92.00" fill="#5e1a62"/>
<line x1="2025.80" y1="913.40" x2="2025.80" y2="958.40" stroke="#000" stroke-width="2.2" />
<line x1="2017.50" y1="913.40" x2="2034.10" y2="913.40" stroke="#000" stroke-width="2.6" />
<line x1="2017.50" y1="958.40" x2="2034.10" y2="958.40" stroke="#000" stroke-width="2.6" />
<circle cx="2025.80" cy="936.00" r="3.4" fill="#000"/>
<line x1="2068.60" y1="901.00" x2="2068.60" y2="952.40" stroke="#000" stroke-width="2.2" />
<line x1="2060.30" y1="901.00" x2="2076.90" y2="901.00" stroke="#000" stroke-width="2.6" />
<line x1="2060.30" y1="952.40" x2="2076.90" y2="952.40" stroke="#000" stroke-width="2.6" />
<circle cx="2068.60" cy="927.00" r="3.4" fill="#000"/>
<line x1="1983.00" y1="900.60" x2="1983.00" y2="1018.40" stroke="#000" stroke-width="2.0" />
<line x1="1982.00" y1="1018.40" x2="2110.50" y2="1018.40" stroke="#000" stroke-width="2.0" />
<line x1="1983.00" y1="906.00" x2="1985.50" y2="906.00" stroke="#000" stroke-width="1.6" />
<text x="1975.00" y="915.60" font-size="27.5" text-anchor="end" font-weight="normal" fill="#000" >3</text>
<text x="1975.00" y="1028.00" font-size="27.5" text-anchor="end" font-weight="normal" fill="#000" >0</text>
<text x="2025.80" y="1052.60" font-size="27.7" text-anchor="middle" font-weight="normal" fill="#000" >L</text>
<text x="2068.60" y="1052.60" font-size="27.7" text-anchor="middle" font-weight="normal" fill="#000" >R</text>
<text x="370.00" y="176.00" font-size="27" text-anchor="start" font-weight="normal" fill="#000" >Delay</text>
<text x="370.00" y="479.20" font-size="27" text-anchor="start" font-weight="normal" fill="#000" >Delay</text>
<text x="374.50" y="1117.60" font-size="27" text-anchor="start" font-weight="normal" fill="#000" >Delay</text>
<text x="374.50" y="1419.60" font-size="27" text-anchor="start" font-weight="normal" fill="#000" >Delay</text>
<text x="261.00" y="759.60" font-size="27.7" text-anchor="start" font-weight="normal" fill="#000" >Time to Go cue (s)</text>
<text x="261.00" y="1700.00" font-size="27.7" text-anchor="start" font-weight="normal" fill="#000" >Time to Go cue (s)</text>
<text transform="translate(226.50,274.00) rotate(-90)" font-size="27.7" text-anchor="middle">Correct trials</text>
<text transform="translate(226.50,578.40) rotate(-90)" font-size="27.7" text-anchor="middle">Error trials</text>
<text transform="translate(226.50,1213.00) rotate(-90)" font-size="27.7" text-anchor="middle">Correct trials</text>
<text transform="translate(226.50,1519.00) rotate(-90)" font-size="27.7" text-anchor="middle">Error trials</text>
<text transform="translate(289.00,276.00) rotate(-90)" font-size="27.7" text-anchor="middle">Spikes s<tspan font-size="27" dy="-11.5">-1</tspan></text>
<text transform="translate(291.00,576.00) rotate(-90)" font-size="27.7" text-anchor="middle">Spikes s<tspan font-size="27" dy="-11.5">-1</tspan></text>
<text transform="translate(291.00,1213.00) rotate(-90)" font-size="27.7" text-anchor="middle">Spikes s<tspan font-size="27" dy="-11.5">-1</tspan></text>
<text transform="translate(295.00,1519.00) rotate(-90)" font-size="27.7" text-anchor="middle">Spikes s<tspan font-size="27" dy="-11.5">-1</tspan></text>
<text transform="translate(222.0,966.8) rotate(-90)" font-size="27" text-anchor="middle">% cells in</text>
<text transform="translate(254.0,966.8) rotate(-90)" font-size="27" text-anchor="middle">hemisphere</text>
<text x="31.00" y="90.80" font-size="27.7" text-anchor="start" font-weight="bold" fill="#2fe02f" >vS1 left</text>
<text x="26.30" y="907.80" font-size="27.7" text-anchor="start" font-weight="bold" fill="#ee1fee" >ALM left</text>
<text x="27.00" y="1137.40" font-size="27.7" text-anchor="start" font-weight="bold" fill="#5a1a6a" >ALM right</text>
<g transform="translate(0.00,0.00)" fill="none" stroke="#858585" stroke-width="3" stroke-linejoin="round" stroke-linecap="round">
<path d="M78.2,163 C77.8,154 78.5,148.5 82,147 C85,145.6 90,145.3 93,146.3 C95,147.2 95.2,151 95,157 M95,157 C95,150 95.5,147 98,146.2 C101,145.3 106,145.4 108.5,146.8 C111,148.5 111.6,154 111.5,161"/>
<path d="M54.4,244 C54,252 54,260 57.5,265 C66,269 80,270.5 95,270.5 C110,270.5 122,269.5 128.5,267 C133,262 134,252 134,242.5"/>
<path d="M95,157.9 C87,159 77,163.5 70,171 C62,179 54,190 50,203 C47,214 47.5,228 50,238 C52,244 60,245.5 70,247 C78,248.5 86,249 89,247 C93,244.5 94.5,240 95,236 C95.5,240 97,244.5 100,247 C104,249 112,248 118,246 C126,244 132,242 135.7,237 C139,230 139.5,218 138.6,208 C137,195 132,184 125,177 C116,168 105,161 95,157.9 Z" fill="#fff"/>
<path d="M95,157.9 C94.5,180 94.3,210 94.8,236"/>
<path d="M55,247.5 C68,248.5 82,250.5 95,250.5 C108,250.5 122,248.5 133.5,245"/>
</g>
<g transform="translate(0.00,814.50)" fill="none" stroke="#858585" stroke-width="3" stroke-linejoin="round" stroke-linecap="round">
<path d="M78.2,163 C77.8,154 78.5,148.5 82,147 C85,145.6 90,145.3 93,146.3 C95,147.2 95.2,151 95,157 M95,157 C95,150 95.5,147 98,146.2 C101,145.3 106,145.4 108.5,146.8 C111,148.5 111.6,154 111.5,161"/>
<path d="M54.4,244 C54,252 54,260 57.5,265 C66,269 80,270.5 95,270.5 C110,270.5 122,269.5 128.5,267 C133,262 134,252 134,242.5"/>
<path d="M95,157.9 C87,159 77,163.5 70,171 C62,179 54,190 50,203 C47,214 47.5,228 50,238 C52,244 60,245.5 70,247 C78,248.5 86,249 89,247 C93,244.5 94.5,240 95,236 C95.5,240 97,244.5 100,247 C104,249 112,248 118,246 C126,244 132,242 135.7,237 C139,230 139.5,218 138.6,208 C137,195 132,184 125,177 C116,168 105,161 95,157.9 Z" fill="#fff"/>
<path d="M95,157.9 C94.5,180 94.3,210 94.8,236"/>
<path d="M55,247.5 C68,248.5 82,250.5 95,250.5 C108,250.5 122,248.5 133.5,245"/>
</g>
<g transform="translate(9.80,1042.60)" fill="none" stroke="#858585" stroke-width="3" stroke-linejoin="round" stroke-linecap="round">
<path d="M78.2,163 C77.8,154 78.5,148.5 82,147 C85,145.6 90,145.3 93,146.3 C95,147.2 95.2,151 95,157 M95,157 C95,150 95.5,147 98,146.2 C101,145.3 106,145.4 108.5,146.8 C111,148.5 111.6,154 111.5,161"/>
<path d="M54.4,244 C54,252 54,260 57.5,265 C66,269 80,270.5 95,270.5 C110,270.5 122,269.5 128.5,267 C133,262 134,252 134,242.5"/>
<path d="M95,157.9 C87,159 77,163.5 70,171 C62,179 54,190 50,203 C47,214 47.5,228 50,238 C52,244 60,245.5 70,247 C78,248.5 86,249 89,247 C93,244.5 94.5,240 95,236 C95.5,240 97,244.5 100,247 C104,249 112,248 118,246 C126,244 132,242 135.7,237 C139,230 139.5,218 138.6,208 C137,195 132,184 125,177 C116,168 105,161 95,157.9 Z" fill="#fff"/>
<path d="M95,157.9 C94.5,180 94.3,210 94.8,236"/>
<path d="M55,247.5 C68,248.5 82,250.5 95,250.5 C108,250.5 122,248.5 133.5,245"/>
</g>
<g fill="none" stroke="#000" stroke-width="2.3" stroke-linejoin="miter">
<path d="M13.9,116.7 L28.6,116.7 M45,116.7 L63.7,116.7 L63.7,144"/>
<path d="M28.6,116.7 L45,109.7 L45,123.7 Z" fill="#fff"/>
</g>
<path d="M58.2,143.5 L58.2,199 L63.7,205.3 L68.8,199 L68.8,143.5" fill="#fff" stroke="#000" stroke-width="2.2"/>
<circle cx="63.7" cy="149.4" r="2.5" fill="#000"/>
<circle cx="63.7" cy="156.6" r="2.5" fill="#000"/>
<circle cx="63.7" cy="163.8" r="2.5" fill="#000"/>
<circle cx="63.7" cy="171.0" r="2.5" fill="#000"/>
<circle cx="63.7" cy="178.2" r="2.5" fill="#000"/>
<circle cx="63.7" cy="185.4" r="2.5" fill="#000"/>
<circle cx="63.7" cy="192.6" r="2.5" fill="#000"/>
<path d="M7.3,173.2 L27.3,163.3 L38.6,178.0 L35.7,179.5 L46.2,191.6 L43.6,192.7 L57.8,212.1 L55.7,213.7 L29.4,197.4 L32.0,196.4 L18.3,185.9 L21.0,183.8 Z" fill="#17abeb"/>
<circle cx="64.6" cy="214.2" r="6.6" fill="#17abeb" stroke="#000" stroke-width="2.6"/>
<g fill="none" stroke="#000" stroke-width="2.3" stroke-linejoin="miter">
<path d="M11,930.5 L21,930.5 M36.8,930.5 L43.1,930.5 L43.1,949.4"/>
<path d="M21,930.5 L36.8,923.1 L36.8,937.9 Z" fill="#fff"/>
</g>
<path d="M46.8,944.7 L77.8,973.1 L79.9,979.6 L69.4,979.4 L39.4,952.6" fill="#fff" stroke="#000" stroke-width="2.3" stroke-linejoin="miter"/>
<circle cx="48.4" cy="954.7" r="2.5" fill="#000"/>
<circle cx="53.8" cy="959.3" r="2.5" fill="#000"/>
<circle cx="59.1" cy="963.9" r="2.5" fill="#000"/>
<circle cx="64.4" cy="968.5" r="2.5" fill="#000"/>
<circle cx="69.8" cy="973.1" r="2.5" fill="#000"/>
<circle cx="85.7" cy="987.3" r="5.6" fill="#fff" stroke="#000" stroke-width="2.5"/>
<path d="M8.4,986.7 L28.4,976.8 L39.7,991.5 L36.8,993.0 L47.3,1005.1 L44.7,1006.2 L58.9,1025.6 L56.8,1027.2 L30.5,1010.9 L33.1,1009.9 L19.4,999.4 L22.1,997.3 Z" fill="#17abeb"/>
<circle cx="65.7" cy="1027.7" r="6.6" fill="#17abeb" stroke="#000" stroke-width="2.6"/>
<g fill="none" stroke="#000" stroke-width="2.3" stroke-linejoin="miter">
<path d="M19.7,1158.6 L35,1158.6 M51.8,1158.6 L70.8,1158.6 L70.8,1174.7"/>
<path d="M35,1158.6 L51.8,1151.0 L51.8,1166.1999999999998 Z" fill="#fff"/>
</g>
<path d="M73,1172.5 L104.4,1200.5 L108,1208.5 L97.8,1208.2 L65.7,1180.5" fill="#fff" stroke="#000" stroke-width="2.3" stroke-linejoin="miter"/>
<circle cx="75.2" cy="1182.0" r="2.5" fill="#000"/>
<circle cx="80.5" cy="1186.6" r="2.5" fill="#000"/>
<circle cx="85.8" cy="1191.2" r="2.5" fill="#000"/>
<circle cx="91.1" cy="1195.8" r="2.5" fill="#000"/>
<circle cx="96.4" cy="1200.4" r="2.5" fill="#000"/>
<circle cx="114.6" cy="1214.8" r="5.6" fill="#fff" stroke="#000" stroke-width="2.5"/>
<path d="M17.2,1215.4 L37.2,1205.5 L48.5,1220.2 L45.6,1221.7 L56.1,1233.8 L53.5,1234.9 L67.7,1254.3 L65.6,1255.9 L39.3,1239.6 L41.9,1238.6 L28.2,1228.1 L30.9,1226.0 Z" fill="#17abeb"/>
<circle cx="74.5" cy="1256.4" r="6.6" fill="#17abeb" stroke="#000" stroke-width="2.6"/>
</svg>
</body></html>
